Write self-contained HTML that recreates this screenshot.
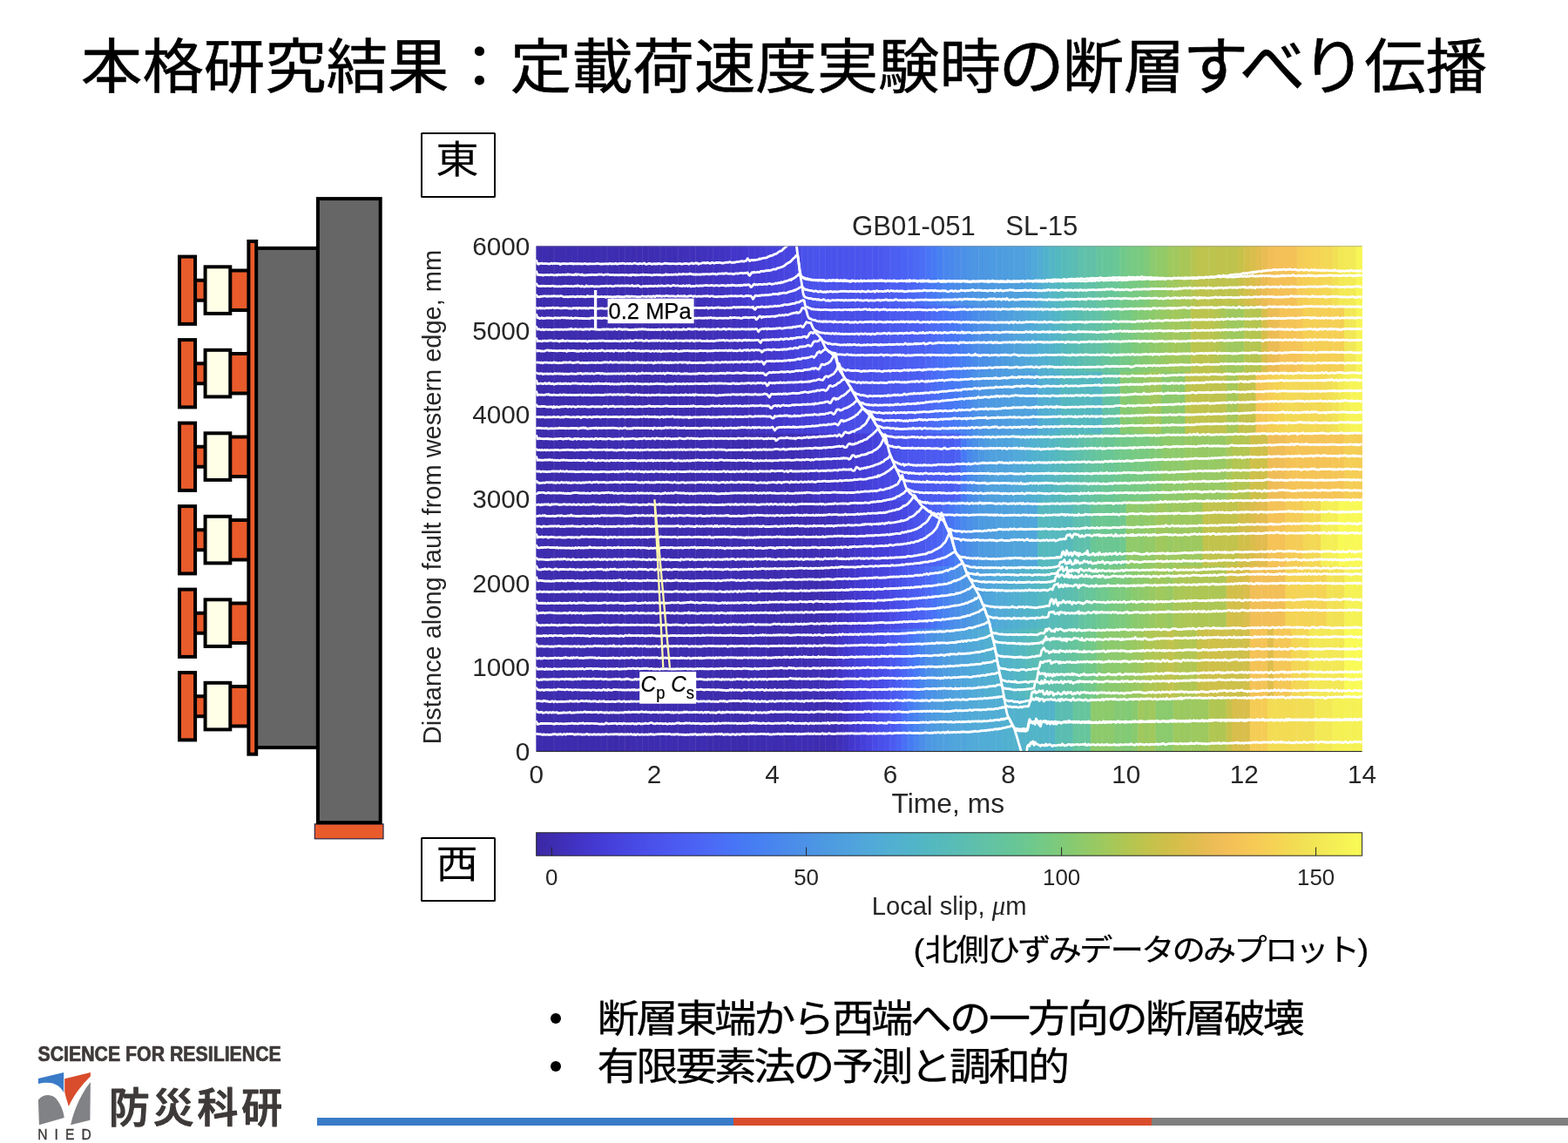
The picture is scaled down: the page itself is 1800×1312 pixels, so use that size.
<!DOCTYPE html>
<html lang="ja">
<head>
<meta charset="utf-8">
<title>本格研究結果：定載荷速度実験時の断層すべり伝播</title>
<style>
html,body{margin:0;padding:0;background:#fff;}
body{width:1800px;height:1312px;position:relative;overflow:hidden;font-family:"Liberation Sans","Noto Sans CJK JP",sans-serif;color:#000;}
.abs{position:absolute;white-space:nowrap;}
#title{left:0;top:24.4px;width:1800px;text-align:center;font-size:67.7px;line-height:104px;letter-spacing:0;transform:scaleX(1.04);transform-origin:899.5px 50%;-webkit-text-stroke:0.55px #000;}
.dirbox{border:2px solid #000;border-radius:1.5px;box-sizing:border-box;width:86px;height:75px;font-size:48px;line-height:66px;text-align:center;background:#fff;}
#east{left:483px;top:152px;}
#west{left:483px;top:961px;height:74px;line-height:65px;}
#title .k{font-size:73px;letter-spacing:-5.3px;margin-left:-2.6px;margin-right:2.7px;position:relative;top:1px;}
#caption{-webkit-text-stroke:0.25px #000;left:1048.5px;top:1063px;font-size:38.5px;line-height:56px;letter-spacing:-3.05px;transform:scaleY(0.93);transform-origin:0 50%;}
#bullets{left:620px;top:1141px;font-size:45px;line-height:55px;}
#bullets .bl{-webkit-text-stroke:0.3px #000;padding-left:65.5px;font-size:48px;letter-spacing:-3.05px;height:55px;transform:translateY(1.5px) scaleY(0.935);transform-origin:0 50%;}
#bullets .b{position:absolute;left:11.5px;width:12.5px;height:12.5px;border-radius:50%;background:#000;}
#bar{left:364px;top:1283px;height:9px;width:1436px;}
#bar i{position:absolute;top:0;height:100%;display:block;}
#logo{left:0;top:1190px;width:340px;height:122px;color:#3c3c3c;}
svg{position:absolute;left:0;top:0;overflow:visible;}
svg text{font-family:"Liberation Sans","Noto Sans CJK JP",sans-serif;}
.tr path{fill:none;stroke:#fff;stroke-width:2.8px;stroke-linejoin:round;stroke-linecap:round;vector-effect:non-scaling-stroke;}
</style>
</head>
<body>
<div id="title" class="abs">本格研究結果：定載荷速度実験時<span class="k">の</span>断層<span class="k">すべり</span>伝播</div>
<div id="east" class="abs dirbox"><span style="display:inline-block;transform:translate(-1.1px,-2.9px) scale(1.037,0.923)">東</span></div>
<div id="west" class="abs dirbox"><span style="display:inline-block;transform:translate(-1.3px,-2.8px) scale(1.007,0.94)">西</span></div>
<svg width="1800" height="1312" viewBox="0 0 1800 1312" style="pointer-events:none"><rect x="224.00" y="321.70" width="12.00" height="23.00" fill="#e95b2b"/><path d="M224.00 321.70H236.00M224.00 344.70H236.00" stroke="#000" stroke-width="4" fill="none"/><rect x="264.00" y="310.60" width="21.50" height="45.40" fill="#e95b2b"/><path d="M264.00 310.60H285.50M264.00 356.00H285.50" stroke="#000" stroke-width="4" fill="none"/><rect x="206.00" y="294.60" width="18.10" height="77.30" fill="#e95b2b" stroke="#000" stroke-width="4"/><rect x="235.60" y="306.30" width="28.70" height="53.60" fill="#ffffe8" stroke="#000" stroke-width="4"/><rect x="224.00" y="417.20" width="12.00" height="23.00" fill="#e95b2b"/><path d="M224.00 417.20H236.00M224.00 440.20H236.00" stroke="#000" stroke-width="4" fill="none"/><rect x="264.00" y="406.10" width="21.50" height="45.40" fill="#e95b2b"/><path d="M264.00 406.10H285.50M264.00 451.50H285.50" stroke="#000" stroke-width="4" fill="none"/><rect x="206.00" y="390.10" width="18.10" height="77.30" fill="#e95b2b" stroke="#000" stroke-width="4"/><rect x="235.60" y="401.80" width="28.70" height="53.60" fill="#ffffe8" stroke="#000" stroke-width="4"/><rect x="224.00" y="512.70" width="12.00" height="23.00" fill="#e95b2b"/><path d="M224.00 512.70H236.00M224.00 535.70H236.00" stroke="#000" stroke-width="4" fill="none"/><rect x="264.00" y="501.60" width="21.50" height="45.40" fill="#e95b2b"/><path d="M264.00 501.60H285.50M264.00 547.00H285.50" stroke="#000" stroke-width="4" fill="none"/><rect x="206.00" y="485.60" width="18.10" height="77.30" fill="#e95b2b" stroke="#000" stroke-width="4"/><rect x="235.60" y="497.30" width="28.70" height="53.60" fill="#ffffe8" stroke="#000" stroke-width="4"/><rect x="224.00" y="608.20" width="12.00" height="23.00" fill="#e95b2b"/><path d="M224.00 608.20H236.00M224.00 631.20H236.00" stroke="#000" stroke-width="4" fill="none"/><rect x="264.00" y="597.10" width="21.50" height="45.40" fill="#e95b2b"/><path d="M264.00 597.10H285.50M264.00 642.50H285.50" stroke="#000" stroke-width="4" fill="none"/><rect x="206.00" y="581.10" width="18.10" height="77.30" fill="#e95b2b" stroke="#000" stroke-width="4"/><rect x="235.60" y="592.80" width="28.70" height="53.60" fill="#ffffe8" stroke="#000" stroke-width="4"/><rect x="224.00" y="703.70" width="12.00" height="23.00" fill="#e95b2b"/><path d="M224.00 703.70H236.00M224.00 726.70H236.00" stroke="#000" stroke-width="4" fill="none"/><rect x="264.00" y="692.60" width="21.50" height="45.40" fill="#e95b2b"/><path d="M264.00 692.60H285.50M264.00 738.00H285.50" stroke="#000" stroke-width="4" fill="none"/><rect x="206.00" y="676.60" width="18.10" height="77.30" fill="#e95b2b" stroke="#000" stroke-width="4"/><rect x="235.60" y="688.30" width="28.70" height="53.60" fill="#ffffe8" stroke="#000" stroke-width="4"/><rect x="224.00" y="799.20" width="12.00" height="23.00" fill="#e95b2b"/><path d="M224.00 799.20H236.00M224.00 822.20H236.00" stroke="#000" stroke-width="4" fill="none"/><rect x="264.00" y="788.10" width="21.50" height="45.40" fill="#e95b2b"/><path d="M264.00 788.10H285.50M264.00 833.50H285.50" stroke="#000" stroke-width="4" fill="none"/><rect x="206.00" y="772.10" width="18.10" height="77.30" fill="#e95b2b" stroke="#000" stroke-width="4"/><rect x="235.60" y="783.80" width="28.70" height="53.60" fill="#ffffe8" stroke="#000" stroke-width="4"/><rect x="293.20" y="284.90" width="71.70" height="573.20" fill="#666666" stroke="#000" stroke-width="4"/><rect x="285.40" y="277.00" width="8.80" height="588.70" fill="#e95b2b" stroke="#000" stroke-width="4"/><rect x="361.30" y="945.90" width="78.70" height="16.90" fill="#e95b2b" stroke="#2b2340" stroke-width="1.2"/><rect x="364.90" y="228.10" width="71.80" height="716.10" fill="#666666" stroke="#000" stroke-width="4"/></svg>
<svg width="1800" height="1312" viewBox="0 0 1800 1312"><defs><linearGradient id="hb0" gradientUnits="userSpaceOnUse" x1="615.7" y1="0" x2="1563.6" y2="0"><stop offset="0" stop-color="#3d2bae"/><stop offset="0.02128" stop-color="#3d2baf"/><stop offset="0.04255" stop-color="#3d2caf"/><stop offset="0.06383" stop-color="#3d2cb0"/><stop offset="0.08511" stop-color="#3d2cb0"/><stop offset="0.1064" stop-color="#3e2db2"/><stop offset="0.1277" stop-color="#3e2eb4"/><stop offset="0.1489" stop-color="#3e2eb6"/><stop offset="0.1702" stop-color="#3f2fb8"/><stop offset="0.1915" stop-color="#3f30ba"/><stop offset="0.2128" stop-color="#4132c1"/><stop offset="0.234" stop-color="#4236c9"/><stop offset="0.2553" stop-color="#4339d0"/><stop offset="0.2766" stop-color="#453dd7"/><stop offset="0.2979" stop-color="#4643de"/><stop offset="0.3191" stop-color="#484be6"/><stop offset="0.3404" stop-color="#4a53ec"/><stop offset="0.3617" stop-color="#4a54ed"/><stop offset="0.383" stop-color="#4a55ed"/><stop offset="0.4043" stop-color="#4a56ee"/><stop offset="0.4255" stop-color="#4b5bf1"/><stop offset="0.4468" stop-color="#4b63f4"/><stop offset="0.4681" stop-color="#496ff6"/><stop offset="0.4894" stop-color="#4780f2"/><stop offset="0.5106" stop-color="#4a8dea"/><stop offset="0.5319" stop-color="#4c95e4"/><stop offset="0.5532" stop-color="#4d9be0"/><stop offset="0.5745" stop-color="#4e9edf"/><stop offset="0.5957" stop-color="#50a5db"/><stop offset="0.617" stop-color="#52b2cd"/><stop offset="0.6383" stop-color="#56babc"/><stop offset="0.6596" stop-color="#5dbfaf"/><stop offset="0.6809" stop-color="#62c2a3"/><stop offset="0.7021" stop-color="#6ac794"/><stop offset="0.7234" stop-color="#7aca7e"/><stop offset="0.7447" stop-color="#89ca6f"/><stop offset="0.766" stop-color="#9dc95f"/><stop offset="0.7872" stop-color="#a7c758"/><stop offset="0.8085" stop-color="#bec34d"/><stop offset="0.8298" stop-color="#bec34d"/><stop offset="0.8511" stop-color="#c3c24b"/><stop offset="0.8723" stop-color="#debd4c"/><stop offset="0.8936" stop-color="#f4c057"/><stop offset="0.9149" stop-color="#f4c157"/><stop offset="0.9362" stop-color="#f5d054"/><stop offset="0.9574" stop-color="#f4d854"/><stop offset="0.9787" stop-color="#f3e955"/><stop offset="1" stop-color="#f7f556"/></linearGradient><linearGradient id="hb1" gradientUnits="userSpaceOnUse" x1="615.7" y1="0" x2="1563.6" y2="0"><stop offset="0" stop-color="#3d2bae"/><stop offset="0.02128" stop-color="#3d2bae"/><stop offset="0.04255" stop-color="#3d2baf"/><stop offset="0.06383" stop-color="#3d2caf"/><stop offset="0.08511" stop-color="#3d2caf"/><stop offset="0.1064" stop-color="#3d2caf"/><stop offset="0.1277" stop-color="#3d2cb0"/><stop offset="0.1489" stop-color="#3d2cb0"/><stop offset="0.1702" stop-color="#3d2cb0"/><stop offset="0.1915" stop-color="#3e2db4"/><stop offset="0.2128" stop-color="#3f2fb8"/><stop offset="0.234" stop-color="#4031bc"/><stop offset="0.2553" stop-color="#4032c1"/><stop offset="0.2766" stop-color="#4236ca"/><stop offset="0.2979" stop-color="#443ad3"/><stop offset="0.3191" stop-color="#4642dd"/><stop offset="0.3404" stop-color="#4849e5"/><stop offset="0.3617" stop-color="#494ce7"/><stop offset="0.383" stop-color="#494fe9"/><stop offset="0.4043" stop-color="#4a52eb"/><stop offset="0.4255" stop-color="#4a57ee"/><stop offset="0.4468" stop-color="#4b5cf1"/><stop offset="0.4681" stop-color="#4b60f3"/><stop offset="0.4894" stop-color="#4a6ff6"/><stop offset="0.5106" stop-color="#4778f4"/><stop offset="0.5319" stop-color="#4a8beb"/><stop offset="0.5532" stop-color="#4c96e3"/><stop offset="0.5745" stop-color="#4e9fde"/><stop offset="0.5957" stop-color="#50a8d9"/><stop offset="0.617" stop-color="#51b1ce"/><stop offset="0.6383" stop-color="#54b8c0"/><stop offset="0.6596" stop-color="#5bbeb1"/><stop offset="0.6809" stop-color="#63c3a2"/><stop offset="0.7021" stop-color="#6cc890"/><stop offset="0.7234" stop-color="#7bca7d"/><stop offset="0.7447" stop-color="#8aca6e"/><stop offset="0.766" stop-color="#99c962"/><stop offset="0.7872" stop-color="#9ac961"/><stop offset="0.8085" stop-color="#bbc44e"/><stop offset="0.8298" stop-color="#abc755"/><stop offset="0.8511" stop-color="#9dc95f"/><stop offset="0.8723" stop-color="#b4c551"/><stop offset="0.8936" stop-color="#ebbc54"/><stop offset="0.9149" stop-color="#f5c356"/><stop offset="0.9362" stop-color="#f5d054"/><stop offset="0.9574" stop-color="#f5d054"/><stop offset="0.9787" stop-color="#f2e354"/><stop offset="1" stop-color="#f7f556"/></linearGradient><linearGradient id="hb2" gradientUnits="userSpaceOnUse" x1="615.7" y1="0" x2="1563.6" y2="0"><stop offset="0" stop-color="#3d2bae"/><stop offset="0.02128" stop-color="#3d2bae"/><stop offset="0.04255" stop-color="#3d2baf"/><stop offset="0.06383" stop-color="#3d2caf"/><stop offset="0.08511" stop-color="#3d2caf"/><stop offset="0.1064" stop-color="#3d2caf"/><stop offset="0.1277" stop-color="#3d2cb0"/><stop offset="0.1489" stop-color="#3d2cb0"/><stop offset="0.1702" stop-color="#3d2cb0"/><stop offset="0.1915" stop-color="#3d2cb0"/><stop offset="0.2128" stop-color="#3e2db3"/><stop offset="0.234" stop-color="#3e2fb7"/><stop offset="0.2553" stop-color="#3f30ba"/><stop offset="0.2766" stop-color="#4133c4"/><stop offset="0.2979" stop-color="#4337cd"/><stop offset="0.3191" stop-color="#443cd5"/><stop offset="0.3404" stop-color="#4641dc"/><stop offset="0.3617" stop-color="#4746e2"/><stop offset="0.383" stop-color="#484ce6"/><stop offset="0.4043" stop-color="#4951ea"/><stop offset="0.4255" stop-color="#4a56ee"/><stop offset="0.4468" stop-color="#4b59f0"/><stop offset="0.4681" stop-color="#4b60f3"/><stop offset="0.4894" stop-color="#4872f6"/><stop offset="0.5106" stop-color="#467cf3"/><stop offset="0.5319" stop-color="#4b90e7"/><stop offset="0.5532" stop-color="#4d99e1"/><stop offset="0.5745" stop-color="#4e9edf"/><stop offset="0.5957" stop-color="#4fa1de"/><stop offset="0.617" stop-color="#51afd1"/><stop offset="0.6383" stop-color="#54b8c0"/><stop offset="0.6596" stop-color="#55b9be"/><stop offset="0.6809" stop-color="#53b6c5"/><stop offset="0.7021" stop-color="#64c3a0"/><stop offset="0.7234" stop-color="#86ca72"/><stop offset="0.7447" stop-color="#93ca67"/><stop offset="0.766" stop-color="#8dca6b"/><stop offset="0.7872" stop-color="#8dca6b"/><stop offset="0.8085" stop-color="#c1c34c"/><stop offset="0.8298" stop-color="#c1c34c"/><stop offset="0.8511" stop-color="#c1c34c"/><stop offset="0.8723" stop-color="#f0bd57"/><stop offset="0.8936" stop-color="#f5d054"/><stop offset="0.9149" stop-color="#f4d854"/><stop offset="0.9362" stop-color="#f3d854"/><stop offset="0.9574" stop-color="#f3db54"/><stop offset="0.9787" stop-color="#f4ed55"/><stop offset="1" stop-color="#f7f556"/></linearGradient><linearGradient id="hb3" gradientUnits="userSpaceOnUse" x1="615.7" y1="0" x2="1563.6" y2="0"><stop offset="0" stop-color="#3d2bae"/><stop offset="0.02128" stop-color="#3d2bae"/><stop offset="0.04255" stop-color="#3d2baf"/><stop offset="0.06383" stop-color="#3d2baf"/><stop offset="0.08511" stop-color="#3d2caf"/><stop offset="0.1064" stop-color="#3d2caf"/><stop offset="0.1277" stop-color="#3d2caf"/><stop offset="0.1489" stop-color="#3d2caf"/><stop offset="0.1702" stop-color="#3d2cb0"/><stop offset="0.1915" stop-color="#3d2cb0"/><stop offset="0.2128" stop-color="#3d2cb0"/><stop offset="0.234" stop-color="#3d2cb0"/><stop offset="0.2553" stop-color="#3d2cb0"/><stop offset="0.2766" stop-color="#3d2db1"/><stop offset="0.2979" stop-color="#3e2db3"/><stop offset="0.3191" stop-color="#3e2eb6"/><stop offset="0.3404" stop-color="#4032c0"/><stop offset="0.3617" stop-color="#4235c8"/><stop offset="0.383" stop-color="#4339cf"/><stop offset="0.4043" stop-color="#453fda"/><stop offset="0.4255" stop-color="#4849e4"/><stop offset="0.4468" stop-color="#4a54ed"/><stop offset="0.4681" stop-color="#4b58ef"/><stop offset="0.4894" stop-color="#4b5bf1"/><stop offset="0.5106" stop-color="#4b63f4"/><stop offset="0.5319" stop-color="#4b8fe8"/><stop offset="0.5532" stop-color="#4fa0de"/><stop offset="0.5745" stop-color="#50a5db"/><stop offset="0.5957" stop-color="#51aed3"/><stop offset="0.617" stop-color="#52b5c7"/><stop offset="0.6383" stop-color="#57bbb9"/><stop offset="0.6596" stop-color="#5fc0aa"/><stop offset="0.6809" stop-color="#66c59c"/><stop offset="0.7021" stop-color="#6ec88e"/><stop offset="0.7234" stop-color="#7aca7f"/><stop offset="0.7447" stop-color="#86ca72"/><stop offset="0.766" stop-color="#93ca67"/><stop offset="0.7872" stop-color="#97c964"/><stop offset="0.8085" stop-color="#97c964"/><stop offset="0.8298" stop-color="#97c964"/><stop offset="0.8511" stop-color="#b1c652"/><stop offset="0.8723" stop-color="#d0bf4a"/><stop offset="0.8936" stop-color="#efbd57"/><stop offset="0.9149" stop-color="#f5c356"/><stop offset="0.9362" stop-color="#f5c456"/><stop offset="0.9574" stop-color="#f5c456"/><stop offset="0.9787" stop-color="#f5cd55"/><stop offset="1" stop-color="#f5ce54"/></linearGradient><linearGradient id="hb4" gradientUnits="userSpaceOnUse" x1="615.7" y1="0" x2="1563.6" y2="0"><stop offset="0" stop-color="#3d2bae"/><stop offset="0.02128" stop-color="#3d2bae"/><stop offset="0.04255" stop-color="#3d2baf"/><stop offset="0.06383" stop-color="#3d2baf"/><stop offset="0.08511" stop-color="#3d2caf"/><stop offset="0.1064" stop-color="#3d2caf"/><stop offset="0.1277" stop-color="#3d2caf"/><stop offset="0.1489" stop-color="#3d2caf"/><stop offset="0.1702" stop-color="#3d2caf"/><stop offset="0.1915" stop-color="#3d2cb0"/><stop offset="0.2128" stop-color="#3d2cb0"/><stop offset="0.234" stop-color="#3d2cb0"/><stop offset="0.2553" stop-color="#3d2cb0"/><stop offset="0.2766" stop-color="#3d2cb0"/><stop offset="0.2979" stop-color="#3d2cb0"/><stop offset="0.3191" stop-color="#3d2cb0"/><stop offset="0.3404" stop-color="#3e2db4"/><stop offset="0.3617" stop-color="#3f30ba"/><stop offset="0.383" stop-color="#4134c5"/><stop offset="0.4043" stop-color="#4339d0"/><stop offset="0.4255" stop-color="#453fda"/><stop offset="0.4468" stop-color="#484ae5"/><stop offset="0.4681" stop-color="#4b57ef"/><stop offset="0.4894" stop-color="#4b66f4"/><stop offset="0.5106" stop-color="#477ff2"/><stop offset="0.5319" stop-color="#4c95e4"/><stop offset="0.5532" stop-color="#4e9fdf"/><stop offset="0.5745" stop-color="#4fa3dd"/><stop offset="0.5957" stop-color="#4fa4dc"/><stop offset="0.617" stop-color="#54b8bf"/><stop offset="0.6383" stop-color="#55b9be"/><stop offset="0.6596" stop-color="#5fc0ab"/><stop offset="0.6809" stop-color="#6ac793"/><stop offset="0.7021" stop-color="#6bc792"/><stop offset="0.7234" stop-color="#8bca6d"/><stop offset="0.7447" stop-color="#8dca6b"/><stop offset="0.766" stop-color="#9fc95e"/><stop offset="0.7872" stop-color="#a1c85c"/><stop offset="0.8085" stop-color="#b6c550"/><stop offset="0.8298" stop-color="#c1c34c"/><stop offset="0.8511" stop-color="#d3bf4a"/><stop offset="0.8723" stop-color="#e3bc4f"/><stop offset="0.8936" stop-color="#f5c356"/><stop offset="0.9149" stop-color="#f5cc55"/><stop offset="0.9362" stop-color="#f4d754"/><stop offset="0.9574" stop-color="#f5f055"/><stop offset="0.9787" stop-color="#f9f956"/><stop offset="1" stop-color="#f9f956"/></linearGradient><linearGradient id="hb5" gradientUnits="userSpaceOnUse" x1="615.7" y1="0" x2="1563.6" y2="0"><stop offset="0" stop-color="#3d2bae"/><stop offset="0.02128" stop-color="#3d2bae"/><stop offset="0.04255" stop-color="#3d2baf"/><stop offset="0.06383" stop-color="#3d2baf"/><stop offset="0.08511" stop-color="#3d2caf"/><stop offset="0.1064" stop-color="#3d2caf"/><stop offset="0.1277" stop-color="#3d2caf"/><stop offset="0.1489" stop-color="#3d2caf"/><stop offset="0.1702" stop-color="#3d2caf"/><stop offset="0.1915" stop-color="#3d2cb0"/><stop offset="0.2128" stop-color="#3d2cb0"/><stop offset="0.234" stop-color="#3d2cb0"/><stop offset="0.2553" stop-color="#3d2cb0"/><stop offset="0.2766" stop-color="#3d2cb0"/><stop offset="0.2979" stop-color="#3d2cb0"/><stop offset="0.3191" stop-color="#3d2cb0"/><stop offset="0.3404" stop-color="#3d2cb0"/><stop offset="0.3617" stop-color="#4031bd"/><stop offset="0.383" stop-color="#4236ca"/><stop offset="0.4043" stop-color="#453ed8"/><stop offset="0.4255" stop-color="#4746e2"/><stop offset="0.4468" stop-color="#4a54ed"/><stop offset="0.4681" stop-color="#4b62f3"/><stop offset="0.4894" stop-color="#467cf3"/><stop offset="0.5106" stop-color="#4b90e7"/><stop offset="0.5319" stop-color="#4e9edf"/><stop offset="0.5532" stop-color="#50a6db"/><stop offset="0.5745" stop-color="#51add4"/><stop offset="0.5957" stop-color="#52b3cb"/><stop offset="0.617" stop-color="#54b8c0"/><stop offset="0.6383" stop-color="#5abdb3"/><stop offset="0.6596" stop-color="#62c2a5"/><stop offset="0.6809" stop-color="#6ac794"/><stop offset="0.7021" stop-color="#77ca82"/><stop offset="0.7234" stop-color="#86ca71"/><stop offset="0.7447" stop-color="#94ca66"/><stop offset="0.766" stop-color="#a0c85d"/><stop offset="0.7872" stop-color="#aec654"/><stop offset="0.8085" stop-color="#aec654"/><stop offset="0.8298" stop-color="#aec654"/><stop offset="0.8511" stop-color="#d3bf4a"/><stop offset="0.8723" stop-color="#f2bf57"/><stop offset="0.8936" stop-color="#f2bf57"/><stop offset="0.9149" stop-color="#f5d354"/><stop offset="0.9362" stop-color="#f5d354"/><stop offset="0.9574" stop-color="#f2e154"/><stop offset="0.9787" stop-color="#f3e955"/><stop offset="1" stop-color="#f5f255"/></linearGradient><linearGradient id="hb6" gradientUnits="userSpaceOnUse" x1="615.7" y1="0" x2="1563.6" y2="0"><stop offset="0" stop-color="#3d2bae"/><stop offset="0.02128" stop-color="#3d2bae"/><stop offset="0.04255" stop-color="#3d2baf"/><stop offset="0.06383" stop-color="#3d2baf"/><stop offset="0.08511" stop-color="#3d2caf"/><stop offset="0.1064" stop-color="#3d2caf"/><stop offset="0.1277" stop-color="#3d2caf"/><stop offset="0.1489" stop-color="#3d2caf"/><stop offset="0.1702" stop-color="#3d2caf"/><stop offset="0.1915" stop-color="#3d2cb0"/><stop offset="0.2128" stop-color="#3d2cb0"/><stop offset="0.234" stop-color="#3d2cb0"/><stop offset="0.2553" stop-color="#3d2cb0"/><stop offset="0.2766" stop-color="#3d2cb0"/><stop offset="0.2979" stop-color="#3d2cb0"/><stop offset="0.3191" stop-color="#3e2db3"/><stop offset="0.3404" stop-color="#3e2eb5"/><stop offset="0.3617" stop-color="#4032bf"/><stop offset="0.383" stop-color="#453cd6"/><stop offset="0.4043" stop-color="#4747e3"/><stop offset="0.4255" stop-color="#4a52ec"/><stop offset="0.4468" stop-color="#4b68f5"/><stop offset="0.4681" stop-color="#4885ef"/><stop offset="0.4894" stop-color="#4d98e2"/><stop offset="0.5106" stop-color="#4fa3dd"/><stop offset="0.5319" stop-color="#51aad8"/><stop offset="0.5532" stop-color="#51afd1"/><stop offset="0.5745" stop-color="#52b4c9"/><stop offset="0.5957" stop-color="#55b9bd"/><stop offset="0.617" stop-color="#5cbeb1"/><stop offset="0.6383" stop-color="#63c3a3"/><stop offset="0.6596" stop-color="#6ac793"/><stop offset="0.6809" stop-color="#7aca7f"/><stop offset="0.7021" stop-color="#8aca6e"/><stop offset="0.7234" stop-color="#9ac961"/><stop offset="0.7447" stop-color="#a4c85a"/><stop offset="0.766" stop-color="#adc654"/><stop offset="0.7872" stop-color="#b1c652"/><stop offset="0.8085" stop-color="#cdc04a"/><stop offset="0.8298" stop-color="#cdc04a"/><stop offset="0.8511" stop-color="#cdc04a"/><stop offset="0.8723" stop-color="#f5c356"/><stop offset="0.8936" stop-color="#f5c456"/><stop offset="0.9149" stop-color="#f4d754"/><stop offset="0.9362" stop-color="#f4d854"/><stop offset="0.9574" stop-color="#f3e855"/><stop offset="0.9787" stop-color="#f5f155"/><stop offset="1" stop-color="#f9fb56"/></linearGradient><linearGradient id="hb7" gradientUnits="userSpaceOnUse" x1="615.7" y1="0" x2="1563.6" y2="0"><stop offset="0" stop-color="#3d2bae"/><stop offset="0.02128" stop-color="#3d2bae"/><stop offset="0.04255" stop-color="#3d2baf"/><stop offset="0.06383" stop-color="#3d2baf"/><stop offset="0.08511" stop-color="#3d2caf"/><stop offset="0.1064" stop-color="#3d2caf"/><stop offset="0.1277" stop-color="#3d2caf"/><stop offset="0.1489" stop-color="#3d2caf"/><stop offset="0.1702" stop-color="#3d2caf"/><stop offset="0.1915" stop-color="#3d2cb0"/><stop offset="0.2128" stop-color="#3d2cb0"/><stop offset="0.234" stop-color="#3d2cb0"/><stop offset="0.2553" stop-color="#3d2cb0"/><stop offset="0.2766" stop-color="#3d2cb0"/><stop offset="0.2979" stop-color="#3d2cb0"/><stop offset="0.3191" stop-color="#3d2cb0"/><stop offset="0.3404" stop-color="#3d2cb0"/><stop offset="0.3617" stop-color="#3d2cb0"/><stop offset="0.383" stop-color="#4337cd"/><stop offset="0.4043" stop-color="#4745e0"/><stop offset="0.4255" stop-color="#4a54ec"/><stop offset="0.4468" stop-color="#4971f6"/><stop offset="0.4681" stop-color="#4b8fe8"/><stop offset="0.4894" stop-color="#4e9ddf"/><stop offset="0.5106" stop-color="#50a4dc"/><stop offset="0.5319" stop-color="#51aad8"/><stop offset="0.5532" stop-color="#51aed3"/><stop offset="0.5745" stop-color="#51b1ce"/><stop offset="0.5957" stop-color="#52b4c9"/><stop offset="0.617" stop-color="#52b5c7"/><stop offset="0.6383" stop-color="#5cbeb0"/><stop offset="0.6596" stop-color="#66c59c"/><stop offset="0.6809" stop-color="#8aca6e"/><stop offset="0.7021" stop-color="#8aca6e"/><stop offset="0.7234" stop-color="#8aca6e"/><stop offset="0.7447" stop-color="#a1c85c"/><stop offset="0.766" stop-color="#8dca6b"/><stop offset="0.7872" stop-color="#9dc95f"/><stop offset="0.8085" stop-color="#9dc95f"/><stop offset="0.8298" stop-color="#b1c652"/><stop offset="0.8511" stop-color="#d8be4b"/><stop offset="0.8723" stop-color="#f5cc55"/><stop offset="0.8936" stop-color="#f2dd54"/><stop offset="0.9149" stop-color="#f2dd54"/><stop offset="0.9362" stop-color="#f2dd54"/><stop offset="0.9574" stop-color="#f3e855"/><stop offset="0.9787" stop-color="#f5f255"/><stop offset="1" stop-color="#f5f255"/></linearGradient><linearGradient id="cbar" gradientUnits="userSpaceOnUse" x1="615.7" y1="0" x2="1563.6" y2="0"><stop offset="0" stop-color="#3a27a2"/><stop offset="0.01587" stop-color="#3d2bad"/><stop offset="0.03175" stop-color="#3f2fb8"/><stop offset="0.04762" stop-color="#4133c3"/><stop offset="0.06349" stop-color="#4337cd"/><stop offset="0.07937" stop-color="#443cd6"/><stop offset="0.09524" stop-color="#4641dd"/><stop offset="0.1111" stop-color="#4747e2"/><stop offset="0.127" stop-color="#494ce7"/><stop offset="0.1429" stop-color="#4a52eb"/><stop offset="0.1587" stop-color="#4b57ef"/><stop offset="0.1746" stop-color="#4b5df2"/><stop offset="0.1905" stop-color="#4b62f4"/><stop offset="0.2063" stop-color="#4b68f5"/><stop offset="0.2222" stop-color="#4a6ef6"/><stop offset="0.2381" stop-color="#4874f6"/><stop offset="0.254" stop-color="#467af4"/><stop offset="0.2698" stop-color="#4780f2"/><stop offset="0.2857" stop-color="#4885ef"/><stop offset="0.3016" stop-color="#4a8aeb"/><stop offset="0.3175" stop-color="#4b8fe8"/><stop offset="0.3333" stop-color="#4c94e5"/><stop offset="0.3492" stop-color="#4d99e1"/><stop offset="0.3651" stop-color="#4e9edf"/><stop offset="0.381" stop-color="#4fa2dd"/><stop offset="0.3968" stop-color="#50a7da"/><stop offset="0.4127" stop-color="#51abd7"/><stop offset="0.4286" stop-color="#51afd2"/><stop offset="0.4444" stop-color="#52b2cd"/><stop offset="0.4603" stop-color="#52b5c7"/><stop offset="0.4762" stop-color="#54b8c1"/><stop offset="0.4921" stop-color="#56babb"/><stop offset="0.5079" stop-color="#59bcb5"/><stop offset="0.5238" stop-color="#5dbfaf"/><stop offset="0.5397" stop-color="#60c1a8"/><stop offset="0.5556" stop-color="#63c3a2"/><stop offset="0.5714" stop-color="#66c59a"/><stop offset="0.5873" stop-color="#6ac793"/><stop offset="0.6032" stop-color="#70c98a"/><stop offset="0.619" stop-color="#77ca82"/><stop offset="0.6349" stop-color="#7fca79"/><stop offset="0.6508" stop-color="#88ca70"/><stop offset="0.6667" stop-color="#92ca68"/><stop offset="0.6825" stop-color="#9cc960"/><stop offset="0.6984" stop-color="#a6c858"/><stop offset="0.7143" stop-color="#b1c652"/><stop offset="0.7302" stop-color="#bbc44e"/><stop offset="0.746" stop-color="#c5c24b"/><stop offset="0.7619" stop-color="#cec049"/><stop offset="0.7778" stop-color="#d7be4a"/><stop offset="0.7937" stop-color="#dfbd4d"/><stop offset="0.8095" stop-color="#e7bc52"/><stop offset="0.8254" stop-color="#efbd57"/><stop offset="0.8413" stop-color="#f4c057"/><stop offset="0.8571" stop-color="#f5c656"/><stop offset="0.873" stop-color="#f6cb55"/><stop offset="0.8889" stop-color="#f5d154"/><stop offset="0.9048" stop-color="#f4d754"/><stop offset="0.9206" stop-color="#f2dd54"/><stop offset="0.9365" stop-color="#f2e354"/><stop offset="0.9524" stop-color="#f3e955"/><stop offset="0.9683" stop-color="#f4ef55"/><stop offset="0.9841" stop-color="#f7f556"/><stop offset="1" stop-color="#f9fb56"/></linearGradient><clipPath id="plotclip"><rect x="615.3" y="282.5" width="948.3" height="580"/></clipPath></defs><rect x="615.7" y="282.5" width="947.9" height="68.9" fill="url(#hb0)"/><rect x="615.7" y="351" width="947.9" height="76.4" fill="url(#hb1)"/><rect x="615.7" y="427" width="947.9" height="71.4" fill="url(#hb2)"/><rect x="615.7" y="498" width="947.9" height="77.4" fill="url(#hb3)"/><rect x="615.7" y="575" width="947.9" height="75.4" fill="url(#hb4)"/><rect x="615.7" y="650" width="947.9" height="72.4" fill="url(#hb5)"/><rect x="615.7" y="722" width="947.9" height="80.4" fill="url(#hb6)"/><rect x="615.7" y="802" width="947.9" height="60.5" fill="url(#hb7)"/><g stroke-width="68.75"><path d="M615.5 316.9H622.7" stroke="#3d2bae"/><path d="M622.3 316.9H629.4" stroke="#3d2cb0"/><path d="M629.0 316.9H636.2" stroke="#3d2bae"/><path d="M635.8 316.9H643.0" stroke="#3d2cb0"/><path d="M642.6 316.9H656.5" stroke="#3d2caf"/><path d="M656.1 316.9H663.3" stroke="#3d2db2"/><path d="M662.9 316.9H670.1" stroke="#3d2cb1"/><path d="M669.7 316.9H676.8" stroke="#3d2cb0"/><path d="M676.4 316.9H683.6" stroke="#3d2cb1"/><path d="M683.2 316.9H690.4" stroke="#3e2db2"/><path d="M690.0 316.9H697.1" stroke="#3d2db1"/><path d="M696.7 316.9H703.9" stroke="#3d2db2"/><path d="M703.5 316.9H717.5" stroke="#3d2cb1"/><path d="M717.1 316.9H724.2" stroke="#3d2db1"/><path d="M723.8 316.9H744.5" stroke="#3d2cb1"/><path d="M744.1 316.9H751.3" stroke="#3e2db2"/><path d="M750.9 316.9H758.1" stroke="#3e2eb4"/><path d="M757.7 316.9H764.9" stroke="#3e2eb5"/><path d="M764.5 316.9H778.4" stroke="#3e2eb6"/><path d="M778.0 316.9H785.2" stroke="#3f2fb7"/><path d="M784.8 316.9H791.9" stroke="#3f2fb9"/><path d="M791.5 316.9H798.7" stroke="#3f30bb"/><path d="M798.3 316.9H805.5" stroke="#3f30ba"/><path d="M805.1 316.9H812.3" stroke="#4031bd"/><path d="M811.9 316.9H819.0" stroke="#4031be"/><path d="M818.6 316.9H825.8" stroke="#4032c1"/><path d="M825.4 316.9H832.6" stroke="#4133c2"/><path d="M832.2 316.9H839.3" stroke="#4134c4"/><path d="M838.9 316.9H852.9" stroke="#4236ca"/><path d="M852.5 316.9H859.6" stroke="#4338cf"/><path d="M859.2 316.9H866.4" stroke="#443ad2"/><path d="M866.0 316.9H873.2" stroke="#443bd4"/><path d="M872.8 316.9H880.0" stroke="#453dd7"/><path d="M879.6 316.9H886.7" stroke="#453fda"/><path d="M886.3 316.9H893.5" stroke="#4641dd"/><path d="M893.1 316.9H900.3" stroke="#4643de"/><path d="M899.9 316.9H907.0" stroke="#4744df"/><path d="M906.6 316.9H913.8" stroke="#4745e1"/><path d="M913.4 316.9H920.6" stroke="#4849e4"/><path d="M920.2 316.9H927.4" stroke="#4951ea"/><path d="M927.0 316.9H934.1" stroke="#4a52eb"/><path d="M933.7 316.9H940.9" stroke="#4a53ec"/><path d="M940.5 316.9H961.2" stroke="#4a52ec"/><path d="M960.8 316.9H968.0" stroke="#4a52eb"/><path d="M967.6 316.9H974.7" stroke="#4a54ed"/><path d="M974.3 316.9H981.5" stroke="#4a53ec"/><path d="M981.1 316.9H995.1" stroke="#4a54ed"/><path d="M994.7 316.9H1001.8" stroke="#4a56ee"/><path d="M1001.4 316.9H1008.6" stroke="#4a55ed"/><path d="M1008.2 316.9H1015.4" stroke="#4b58ef"/><path d="M1015.0 316.9H1022.1" stroke="#4b5bf0"/><path d="M1021.7 316.9H1028.9" stroke="#4b5ef2"/><path d="M1028.5 316.9H1035.7" stroke="#4b60f3"/><path d="M1035.3 316.9H1042.5" stroke="#4b63f4"/><path d="M1042.1 316.9H1049.2" stroke="#4b65f4"/><path d="M1048.8 316.9H1056.0" stroke="#4b69f5"/><path d="M1055.6 316.9H1062.8" stroke="#4a6ff6"/><path d="M1062.4 316.9H1069.5" stroke="#4875f5"/><path d="M1069.1 316.9H1076.3" stroke="#4679f4"/><path d="M1075.9 316.9H1083.1" stroke="#4781f1"/><path d="M1082.7 316.9H1089.9" stroke="#4987ee"/><path d="M1089.5 316.9H1096.6" stroke="#4a8aec"/><path d="M1096.2 316.9H1103.4" stroke="#4b8de9"/><path d="M1103.0 316.9H1110.2" stroke="#4b90e7"/><path d="M1109.8 316.9H1116.9" stroke="#4c94e5"/><path d="M1116.5 316.9H1123.7" stroke="#4c96e3"/><path d="M1123.3 316.9H1130.5" stroke="#4c97e2"/><path d="M1130.1 316.9H1137.2" stroke="#4d99e1"/><path d="M1136.8 316.9H1144.0" stroke="#4d9be1"/><path d="M1143.6 316.9H1150.8" stroke="#4e9ce0"/><path d="M1150.4 316.9H1157.6" stroke="#4e9de0"/><path d="M1157.2 316.9H1164.3" stroke="#4e9fde"/><path d="M1163.9 316.9H1177.9" stroke="#4fa0de"/><path d="M1177.5 316.9H1184.6" stroke="#4fa4dc"/><path d="M1184.2 316.9H1191.4" stroke="#50a8d9"/><path d="M1191.0 316.9H1198.2" stroke="#51add3"/><path d="M1197.8 316.9H1205.0" stroke="#52b2cd"/><path d="M1204.6 316.9H1211.7" stroke="#53b6c6"/><path d="M1211.3 316.9H1218.5" stroke="#54b8c0"/><path d="M1218.1 316.9H1225.3" stroke="#57bbba"/><path d="M1224.9 316.9H1232.0" stroke="#59bcb6"/><path d="M1231.6 316.9H1238.8" stroke="#5bbdb2"/><path d="M1238.4 316.9H1245.6" stroke="#5fc0ab"/><path d="M1245.2 316.9H1252.3" stroke="#61c1a8"/><path d="M1251.9 316.9H1259.1" stroke="#61c1a7"/><path d="M1258.7 316.9H1265.9" stroke="#65c49e"/><path d="M1265.5 316.9H1272.7" stroke="#67c59a"/><path d="M1272.3 316.9H1279.4" stroke="#67c699"/><path d="M1279.0 316.9H1286.2" stroke="#69c795"/><path d="M1285.8 316.9H1293.0" stroke="#70c98b"/><path d="M1292.6 316.9H1299.7" stroke="#74c985"/><path d="M1299.3 316.9H1306.5" stroke="#77ca82"/><path d="M1306.1 316.9H1313.3" stroke="#79ca7f"/><path d="M1312.9 316.9H1320.1" stroke="#7fca79"/><path d="M1319.7 316.9H1326.8" stroke="#8bca6e"/><path d="M1326.4 316.9H1333.6" stroke="#90ca69"/><path d="M1333.2 316.9H1340.4" stroke="#92ca68"/><path d="M1340.0 316.9H1347.1" stroke="#9dc95f"/><path d="M1346.7 316.9H1353.9" stroke="#a1c85c"/><path d="M1353.5 316.9H1360.7" stroke="#a8c757"/><path d="M1360.3 316.9H1367.4" stroke="#a9c757"/><path d="M1367.0 316.9H1374.2" stroke="#b5c550"/><path d="M1373.8 316.9H1387.8" stroke="#bec34d"/><path d="M1387.4 316.9H1394.5" stroke="#bdc44d"/><path d="M1394.1 316.9H1401.3" stroke="#bec34d"/><path d="M1400.9 316.9H1408.1" stroke="#bfc34c"/><path d="M1407.7 316.9H1421.6" stroke="#bec34d"/><path d="M1421.2 316.9H1428.4" stroke="#c7c14a"/><path d="M1428.0 316.9H1435.2" stroke="#d2bf4a"/><path d="M1434.8 316.9H1441.9" stroke="#d9be4b"/><path d="M1441.5 316.9H1448.7" stroke="#e1bc4e"/><path d="M1448.3 316.9H1455.5" stroke="#eabc53"/><path d="M1455.1 316.9H1462.2" stroke="#f1be57"/><path d="M1461.8 316.9H1469.0" stroke="#f4c057"/><path d="M1468.6 316.9H1489.3" stroke="#f4c157"/><path d="M1488.9 316.9H1496.1" stroke="#f5cc55"/><path d="M1495.7 316.9H1502.9" stroke="#f5cf54"/><path d="M1502.5 316.9H1509.6" stroke="#f5d254"/><path d="M1509.2 316.9H1516.4" stroke="#f5d354"/><path d="M1516.0 316.9H1523.2" stroke="#f4d754"/><path d="M1522.8 316.9H1529.9" stroke="#f4d854"/><path d="M1529.5 316.9H1536.7" stroke="#f2e054"/><path d="M1536.3 316.9H1543.5" stroke="#f3e855"/><path d="M1543.1 316.9H1550.3" stroke="#f3ea55"/><path d="M1549.9 316.9H1557.0" stroke="#f3eb55"/><path d="M1556.6 316.9H1563.8" stroke="#f7f656"/></g><g stroke-width="76.50"><path d="M615.5 389.0H629.4" stroke="#3d2bae"/><path d="M629.0 389.0H643.0" stroke="#3c2bac"/><path d="M642.6 389.0H649.8" stroke="#3d2bad"/><path d="M649.4 389.0H656.5" stroke="#3d2baf"/><path d="M656.1 389.0H663.3" stroke="#3d2caf"/><path d="M662.9 389.0H670.1" stroke="#3d2bae"/><path d="M669.7 389.0H676.8" stroke="#3d2caf"/><path d="M676.4 389.0H690.4" stroke="#3d2cb0"/><path d="M690.0 389.0H697.1" stroke="#3d2caf"/><path d="M696.7 389.0H703.9" stroke="#3d2baf"/><path d="M703.5 389.0H717.5" stroke="#3d2cb0"/><path d="M717.1 389.0H724.2" stroke="#3d2caf"/><path d="M723.8 389.0H731.0" stroke="#3d2cb0"/><path d="M730.6 389.0H737.8" stroke="#3d2caf"/><path d="M737.4 389.0H744.5" stroke="#3d2baf"/><path d="M744.1 389.0H751.3" stroke="#3d2cb1"/><path d="M750.9 389.0H758.1" stroke="#3d2db1"/><path d="M757.7 389.0H771.6" stroke="#3d2cb0"/><path d="M771.2 389.0H778.4" stroke="#3d2cb1"/><path d="M778.0 389.0H785.2" stroke="#3d2cb0"/><path d="M784.8 389.0H791.9" stroke="#3d2db2"/><path d="M791.5 389.0H798.7" stroke="#3e2eb4"/><path d="M798.3 389.0H805.5" stroke="#3e2db3"/><path d="M805.1 389.0H812.3" stroke="#3e2eb6"/><path d="M811.9 389.0H819.0" stroke="#3f2fb8"/><path d="M818.6 389.0H832.6" stroke="#3f30ba"/><path d="M832.2 389.0H839.3" stroke="#3f30bc"/><path d="M838.9 389.0H846.1" stroke="#4031bc"/><path d="M845.7 389.0H852.9" stroke="#4032bf"/><path d="M852.5 389.0H859.6" stroke="#4032c1"/><path d="M859.2 389.0H866.4" stroke="#4133c3"/><path d="M866.0 389.0H873.2" stroke="#4134c5"/><path d="M872.8 389.0H880.0" stroke="#4235c8"/><path d="M879.6 389.0H886.7" stroke="#4337cd"/><path d="M886.3 389.0H893.5" stroke="#4338cf"/><path d="M893.1 389.0H900.3" stroke="#443ad2"/><path d="M899.9 389.0H907.0" stroke="#443cd6"/><path d="M906.6 389.0H913.8" stroke="#453fd9"/><path d="M913.4 389.0H920.6" stroke="#4643de"/><path d="M920.2 389.0H927.4" stroke="#4745e0"/><path d="M927.0 389.0H934.1" stroke="#4848e4"/><path d="M933.7 389.0H947.7" stroke="#4849e4"/><path d="M947.3 389.0H954.4" stroke="#484be6"/><path d="M954.0 389.0H961.2" stroke="#494de7"/><path d="M960.8 389.0H968.0" stroke="#494de8"/><path d="M967.6 389.0H981.5" stroke="#494ee8"/><path d="M981.1 389.0H995.1" stroke="#494fe9"/><path d="M994.7 389.0H1001.8" stroke="#4951ea"/><path d="M1001.4 389.0H1008.6" stroke="#4a52ec"/><path d="M1008.2 389.0H1015.4" stroke="#4a54ed"/><path d="M1015.0 389.0H1022.1" stroke="#4a57ee"/><path d="M1021.7 389.0H1028.9" stroke="#4b58ef"/><path d="M1028.5 389.0H1035.7" stroke="#4b5bf0"/><path d="M1035.3 389.0H1042.5" stroke="#4b5cf1"/><path d="M1042.1 389.0H1049.2" stroke="#4b5df2"/><path d="M1048.8 389.0H1062.8" stroke="#4b60f3"/><path d="M1062.4 389.0H1069.5" stroke="#4b66f4"/><path d="M1069.1 389.0H1076.3" stroke="#4b6af5"/><path d="M1075.9 389.0H1083.1" stroke="#496ff6"/><path d="M1082.7 389.0H1089.9" stroke="#4872f6"/><path d="M1089.5 389.0H1096.6" stroke="#4776f5"/><path d="M1096.2 389.0H1103.4" stroke="#4779f4"/><path d="M1103.0 389.0H1110.2" stroke="#4780f2"/><path d="M1109.8 389.0H1116.9" stroke="#4886ee"/><path d="M1116.5 389.0H1123.7" stroke="#4a8cea"/><path d="M1123.3 389.0H1130.5" stroke="#4b8fe8"/><path d="M1130.1 389.0H1137.2" stroke="#4b92e6"/><path d="M1136.8 389.0H1144.0" stroke="#4c96e3"/><path d="M1143.6 389.0H1150.8" stroke="#4d99e1"/><path d="M1150.4 389.0H1157.6" stroke="#4e9ce0"/><path d="M1157.2 389.0H1164.3" stroke="#4e9fde"/><path d="M1163.9 389.0H1171.1" stroke="#4fa3dc"/><path d="M1170.7 389.0H1177.9" stroke="#50a5dc"/><path d="M1177.5 389.0H1184.6" stroke="#50a8d9"/><path d="M1184.2 389.0H1191.4" stroke="#51abd6"/><path d="M1191.0 389.0H1198.2" stroke="#51afd2"/><path d="M1197.8 389.0H1205.0" stroke="#51b0cf"/><path d="M1204.6 389.0H1211.7" stroke="#52b3ca"/><path d="M1211.3 389.0H1218.5" stroke="#53b6c4"/><path d="M1218.1 389.0H1225.3" stroke="#55b9bd"/><path d="M1224.9 389.0H1232.0" stroke="#58bcb7"/><path d="M1231.6 389.0H1238.8" stroke="#59bdb5"/><path d="M1238.4 389.0H1245.6" stroke="#5cbeb0"/><path d="M1245.2 389.0H1252.3" stroke="#5fc0ab"/><path d="M1251.9 389.0H1259.1" stroke="#60c1a9"/><path d="M1258.7 389.0H1265.9" stroke="#62c2a5"/><path d="M1265.5 389.0H1272.7" stroke="#66c59c"/><path d="M1272.3 389.0H1279.4" stroke="#69c695"/><path d="M1279.0 389.0H1286.2" stroke="#6cc890"/><path d="M1285.8 389.0H1293.0" stroke="#74c986"/><path d="M1292.6 389.0H1299.7" stroke="#76c984"/><path d="M1299.3 389.0H1306.5" stroke="#7dca7b"/><path d="M1306.1 389.0H1313.3" stroke="#82ca76"/><path d="M1312.9 389.0H1320.1" stroke="#86ca72"/><path d="M1319.7 389.0H1326.8" stroke="#8dca6c"/><path d="M1326.4 389.0H1333.6" stroke="#92ca68"/><path d="M1333.2 389.0H1340.4" stroke="#98c963"/><path d="M1340.0 389.0H1347.1" stroke="#9dc95f"/><path d="M1346.7 389.0H1353.9" stroke="#a3c85a"/><path d="M1353.5 389.0H1360.7" stroke="#9ec95e"/><path d="M1360.3 389.0H1367.4" stroke="#9cc960"/><path d="M1367.0 389.0H1374.2" stroke="#bcc44e"/><path d="M1373.8 389.0H1381.0" stroke="#bac44e"/><path d="M1380.6 389.0H1387.8" stroke="#bcc44e"/><path d="M1387.4 389.0H1394.5" stroke="#bac44e"/><path d="M1394.1 389.0H1401.3" stroke="#b3c551"/><path d="M1400.9 389.0H1408.1" stroke="#a8c757"/><path d="M1407.7 389.0H1414.8" stroke="#a0c85d"/><path d="M1414.4 389.0H1428.4" stroke="#9ec95e"/><path d="M1428.0 389.0H1441.9" stroke="#b5c550"/><path d="M1441.5 389.0H1448.7" stroke="#b4c551"/><path d="M1448.3 389.0H1455.5" stroke="#d8be4a"/><path d="M1455.1 389.0H1462.2" stroke="#ebbc54"/><path d="M1461.8 389.0H1469.0" stroke="#ecbc55"/><path d="M1468.6 389.0H1475.8" stroke="#f5c357"/><path d="M1475.4 389.0H1482.6" stroke="#f5c456"/><path d="M1482.2 389.0H1489.3" stroke="#f5c356"/><path d="M1488.9 389.0H1496.1" stroke="#f5c656"/><path d="M1495.7 389.0H1502.9" stroke="#f5d054"/><path d="M1502.5 389.0H1516.4" stroke="#f5cf54"/><path d="M1516.0 389.0H1523.2" stroke="#f5d054"/><path d="M1522.8 389.0H1529.9" stroke="#f5cf54"/><path d="M1529.5 389.0H1536.7" stroke="#f5d054"/><path d="M1536.3 389.0H1543.5" stroke="#f5cf54"/><path d="M1543.1 389.0H1550.3" stroke="#f2e755"/><path d="M1549.9 389.0H1557.0" stroke="#f2e855"/><path d="M1556.6 389.0H1563.8" stroke="#f7f556"/></g><g stroke-width="71.50"><path d="M615.5 462.5H622.7" stroke="#3c2bac"/><path d="M622.3 462.5H629.4" stroke="#3c2bad"/><path d="M629.0 462.5H636.2" stroke="#3d2baf"/><path d="M635.8 462.5H643.0" stroke="#3d2caf"/><path d="M642.6 462.5H649.8" stroke="#3c2bad"/><path d="M649.4 462.5H656.5" stroke="#3d2baf"/><path d="M656.1 462.5H663.3" stroke="#3d2cb0"/><path d="M662.9 462.5H670.1" stroke="#3d2caf"/><path d="M669.7 462.5H676.8" stroke="#3d2cb1"/><path d="M676.4 462.5H683.6" stroke="#3d2baf"/><path d="M683.2 462.5H690.4" stroke="#3d2caf"/><path d="M690.0 462.5H697.1" stroke="#3d2cb0"/><path d="M696.7 462.5H703.9" stroke="#3d2db1"/><path d="M703.5 462.5H710.7" stroke="#3e2db2"/><path d="M710.3 462.5H717.5" stroke="#3d2cb0"/><path d="M717.1 462.5H724.2" stroke="#3d2bae"/><path d="M723.8 462.5H731.0" stroke="#3d2caf"/><path d="M730.6 462.5H737.8" stroke="#3d2bad"/><path d="M737.4 462.5H744.5" stroke="#3d2bae"/><path d="M744.1 462.5H751.3" stroke="#3d2bad"/><path d="M750.9 462.5H758.1" stroke="#3d2cb0"/><path d="M757.7 462.5H785.2" stroke="#3d2cb1"/><path d="M784.8 462.5H791.9" stroke="#3d2cb0"/><path d="M791.5 462.5H805.5" stroke="#3d2cb1"/><path d="M805.1 462.5H819.0" stroke="#3e2db3"/><path d="M818.6 462.5H825.8" stroke="#3e2eb6"/><path d="M825.4 462.5H832.6" stroke="#3f2fb7"/><path d="M832.2 462.5H839.3" stroke="#3f2fb9"/><path d="M838.9 462.5H846.1" stroke="#3f30bb"/><path d="M845.7 462.5H852.9" stroke="#3f30b9"/><path d="M852.5 462.5H859.6" stroke="#3f2fb8"/><path d="M859.2 462.5H866.4" stroke="#4031bc"/><path d="M866.0 462.5H873.2" stroke="#4032bf"/><path d="M872.8 462.5H880.0" stroke="#4133c3"/><path d="M879.6 462.5H886.7" stroke="#4134c6"/><path d="M886.3 462.5H893.5" stroke="#4236c9"/><path d="M893.1 462.5H900.3" stroke="#4236cb"/><path d="M899.9 462.5H907.0" stroke="#4338cf"/><path d="M906.6 462.5H913.8" stroke="#443ad1"/><path d="M913.4 462.5H920.6" stroke="#443bd4"/><path d="M920.2 462.5H927.4" stroke="#443cd5"/><path d="M927.0 462.5H934.1" stroke="#453fd9"/><path d="M933.7 462.5H947.7" stroke="#4641dc"/><path d="M947.3 462.5H954.4" stroke="#4643de"/><path d="M954.0 462.5H961.2" stroke="#4745e1"/><path d="M960.8 462.5H968.0" stroke="#4848e3"/><path d="M967.6 462.5H974.7" stroke="#484ae5"/><path d="M974.3 462.5H981.5" stroke="#494ce7"/><path d="M981.1 462.5H988.3" stroke="#494ee8"/><path d="M987.9 462.5H995.1" stroke="#494fe9"/><path d="M994.7 462.5H1001.8" stroke="#4950ea"/><path d="M1001.4 462.5H1008.6" stroke="#4a52ec"/><path d="M1008.2 462.5H1015.4" stroke="#4a54ec"/><path d="M1015.0 462.5H1022.1" stroke="#4a56ee"/><path d="M1021.7 462.5H1028.9" stroke="#4b58ef"/><path d="M1028.5 462.5H1035.7" stroke="#4b59f0"/><path d="M1035.3 462.5H1042.5" stroke="#4b5af0"/><path d="M1042.1 462.5H1049.2" stroke="#4b5cf1"/><path d="M1048.8 462.5H1056.0" stroke="#4b5ef2"/><path d="M1055.6 462.5H1062.8" stroke="#4b60f3"/><path d="M1062.4 462.5H1069.5" stroke="#4b65f4"/><path d="M1069.1 462.5H1076.3" stroke="#4a6bf5"/><path d="M1075.9 462.5H1083.1" stroke="#4971f6"/><path d="M1082.7 462.5H1089.9" stroke="#4874f6"/><path d="M1089.5 462.5H1096.6" stroke="#4777f5"/><path d="M1096.2 462.5H1103.4" stroke="#467bf3"/><path d="M1103.0 462.5H1110.2" stroke="#4783f0"/><path d="M1109.8 462.5H1116.9" stroke="#4a89ec"/><path d="M1116.5 462.5H1123.7" stroke="#4b91e7"/><path d="M1123.3 462.5H1130.5" stroke="#4c94e5"/><path d="M1130.1 462.5H1137.2" stroke="#4c98e2"/><path d="M1136.8 462.5H1150.8" stroke="#4d9ae1"/><path d="M1150.4 462.5H1157.6" stroke="#4e9de0"/><path d="M1157.2 462.5H1164.3" stroke="#4e9fdf"/><path d="M1163.9 462.5H1171.1" stroke="#4fa0de"/><path d="M1170.7 462.5H1177.9" stroke="#4fa1de"/><path d="M1177.5 462.5H1191.4" stroke="#4fa2dd"/><path d="M1191.0 462.5H1198.2" stroke="#51aed3"/><path d="M1197.8 462.5H1205.0" stroke="#51afd1"/><path d="M1204.6 462.5H1211.7" stroke="#51afd2"/><path d="M1211.3 462.5H1218.5" stroke="#52b2cc"/><path d="M1218.1 462.5H1225.3" stroke="#55b9bf"/><path d="M1224.9 462.5H1232.0" stroke="#54b8c1"/><path d="M1231.6 462.5H1238.8" stroke="#55b9bf"/><path d="M1238.4 462.5H1245.6" stroke="#54b8bf"/><path d="M1245.2 462.5H1252.3" stroke="#54b9bf"/><path d="M1251.9 462.5H1259.1" stroke="#53b7c3"/><path d="M1258.7 462.5H1265.9" stroke="#53b6c5"/><path d="M1265.5 462.5H1272.7" stroke="#62c2a3"/><path d="M1272.3 462.5H1279.4" stroke="#63c3a2"/><path d="M1279.0 462.5H1286.2" stroke="#64c4a0"/><path d="M1285.8 462.5H1293.0" stroke="#88ca70"/><path d="M1292.6 462.5H1299.7" stroke="#84ca73"/><path d="M1299.3 462.5H1306.5" stroke="#8bca6d"/><path d="M1306.1 462.5H1313.3" stroke="#91ca69"/><path d="M1312.9 462.5H1320.1" stroke="#96c964"/><path d="M1319.7 462.5H1326.8" stroke="#a2c85c"/><path d="M1326.4 462.5H1333.6" stroke="#a1c85c"/><path d="M1333.2 462.5H1340.4" stroke="#88ca6f"/><path d="M1340.0 462.5H1347.1" stroke="#8cca6d"/><path d="M1346.7 462.5H1353.9" stroke="#8fca6a"/><path d="M1353.5 462.5H1360.7" stroke="#8aca6e"/><path d="M1360.3 462.5H1367.4" stroke="#bbc44e"/><path d="M1367.0 462.5H1374.2" stroke="#c1c34c"/><path d="M1373.8 462.5H1381.0" stroke="#c2c34c"/><path d="M1380.6 462.5H1394.5" stroke="#c0c34c"/><path d="M1394.1 462.5H1401.3" stroke="#bec34d"/><path d="M1400.9 462.5H1408.1" stroke="#c0c34c"/><path d="M1407.7 462.5H1421.6" stroke="#a7c758"/><path d="M1421.2 462.5H1428.4" stroke="#c3c24b"/><path d="M1428.0 462.5H1435.2" stroke="#c2c34c"/><path d="M1434.8 462.5H1441.9" stroke="#c1c34c"/><path d="M1441.5 462.5H1448.7" stroke="#f5c556"/><path d="M1448.3 462.5H1455.5" stroke="#f5c955"/><path d="M1455.1 462.5H1462.2" stroke="#f5ce55"/><path d="M1461.8 462.5H1469.0" stroke="#f5d254"/><path d="M1468.6 462.5H1475.8" stroke="#f4d654"/><path d="M1475.4 462.5H1489.3" stroke="#f3d954"/><path d="M1488.9 462.5H1496.1" stroke="#f4d754"/><path d="M1495.7 462.5H1502.9" stroke="#f3d854"/><path d="M1502.5 462.5H1509.6" stroke="#f3da54"/><path d="M1509.2 462.5H1516.4" stroke="#f3d954"/><path d="M1516.0 462.5H1523.2" stroke="#f3da54"/><path d="M1522.8 462.5H1529.9" stroke="#f2de54"/><path d="M1529.5 462.5H1536.7" stroke="#f2e354"/><path d="M1536.3 462.5H1543.5" stroke="#f3eb55"/><path d="M1543.1 462.5H1550.3" stroke="#f5f155"/><path d="M1549.9 462.5H1557.0" stroke="#f7f556"/><path d="M1556.6 462.5H1563.8" stroke="#f7f656"/></g><g stroke-width="77.50"><path d="M615.5 536.5H622.7" stroke="#3c2bad"/><path d="M622.3 536.5H629.4" stroke="#3c2bac"/><path d="M629.0 536.5H643.0" stroke="#3d2bae"/><path d="M642.6 536.5H649.8" stroke="#3d2bad"/><path d="M649.4 536.5H656.5" stroke="#3d2bae"/><path d="M656.1 536.5H663.3" stroke="#3d2caf"/><path d="M662.9 536.5H670.1" stroke="#3d2cb0"/><path d="M669.7 536.5H676.8" stroke="#3d2cb1"/><path d="M676.4 536.5H683.6" stroke="#3d2cb0"/><path d="M683.2 536.5H690.4" stroke="#3d2caf"/><path d="M690.0 536.5H703.9" stroke="#3d2baf"/><path d="M703.5 536.5H710.7" stroke="#3d2cb1"/><path d="M710.3 536.5H724.2" stroke="#3e2db2"/><path d="M723.8 536.5H731.0" stroke="#3d2db2"/><path d="M730.6 536.5H737.8" stroke="#3d2cb0"/><path d="M737.4 536.5H744.5" stroke="#3d2cb1"/><path d="M744.1 536.5H758.1" stroke="#3d2cb0"/><path d="M757.7 536.5H771.6" stroke="#3d2bae"/><path d="M771.2 536.5H778.4" stroke="#3d2cb0"/><path d="M778.0 536.5H785.2" stroke="#3d2caf"/><path d="M784.8 536.5H791.9" stroke="#3d2bad"/><path d="M791.5 536.5H798.7" stroke="#3d2bae"/><path d="M798.3 536.5H805.5" stroke="#3d2cb1"/><path d="M805.1 536.5H812.3" stroke="#3e2db2"/><path d="M811.9 536.5H819.0" stroke="#3d2cb1"/><path d="M818.6 536.5H832.6" stroke="#3d2cb0"/><path d="M832.2 536.5H852.9" stroke="#3d2caf"/><path d="M852.5 536.5H866.4" stroke="#3d2bae"/><path d="M866.0 536.5H886.7" stroke="#3d2caf"/><path d="M886.3 536.5H893.5" stroke="#3d2db2"/><path d="M893.1 536.5H900.3" stroke="#3e2eb5"/><path d="M899.9 536.5H907.0" stroke="#3e2db4"/><path d="M906.6 536.5H913.8" stroke="#3e2db3"/><path d="M913.4 536.5H920.6" stroke="#3e2eb6"/><path d="M920.2 536.5H927.4" stroke="#3f2fb9"/><path d="M927.0 536.5H934.1" stroke="#3f30bc"/><path d="M933.7 536.5H940.9" stroke="#4032c1"/><path d="M940.5 536.5H947.7" stroke="#4133c2"/><path d="M947.3 536.5H954.4" stroke="#4134c4"/><path d="M954.0 536.5H961.2" stroke="#4134c6"/><path d="M960.8 536.5H968.0" stroke="#4235c8"/><path d="M967.6 536.5H974.7" stroke="#4237cb"/><path d="M974.3 536.5H981.5" stroke="#4338cf"/><path d="M981.1 536.5H988.3" stroke="#443ad3"/><path d="M987.9 536.5H995.1" stroke="#443cd6"/><path d="M994.7 536.5H1001.8" stroke="#453fda"/><path d="M1001.4 536.5H1008.6" stroke="#4642dd"/><path d="M1008.2 536.5H1015.4" stroke="#4745e1"/><path d="M1015.0 536.5H1022.1" stroke="#4848e4"/><path d="M1021.7 536.5H1028.9" stroke="#494ce7"/><path d="M1028.5 536.5H1035.7" stroke="#4951ea"/><path d="M1035.3 536.5H1042.5" stroke="#4a54ed"/><path d="M1042.1 536.5H1049.2" stroke="#4a55ee"/><path d="M1048.8 536.5H1056.0" stroke="#4a56ee"/><path d="M1055.6 536.5H1062.8" stroke="#4b57ef"/><path d="M1062.4 536.5H1069.5" stroke="#4b59ef"/><path d="M1069.1 536.5H1076.3" stroke="#4b59f0"/><path d="M1075.9 536.5H1083.1" stroke="#4b5af0"/><path d="M1082.7 536.5H1089.9" stroke="#4b5cf1"/><path d="M1089.5 536.5H1096.6" stroke="#4b5bf1"/><path d="M1096.2 536.5H1103.4" stroke="#4b62f3"/><path d="M1103.0 536.5H1110.2" stroke="#4778f5"/><path d="M1109.8 536.5H1116.9" stroke="#4988ed"/><path d="M1116.5 536.5H1123.7" stroke="#4b90e7"/><path d="M1123.3 536.5H1130.5" stroke="#4c97e2"/><path d="M1130.1 536.5H1137.2" stroke="#4e9edf"/><path d="M1136.8 536.5H1144.0" stroke="#4fa1de"/><path d="M1143.6 536.5H1150.8" stroke="#4fa2dd"/><path d="M1150.4 536.5H1157.6" stroke="#4fa3dd"/><path d="M1157.2 536.5H1164.3" stroke="#50a5dc"/><path d="M1163.9 536.5H1171.1" stroke="#50a9d9"/><path d="M1170.7 536.5H1177.9" stroke="#51aad7"/><path d="M1177.5 536.5H1184.6" stroke="#51aed3"/><path d="M1184.2 536.5H1191.4" stroke="#51b1ce"/><path d="M1191.0 536.5H1198.2" stroke="#52b2cc"/><path d="M1197.8 536.5H1205.0" stroke="#52b5c8"/><path d="M1204.6 536.5H1211.7" stroke="#53b7c3"/><path d="M1211.3 536.5H1218.5" stroke="#55b9be"/><path d="M1218.1 536.5H1225.3" stroke="#57bbb8"/><path d="M1224.9 536.5H1232.0" stroke="#59bcb5"/><path d="M1231.6 536.5H1238.8" stroke="#5cbeb0"/><path d="M1238.4 536.5H1245.6" stroke="#5fc0aa"/><path d="M1245.2 536.5H1252.3" stroke="#62c2a4"/><path d="M1251.9 536.5H1259.1" stroke="#64c4a0"/><path d="M1258.7 536.5H1265.9" stroke="#66c59b"/><path d="M1265.5 536.5H1272.7" stroke="#69c794"/><path d="M1272.3 536.5H1279.4" stroke="#69c696"/><path d="M1279.0 536.5H1286.2" stroke="#6ec88d"/><path d="M1285.8 536.5H1293.0" stroke="#71c989"/><path d="M1292.6 536.5H1299.7" stroke="#73c987"/><path d="M1299.3 536.5H1313.3" stroke="#77ca82"/><path d="M1312.9 536.5H1320.1" stroke="#78ca81"/><path d="M1319.7 536.5H1326.8" stroke="#7fca79"/><path d="M1326.4 536.5H1333.6" stroke="#83ca75"/><path d="M1333.2 536.5H1340.4" stroke="#8dca6b"/><path d="M1340.0 536.5H1347.1" stroke="#8fca6a"/><path d="M1346.7 536.5H1353.9" stroke="#8dca6b"/><path d="M1353.5 536.5H1360.7" stroke="#8eca6b"/><path d="M1360.3 536.5H1374.2" stroke="#97c963"/><path d="M1373.8 536.5H1381.0" stroke="#96c964"/><path d="M1380.6 536.5H1387.8" stroke="#96c965"/><path d="M1387.4 536.5H1394.5" stroke="#96ca65"/><path d="M1394.1 536.5H1401.3" stroke="#97c964"/><path d="M1400.9 536.5H1408.1" stroke="#97c963"/><path d="M1407.7 536.5H1414.8" stroke="#a7c858"/><path d="M1414.4 536.5H1421.6" stroke="#b3c651"/><path d="M1421.2 536.5H1428.4" stroke="#b2c652"/><path d="M1428.0 536.5H1435.2" stroke="#b4c551"/><path d="M1434.8 536.5H1441.9" stroke="#cfc049"/><path d="M1441.5 536.5H1448.7" stroke="#cdc049"/><path d="M1448.3 536.5H1455.5" stroke="#cec049"/><path d="M1455.1 536.5H1469.0" stroke="#efbd57"/><path d="M1468.6 536.5H1475.8" stroke="#f0be57"/><path d="M1475.4 536.5H1482.6" stroke="#f4c257"/><path d="M1482.2 536.5H1509.6" stroke="#f5c456"/><path d="M1509.2 536.5H1516.4" stroke="#f5c357"/><path d="M1516.0 536.5H1529.9" stroke="#f5c456"/><path d="M1529.5 536.5H1536.7" stroke="#f5c656"/><path d="M1536.3 536.5H1543.5" stroke="#f5c556"/><path d="M1543.1 536.5H1550.3" stroke="#f5ce55"/><path d="M1549.9 536.5H1557.0" stroke="#f5ce54"/><path d="M1556.6 536.5H1563.8" stroke="#f5cd55"/></g><g stroke-width="75.50"><path d="M615.5 612.5H622.7" stroke="#3d2cb0"/><path d="M622.3 612.5H629.4" stroke="#3d2baf"/><path d="M629.0 612.5H636.2" stroke="#3d2bae"/><path d="M635.8 612.5H643.0" stroke="#3d2bad"/><path d="M642.6 612.5H649.8" stroke="#3d2caf"/><path d="M649.4 612.5H656.5" stroke="#3c2bac"/><path d="M656.1 612.5H663.3" stroke="#3d2bae"/><path d="M662.9 612.5H670.1" stroke="#3d2bad"/><path d="M669.7 612.5H676.8" stroke="#3d2bae"/><path d="M676.4 612.5H683.6" stroke="#3c2bad"/><path d="M683.2 612.5H690.4" stroke="#3d2bae"/><path d="M690.0 612.5H697.1" stroke="#3d2baf"/><path d="M696.7 612.5H703.9" stroke="#3d2caf"/><path d="M703.5 612.5H717.5" stroke="#3d2cb0"/><path d="M717.1 612.5H724.2" stroke="#3d2cb1"/><path d="M723.8 612.5H731.0" stroke="#3d2cb0"/><path d="M730.6 612.5H737.8" stroke="#3d2bae"/><path d="M737.4 612.5H744.5" stroke="#3d2bad"/><path d="M744.1 612.5H751.3" stroke="#3d2baf"/><path d="M750.9 612.5H758.1" stroke="#3d2bae"/><path d="M757.7 612.5H771.6" stroke="#3d2cb0"/><path d="M771.2 612.5H778.4" stroke="#3d2bae"/><path d="M778.0 612.5H785.2" stroke="#3d2cb0"/><path d="M784.8 612.5H791.9" stroke="#3e2db2"/><path d="M791.5 612.5H798.7" stroke="#3d2cb1"/><path d="M798.3 612.5H805.5" stroke="#3d2caf"/><path d="M805.1 612.5H812.3" stroke="#3d2bae"/><path d="M811.9 612.5H819.0" stroke="#3d2cb0"/><path d="M818.6 612.5H832.6" stroke="#3d2caf"/><path d="M832.2 612.5H852.9" stroke="#3d2cb0"/><path d="M852.5 612.5H866.4" stroke="#3d2caf"/><path d="M866.0 612.5H880.0" stroke="#3d2cb0"/><path d="M879.6 612.5H886.7" stroke="#3d2cb1"/><path d="M886.3 612.5H893.5" stroke="#3d2cb0"/><path d="M893.1 612.5H920.6" stroke="#3d2cb1"/><path d="M920.2 612.5H927.4" stroke="#3e2db2"/><path d="M927.0 612.5H934.1" stroke="#3e2db3"/><path d="M933.7 612.5H940.9" stroke="#3e2eb4"/><path d="M940.5 612.5H947.7" stroke="#3e2eb5"/><path d="M947.3 612.5H954.4" stroke="#3f2fb8"/><path d="M954.0 612.5H961.2" stroke="#3f30ba"/><path d="M960.8 612.5H968.0" stroke="#4031bc"/><path d="M967.6 612.5H974.7" stroke="#4032bf"/><path d="M974.3 612.5H981.5" stroke="#4134c4"/><path d="M981.1 612.5H988.3" stroke="#4236cb"/><path d="M987.9 612.5H995.1" stroke="#4338ce"/><path d="M994.7 612.5H1001.8" stroke="#4339d1"/><path d="M1001.4 612.5H1008.6" stroke="#443bd5"/><path d="M1008.2 612.5H1015.4" stroke="#453dd7"/><path d="M1015.0 612.5H1022.1" stroke="#453fda"/><path d="M1021.7 612.5H1028.9" stroke="#4642dd"/><path d="M1028.5 612.5H1035.7" stroke="#4745e1"/><path d="M1035.3 612.5H1042.5" stroke="#4849e4"/><path d="M1042.1 612.5H1049.2" stroke="#494ee8"/><path d="M1048.8 612.5H1056.0" stroke="#4a53ec"/><path d="M1055.6 612.5H1062.8" stroke="#4a57ee"/><path d="M1062.4 612.5H1069.5" stroke="#4b5cf1"/><path d="M1069.1 612.5H1076.3" stroke="#4b60f3"/><path d="M1075.9 612.5H1083.1" stroke="#4b65f4"/><path d="M1082.7 612.5H1089.9" stroke="#4a6df6"/><path d="M1089.5 612.5H1096.6" stroke="#4776f5"/><path d="M1096.2 612.5H1103.4" stroke="#4780f2"/><path d="M1103.0 612.5H1110.2" stroke="#4989ec"/><path d="M1109.8 612.5H1116.9" stroke="#4b8fe8"/><path d="M1116.5 612.5H1123.7" stroke="#4c95e4"/><path d="M1123.3 612.5H1130.5" stroke="#4d9ae1"/><path d="M1130.1 612.5H1137.2" stroke="#4e9ce0"/><path d="M1136.8 612.5H1144.0" stroke="#4e9ddf"/><path d="M1143.6 612.5H1150.8" stroke="#4ea0de"/><path d="M1150.4 612.5H1157.6" stroke="#4fa1de"/><path d="M1157.2 612.5H1164.3" stroke="#4fa3dd"/><path d="M1163.9 612.5H1177.9" stroke="#4fa4dc"/><path d="M1177.5 612.5H1184.6" stroke="#50a5dc"/><path d="M1184.2 612.5H1191.4" stroke="#50a6db"/><path d="M1191.0 612.5H1205.0" stroke="#55b9be"/><path d="M1204.6 612.5H1211.7" stroke="#55b9bf"/><path d="M1211.3 612.5H1225.3" stroke="#55b9bd"/><path d="M1224.9 612.5H1232.0" stroke="#56babc"/><path d="M1231.6 612.5H1238.8" stroke="#5dbfaf"/><path d="M1238.4 612.5H1245.6" stroke="#5ebfac"/><path d="M1245.2 612.5H1252.3" stroke="#5fc0ab"/><path d="M1251.9 612.5H1259.1" stroke="#69c695"/><path d="M1258.7 612.5H1265.9" stroke="#6cc791"/><path d="M1265.5 612.5H1272.7" stroke="#6cc890"/><path d="M1272.3 612.5H1279.4" stroke="#6bc791"/><path d="M1279.0 612.5H1286.2" stroke="#6bc792"/><path d="M1285.8 612.5H1293.0" stroke="#6fc88d"/><path d="M1292.6 612.5H1299.7" stroke="#91ca69"/><path d="M1299.3 612.5H1306.5" stroke="#91ca68"/><path d="M1306.1 612.5H1313.3" stroke="#8dca6c"/><path d="M1312.9 612.5H1320.1" stroke="#92ca67"/><path d="M1319.7 612.5H1326.8" stroke="#93ca67"/><path d="M1326.4 612.5H1333.6" stroke="#a0c85d"/><path d="M1333.2 612.5H1340.4" stroke="#9fc85d"/><path d="M1340.0 612.5H1347.1" stroke="#99c962"/><path d="M1346.7 612.5H1353.9" stroke="#9fc95e"/><path d="M1353.5 612.5H1360.7" stroke="#9bc960"/><path d="M1360.3 612.5H1367.4" stroke="#9ec95e"/><path d="M1367.0 612.5H1381.0" stroke="#9dc95f"/><path d="M1380.6 612.5H1394.5" stroke="#c1c34c"/><path d="M1394.1 612.5H1401.3" stroke="#c0c34c"/><path d="M1400.9 612.5H1408.1" stroke="#c1c34c"/><path d="M1407.7 612.5H1414.8" stroke="#c2c34c"/><path d="M1414.4 612.5H1421.6" stroke="#c1c34c"/><path d="M1421.2 612.5H1428.4" stroke="#d1bf4a"/><path d="M1428.0 612.5H1435.2" stroke="#d2bf4a"/><path d="M1434.8 612.5H1441.9" stroke="#dbbd4b"/><path d="M1441.5 612.5H1448.7" stroke="#e2bc4e"/><path d="M1448.3 612.5H1455.5" stroke="#e2bc4f"/><path d="M1455.1 612.5H1469.0" stroke="#f5c356"/><path d="M1468.6 612.5H1475.8" stroke="#f4c257"/><path d="M1475.4 612.5H1496.1" stroke="#f5cc55"/><path d="M1495.7 612.5H1502.9" stroke="#f4d754"/><path d="M1502.5 612.5H1509.6" stroke="#f3d954"/><path d="M1509.2 612.5H1516.4" stroke="#f4d754"/><path d="M1516.0 612.5H1523.2" stroke="#f4ef55"/><path d="M1522.8 612.5H1529.9" stroke="#f5f055"/><path d="M1529.5 612.5H1536.7" stroke="#f4ef55"/><path d="M1536.3 612.5H1543.5" stroke="#f9fa56"/><path d="M1543.1 612.5H1557.0" stroke="#f8f956"/><path d="M1556.6 612.5H1563.8" stroke="#f9f956"/></g><g stroke-width="72.50"><path d="M615.5 686.0H622.7" stroke="#3d2caf"/><path d="M622.3 686.0H636.2" stroke="#3d2cb0"/><path d="M635.8 686.0H643.0" stroke="#3d2caf"/><path d="M642.6 686.0H656.5" stroke="#3d2bae"/><path d="M656.1 686.0H690.4" stroke="#3d2cb0"/><path d="M690.0 686.0H697.1" stroke="#3d2cb1"/><path d="M696.7 686.0H717.5" stroke="#3d2cb0"/><path d="M717.1 686.0H724.2" stroke="#3e2db3"/><path d="M723.8 686.0H731.0" stroke="#3d2db2"/><path d="M730.6 686.0H737.8" stroke="#3e2db2"/><path d="M737.4 686.0H744.5" stroke="#3d2caf"/><path d="M744.1 686.0H751.3" stroke="#3d2cb0"/><path d="M750.9 686.0H758.1" stroke="#3d2bae"/><path d="M757.7 686.0H771.6" stroke="#3d2bad"/><path d="M771.2 686.0H778.4" stroke="#3d2bae"/><path d="M778.0 686.0H785.2" stroke="#3d2caf"/><path d="M784.8 686.0H798.7" stroke="#3d2cb0"/><path d="M798.3 686.0H805.5" stroke="#3d2caf"/><path d="M805.1 686.0H812.3" stroke="#3e2db3"/><path d="M811.9 686.0H825.8" stroke="#3e2db2"/><path d="M825.4 686.0H846.1" stroke="#3e2db3"/><path d="M845.7 686.0H852.9" stroke="#3e2db2"/><path d="M852.5 686.0H859.6" stroke="#3e2db3"/><path d="M859.2 686.0H866.4" stroke="#3d2cb1"/><path d="M866.0 686.0H873.2" stroke="#3d2caf"/><path d="M872.8 686.0H880.0" stroke="#3d2cb0"/><path d="M879.6 686.0H893.5" stroke="#3d2bae"/><path d="M893.1 686.0H913.8" stroke="#3d2cb0"/><path d="M913.4 686.0H920.6" stroke="#3d2cb1"/><path d="M920.2 686.0H927.4" stroke="#3d2caf"/><path d="M927.0 686.0H934.1" stroke="#3d2cb0"/><path d="M933.7 686.0H940.9" stroke="#3d2caf"/><path d="M940.5 686.0H947.7" stroke="#3d2cb1"/><path d="M947.3 686.0H954.4" stroke="#3e2eb6"/><path d="M954.0 686.0H961.2" stroke="#3f30bb"/><path d="M960.8 686.0H968.0" stroke="#4032c0"/><path d="M967.6 686.0H974.7" stroke="#4133c4"/><path d="M974.3 686.0H981.5" stroke="#4236ca"/><path d="M981.1 686.0H988.3" stroke="#4339d0"/><path d="M987.9 686.0H995.1" stroke="#443bd4"/><path d="M994.7 686.0H1001.8" stroke="#453ed8"/><path d="M1001.4 686.0H1008.6" stroke="#4540da"/><path d="M1008.2 686.0H1015.4" stroke="#4642dd"/><path d="M1015.0 686.0H1022.1" stroke="#4745e0"/><path d="M1021.7 686.0H1028.9" stroke="#484ae5"/><path d="M1028.5 686.0H1035.7" stroke="#494fe9"/><path d="M1035.3 686.0H1042.5" stroke="#4a54ed"/><path d="M1042.1 686.0H1049.2" stroke="#4b59ef"/><path d="M1048.8 686.0H1056.0" stroke="#4b5df2"/><path d="M1055.6 686.0H1062.8" stroke="#4b62f3"/><path d="M1062.4 686.0H1069.5" stroke="#4b6af5"/><path d="M1069.1 686.0H1076.3" stroke="#4873f6"/><path d="M1075.9 686.0H1083.1" stroke="#467df3"/><path d="M1082.7 686.0H1089.9" stroke="#4883f0"/><path d="M1089.5 686.0H1096.6" stroke="#4a8beb"/><path d="M1096.2 686.0H1103.4" stroke="#4b90e8"/><path d="M1103.0 686.0H1110.2" stroke="#4b94e5"/><path d="M1109.8 686.0H1116.9" stroke="#4d98e2"/><path d="M1116.5 686.0H1123.7" stroke="#4e9ddf"/><path d="M1123.3 686.0H1130.5" stroke="#4fa0de"/><path d="M1130.1 686.0H1137.2" stroke="#50a5dc"/><path d="M1136.8 686.0H1144.0" stroke="#50a7db"/><path d="M1143.6 686.0H1150.8" stroke="#51aad8"/><path d="M1150.4 686.0H1157.6" stroke="#51abd6"/><path d="M1157.2 686.0H1164.3" stroke="#51aed3"/><path d="M1163.9 686.0H1171.1" stroke="#51afd1"/><path d="M1170.7 686.0H1177.9" stroke="#52b2cc"/><path d="M1177.5 686.0H1184.6" stroke="#52b4c9"/><path d="M1184.2 686.0H1191.4" stroke="#52b5c7"/><path d="M1191.0 686.0H1198.2" stroke="#54b8c1"/><path d="M1197.8 686.0H1205.0" stroke="#55b9be"/><path d="M1204.6 686.0H1211.7" stroke="#57bbba"/><path d="M1211.3 686.0H1218.5" stroke="#58bcb6"/><path d="M1218.1 686.0H1225.3" stroke="#5abdb4"/><path d="M1224.9 686.0H1232.0" stroke="#5bbeb1"/><path d="M1231.6 686.0H1238.8" stroke="#5ec0ac"/><path d="M1238.4 686.0H1245.6" stroke="#63c3a3"/><path d="M1245.2 686.0H1252.3" stroke="#65c59d"/><path d="M1251.9 686.0H1259.1" stroke="#68c698"/><path d="M1258.7 686.0H1265.9" stroke="#6dc88f"/><path d="M1265.5 686.0H1272.7" stroke="#6fc88c"/><path d="M1272.3 686.0H1279.4" stroke="#76ca83"/><path d="M1279.0 686.0H1286.2" stroke="#7aca7f"/><path d="M1285.8 686.0H1293.0" stroke="#7cca7d"/><path d="M1292.6 686.0H1299.7" stroke="#83ca74"/><path d="M1299.3 686.0H1306.5" stroke="#8aca6e"/><path d="M1306.1 686.0H1313.3" stroke="#8dca6c"/><path d="M1312.9 686.0H1320.1" stroke="#92ca68"/><path d="M1319.7 686.0H1326.8" stroke="#99c962"/><path d="M1326.4 686.0H1333.6" stroke="#a1c85c"/><path d="M1333.2 686.0H1340.4" stroke="#9ec95e"/><path d="M1340.0 686.0H1347.1" stroke="#98c963"/><path d="M1346.7 686.0H1353.9" stroke="#a8c757"/><path d="M1353.5 686.0H1360.7" stroke="#abc756"/><path d="M1360.3 686.0H1367.4" stroke="#adc654"/><path d="M1367.0 686.0H1374.2" stroke="#aec654"/><path d="M1373.8 686.0H1381.0" stroke="#adc654"/><path d="M1380.6 686.0H1387.8" stroke="#afc653"/><path d="M1387.4 686.0H1394.5" stroke="#adc755"/><path d="M1394.1 686.0H1401.3" stroke="#adc654"/><path d="M1400.9 686.0H1408.1" stroke="#acc755"/><path d="M1407.7 686.0H1414.8" stroke="#d4bf4a"/><path d="M1414.4 686.0H1421.6" stroke="#d3bf4a"/><path d="M1421.2 686.0H1428.4" stroke="#d4bf4a"/><path d="M1428.0 686.0H1435.2" stroke="#dbbd4b"/><path d="M1434.8 686.0H1441.9" stroke="#f1be57"/><path d="M1441.5 686.0H1475.8" stroke="#f2bf57"/><path d="M1475.4 686.0H1482.6" stroke="#f4d454"/><path d="M1482.2 686.0H1496.1" stroke="#f5d354"/><path d="M1495.7 686.0H1509.6" stroke="#f4d454"/><path d="M1509.2 686.0H1516.4" stroke="#f5d454"/><path d="M1516.0 686.0H1523.2" stroke="#f5d354"/><path d="M1522.8 686.0H1529.9" stroke="#f2e254"/><path d="M1529.5 686.0H1543.5" stroke="#f2e154"/><path d="M1543.1 686.0H1563.8" stroke="#f5f255"/></g><g stroke-width="80.50"><path d="M615.5 762.0H622.7" stroke="#3d2bad"/><path d="M622.3 762.0H629.4" stroke="#3d2bae"/><path d="M629.0 762.0H663.3" stroke="#3d2cb0"/><path d="M662.9 762.0H670.1" stroke="#3d2db1"/><path d="M669.7 762.0H676.8" stroke="#3d2caf"/><path d="M676.4 762.0H683.6" stroke="#3d2cb0"/><path d="M683.2 762.0H690.4" stroke="#3d2cb1"/><path d="M690.0 762.0H697.1" stroke="#3d2cb0"/><path d="M696.7 762.0H703.9" stroke="#3d2bae"/><path d="M703.5 762.0H710.7" stroke="#3d2bad"/><path d="M710.3 762.0H717.5" stroke="#3d2cb0"/><path d="M717.1 762.0H724.2" stroke="#3d2bae"/><path d="M723.8 762.0H731.0" stroke="#3d2baf"/><path d="M730.6 762.0H744.5" stroke="#3d2cb0"/><path d="M744.1 762.0H751.3" stroke="#3d2bad"/><path d="M750.9 762.0H758.1" stroke="#3c2aac"/><path d="M757.7 762.0H771.6" stroke="#3d2bad"/><path d="M771.2 762.0H778.4" stroke="#3d2bae"/><path d="M778.0 762.0H785.2" stroke="#3d2baf"/><path d="M784.8 762.0H791.9" stroke="#3d2caf"/><path d="M791.5 762.0H798.7" stroke="#3d2bae"/><path d="M798.3 762.0H805.5" stroke="#3c2bac"/><path d="M805.1 762.0H812.3" stroke="#3d2caf"/><path d="M811.9 762.0H825.8" stroke="#3d2bae"/><path d="M825.4 762.0H832.6" stroke="#3c2bac"/><path d="M832.2 762.0H839.3" stroke="#3d2bae"/><path d="M838.9 762.0H852.9" stroke="#3d2bad"/><path d="M852.5 762.0H859.6" stroke="#3d2caf"/><path d="M859.2 762.0H866.4" stroke="#3d2cb0"/><path d="M866.0 762.0H873.2" stroke="#3d2cb1"/><path d="M872.8 762.0H880.0" stroke="#3d2caf"/><path d="M879.6 762.0H886.7" stroke="#3c2aac"/><path d="M886.3 762.0H893.5" stroke="#3c2bac"/><path d="M893.1 762.0H907.0" stroke="#3d2bae"/><path d="M906.6 762.0H913.8" stroke="#3d2cb1"/><path d="M913.4 762.0H920.6" stroke="#3e2db3"/><path d="M920.2 762.0H927.4" stroke="#3e2db2"/><path d="M927.0 762.0H934.1" stroke="#3e2eb4"/><path d="M933.7 762.0H947.7" stroke="#3e2eb5"/><path d="M947.3 762.0H954.4" stroke="#3f2fb8"/><path d="M954.0 762.0H961.2" stroke="#4031bc"/><path d="M960.8 762.0H968.0" stroke="#4235c7"/><path d="M967.6 762.0H974.7" stroke="#4339d0"/><path d="M974.3 762.0H981.5" stroke="#443bd4"/><path d="M981.1 762.0H988.3" stroke="#453fda"/><path d="M987.9 762.0H995.1" stroke="#4643df"/><path d="M994.7 762.0H1001.8" stroke="#4746e1"/><path d="M1001.4 762.0H1008.6" stroke="#4849e4"/><path d="M1008.2 762.0H1015.4" stroke="#484ce7"/><path d="M1015.0 762.0H1022.1" stroke="#4a51eb"/><path d="M1021.7 762.0H1028.9" stroke="#4a57ee"/><path d="M1028.5 762.0H1035.7" stroke="#4b5ef2"/><path d="M1035.3 762.0H1042.5" stroke="#4b68f5"/><path d="M1042.1 762.0H1049.2" stroke="#4971f6"/><path d="M1048.8 762.0H1056.0" stroke="#467bf4"/><path d="M1055.6 762.0H1062.8" stroke="#4885ef"/><path d="M1062.4 762.0H1069.5" stroke="#4b8fe8"/><path d="M1069.1 762.0H1076.3" stroke="#4b93e5"/><path d="M1075.9 762.0H1083.1" stroke="#4c98e2"/><path d="M1082.7 762.0H1089.9" stroke="#4e9ce0"/><path d="M1089.5 762.0H1096.6" stroke="#4fa0de"/><path d="M1096.2 762.0H1103.4" stroke="#4fa3dd"/><path d="M1103.0 762.0H1110.2" stroke="#4fa4dc"/><path d="M1109.8 762.0H1116.9" stroke="#50a8d9"/><path d="M1116.5 762.0H1123.7" stroke="#51aad8"/><path d="M1123.3 762.0H1130.5" stroke="#51acd5"/><path d="M1130.1 762.0H1137.2" stroke="#51afd1"/><path d="M1136.8 762.0H1144.0" stroke="#51b0d0"/><path d="M1143.6 762.0H1150.8" stroke="#51b1cf"/><path d="M1150.4 762.0H1157.6" stroke="#52b3cb"/><path d="M1157.2 762.0H1164.3" stroke="#52b4c9"/><path d="M1163.9 762.0H1171.1" stroke="#53b6c4"/><path d="M1170.7 762.0H1177.9" stroke="#54b8c1"/><path d="M1177.5 762.0H1184.6" stroke="#57bbb9"/><path d="M1184.2 762.0H1191.4" stroke="#59bcb5"/><path d="M1191.0 762.0H1198.2" stroke="#5bbeb2"/><path d="M1197.8 762.0H1205.0" stroke="#5dbfae"/><path d="M1204.6 762.0H1211.7" stroke="#60c0aa"/><path d="M1211.3 762.0H1218.5" stroke="#60c1a9"/><path d="M1218.1 762.0H1225.3" stroke="#62c2a4"/><path d="M1224.9 762.0H1232.0" stroke="#65c49d"/><path d="M1231.6 762.0H1238.8" stroke="#66c59b"/><path d="M1238.4 762.0H1245.6" stroke="#6ac793"/><path d="M1245.2 762.0H1252.3" stroke="#6fc88c"/><path d="M1251.9 762.0H1259.1" stroke="#73c987"/><path d="M1258.7 762.0H1265.9" stroke="#81ca77"/><path d="M1265.5 762.0H1272.7" stroke="#88ca70"/><path d="M1272.3 762.0H1286.2" stroke="#8cca6d"/><path d="M1285.8 762.0H1293.0" stroke="#91ca68"/><path d="M1292.6 762.0H1299.7" stroke="#95ca65"/><path d="M1299.3 762.0H1306.5" stroke="#9ac961"/><path d="M1306.1 762.0H1313.3" stroke="#9fc85d"/><path d="M1312.9 762.0H1320.1" stroke="#acc755"/><path d="M1319.7 762.0H1326.8" stroke="#b0c653"/><path d="M1326.4 762.0H1333.6" stroke="#b5c550"/><path d="M1333.2 762.0H1340.4" stroke="#b8c44f"/><path d="M1340.0 762.0H1347.1" stroke="#c1c34c"/><path d="M1346.7 762.0H1353.9" stroke="#b8c44f"/><path d="M1353.5 762.0H1374.2" stroke="#b1c652"/><path d="M1373.8 762.0H1381.0" stroke="#c8c14a"/><path d="M1380.6 762.0H1387.8" stroke="#ccc04a"/><path d="M1387.4 762.0H1394.5" stroke="#cec049"/><path d="M1394.1 762.0H1401.3" stroke="#cfc049"/><path d="M1400.9 762.0H1408.1" stroke="#cec049"/><path d="M1407.7 762.0H1414.8" stroke="#cdc04a"/><path d="M1414.4 762.0H1421.6" stroke="#cec049"/><path d="M1421.2 762.0H1428.4" stroke="#cdc04a"/><path d="M1428.0 762.0H1435.2" stroke="#d2bf4a"/><path d="M1434.8 762.0H1441.9" stroke="#f5c356"/><path d="M1441.5 762.0H1448.7" stroke="#f4c257"/><path d="M1448.3 762.0H1455.5" stroke="#f5c456"/><path d="M1455.1 762.0H1462.2" stroke="#debd4c"/><path d="M1461.8 762.0H1482.6" stroke="#f5c756"/><path d="M1482.2 762.0H1489.3" stroke="#f4d654"/><path d="M1488.9 762.0H1496.1" stroke="#f3d854"/><path d="M1495.7 762.0H1502.9" stroke="#f4d854"/><path d="M1502.5 762.0H1509.6" stroke="#f3e955"/><path d="M1509.2 762.0H1516.4" stroke="#f3eb55"/><path d="M1516.0 762.0H1523.2" stroke="#f3e855"/><path d="M1522.8 762.0H1529.9" stroke="#f3e955"/><path d="M1529.5 762.0H1536.7" stroke="#f3e855"/><path d="M1536.3 762.0H1543.5" stroke="#f2e755"/><path d="M1543.1 762.0H1550.3" stroke="#f9fb56"/><path d="M1549.9 762.0H1557.0" stroke="#f9fa56"/><path d="M1556.6 762.0H1563.8" stroke="#f9fb56"/></g><g stroke-width="60.75"><path d="M615.5 832.1H629.4" stroke="#3d2bae"/><path d="M629.0 832.1H636.2" stroke="#3d2bad"/><path d="M635.8 832.1H649.8" stroke="#3d2caf"/><path d="M649.4 832.1H656.5" stroke="#3d2bae"/><path d="M656.1 832.1H663.3" stroke="#3c2bac"/><path d="M662.9 832.1H670.1" stroke="#3d2bae"/><path d="M669.7 832.1H676.8" stroke="#3c2bad"/><path d="M676.4 832.1H683.6" stroke="#3d2bae"/><path d="M683.2 832.1H690.4" stroke="#3d2baf"/><path d="M690.0 832.1H697.1" stroke="#3d2bae"/><path d="M696.7 832.1H703.9" stroke="#3c2bac"/><path d="M703.5 832.1H710.7" stroke="#3c2aac"/><path d="M710.3 832.1H724.2" stroke="#3d2bad"/><path d="M723.8 832.1H731.0" stroke="#3d2cb0"/><path d="M730.6 832.1H737.8" stroke="#3d2caf"/><path d="M737.4 832.1H764.9" stroke="#3d2cb0"/><path d="M764.5 832.1H771.6" stroke="#3d2cb1"/><path d="M771.2 832.1H791.9" stroke="#3d2cb0"/><path d="M791.5 832.1H798.7" stroke="#3e2db2"/><path d="M798.3 832.1H805.5" stroke="#3d2cb1"/><path d="M805.1 832.1H812.3" stroke="#3d2db2"/><path d="M811.9 832.1H819.0" stroke="#3d2bad"/><path d="M818.6 832.1H825.8" stroke="#3d2bae"/><path d="M825.4 832.1H832.6" stroke="#3d2bad"/><path d="M832.2 832.1H859.6" stroke="#3d2bae"/><path d="M859.2 832.1H866.4" stroke="#3d2cb0"/><path d="M866.0 832.1H873.2" stroke="#3d2db1"/><path d="M872.8 832.1H880.0" stroke="#3d2cb0"/><path d="M879.6 832.1H886.7" stroke="#3d2db2"/><path d="M886.3 832.1H893.5" stroke="#3d2cb0"/><path d="M893.1 832.1H900.3" stroke="#3d2cb1"/><path d="M899.9 832.1H907.0" stroke="#3d2cb0"/><path d="M906.6 832.1H913.8" stroke="#3d2cb1"/><path d="M913.4 832.1H920.6" stroke="#3e2db4"/><path d="M920.2 832.1H927.4" stroke="#3e2db2"/><path d="M927.0 832.1H934.1" stroke="#3e2db3"/><path d="M933.7 832.1H940.9" stroke="#3d2cb0"/><path d="M940.5 832.1H947.7" stroke="#3d2caf"/><path d="M947.3 832.1H954.4" stroke="#3e2db3"/><path d="M954.0 832.1H961.2" stroke="#3d2db2"/><path d="M960.8 832.1H968.0" stroke="#3f2fb9"/><path d="M967.6 832.1H974.7" stroke="#4032c1"/><path d="M974.3 832.1H981.5" stroke="#4237cc"/><path d="M981.1 832.1H988.3" stroke="#443ad3"/><path d="M987.9 832.1H995.1" stroke="#4540da"/><path d="M994.7 832.1H1001.8" stroke="#4744df"/><path d="M1001.4 832.1H1008.6" stroke="#484be6"/><path d="M1008.2 832.1H1015.4" stroke="#494fe9"/><path d="M1015.0 832.1H1022.1" stroke="#4a54ec"/><path d="M1021.7 832.1H1028.9" stroke="#4b5af0"/><path d="M1028.5 832.1H1035.7" stroke="#4b64f4"/><path d="M1035.3 832.1H1042.5" stroke="#4971f6"/><path d="M1042.1 832.1H1049.2" stroke="#467cf3"/><path d="M1048.8 832.1H1056.0" stroke="#4885ef"/><path d="M1055.6 832.1H1062.8" stroke="#4b8ee8"/><path d="M1062.4 832.1H1069.5" stroke="#4c96e4"/><path d="M1069.1 832.1H1076.3" stroke="#4d9ae1"/><path d="M1075.9 832.1H1083.1" stroke="#4e9edf"/><path d="M1082.7 832.1H1089.9" stroke="#4fa0de"/><path d="M1089.5 832.1H1096.6" stroke="#4fa4dc"/><path d="M1096.2 832.1H1110.2" stroke="#50a6db"/><path d="M1109.8 832.1H1116.9" stroke="#50a9d8"/><path d="M1116.5 832.1H1123.7" stroke="#51aad7"/><path d="M1123.3 832.1H1137.2" stroke="#51acd6"/><path d="M1136.8 832.1H1150.8" stroke="#51add4"/><path d="M1150.4 832.1H1157.6" stroke="#51b0d0"/><path d="M1157.2 832.1H1164.3" stroke="#51b1ce"/><path d="M1163.9 832.1H1171.1" stroke="#52b2cd"/><path d="M1170.7 832.1H1177.9" stroke="#52b3cb"/><path d="M1177.5 832.1H1184.6" stroke="#52b4c8"/><path d="M1184.2 832.1H1191.4" stroke="#52b5c8"/><path d="M1191.0 832.1H1198.2" stroke="#52b5c7"/><path d="M1197.8 832.1H1205.0" stroke="#52b4c8"/><path d="M1204.6 832.1H1211.7" stroke="#52b3ca"/><path d="M1211.3 832.1H1218.5" stroke="#5abdb3"/><path d="M1218.1 832.1H1225.3" stroke="#5bbdb2"/><path d="M1224.9 832.1H1232.0" stroke="#5bbeb1"/><path d="M1231.6 832.1H1252.3" stroke="#66c59c"/><path d="M1251.9 832.1H1259.1" stroke="#8dca6c"/><path d="M1258.7 832.1H1265.9" stroke="#8dca6b"/><path d="M1265.5 832.1H1279.4" stroke="#8cca6c"/><path d="M1279.0 832.1H1286.2" stroke="#84ca74"/><path d="M1285.8 832.1H1293.0" stroke="#84ca73"/><path d="M1292.6 832.1H1299.7" stroke="#81ca76"/><path d="M1299.3 832.1H1306.5" stroke="#8aca6e"/><path d="M1306.1 832.1H1313.3" stroke="#a0c85d"/><path d="M1312.9 832.1H1320.1" stroke="#9ac962"/><path d="M1319.7 832.1H1326.8" stroke="#a0c85d"/><path d="M1326.4 832.1H1340.4" stroke="#8bca6d"/><path d="M1340.0 832.1H1347.1" stroke="#8aca6e"/><path d="M1346.7 832.1H1353.9" stroke="#9ec95e"/><path d="M1353.5 832.1H1360.7" stroke="#9bc960"/><path d="M1360.3 832.1H1367.4" stroke="#9bc961"/><path d="M1367.0 832.1H1381.0" stroke="#9dc95f"/><path d="M1380.6 832.1H1387.8" stroke="#9ec95e"/><path d="M1387.4 832.1H1394.5" stroke="#b2c652"/><path d="M1394.1 832.1H1401.3" stroke="#b0c653"/><path d="M1400.9 832.1H1408.1" stroke="#b1c652"/><path d="M1407.7 832.1H1414.8" stroke="#c7c14a"/><path d="M1414.4 832.1H1428.4" stroke="#d8be4b"/><path d="M1428.0 832.1H1435.2" stroke="#d9be4b"/><path d="M1434.8 832.1H1448.7" stroke="#f5cc55"/><path d="M1448.3 832.1H1455.5" stroke="#f5cd55"/><path d="M1455.1 832.1H1462.2" stroke="#f3dc54"/><path d="M1461.8 832.1H1469.0" stroke="#f2dd54"/><path d="M1468.6 832.1H1482.6" stroke="#f3dc54"/><path d="M1482.2 832.1H1496.1" stroke="#f2dd54"/><path d="M1495.7 832.1H1502.9" stroke="#f2de54"/><path d="M1502.5 832.1H1509.6" stroke="#f2dd54"/><path d="M1509.2 832.1H1529.9" stroke="#f3e955"/><path d="M1529.5 832.1H1536.7" stroke="#f5f055"/><path d="M1536.3 832.1H1543.5" stroke="#f5f155"/><path d="M1543.1 832.1H1550.3" stroke="#f5f255"/><path d="M1549.9 832.1H1557.0" stroke="#f5f155"/><path d="M1556.6 832.1H1563.8" stroke="#f5f255"/></g><path d="M622.5 282.5V862.5M629.2 282.5V862.5M642.8 282.5V862.5M649.6 282.5V862.5M656.3 282.5V862.5M669.9 282.5V862.5M676.6 282.5V862.5M683.4 282.5V862.5M690.2 282.5V862.5M703.7 282.5V862.5M724.0 282.5V862.5M751.1 282.5V862.5M771.4 282.5V862.5M785.0 282.5V862.5M805.3 282.5V862.5M825.6 282.5V862.5M832.4 282.5V862.5M845.9 282.5V862.5M852.7 282.5V862.5M873.0 282.5V862.5M886.5 282.5V862.5M893.3 282.5V862.5M906.8 282.5V862.5M954.2 282.5V862.5M974.5 282.5V862.5M994.9 282.5V862.5M1015.2 282.5V862.5M1028.7 282.5V862.5M1035.5 282.5V862.5M1049.0 282.5V862.5M1055.8 282.5V862.5M1089.7 282.5V862.5M1110.0 282.5V862.5M1116.7 282.5V862.5M1130.3 282.5V862.5M1137.0 282.5V862.5M1157.4 282.5V862.5M1170.9 282.5V862.5M1184.4 282.5V862.5M1211.5 282.5V862.5M1225.1 282.5V862.5M1231.8 282.5V862.5M1272.5 282.5V862.5M1279.2 282.5V862.5M1299.5 282.5V862.5M1313.1 282.5V862.5M1333.4 282.5V862.5M1340.2 282.5V862.5M1360.5 282.5V862.5M1374.0 282.5V862.5M1380.8 282.5V862.5M1394.3 282.5V862.5M1401.1 282.5V862.5M1414.6 282.5V862.5M1441.7 282.5V862.5M1455.3 282.5V862.5M1462.0 282.5V862.5M1468.8 282.5V862.5M1475.6 282.5V862.5M1482.4 282.5V862.5M1495.9 282.5V862.5M1502.7 282.5V862.5M1516.2 282.5V862.5M1536.5 282.5V862.5M1543.3 282.5V862.5M1556.8 282.5V862.5" stroke="#fff" stroke-opacity="0.035" stroke-width="0.9" fill="none"/><path d="M663.1 282.5V862.5M710.5 282.5V862.5M730.8 282.5V862.5M744.3 282.5V862.5M764.7 282.5V862.5M791.7 282.5V862.5M812.1 282.5V862.5M866.2 282.5V862.5M913.6 282.5V862.5M927.2 282.5V862.5M933.9 282.5V862.5M947.5 282.5V862.5M967.8 282.5V862.5M988.1 282.5V862.5M1008.4 282.5V862.5M1069.3 282.5V862.5M1076.1 282.5V862.5M1096.4 282.5V862.5M1150.6 282.5V862.5M1177.7 282.5V862.5M1191.2 282.5V862.5M1198.0 282.5V862.5M1218.3 282.5V862.5M1238.6 282.5V862.5M1252.1 282.5V862.5M1258.9 282.5V862.5M1292.8 282.5V862.5M1319.9 282.5V862.5M1353.7 282.5V862.5M1421.4 282.5V862.5M1435.0 282.5V862.5M1523.0 282.5V862.5" stroke="#fff" stroke-opacity="0.065" stroke-width="0.9" fill="none"/><path d="M636.0 282.5V862.5M696.9 282.5V862.5M717.3 282.5V862.5M737.6 282.5V862.5M757.9 282.5V862.5M778.2 282.5V862.5M798.5 282.5V862.5M818.8 282.5V862.5M839.1 282.5V862.5M859.4 282.5V862.5M879.8 282.5V862.5M900.1 282.5V862.5M920.4 282.5V862.5M940.7 282.5V862.5M961.0 282.5V862.5M981.3 282.5V862.5M1001.6 282.5V862.5M1021.9 282.5V862.5M1042.3 282.5V862.5M1062.6 282.5V862.5M1082.9 282.5V862.5M1103.2 282.5V862.5M1123.5 282.5V862.5M1143.8 282.5V862.5M1164.1 282.5V862.5M1204.8 282.5V862.5M1245.4 282.5V862.5M1265.7 282.5V862.5M1286.0 282.5V862.5M1306.3 282.5V862.5M1326.6 282.5V862.5M1346.9 282.5V862.5M1367.2 282.5V862.5M1387.6 282.5V862.5M1407.9 282.5V862.5M1428.2 282.5V862.5M1448.5 282.5V862.5M1489.1 282.5V862.5M1509.4 282.5V862.5M1529.7 282.5V862.5M1550.1 282.5V862.5" stroke="#fff" stroke-opacity="0.1" stroke-width="0.9" fill="none"/><g clip-path="url(#plotclip)"><g class="tr" transform="translate(615.7,0) scale(1.25,0.1)"><path d="M0 2992l1 33 1 8 1-8 1-2 1-1 1 4 1 0 1-1 1 1 1 1 1 1 1 2 1-3 1-6 1 8 1-7 1 4 1-4 1 5 1-2 1 2 1 10 1-10 1 2 1-6 1 3 1 3 1-3 1 2 1-1 1-4 1 5 1-4 1 8 1-7 1 3 1-2 1 3 1-4 1 5 1-4 1 5 1-2 1-2 1-2 1 5 1-1 1 3 1-6 1 3 1 0 1 0 1-1 1 0 1-2 1-1 1 2 1 2 1 3 1-2 1 0 1-1 1 0 1-2 1 2 1 3 1-7 1-1 1 7 1-5 1 2 1 0 1-7 1 11 1-2 1-5 1 2 1-2 1-3 1 2 1 2 1 2 1-1 1-2 1 4 1-6 1 5 1 1 1-4 1-5 1 3 1 4 1 1 1 3 1-8 1 3 1 2 1-2 1-7 1 10 1 5 1-4 1-6 1 1 1 2 1 7 1-6 1-1 1 4 1-5 1 6 1-8 1 1 1 4 1 2 1-3 1-1 1-6 1 3 1 1 1 0 1 4 1-3 1 3 1-2 1-1 1 2 1 1 1 1 1-4 1 1 1-4 1 9 1 0 1-5 1-1 1-3 1 4 1 0 1 6 1-6 1-4 1-5 1 11 1-4 1-6 1 5 1-5 1 14 1-7 1-2 1-3 1-6 1 6 1-5 1 6 1-8 1 3 1 6 1 1 1-9 1-1 1 7 1-1 1-5 1 0 1 0 1-2 1 1 1 6 1-2 1 3 1-7 1 0 1-3 1 2 1-4 1-2 1 6 1 2 1-3 1 1 1-4 1-4 1 1 1-2 1-3 1-3 1-1 1 4 1-1 1-3 1-7 1-22 1 13 1 15 1-8 1-5 1 6 1-6 1 4 1-5 1 0 1-3 1-11 1 6 1-7 1-3 1-2 1 0 1-3 1-3 1-12 1-1 1-10 1 2 1-3 1-10 1-3 1-6 1-4 1-13 1-7 1-8 1-1 1-11 1-14 1-9 1-11 1-11 1-14 1-14 1-16 1-13 1-10 1-20 1-19 1-21 1 128 1 103 1 92 1 95 1 58 1 5 1 6 1 5 1 4 1 11 1-8 1 10 1 1 1 2 1 4 1 5 1-3 1 0 1 0 1 2 1 4 1-4 1-2 1 0 1 1 1-1 1 9 1-3 1-2 1 6 1-7 1 5 1 0 1-8 1 0 1 3 1 6 1 2 1-9 1 8 1-5 1 0 1 0 1 1 1-5 1 3 1 0 1 6 1 5 1 3 1-10 1-5 1 5 1-2 1 10 1-5 1-4 1 6 1-2 1-7 1 4 1 1 1 1 1 0 1-2 1 2 1-3 1-1 1 8 1-4 1 0 1-7 1 5 1 3 1-7 1 8 1-5 1 2 1-1 1 1 1 3 1-5 1 7 1-8 1 0 1 5 1-5 1 2 1 5 1 1 1-10 1 8 1 5 1-2 1-5 1-1 1 1 1-3 1 3 1 1 1 0 1 5 1-5 1-4 1 8 1-7 1 2 1 1 1 0 1-2 1 2 1 9 1-10 1 2 1 4 1-1 1 0 1 1 1-10 1 4 1 4 1 1 1 3 1-3 1-2 1 1 1 0 1 1 1 2 1-3 1-2 1 0 1 7 1 1 1-1 1-1 1 0 1-2 1 2 1-6 1 3 1-2 1 5 1-5 1 1 1 2 1 3 1-7 1-1 1 6 1-7 1 5 1-4 1 2 1-6 1 8 1-4 1-1 1 10 1-5 1 9 1-10 1-3 1 2 1 5 1-5 1 1 1 1 1-5 1 4 1-2 1-3 1 7 1 0 1-2 1-3 1-4 1 8 1-2 1-5 1 6 1-5 1 5 1 0 1 1 1-1 1 0 1-4 1 2 1 0 1 1 1 1 1 2 1 3 1-14 1 10 1-2 1 8 1-4 1-9 1 7 1-3 1 6 1-7 1 3 1-1 1 0 1-1 1-5 1 8 1 2 1-4 1-4 1 4 1 1 1-3 1 0 1 5 1-9 1 1 1-5 1 4 1-1 1-1 1 0 1 8 1-8 1 0 1 7 1-8 1-7 1 7 1-5 1 8 1-11 1 2 1-4 1 5 1-5 1 3 1-1 1-2 1 5 1-1 1-3 1-4 1-1 1 4 1 7 1-10 1-2 1 0 1-2 1 0 1 2 1 5 1-5 1-2 1-5 1 6 1-1 1-5 1 0 1 3 1 3 1-2 1-2 1-3 1 2 1-2 1 7 1-12 1 3 1 5 1-6 1 5 1-5 1 0 1-2 1-4 1 1 1 11 1-6 1 0 1 1 1-2 1 1 1-4 1 0 1 3 1-4 1-4 1 4 1-2 1 4 1-5 1-1 1 2 1 6 1-6 1 0 1 0 1 0 1 2 1 1 1-10 1 9 1-4 1-2 1 9 1-9 1 7 1-3 1-7 1 6 1 0 1-2 1-8 1 7 1 1 1-2 1 10 1-7 1 0 1 1 1-1 1 1 1 3 1 2 1-2 1 2 1-4 1 7 1-3 1 4 1-4 1 2 1 3 1-4 1 13 1-9 1 1 1-3 1 8 1 0 1-4 1-6 1 3 1 3 1-4 1-3 1 0 1 1 1 2 1-3 1 2 1 9 1-4 1-10 1 4 1-1 1-2 1 4 1-5 1-1 1 0 1 0 1 5 1-3 1-7 1 3 1-2 1 5 1-2 1 2 1-4 1-6 1 7 1-1 1 0 1-7 1 4 1-4 1 0 1 2 1-1 1-5 1-4 1-4 1 5 1 5 1-6 1-8 1 3 1 3 1 3 1-3 1-4 1-2 1-6 1 1 1-1 1-3 1 1 1-3 1 1 1 2 1-4 1-2 1-4 1-6 1 3 1 1 1-7 1 6 1-8 1 1 1-4 1-5 1 10 1-13 1 5 1-7 1 2 1-6 1 0 1 3 1 2 1-12 1 2 1 2 1-7 1 3 1-6 1 3 1-2 1 2 1-4 1-6 1 5 1-6 1 5 1 2 1-3 1-4 1 5 1-3 1-5 1 3 1 6 1-6 1 2 1-2 1-4 1 5 1 3 1 0 1-1 1-7 1 12 1-1 1 1 1 1 1-6 1 0 1 4 1 4 1-11 1 5 1-1 1 5 1 3 1-6 1-3 1 5 1-1 1-4 1 9 1-5 1 5 1-7 1 9 1-8 1 9 1-10 1 11 1-5 1-4 1 5 1 2 1-4 1 2 1 3 1-1 1-10 1 9 1 3 1 0 1 2 1-5 1 11 1-6 1-2 1 3 1-1 1-2 1-3 1 6 1-2 1-8 1 3 1 5 1-1 1 0 1 2 1-2 1 5 1-7 1 1 1 2 1 2"/><path d="M0 3117l1 36 1 0 1 5 1-5 1 3 1 5 1-5 1 1 1 0 1-3 1 3 1 1 1-6 1 3 1 0 1 3 1 0 1-3 1 6 1-10 1 3 1 2 1-2 1-2 1 1 1 0 1-1 1 3 1-8 1 6 1-2 1 1 1 5 1-2 1 0 1-9 1 9 1-7 1 3 1 1 1 7 1-10 1 9 1 2 1-2 1-2 1 3 1-6 1 2 1 1 1-4 1 2 1 1 1-2 1 4 1-4 1-3 1 2 1-1 1-1 1 5 1 3 1-7 1 1 1 0 1-3 1 7 1-3 1 4 1-4 1 1 1 6 1-5 1 1 1 4 1-5 1 4 1-5 1 2 1-1 1 5 1-4 1-1 1 4 1 3 1-8 1 9 1-11 1 3 1-2 1 8 1-4 1-1 1 3 1-2 1-3 1-1 1-3 1 8 1-5 1 1 1 1 1 1 1 1 1 0 1 4 1-3 1-6 1 5 1-4 1-1 1 5 1-3 1 1 1 4 1 0 1-3 1-3 1-6 1 9 1-5 1 3 1 0 1-2 1 3 1-3 1-1 1-2 1 5 1-2 1-7 1 4 1 0 1 1 1-7 1 3 1 2 1-1 1 2 1-2 1-7 1 4 1 5 1 1 1-2 1 5 1-5 1 2 1 1 1-2 1 4 1-5 1-2 1 5 1-4 1-1 1 1 1 1 1-2 1 3 1-6 1-2 1 2 1 0 1 7 1-2 1-6 1-1 1 0 1 1 1-3 1 4 1-4 1-3 1 2 1 4 1 2 1-3 1 0 1 3 1 4 1-4 1-6 1 0 1 5 1-5 1-3 1-2 1 1 1 4 1-3 1-2 1 1 1-5 1 25 1 9 1-20 1-16 1 3 1-7 1 5 1-1 1-5 1 3 1 0 1-11 1 0 1-3 1 4 1-6 1-4 1 3 1-6 1 7 1-8 1 0 1-7 1-4 1 2 1-2 1-9 1-5 1-2 1-2 1-9 1 0 1-9 1-4 1-14 1-9 1-7 1-8 1-4 1-13 1-12 1-16 1-8 1-16 1-14 1-2 1 93 1 96 1 59 1 3 1 10 1 11 1 1 1 6 1-3 1 7 1-3 1 6 1-2 1 4 1-3 1 7 1-2 1 2 1-1 1-7 1 7 1 4 1-2 1-1 1 4 1 4 1-4 1-2 1-4 1 0 1 6 1-3 1 0 1 2 1-4 1-6 1 8 1 4 1-4 1 2 1 2 1 4 1-9 1 6 1 4 1-8 1 6 1 0 1 4 1-4 1-2 1-2 1 0 1 2 1-1 1 5 1-1 1-7 1 9 1-3 1-8 1 7 1 1 1-1 1-5 1 3 1-1 1-3 1 7 1-5 1 2 1-2 1 5 1-4 1-4 1 0 1-2 1 4 1 1 1-1 1 10 1-8 1-1 1 2 1 0 1 4 1-4 1-4 1 4 1 5 1-4 1-2 1 3 1-2 1-2 1-1 1 7 1-6 1 3 1-5 1 1 1 8 1-14 1 10 1-3 1 0 1-4 1 8 1-5 1 4 1 2 1-6 1 0 1 0 1-1 1 1 1 4 1 4 1-7 1-4 1 7 1 4 1 3 1-3 1 2 1-4 1 3 1-3 1-7 1 7 1-3 1-1 1 3 1-4 1 2 1 6 1-3 1-2 1-3 1 6 1-3 1 2 1 1 1-4 1 4 1-2 1 4 1 0 1-1 1 5 1-6 1-3 1 5 1 2 1 2 1-2 1 1 1-3 1 6 1-7 1 2 1-1 1 1 1 1 1-3 1 2 1 1 1-4 1-4 1 6 1-1 1-2 1 4 1 0 1 7 1-4 1-3 1 0 1-11 1 13 1 1 1-3 1-1 1 2 1 7 1-5 1 1 1-4 1 5 1-3 1 0 1 5 1-6 1 0 1-3 1 2 1 5 1-5 1 3 1-1 1-4 1-4 1 12 1-9 1 0 1-4 1 7 1 0 1-2 1-3 1-4 1 0 1 3 1 0 1 5 1 1 1-4 1 3 1-2 1 1 1 3 1-3 1 1 1 1 1 2 1-5 1 3 1-11 1 14 1-7 1-3 1 6 1 2 1 1 1-2 1-5 1 4 1-1 1-2 1-1 1 4 1 1 1-8 1 2 1 4 1 1 1 2 1-10 1 8 1-5 1-6 1 10 1-3 1-1 1 2 1 2 1-5 1 3 1-5 1 7 1-2 1-1 1 0 1 2 1 0 1-1 1-3 1-5 1 5 1 1 1 0 1-5 1 5 1-7 1-1 1 2 1 2 1-4 1-3 1-2 1 9 1-4 1 2 1-4 1 3 1-1 1-1 1-3 1 0 1 6 1-12 1 7 1 6 1-3 1-3 1-1 1-3 1 10 1-8 1 1 1 4 1-2 1-2 1-3 1 1 1-4 1 4 1-6 1 3 1 1 1 0 1-5 1 2 1-2 1-1 1 5 1-1 1-4 1 3 1-6 1 2 1-2 1 3 1 5 1-3 1-1 1 2 1-2 1 1 1-5 1 4 1-3 1 3 1-1 1 0 1-5 1 9 1-8 1 0 1 0 1-2 1-3 1 5 1 2 1-5 1-7 1 3 1 4 1-5 1 2 1 0 1-1 1 4 1 2 1-10 1 1 1 10 1-3 1-1 1-4 1 3 1-6 1 13 1-6 1 0 1-2 1 4 1-5 1-1 1-4 1 2 1 0 1 3 1-7 1-2 1 0 1-1 1 7 1-13 1 6 1 3 1-1 1-4 1 0 1-4 1 1 1-5 1 9 1-3 1-1 1 0 1-1 1 2 1 0 1 6 1-8 1 2 1 0 1 3 1-2 1 2 1-3 1-1 1 0 1-1 1-2 1-1 1-5 1 7 1-5 1 2 1 4 1-10 1 7 1-2 1-8 1 6 1-5 1 8 1-4 1 6 1-7 1 4 1-3 1-6 1 8 1-6 1 0 1 7 1-7 1 0 1 5 1-2 1-2 1 7 1-3 1 2 1 2 1-5 1 8 1-12 1 7 1 0 1-9 1 6 1-9 1 11 1-4 1-2 1 0 1-2 1 5 1-3 1-2 1-9 1 13 1 0 1 2 1-3 1-4 1 4 1-3 1 8 1-4 1-3 1-1 1 6 1-1 1-11 1 6 1 7 1-9 1 4 1 2 1 0 1 5 1-2 1-5 1 3 1-2 1 0 1 2 1-4 1 2 1 0 1-4 1 3 1-6 1 4 1-1 1 1 1 6 1-4 1-3 1 2 1 1 1 2 1-1 1-2 1 3 1-5 1-3 1 9 1-4 1 2 1-6 1 3 1 0 1 0 1 8 1-9 1 6 1-5 1 3 1-8 1 5 1 0 1 0 1 1"/><path d="M0 3257l1 21 1 6 1-1 1 3 1-4 1 1 1-1 1 3 1-1 1-1 1 1 1-1 1 4 1-5 1-1 1 2 1 6 1-4 1 3 1 0 1-3 1 3 1 0 1-2 1-2 1 2 1-4 1 3 1-2 1 3 1 0 1-3 1 4 1 1 1-4 1-2 1 3 1-8 1 5 1 4 1 4 1-8 1 7 1 2 1-1 1-12 1 10 1-2 1 2 1-3 1-1 1 1 1 6 1-2 1-3 1 2 1 1 1-1 1-2 1-2 1 0 1 1 1-1 1-3 1 0 1 7 1-7 1 0 1 3 1 4 1-1 1-5 1-2 1 1 1-1 1 1 1 2 1-4 1 1 1 1 1 1 1-2 1 0 1-1 1 1 1 4 1-2 1-8 1 11 1-1 1-3 1 3 1-8 1 4 1 8 1 4 1 0 1-9 1 2 1 3 1-6 1 8 1-7 1 3 1-5 1 4 1-1 1 3 1-7 1 3 1 5 1-10 1 5 1-1 1-3 1 1 1 4 1-1 1-2 1-1 1-4 1 4 1 5 1-2 1-7 1-3 1 5 1 3 1-2 1 0 1 3 1 2 1-2 1 3 1-8 1 6 1 0 1-6 1 9 1-9 1 0 1 13 1-5 1-2 1 2 1-1 1-7 1 5 1 2 1-5 1 1 1-2 1 3 1-4 1 0 1-3 1 1 1 3 1 1 1-3 1-2 1 4 1 0 1 3 1-6 1 1 1 3 1 3 1-5 1 0 1-3 1 2 1 4 1 0 1 1 1-9 1 8 1-6 1 5 1-10 1 7 1-3 1 7 1-4 1 3 1-6 1 7 1-8 1 7 1-8 1-2 1 5 1-5 1 1 1-4 1 9 1 21 1-6 1-18 1-12 1 10 1-5 1 5 1-5 1-2 1 0 1 2 1 1 1-4 1-1 1 3 1 0 1-8 1 1 1 0 1 7 1-3 1-3 1-2 1-7 1 6 1-7 1-3 1 6 1-13 1 6 1-7 1-7 1 0 1-7 1-1 1-7 1-7 1 7 1-15 1-2 1-10 1-5 1-14 1-7 1-17 1 3 1 53 1 80 1 25 1 6 1 14 1-4 1 7 1 3 1 3 1 0 1 1 1 6 1 4 1-7 1 1 1 5 1 7 1-6 1-5 1 9 1 0 1 4 1-6 1 7 1-10 1 6 1-3 1-5 1 3 1 5 1-1 1-5 1 5 1-1 1-1 1-2 1 0 1-4 1 2 1 1 1-3 1 1 1 2 1 0 1 3 1-7 1 2 1 3 1-3 1 3 1-3 1 6 1-4 1-4 1 7 1 3 1-12 1 6 1 1 1 3 1 1 1-6 1-5 1 8 1 1 1-2 1-2 1-3 1 11 1-13 1-2 1 9 1-3 1 1 1-1 1 4 1-1 1-7 1 6 1-8 1-2 1 10 1-5 1-6 1 7 1-2 1 4 1-1 1-3 1 1 1 5 1-6 1 4 1-4 1 5 1 5 1-4 1 1 1-2 1-5 1 2 1 1 1 1 1-4 1 4 1-5 1 2 1 0 1-5 1 7 1-3 1 0 1-1 1-8 1 3 1 1 1 6 1-5 1 4 1-6 1 1 1 1 1 6 1-10 1 6 1 2 1-1 1 0 1 3 1-1 1-5 1 6 1-4 1 1 1 7 1 3 1-3 1-4 1-4 1 0 1 8 1-4 1-6 1 10 1-4 1 2 1-3 1-10 1 5 1 2 1-1 1 5 1-7 1 1 1 0 1 0 1-4 1-1 1-5 1 10 1-2 1 2 1-5 1 4 1-3 1 0 1 5 1 1 1 0 1-2 1-1 1 6 1 0 1-6 1-2 1 5 1 0 1-4 1 11 1-15 1 4 1 4 1 2 1-10 1 5 1 6 1 0 1-6 1 1 1-4 1 4 1-5 1-3 1 1 1 5 1-5 1 9 1 0 1-1 1-1 1 1 1-3 1 2 1-1 1 1 1-6 1 2 1-1 1 6 1-1 1-4 1-1 1 2 1 5 1-3 1-1 1-1 1 2 1 6 1-8 1 1 1 7 1-4 1-7 1 8 1-9 1 6 1-11 1 5 1 7 1-6 1-1 1 3 1-1 1-2 1 0 1 8 1-1 1-4 1-6 1 3 1 0 1 3 1 4 1-7 1 2 1-1 1 2 1-3 1 4 1 3 1-5 1 0 1 2 1-5 1 11 1-11 1 3 1-2 1 8 1-7 1 0 1 8 1-8 1-2 1 2 1 0 1-3 1 1 1-1 1 3 1 0 1 0 1-4 1 3 1-4 1 4 1-3 1-3 1 6 1-10 1 2 1 0 1 3 1-4 1 0 1-2 1 7 1-3 1 10 1-5 1-6 1 9 1-4 1 3 1-7 1 7 1 0 1-5 1-2 1 2 1 2 1 7 1-2 1-2 1-6 1-1 1 2 1-2 1-1 1 0 1 3 1-3 1 0 1-2 1 0 1-1 1 5 1-4 1 4 1-6 1 4 1-8 1 3 1 1 1-2 1 2 1-3 1 3 1-2 1 2 1-1 1-2 1 2 1 1 1-4 1 4 1 4 1-5 1 2 1 0 1-5 1 7 1 4 1-12 1 10 1-10 1 7 1-12 1 10 1-4 1-5 1 1 1-1 1 0 1 4 1-2 1-9 1 8 1 2 1-1 1 5 1-12 1 7 1-1 1 2 1-7 1 0 1 4 1 1 1-6 1 7 1-1 1 2 1-11 1 10 1-5 1 2 1 4 1 3 1-6 1-1 1 4 1-8 1 2 1-1 1-3 1 4 1 6 1-7 1 0 1-2 1 3 1-3 1-4 1 3 1 4 1-6 1 4 1-4 1 7 1-6 1 1 1-4 1 4 1-3 1-5 1 7 1-5 1 9 1-2 1-3 1 3 1-12 1 15 1-8 1 5 1 6 1-14 1 4 1 2 1 0 1-7 1 2 1 8 1-7 1 3 1-7 1 1 1-3 1 6 1 3 1-4 1-2 1 1 1 1 1-3 1 2 1 5 1 1 1-10 1-3 1 11 1-3 1 1 1-2 1-3 1 4 1 1 1 0 1-8 1 8 1-5 1 0 1 3 1-2 1 9 1-6 1-1 1-1 1 1 1-1 1 2 1 1 1 0 1-7 1 3 1 1 1-5 1 5 1-2 1 1 1 1 1-4 1 7 1-2 1-5 1 3 1 1 1-5 1 1 1 4 1-11 1 4 1 6 1 1 1-5 1 6 1 5 1-6 1-1 1 1 1-4 1 6 1-1 1 2 1 2 1-4 1 0 1 1 1 5 1-11 1 4 1-2 1 3 1 2 1-3 1 2 1-2 1-3 1 0 1-3 1 5 1-2 1 4 1 0 1-6"/><path d="M0 3388l1 19 1 0 1 2 1-7 1 1 1-2 1-2 1-1 1 2 1 4 1-5 1 2 1 0 1-3 1 3 1-4 1 2 1 1 1 2 1-4 1 4 1-5 1 0 1 5 1 5 1 1 1-1 1-2 1 5 1-4 1-3 1 5 1-5 1-1 1 5 1 1 1-4 1-2 1 3 1 1 1-5 1 2 1 2 1 0 1 4 1-3 1-11 1 12 1-6 1 4 1-6 1 7 1-7 1 8 1 3 1-6 1 4 1-2 1 0 1-2 1 3 1 1 1-5 1 10 1-9 1 3 1 0 1 0 1-1 1 7 1-7 1 0 1 2 1-4 1-3 1 8 1-5 1 4 1-1 1 2 1-3 1-2 1-6 1 8 1-6 1 7 1-5 1-1 1 3 1-1 1 1 1 3 1 2 1-4 1 4 1-4 1-5 1 2 1 2 1 0 1 2 1-5 1-1 1 6 1-4 1 7 1-10 1 1 1 9 1-13 1 0 1 5 1-4 1 2 1 4 1-4 1 0 1 3 1-6 1-2 1 6 1 0 1 2 1-4 1 1 1 1 1 2 1 2 1-2 1-8 1 7 1-1 1 0 1 0 1 3 1-8 1 8 1 1 1 0 1-5 1-2 1 0 1 2 1 7 1-8 1 2 1 4 1-1 1-3 1 2 1 2 1-3 1-1 1-2 1 1 1 1 1-4 1 3 1 7 1-7 1-1 1 1 1 4 1 3 1-1 1 4 1-7 1 2 1 0 1-1 1 5 1-7 1 2 1-4 1 5 1-3 1-3 1 0 1-2 1 3 1 0 1 0 1-2 1 4 1-2 1 0 1-1 1-3 1 4 1 4 1-1 1-3 1-5 1 1 1 1 1 2 1-1 1 13 1 23 1-18 1-22 1-1 1 4 1 0 1-4 1 2 1-7 1 1 1 2 1-5 1 4 1-4 1 4 1-7 1 2 1-2 1-5 1-4 1 5 1-5 1 2 1 5 1-13 1 4 1-5 1-2 1-3 1 1 1 3 1-3 1-8 1-3 1-4 1-2 1-5 1-2 1-8 1 1 1-9 1-6 1-7 1-11 1-1 1-12 1 81 1 36 1 10 1 5 1 3 1 5 1 2 1-2 1 4 1 7 1-2 1 0 1 3 1 4 1-5 1 5 1 2 1 0 1-2 1-5 1 8 1 7 1 1 1-7 1 8 1-2 1-3 1-3 1 2 1-1 1 2 1-5 1 0 1 3 1-1 1 3 1-5 1 6 1 1 1-8 1 5 1 3 1-5 1 4 1-4 1 1 1-2 1 0 1 7 1-7 1-4 1 5 1 4 1-4 1 6 1 0 1-3 1-1 1-1 1-1 1 9 1-4 1-3 1 1 1 1 1 3 1-2 1-4 1-2 1-3 1 5 1 5 1-5 1 0 1-3 1 0 1-4 1 1 1 10 1-5 1 3 1-5 1 5 1-2 1-5 1-4 1 2 1 7 1 2 1-4 1 1 1 4 1-3 1-3 1 5 1 2 1-11 1 6 1-1 1-2 1 7 1-3 1 5 1-5 1-4 1-1 1 4 1-3 1-1 1 0 1 0 1 3 1-6 1 2 1 1 1 3 1-2 1 4 1-5 1 2 1-2 1 2 1 0 1-1 1-1 1 1 1 6 1-7 1-1 1-1 1 4 1-4 1 1 1-1 1 4 1-4 1 3 1 0 1-3 1-3 1 0 1 6 1-1 1-8 1 4 1-4 1 10 1-7 1-5 1 2 1-2 1 1 1 4 1-3 1 6 1-7 1 5 1-6 1 5 1 3 1-3 1 4 1-3 1 6 1-5 1-3 1 0 1 4 1 3 1-4 1-7 1 2 1-4 1 2 1 4 1-8 1 4 1 10 1-8 1 1 1-2 1 2 1 9 1-13 1 3 1-1 1 9 1-16 1 9 1 11 1-4 1-2 1-2 1-3 1 7 1 0 1 0 1 1 1-5 1 2 1-5 1 2 1 1 1-6 1 8 1-2 1-2 1-2 1 5 1-3 1 6 1-5 1 0 1 2 1 4 1-5 1 1 1-1 1-3 1 8 1-5 1 5 1-1 1-3 1 7 1-7 1-4 1 6 1 0 1 0 1-2 1 2 1 0 1 1 1 1 1 0 1-5 1 1 1 6 1-5 1 2 1-11 1 0 1 9 1-3 1-6 1 8 1-4 1 5 1-4 1 2 1-1 1-3 1-1 1 9 1-8 1-1 1 2 1 2 1-4 1 8 1-10 1-6 1 7 1-2 1 0 1 7 1-5 1 1 1-4 1 3 1-1 1 0 1 9 1-8 1-4 1 3 1 1 1 0 1-2 1-3 1-4 1 4 1 1 1-5 1 4 1 2 1-2 1-1 1 2 1-1 1 2 1 2 1 0 1-7 1 4 1-5 1 5 1-1 1 2 1-2 1 2 1 0 1 6 1-6 1-3 1 2 1 5 1-5 1-8 1 1 1 6 1-2 1-1 1 2 1 0 1-1 1-3 1 0 1 4 1 2 1-5 1 3 1-5 1 2 1-1 1 5 1 3 1-4 1 0 1 2 1 5 1-7 1-3 1 1 1-7 1 6 1 4 1 0 1-4 1-3 1 1 1-6 1 10 1-3 1-2 1 6 1-4 1-7 1 7 1-3 1-5 1 10 1-4 1-2 1 7 1-6 1 3 1-5 1-4 1 2 1 9 1-7 1 13 1-18 1 11 1-7 1 6 1-3 1-3 1 6 1 1 1 0 1 0 1-4 1-2 1 3 1-5 1-1 1-5 1 8 1 0 1-3 1-4 1 8 1-2 1 4 1-5 1 2 1-4 1 1 1 0 1 0 1-2 1 4 1 3 1-5 1 5 1-3 1-1 1 3 1-5 1-6 1 10 1-5 1 0 1 4 1-6 1 7 1-10 1 5 1 2 1 1 1-3 1-3 1-1 1-1 1 5 1-3 1 1 1 3 1-10 1 3 1 3 1-1 1 1 1 0 1-7 1 8 1-3 1-2 1 6 1-5 1 7 1-1 1-1 1-2 1 2 1-2 1 3 1-3 1 2 1-1 1-2 1-4 1 6 1-1 1-5 1-6 1 2 1 3 1 4 1-7 1 7 1-4 1 2 1-6 1 5 1 0 1-2 1 3 1-3 1 1 1 1 1 2 1 3 1 1 1-8 1-5 1 11 1-4 1-1 1 5 1 0 1-4 1 6 1-5 1-2 1 6 1-11 1 18 1-7 1-2 1 3 1-2 1-2 1 1 1-6 1 7 1-2 1-4 1 3 1 5 1-1 1-3 1 9 1-6 1-2 1 2 1 5 1 1 1-5 1-1 1 0 1-1 1-2 1 6 1 6 1-6 1-3 1 2 1-1 1-3 1 7 1-4"/><path d="M0 3532l1 9 1 0 1-8 1 7 1-3 1 1 1 1 1 2 1-7 1 1 1 4 1-5 1 3 1-2 1-5 1 4 1 4 1-4 1-3 1 4 1 2 1 1 1 0 1 1 1-5 1 2 1-1 1 2 1 2 1 3 1-4 1 3 1 1 1-7 1 1 1 3 1-5 1 10 1-11 1 1 1 6 1-4 1 4 1-5 1 6 1-5 1 4 1 1 1-8 1 2 1-2 1 2 1 6 1-3 1 3 1 2 1-1 1-1 1-3 1 0 1 2 1 2 1 1 1-2 1-2 1 1 1 5 1-4 1 5 1-9 1 5 1-2 1 1 1-4 1 3 1-2 1 0 1-3 1-1 1 3 1 2 1-1 1 0 1 0 1-5 1 7 1-3 1-3 1 1 1 4 1-2 1-5 1 11 1-11 1 10 1-3 1-5 1 7 1 0 1-1 1-1 1-1 1 0 1-2 1 2 1 3 1-4 1 6 1-11 1 5 1-5 1-1 1 6 1-2 1-1 1-1 1 2 1-4 1 4 1-1 1-3 1 5 1-7 1 7 1 0 1 1 1-2 1 3 1-3 1-3 1 5 1-4 1 2 1 1 1-3 1 6 1-7 1 8 1-4 1 6 1-2 1-2 1-1 1 0 1-5 1 2 1-1 1 0 1 2 1-2 1 2 1-1 1-1 1 2 1 0 1-6 1 3 1 10 1-9 1 1 1-4 1 5 1 2 1-3 1-2 1 0 1-5 1 7 1-3 1 2 1 0 1 0 1 5 1-3 1-5 1 4 1-1 1-2 1 4 1-5 1-5 1 2 1 4 1-4 1 3 1-6 1 6 1-3 1-2 1 1 1 0 1 3 1-2 1-2 1 1 1 2 1-2 1 4 1-8 1 25 1 7 1-23 1-6 1 0 1 1 1-2 1-5 1 3 1 1 1 3 1-5 1 0 1 3 1-5 1-2 1 2 1 0 1-2 1-7 1 3 1 3 1-6 1 3 1-3 1-5 1 4 1-11 1-2 1 0 1 4 1-4 1 0 1-4 1-2 1-5 1-2 1 1 1-5 1-9 1 1 1 0 1-8 1-10 1-1 1-7 1 5 1 65 1 9 1 1 1 8 1 3 1 5 1 9 1-4 1 5 1 1 1 1 1-3 1 7 1-5 1 6 1-2 1 1 1-2 1-1 1 0 1 3 1 0 1 1 1-2 1 4 1-2 1-1 1-1 1 1 1 2 1-4 1-2 1 5 1 1 1-2 1 1 1-5 1 1 1 3 1 0 1-4 1 6 1-8 1 10 1-8 1 2 1-2 1-1 1 3 1-6 1 5 1 2 1-2 1 0 1-5 1-1 1 1 1 8 1-2 1-7 1 11 1-3 1 1 1 0 1 1 1-10 1 6 1-3 1 10 1-4 1-3 1 0 1-6 1 7 1-3 1 8 1-2 1-3 1-1 1 6 1-6 1 6 1-3 1-2 1 2 1 5 1-12 1 8 1 0 1-3 1 5 1-2 1-1 1-5 1 5 1-6 1 6 1 5 1-10 1 8 1-8 1 4 1 2 1-7 1 6 1-4 1 1 1 5 1-3 1 2 1-1 1 1 1 4 1-5 1-1 1 1 1 2 1-1 1-8 1 6 1 2 1 7 1-11 1 1 1-3 1 3 1-6 1 3 1 2 1-5 1 4 1-2 1 7 1 1 1 1 1-7 1 2 1 6 1-10 1 7 1-8 1 6 1-8 1 4 1 0 1 0 1-6 1 7 1-1 1 6 1-3 1-9 1 7 1 3 1-4 1-2 1-2 1 3 1-2 1 2 1-1 1 6 1-8 1 4 1-5 1 4 1 3 1-6 1-2 1 4 1 0 1-2 1 3 1-1 1 2 1-7 1 7 1 2 1-7 1 10 1-6 1-5 1 1 1 1 1 1 1 1 1 2 1-1 1-1 1-2 1-3 1 4 1-2 1 7 1-11 1 12 1-14 1 9 1 1 1-4 1 0 1 6 1-7 1 4 1 0 1 2 1-7 1 9 1-5 1 4 1-8 1 8 1-4 1 3 1-5 1 6 1-3 1-6 1 14 1-10 1 4 1-2 1-1 1 0 1 5 1 0 1 0 1-9 1 8 1-8 1 13 1-7 1 3 1-4 1 0 1-3 1 9 1-8 1 4 1-6 1 2 1-1 1 1 1-2 1 4 1 0 1-8 1 4 1-3 1 8 1-7 1 5 1 0 1-1 1-6 1 12 1-6 1 3 1 1 1-7 1 1 1 9 1 1 1-10 1 3 1 3 1-4 1 5 1-2 1-3 1 3 1-4 1 5 1-6 1 6 1 4 1-15 1 12 1-11 1 5 1 6 1-2 1-2 1-1 1-1 1 1 1-2 1 0 1-3 1 10 1-6 1 7 1-4 1-1 1-5 1 3 1 1 1-1 1-1 1-7 1 7 1 0 1-1 1 0 1-4 1 2 1 8 1-9 1 1 1-1 1 2 1-2 1 8 1-11 1 8 1-6 1 2 1 7 1-9 1 0 1-10 1 8 1 1 1 1 1 0 1-5 1 0 1 6 1-4 1 1 1 2 1-2 1 0 1-4 1 3 1-6 1 12 1-9 1 8 1-8 1 1 1 5 1-4 1-1 1-2 1 0 1-2 1-1 1-4 1 6 1-3 1 7 1 2 1-1 1-11 1 3 1 1 1-5 1 10 1-3 1-1 1 5 1-5 1-2 1 2 1-3 1 3 1-6 1 7 1-3 1 0 1 0 1 1 1-6 1 8 1-3 1 7 1-6 1 3 1-4 1 0 1-4 1 2 1-1 1-6 1 7 1-2 1 4 1 2 1-5 1 5 1 0 1-1 1-4 1 1 1 6 1-1 1-1 1-10 1-1 1 13 1-3 1 2 1-2 1-3 1 2 1-1 1 5 1-2 1-7 1 1 1 6 1-1 1-2 1 0 1-6 1 1 1 5 1-9 1 8 1 0 1 0 1 0 1 4 1-6 1-4 1-4 1-2 1 8 1 2 1-9 1 7 1-4 1 2 1 1 1 0 1-5 1 7 1-3 1-6 1 9 1 3 1-7 1 7 1-11 1 4 1 5 1 0 1-3 1 2 1-5 1 4 1 0 1 0 1-2 1 1 1-2 1 1 1-8 1 7 1-5 1 1 1 2 1 0 1-5 1 2 1 3 1-2 1 1 1 1 1 0 1-3 1 3 1 2 1-7 1 8 1-6 1 5 1 1 1 0 1-6 1 1 1-1 1 6 1-1 1-7 1 9 1 1 1-5 1 1 1 1 1-4 1 2 1 3 1-3 1 1 1 0 1 5 1-5 1 0 1-2 1 5 1-4 1 0 1 5 1 0 1-8 1 2 1 6 1-6 1 7 1-5 1 7"/><path d="M0 3613l1 36 1-2 1 10 1-3 1-7 1 9 1-5 1 4 1-5 1-1 1 1 1-2 1 5 1-3 1 5 1-2 1-7 1 4 1 1 1-3 1 4 1 0 1-5 1-1 1 4 1-3 1 3 1-2 1 2 1 2 1 2 1-7 1 8 1 0 1-3 1-2 1 2 1 0 1 3 1-1 1-1 1 2 1 2 1-2 1 1 1 1 1-1 1 0 1 2 1-8 1 1 1-2 1 5 1-2 1 4 1-4 1-1 1 2 1-4 1 8 1-5 1-4 1 3 1 1 1 4 1-7 1 6 1-2 1-2 1 10 1-10 1-8 1 10 1-2 1 0 1 2 1 0 1-5 1 1 1-1 1 0 1-1 1 6 1-6 1 1 1-2 1 3 1 0 1 0 1-1 1-2 1-3 1 10 1-5 1 2 1-3 1 3 1 3 1 3 1-3 1 2 1-2 1 2 1-2 1-1 1 0 1 0 1 7 1-7 1-3 1 5 1-3 1 2 1-2 1 4 1-1 1-3 1-2 1 2 1-4 1 3 1 0 1 0 1 5 1-5 1 1 1 4 1-4 1-1 1-1 1-1 1 2 1 2 1-1 1 3 1-7 1 6 1-2 1 5 1-10 1 7 1-1 1-2 1 6 1-5 1 0 1 3 1-3 1-2 1 2 1-1 1 3 1-3 1 4 1-5 1-1 1 6 1-7 1 4 1-7 1 4 1 3 1-2 1 2 1 0 1 5 1-4 1-1 1 1 1 0 1 2 1-3 1 0 1 0 1 1 1 2 1-2 1-9 1 8 1-4 1-1 1-1 1 2 1 2 1-1 1-1 1 4 1 3 1-2 1-7 1 2 1-6 1 5 1-2 1 4 1-2 1-2 1 0 1 1 1-4 1 5 1 21 1-8 1-17 1-13 1 4 1 14 1-13 1 4 1-1 1 0 1-3 1 0 1 1 1-1 1-3 1 0 1 0 1 4 1-8 1 1 1-5 1-6 1 5 1-2 1-4 1 2 1 2 1-10 1 3 1 3 1-7 1-3 1-6 1-1 1-5 1-2 1 0 1-8 1 9 1-4 1-6 1-16 1-28 1-5 1 6 1 2 1 25 1 50 1 28 1 13 1 1 1 11 1 2 1 3 1 0 1 7 1 5 1 3 1-3 1 5 1-3 1 6 1-9 1 7 1-7 1 9 1-4 1 1 1-2 1 3 1-2 1 10 1-13 1 7 1 2 1 1 1-1 1 0 1-1 1 0 1 7 1-11 1 4 1 1 1 0 1-4 1 10 1-3 1 0 1-1 1 1 1-7 1 6 1 4 1-3 1-6 1 2 1 2 1 2 1-1 1-6 1 4 1-4 1 5 1-6 1 3 1-4 1 9 1-11 1 6 1 7 1-6 1 1 1-6 1 3 1 1 1 5 1-1 1-3 1 5 1-9 1 3 1-1 1 3 1-2 1 6 1-3 1-4 1 1 1 4 1-8 1 7 1-2 1-6 1 7 1-7 1 9 1-5 1-4 1 6 1-4 1 8 1-9 1 6 1-6 1 3 1 4 1-3 1-8 1 10 1 3 1 1 1 1 1-7 1 1 1 1 1 1 1-2 1-1 1 10 1-10 1-3 1 7 1-3 1 0 1 2 1-3 1 5 1-1 1-4 1 1 1 0 1 1 1 1 1-5 1 1 1 2 1-3 1 8 1-7 1-4 1 3 1 4 1 2 1-7 1 3 1 7 1-7 1 10 1-5 1-5 1 3 1 0 1-4 1 7 1-6 1 4 1 4 1-7 1 4 1-2 1 1 1 1 1 2 1 2 1-3 1-1 1-3 1 7 1-7 1 1 1 0 1 4 1-4 1 3 1-3 1 7 1-7 1 4 1 3 1-3 1 1 1-5 1 5 1-4 1 3 1-2 1 2 1 0 1-4 1 2 1-2 1 10 1-8 1-1 1-4 1 12 1-10 1-1 1 6 1 1 1-2 1-4 1 6 1 1 1-5 1 2 1-2 1-8 1 7 1-2 1 0 1 0 1-1 1-1 1 1 1 6 1-5 1 1 1 3 1 1 1-4 1 1 1 4 1-8 1-3 1 10 1-1 1-2 1-3 1 2 1-2 1 5 1 0 1 1 1 1 1-2 1 2 1-3 1 0 1-6 1 4 1 2 1 0 1-1 1-2 1 4 1 0 1-5 1 8 1-10 1 4 1-1 1 1 1 1 1-4 1 3 1-2 1-2 1 5 1-1 1 1 1 6 1-11 1 8 1-4 1-1 1-4 1 2 1 2 1-2 1-1 1 2 1-1 1 0 1 2 1-1 1-5 1 3 1 6 1-8 1 2 1 0 1 0 1 1 1-1 1 6 1-8 1-6 1 5 1-2 1 3 1 5 1-1 1-5 1 1 1 0 1-1 1 2 1-1 1-2 1 4 1-2 1 1 1 0 1 5 1-4 1 1 1 1 1-5 1-1 1-6 1 9 1-5 1-4 1 8 1-1 1-3 1-2 1 4 1-5 1-7 1 1 1 5 1 4 1-2 1 1 1-6 1-2 1 4 1-3 1 3 1 1 1 3 1-7 1 1 1-5 1 0 1 3 1-1 1 4 1-3 1-4 1 4 1 1 1 0 1-2 1 1 1 2 1-3 1-3 1-2 1 6 1-5 1-7 1 9 1-4 1-2 1 3 1-6 1 5 1 2 1-2 1-5 1 4 1 0 1 1 1-2 1 3 1-6 1 4 1-1 1-3 1 8 1-4 1 0 1-7 1 9 1-5 1-1 1 7 1-3 1 0 1-8 1 5 1 4 1-4 1-3 1-4 1 11 1-6 1-2 1-1 1-6 1 6 1 1 1 4 1-13 1 11 1-6 1 7 1-2 1-6 1-2 1 6 1-5 1 8 1-4 1-4 1 6 1 0 1-6 1 7 1-4 1 7 1-10 1 3 1 1 1-4 1 0 1 7 1-6 1 0 1-5 1 8 1 2 1-7 1 2 1-1 1 3 1-4 1-4 1 4 1 1 1 0 1-7 1 9 1-9 1 8 1-2 1-4 1 4 1 0 1-3 1 5 1-3 1 0 1-1 1-4 1 1 1 1 1 0 1-3 1 2 1 0 1 3 1-1 1 1 1-7 1 6 1-5 1-1 1 0 1 0 1 2 1-3 1-2 1 1 1 5 1-5 1 12 1-13 1 6 1-4 1 3 1 5 1-3 1 0 1 3 1-1 1-9 1 11 1-3 1-5 1 2 1 4 1-1 1-1 1 2 1-5 1 12 1-9 1-5 1 8 1-13 1 11 1 1 1-2 1-3 1 0 1 3 1-4 1 1 1-1 1 3 1-1 1 1 1-9 1 11 1-5 1 7 1-2 1-9 1 6 1-2 1-1 1 5 1 1"/><path d="M0 3752l1 28 1-2 1 1 1 7 1-2 1-5 1 10 1-7 1 0 1 1 1 1 1-2 1 1 1 3 1 0 1-5 1 2 1-2 1 1 1 1 1-1 1 2 1-4 1 3 1 1 1-3 1 0 1 2 1-3 1 0 1 1 1-8 1 9 1-1 1 1 1-6 1 3 1 2 1 0 1-3 1 0 1 6 1-3 1 2 1-7 1 5 1-3 1 1 1 5 1-7 1 0 1 1 1 1 1 1 1 1 1 3 1-3 1 4 1-2 1-2 1-2 1 5 1-5 1 3 1-3 1-1 1 3 1 0 1-1 1 3 1-3 1-3 1 3 1 5 1-8 1-2 1 5 1-2 1 7 1-3 1-3 1 2 1-2 1 4 1 2 1 1 1 0 1-3 1 3 1-2 1-5 1 8 1-7 1 1 1-3 1 3 1-4 1 2 1 1 1-1 1 3 1 3 1-3 1 2 1 2 1-5 1 6 1-4 1 0 1 1 1 3 1-8 1 7 1-4 1 1 1-3 1-4 1 11 1-1 1-6 1 1 1-1 1 3 1 6 1-6 1-5 1 7 1-5 1-2 1 6 1-2 1 1 1 1 1 1 1-10 1 7 1 2 1 0 1-7 1-2 1 2 1 4 1-2 1 3 1-3 1-3 1 0 1 3 1 3 1 2 1-7 1 4 1-1 1-4 1 0 1 9 1-6 1 1 1 1 1 0 1 1 1-4 1 1 1 2 1 0 1-4 1-3 1 8 1 0 1 0 1-4 1-5 1 4 1 7 1-5 1 0 1-6 1 3 1 5 1-2 1-1 1 4 1-2 1 0 1-2 1 1 1 2 1-2 1-4 1 3 1 0 1 2 1 2 1-4 1-1 1 4 1-1 1-4 1 3 1-1 1 0 1-5 1 13 1 21 1-19 1-9 1-1 1-7 1 8 1-8 1 0 1 9 1-11 1 6 1 0 1 0 1-2 1-1 1 3 1-5 1 0 1 0 1-3 1 0 1 4 1 0 1-3 1-3 1-2 1-1 1-1 1-1 1 0 1-2 1 2 1-9 1 1 1 2 1-6 1-2 1 1 1-5 1-2 1 12 1 4 1-21 1-16 1-23 1 7 1 1 1 3 1-3 1 30 1 28 1 20 1 7 1 9 1 4 1 9 1 2 1 6 1 1 1 1 1 1 1 4 1 2 1-6 1 7 1-2 1 3 1 2 1-9 1 7 1 4 1-9 1 7 1-1 1-2 1 5 1 0 1-3 1 5 1 0 1-4 1 2 1 0 1 3 1-3 1 0 1-2 1 2 1 3 1-5 1 0 1-3 1 12 1-10 1 0 1-1 1 6 1-2 1-8 1 7 1 5 1-6 1 0 1 9 1-10 1 0 1 2 1 6 1-7 1-7 1 4 1 0 1 3 1-4 1 1 1-5 1 0 1 4 1 5 1-9 1-2 1 9 1-3 1 1 1-3 1 1 1-1 1 0 1 6 1-8 1 0 1 1 1 0 1 6 1-7 1 2 1-6 1 6 1 0 1 0 1-8 1 3 1-7 1 14 1-6 1 5 1 1 1-3 1-6 1 1 1 3 1-10 1 11 1 1 1-3 1-4 1 2 1-6 1 2 1 2 1-1 1 8 1-4 1-10 1 12 1-2 1-2 1-2 1 9 1-6 1 0 1-6 1 4 1 5 1-3 1-2 1 0 1-4 1-3 1 10 1-7 1-1 1 7 1 1 1-4 1 5 1-4 1-11 1 16 1-9 1 9 1-6 1 0 1-1 1-2 1 6 1 3 1-1 1-6 1 4 1 2 1-2 1-6 1 11 1-9 1-1 1 4 1 0 1-3 1-3 1 0 1 4 1-6 1 10 1-2 1-2 1 0 1-4 1 1 1 4 1-5 1 7 1-2 1-1 1-4 1-2 1 2 1-3 1 2 1 0 1-1 1 6 1-7 1 1 1 6 1-3 1 1 1-4 1 3 1 4 1-5 1 1 1 3 1-2 1 2 1-8 1-2 1 2 1 5 1-4 1-5 1 13 1-2 1-6 1-1 1 0 1 5 1-1 1-2 1 4 1-7 1-1 1 4 1-1 1 1 1 1 1-6 1 10 1-11 1 7 1 0 1 2 1-2 1-3 1 2 1-4 1 4 1 0 1-5 1 14 1-10 1 4 1 2 1-4 1-2 1-2 1 1 1 0 1 2 1 3 1-2 1 4 1-4 1-1 1-11 1 10 1 1 1-6 1 5 1-3 1 2 1 1 1-1 1 0 1 2 1 0 1-4 1 6 1-3 1 1 1 4 1 0 1 2 1-8 1 2 1 0 1-2 1-1 1 3 1 1 1 3 1-9 1 3 1-5 1 2 1-8 1 15 1-13 1 6 1-7 1 4 1-2 1-4 1 3 1 3 1 0 1-6 1 8 1-3 1-3 1 9 1-8 1 3 1 5 1-5 1-1 1 4 1-5 1 1 1-1 1 0 1 3 1-2 1 4 1-3 1-7 1 6 1-2 1-1 1 4 1-2 1-7 1 12 1-7 1-6 1 4 1 3 1-6 1 1 1-3 1 7 1-3 1 7 1-4 1-1 1-2 1 5 1-8 1 6 1 0 1-4 1-1 1 8 1 2 1-5 1 5 1-5 1-2 1-1 1-3 1 7 1-5 1-1 1 4 1 0 1-5 1 3 1-1 1 0 1-1 1-1 1-7 1 6 1 5 1-5 1 1 1 2 1-6 1 3 1-1 1 2 1 1 1-2 1-1 1 3 1-3 1-5 1 9 1-3 1-4 1 2 1-3 1 3 1-6 1 9 1-3 1-5 1 5 1-7 1 3 1-2 1 5 1 0 1-8 1 5 1 1 1-3 1 9 1-14 1 9 1 1 1-7 1-3 1 8 1-13 1 8 1-5 1 5 1-2 1-2 1 6 1 2 1-9 1 7 1-2 1-2 1 0 1 4 1 2 1-5 1-8 1 11 1-1 1-8 1 5 1 1 1-1 1 2 1-4 1 5 1-12 1 11 1-4 1 2 1 2 1 3 1-8 1 3 1-3 1 3 1-2 1-2 1 8 1-2 1-1 1 4 1-10 1 8 1 4 1-7 1-1 1 0 1 7 1 0 1-3 1 2 1-5 1 1 1 4 1-6 1 3 1 0 1-3 1 3 1-5 1 2 1-5 1 2 1 2 1 4 1-2 1-4 1 3 1 9 1-8 1 1 1-8 1 5 1 6 1-9 1 2 1 0 1 3 1 2 1-8 1 8 1-11 1 6 1 4 1-5 1 1 1 1 1 7 1-9 1 7 1 3 1-8 1-2 1 3 1-4 1 2 1-3 1-1 1-1 1 8 1-5 1-2 1 7 1-4 1-1 1-1 1 3 1-2 1 0 1 1 1 3"/><path d="M0 3885l1 32 1-4 1 0 1 4 1 2 1-8 1 3 1-4 1 4 1 1 1-6 1 3 1-4 1 1 1 4 1 1 1-1 1-5 1 6 1-1 1 7 1-8 1 4 1-11 1 9 1 0 1 1 1-3 1 0 1 1 1 2 1 2 1-4 1 0 1 1 1 2 1-1 1 0 1-1 1-1 1 2 1 4 1-5 1 2 1-1 1 1 1 8 1-10 1 1 1 0 1 2 1-5 1 2 1-1 1 4 1-5 1 2 1-4 1 4 1-4 1 2 1 0 1 3 1 1 1-2 1-1 1 5 1-5 1 3 1 0 1-3 1-2 1 3 1 3 1 0 1 0 1 1 1-4 1-5 1 7 1-3 1-4 1 6 1-7 1 10 1-12 1 6 1 3 1-2 1-4 1-3 1-1 1 6 1-1 1-3 1 2 1-3 1 8 1 0 1-1 1-9 1 6 1 5 1-2 1-2 1-2 1 4 1-6 1 6 1-7 1 7 1-4 1 0 1 3 1 1 1-3 1 4 1-8 1 5 1 3 1-3 1-1 1 5 1 0 1-4 1 4 1-3 1-4 1 1 1 4 1-2 1 1 1-1 1 0 1 5 1-5 1-3 1 4 1-2 1 2 1 4 1-9 1 4 1-1 1 9 1-9 1 0 1 1 1 1 1-5 1 4 1 5 1-2 1-1 1 3 1-2 1-5 1 8 1 0 1-3 1-2 1 5 1-4 1 2 1-6 1-1 1 3 1-6 1 3 1-2 1 1 1-4 1 8 1-2 1-4 1 3 1 3 1 1 1-5 1 4 1-2 1-5 1 5 1-3 1 8 1-12 1 6 1-1 1 6 1-9 1 2 1-6 1 10 1-7 1 2 1-1 1 4 1-3 1 3 1-3 1 1 1-2 1 0 1 0 1 19 1 11 1-24 1-9 1 4 1-6 1 6 1-7 1 8 1-6 1-1 1 3 1-7 1 2 1 5 1-7 1 5 1-4 1 4 1-8 1-2 1 4 1 4 1-10 1 2 1-4 1 6 1 1 1-6 1-6 1 10 1-9 1-1 1 1 1-7 1-2 1 1 1-2 1 1 1-1 1-8 1-1 1-2 1 16 1-11 1-18 1-23 1-10 1 1 1 9 1-14 1 3 1 13 1 11 1 11 1 16 1 12 1 19 1 24 1 0 1 7 1 5 1 5 1 10 1-7 1 7 1 2 1 4 1-2 1-1 1 0 1 3 1 2 1 1 1 6 1-3 1 0 1 1 1-5 1 5 1 1 1-8 1 9 1-9 1 8 1-3 1-3 1-2 1 3 1 6 1 0 1-8 1 7 1 4 1-5 1 3 1-6 1 4 1 1 1-8 1 5 1 0 1 1 1 1 1-6 1 3 1-5 1 2 1 6 1-4 1 6 1-11 1 8 1-4 1 4 1-3 1 0 1-1 1 0 1-4 1 4 1-1 1-2 1 2 1-2 1 1 1-4 1 2 1 4 1-5 1 1 1 2 1 0 1-6 1-8 1 10 1 6 1-9 1 6 1-5 1 4 1-1 1-4 1-6 1 10 1-10 1 8 1-6 1 2 1-1 1-4 1-4 1 16 1-3 1-3 1-5 1-5 1-1 1 6 1 4 1-4 1 0 1-5 1 2 1-6 1-1 1 6 1-2 1 2 1-6 1 4 1 3 1 1 1-3 1-1 1 3 1-5 1-1 1 7 1-6 1 1 1 3 1 1 1 6 1-16 1 6 1-4 1 2 1-4 1 7 1 1 1-2 1-1 1-3 1 3 1 4 1-7 1 3 1 0 1-5 1 4 1-5 1 5 1 2 1-2 1 0 1-4 1 3 1 2 1 4 1-9 1 0 1 4 1-6 1 10 1 2 1-12 1 8 1-7 1 10 1-1 1-2 1 2 1-6 1 1 1-2 1-1 1 4 1-3 1-1 1-2 1 6 1-2 1-3 1 7 1-5 1-9 1 9 1 0 1-4 1 4 1-1 1 4 1-1 1-4 1 2 1 0 1-3 1 4 1 2 1-7 1-7 1 14 1-5 1 3 1-6 1-1 1 4 1-3 1 4 1-3 1 9 1-7 1 3 1-5 1 7 1-5 1 5 1-5 1 4 1-4 1-3 1 4 1-6 1 4 1 3 1-3 1 0 1-3 1 3 1 2 1 7 1-14 1 5 1-4 1 7 1-1 1-2 1 2 1-4 1 5 1-3 1 2 1 5 1 0 1-8 1 1 1-2 1 4 1-3 1 2 1 0 1-8 1 2 1-1 1 8 1-6 1-2 1 4 1 0 1 1 1-7 1 7 1-2 1-1 1 1 1-2 1-2 1 2 1-1 1 3 1-7 1 0 1 7 1-6 1 3 1-1 1 1 1 0 1 0 1 1 1 2 1 1 1-8 1 6 1-3 1-2 1 1 1 1 1-8 1 8 1-3 1 1 1-1 1-1 1-2 1 5 1-2 1-5 1 15 1-10 1 3 1-7 1 5 1-3 1 4 1 4 1-7 1 1 1 0 1-2 1 1 1 8 1-5 1 4 1-7 1 7 1-9 1 6 1-5 1-2 1 6 1 4 1-4 1 1 1-1 1-2 1 0 1 2 1-2 1 0 1-5 1 14 1-12 1 5 1 1 1-2 1 3 1-1 1-2 1 0 1 1 1 1 1-6 1-1 1 0 1 4 1-7 1 2 1 3 1-1 1-3 1 0 1 0 1-1 1 3 1 0 1 2 1-6 1 6 1-3 1-2 1 0 1 2 1-1 1-4 1 3 1 5 1 5 1-11 1 1 1 0 1-1 1-2 1-3 1 5 1-1 1 6 1-3 1-2 1-4 1 8 1-9 1 8 1-1 1-2 1-3 1 0 1 2 1-4 1 1 1 3 1-3 1-1 1-1 1 6 1-6 1-3 1 6 1-3 1 2 1 4 1 3 1-8 1 0 1 6 1-4 1 1 1-2 1-1 1 6 1-4 1 12 1-7 1-5 1-1 1-2 1 3 1-8 1 3 1 5 1-3 1-1 1 4 1-2 1-5 1 3 1 3 1-4 1 3 1 2 1-2 1 1 1-8 1 6 1 1 1 0 1-5 1 4 1 2 1 2 1-12 1 4 1 8 1-6 1 5 1-1 1-3 1 3 1 2 1-2 1-4 1-1 1 3 1 9 1-16 1 3 1 2 1 8 1-9 1-4 1 7 1-1 1 0 1-2 1 0 1-2 1 3 1 2 1-1 1-2 1-3 1 6 1 2 1-3 1 2 1-1 1-6 1 16 1-13 1 4 1-2 1 4 1-1 1 1 1-3 1-2 1 3 1 1 1 0 1-3 1 2 1 7 1-2 1-5 1 6 1-3 1-3 1 0 1-1 1 7 1-8 1 2 1 2 1-2"/><path d="M0 4021l1 10 1-8 1 3 1 5 1-2 1 2 1 1 1-4 1-6 1-1 1-1 1 8 1-6 1 3 1 1 1 0 1-1 1 4 1-3 1 2 1-3 1 0 1 1 1 1 1 1 1-4 1 4 1 7 1-16 1 10 1-2 1 0 1-1 1-2 1 5 1-3 1 7 1-4 1 5 1-5 1-5 1 6 1-1 1 2 1-10 1 7 1 4 1-5 1-6 1 7 1 0 1 3 1-3 1-5 1 7 1-2 1 1 1-4 1 4 1-9 1 2 1 6 1 3 1-3 1-1 1 0 1-1 1 5 1-9 1 7 1 4 1-10 1-1 1 4 1 3 1 1 1-3 1 4 1-4 1-3 1 8 1-4 1-2 1-3 1-3 1 4 1 6 1-6 1-1 1 2 1 4 1-1 1 2 1-6 1 7 1 0 1-3 1 2 1 2 1-4 1-3 1 4 1 0 1 1 1 6 1-7 1-1 1 5 1-3 1-4 1 5 1 2 1-8 1 10 1 1 1-9 1 4 1 0 1 1 1-2 1 2 1-5 1 1 1 1 1 1 1 4 1-3 1-6 1 4 1 4 1 1 1-1 1-5 1 2 1-2 1-4 1 4 1-1 1-3 1 4 1-1 1 1 1 3 1-5 1 3 1 1 1 0 1 0 1 0 1-5 1-2 1 4 1 1 1-2 1 0 1 1 1 6 1-6 1 3 1-1 1-2 1 2 1-5 1 1 1-3 1 3 1 2 1-5 1 2 1-1 1 1 1-1 1 2 1-5 1 4 1 5 1-9 1 6 1-4 1 0 1 7 1-3 1 0 1 3 1-3 1-2 1-7 1 9 1 3 1-7 1-3 1-1 1 6 1-9 1 8 1 1 1-4 1-3 1 2 1 5 1-8 1 0 1 4 1-4 1 6 1 1 1 19 1-7 1-17 1 2 1-4 1-2 1-3 1 5 1-3 1 9 1-11 1 0 1 0 1 4 1 1 1-2 1 2 1-2 1-4 1 6 1-8 1 2 1-2 1 3 1-5 1 0 1-8 1 4 1-1 1 2 1-11 1 0 1 4 1 2 1-9 1-9 1-1 1 2 1-5 1 2 1-2 1-4 1-9 1-1 1 10 1 3 1-12 1-28 1-14 1-5 1 2 1 0 1-4 1-12 1-12 1 8 1 30 1 27 1 27 1 24 1 11 1 11 1 14 1-4 1 11 1 1 1 2 1 15 1-9 1 10 1 1 1 0 1 0 1 0 1 3 1 0 1 2 1 0 1-7 1 2 1 4 1 1 1-4 1 8 1-1 1-1 1 3 1-1 1-2 1-2 1 6 1-5 1-1 1-1 1 6 1-1 1-2 1 4 1-6 1 5 1-5 1 1 1 0 1 1 1 4 1-7 1 5 1 1 1-5 1-2 1-2 1 4 1 10 1-10 1 1 1-4 1 5 1 0 1 2 1 4 1-3 1-6 1 3 1-4 1 3 1-3 1 9 1-11 1 10 1-2 1-5 1 8 1 1 1 2 1-7 1 3 1-2 1 5 1-6 1 4 1-7 1 1 1-2 1 3 1-4 1 5 1-3 1-3 1 6 1 3 1-2 1-1 1-2 1 0 1-4 1 12 1-12 1 3 1-1 1 1 1 4 1-3 1 1 1 3 1-5 1 1 1 5 1-3 1-5 1 9 1-8 1 5 1 0 1 1 1 0 1-3 1 1 1-6 1 7 1-8 1 9 1-6 1 6 1-4 1 2 1-4 1 1 1 3 1 0 1-3 1-8 1 9 1 3 1 2 1-5 1 4 1-16 1 12 1-1 1 9 1-7 1 10 1-9 1-2 1 0 1-1 1 3 1 0 1-4 1 10 1-3 1-5 1 3 1-3 1-1 1-1 1 0 1 8 1 0 1-7 1-1 1 5 1-7 1 6 1-8 1 6 1 2 1 0 1 3 1-1 1-6 1-3 1-3 1 5 1 3 1-1 1 12 1-8 1 0 1-1 1-1 1 2 1 3 1-4 1 3 1 2 1-4 1 1 1-1 1 2 1-1 1-2 1 3 1 0 1-4 1-5 1 10 1-5 1 1 1-2 1-2 1-3 1 4 1 0 1 2 1-3 1 1 1 3 1-2 1-2 1 4 1-2 1-3 1 0 1 1 1 1 1-5 1 3 1 3 1 0 1 1 1 3 1-6 1 9 1-4 1-10 1 8 1-4 1 5 1 4 1-11 1 5 1-4 1-2 1 7 1 1 1-6 1 1 1-3 1 2 1 1 1 1 1 3 1-2 1-1 1 1 1 2 1 0 1-7 1 4 1 3 1-4 1-3 1 2 1-1 1 4 1 0 1 3 1-9 1 8 1 1 1 6 1-10 1 3 1-9 1 10 1 1 1-5 1-3 1 7 1-9 1 9 1-10 1 5 1-1 1 0 1-3 1-2 1 8 1-3 1-5 1-1 1 7 1 2 1-5 1-1 1 3 1 0 1 3 1-5 1-2 1 2 1-4 1 0 1 2 1 1 1 1 1-6 1 4 1 8 1-14 1 5 1-1 1 3 1-5 1 10 1-10 1 2 1-1 1 4 1-4 1-6 1 5 1-3 1 6 1-3 1 0 1-2 1-2 1 6 1-1 1 5 1-9 1 5 1-7 1 5 1-2 1-3 1 1 1 3 1-2 1 0 1 0 1 1 1-2 1-4 1 6 1 5 1-7 1 1 1-4 1 0 1-1 1-2 1 4 1-3 1 4 1-1 1-6 1 13 1-10 1 2 1-2 1-3 1 4 1 2 1-9 1 8 1 0 1 6 1-13 1 5 1 6 1-6 1 5 1-6 1 0 1 6 1-4 1-2 1 4 1 3 1-4 1 8 1-13 1 10 1-5 1 2 1-1 1-4 1 0 1-4 1 2 1-1 1 6 1-6 1 3 1-2 1 8 1-11 1 0 1 5 1-8 1 6 1-4 1 1 1 2 1 8 1-4 1 0 1-1 1 0 1-4 1 3 1-1 1 2 1 1 1-7 1-1 1 9 1-9 1 8 1 5 1-6 1-3 1-2 1 1 1 2 1 7 1-8 1-4 1 6 1-6 1 4 1-4 1 0 1 1 1-3 1-2 1 2 1 1 1-2 1 4 1-1 1 0 1-2 1 2 1 2 1-4 1 1 1 2 1 0 1-3 1 5 1-2 1 5 1-10 1-1 1 6 1 5 1-3 1-4 1-3 1 4 1-3 1-2 1 3 1-2 1 1 1-2 1 2 1 2 1-1 1 0 1-4 1-1 1 4 1 1 1 2 1-6 1 8 1-3 1-4 1 2 1 1 1 7 1-6 1 3 1-4 1-2 1 3 1-3 1 4 1 1 1 6 1-7 1 5 1-2 1 1 1-2 1-2 1 2 1 3"/><path d="M0 4160l1 1 1 1 1-1 1 6 1-6 1 8 1-8 1 0 1 1 1-1 1 2 1 1 1-2 1 4 1-3 1-4 1 5 1-3 1 5 1 2 1-4 1 3 1-1 1-1 1-7 1 4 1-2 1 1 1 0 1 0 1-5 1 6 1 3 1 0 1-1 1-3 1-1 1-3 1 1 1 7 1 3 1-6 1 1 1 4 1-2 1-1 1 4 1-7 1 2 1 1 1-4 1 3 1 0 1-1 1 4 1-7 1 4 1 0 1 0 1 2 1-5 1 1 1-5 1 2 1 1 1 3 1 1 1-11 1 8 1 3 1-3 1-1 1-1 1 1 1 3 1 1 1-3 1-1 1 1 1 1 1-2 1 2 1-2 1 2 1 1 1-5 1 10 1-7 1 4 1-2 1-2 1 3 1-8 1 8 1-1 1 2 1-6 1 7 1-5 1 7 1 0 1-6 1 1 1 2 1-2 1-1 1 5 1 5 1-13 1 7 1-4 1-2 1 5 1-3 1 1 1-5 1 10 1-10 1 9 1-2 1-5 1 9 1-11 1 8 1-4 1 2 1-3 1 0 1 2 1 2 1-6 1 0 1 1 1 5 1-5 1 0 1 2 1-3 1 11 1-9 1 0 1 6 1-1 1 1 1-2 1-1 1 3 1-3 1 2 1-4 1 2 1-1 1 5 1 0 1-2 1-5 1 2 1 0 1-4 1 3 1 0 1 2 1 3 1-9 1 3 1-2 1 0 1 4 1 2 1-7 1 0 1 3 1-4 1-3 1 7 1-1 1-3 1 4 1-3 1 0 1 4 1-7 1 2 1-4 1 6 1-1 1 3 1-7 1-3 1 6 1 2 1-5 1 2 1-7 1 6 1 1 1 4 1-3 1-5 1 1 1 2 1-7 1 3 1 0 1 3 1-1 1-3 1 12 1 22 1-20 1-14 1-3 1 1 1-2 1-2 1 6 1-7 1 6 1 0 1-5 1-2 1 6 1-5 1 2 1-1 1 2 1-3 1-2 1 0 1-1 1-2 1-4 1 7 1-7 1-2 1 4 1-6 1 1 1-6 1-3 1-4 1 8 1-4 1-10 1 0 1 0 1-2 1 1 1-3 1-4 1-3 1-4 1-6 1 5 1 10 1-16 1-13 1-27 1-5 1-11 1 17 1-10 1-11 1-11 1-5 1-10 1 13 1 11 1 10 1 10 1 11 1 12 1 12 1 11 1 19 1 45 1 45 1 13 1 14 1 1 1 0 1 11 1 4 1 10 1-4 1-8 1 9 1 0 1 3 1 0 1 2 1-4 1-2 1 4 1 2 1-2 1 7 1-1 1 5 1-8 1-3 1 8 1-6 1 5 1-3 1-5 1 3 1 0 1 0 1 1 1-7 1 10 1-2 1 0 1-3 1 6 1 1 1 5 1-11 1 1 1 1 1 0 1-2 1-5 1 12 1-8 1-3 1-2 1 6 1-3 1 0 1 0 1 1 1 6 1-7 1 1 1-5 1-4 1 5 1 0 1-5 1 10 1-12 1 3 1 5 1-2 1-4 1 4 1-4 1-1 1-1 1-3 1 7 1-1 1 6 1-13 1 6 1-2 1-4 1 1 1-4 1 5 1-3 1 0 1 6 1-8 1 4 1-7 1 3 1 3 1 0 1 0 1 0 1-1 1 5 1-7 1 2 1-4 1-4 1 5 1-2 1-2 1-3 1 5 1-3 1-1 1 4 1-5 1 3 1 1 1-1 1-3 1-4 1 8 1-6 1-2 1 5 1-3 1 1 1-6 1 4 1 0 1-2 1 8 1-6 1-6 1 8 1-3 1-4 1 4 1 2 1-7 1 5 1 0 1-5 1-3 1 3 1 1 1 5 1-6 1-4 1 0 1 4 1-5 1 4 1-2 1-1 1-3 1 6 1-5 1 0 1 1 1-3 1 8 1 2 1-5 1 4 1-3 1-3 1 1 1-6 1 1 1 11 1-4 1 0 1 1 1-4 1 2 1-5 1 0 1-1 1 2 1-4 1 4 1-5 1 7 1 3 1-3 1-8 1 7 1 2 1 5 1-8 1-3 1 0 1-1 1 1 1-4 1 4 1 8 1-14 1 6 1-2 1 2 1 2 1 7 1-5 1 5 1-7 1 3 1 3 1-4 1 2 1 0 1-10 1 14 1-5 1-2 1-4 1 7 1 1 1-3 1-2 1 4 1 2 1-3 1 1 1-1 1 0 1 1 1-1 1-3 1 2 1-1 1 2 1-1 1-2 1 4 1-4 1 1 1-1 1 1 1 0 1 1 1-6 1 2 1-1 1 2 1 3 1-1 1-3 1-2 1-7 1 3 1 5 1-5 1 7 1-9 1 5 1-6 1 8 1-5 1 1 1-1 1 4 1-1 1-2 1-2 1 5 1-4 1 0 1 0 1-1 1 1 1 3 1 8 1-6 1 1 1-5 1-6 1-4 1 3 1 1 1-2 1 5 1-3 1 2 1-7 1 2 1 10 1-9 1-1 1 0 1 0 1 0 1 5 1-9 1 2 1 4 1 1 1-6 1 7 1-2 1-5 1 3 1 0 1-4 1 3 1 3 1-5 1 3 1-11 1 10 1-6 1 1 1 5 1-11 1 7 1-1 1 2 1-8 1 4 1-4 1 4 1-1 1 7 1-8 1 2 1 4 1-4 1 1 1-3 1-1 1 6 1-4 1-6 1 0 1 8 1-3 1 5 1 0 1-5 1-2 1-4 1 6 1-4 1 0 1 0 1 2 1 2 1-1 1-3 1 1 1 2 1-4 1 6 1-5 1-3 1-3 1-2 1 9 1-6 1-4 1 7 1-4 1 1 1 2 1-3 1-1 1-1 1 4 1 1 1 2 1-5 1-2 1 6 1 0 1-7 1 1 1 6 1-11 1 8 1-5 1 9 1-6 1-1 1 3 1-2 1 5 1-3 1 3 1-3 1 1 1-5 1 2 1 3 1-7 1 12 1-10 1 6 1-1 1-2 1-2 1 1 1 0 1 2 1 4 1-7 1-3 1 3 1-2 1 2 1-5 1-1 1 1 1-3 1 7 1-2 1-2 1-4 1 7 1-1 1-6 1 4 1 1 1 0 1 4 1-1 1-6 1 0 1 1 1 2 1-9 1 4 1 6 1-3 1 2 1 2 1-2 1-6 1 10 1-6 1 1 1 2 1 3 1-4 1-5 1-1 1 0 1 4 1 3 1-7 1 0 1 3 1-5 1 7 1-1 1-2 1 0 1-1 1-3 1 6 1-3 1 1 1 3 1 1 1-8 1 1 1 3 1 1 1-4 1 8 1 4 1-7 1-5 1 2 1 1 1 2 1 1 1-5 1-2 1 5 1 3 1-5 1 4 1-1 1-3 1 2 1 4"/><path d="M0 4280l1 5 1 3 1 2 1-4 1 2 1 8 1-5 1 0 1 1 1-3 1 4 1-2 1-2 1 3 1 2 1-3 1-4 1 4 1-3 1 0 1 2 1 0 1 1 1-3 1 8 1-5 1 0 1 3 1-2 1 1 1-1 1-5 1 4 1 1 1-1 1 2 1-2 1-5 1 2 1-3 1-1 1 10 1-4 1 1 1-7 1 6 1-4 1 3 1 0 1 2 1-6 1 6 1 0 1-2 1-4 1 0 1-1 1 0 1 8 1-7 1 2 1 4 1-3 1 3 1 2 1-5 1 3 1 1 1-3 1 3 1-3 1 0 1 2 1-3 1 0 1 2 1 1 1-6 1 7 1-3 1 0 1 4 1-7 1 0 1-1 1 4 1 1 1-6 1 6 1-6 1 4 1 6 1-4 1-3 1 2 1-1 1-9 1 4 1 5 1-1 1-5 1 5 1 0 1-2 1 1 1 6 1-4 1 1 1-8 1 4 1 4 1-2 1-1 1-2 1 4 1-2 1-4 1 12 1-8 1-5 1 1 1 2 1 1 1-1 1 2 1 5 1-7 1 6 1 0 1-6 1 0 1 6 1 1 1 0 1 0 1-4 1 4 1-5 1 5 1 1 1-1 1 2 1-3 1 1 1-2 1 4 1-5 1 4 1-7 1-1 1 4 1-1 1-1 1-1 1 5 1-1 1 1 1-4 1 2 1-4 1 1 1 4 1 0 1-2 1 3 1-6 1 6 1-5 1-1 1-2 1 6 1-7 1 7 1 0 1-10 1 5 1-3 1 2 1 1 1 0 1 3 1-1 1-6 1 1 1 0 1 0 1 6 1-3 1 1 1-7 1 5 1-6 1 7 1-2 1 3 1 0 1 0 1-3 1 2 1-5 1 10 1-6 1-4 1 3 1 4 1-6 1 6 1-5 1 7 1 16 1 4 1-17 1-6 1-10 1 2 1 3 1-5 1-2 1 4 1-2 1 0 1-1 1 1 1-4 1-3 1 3 1 0 1-1 1 1 1-3 1-4 1 6 1 2 1-4 1-2 1 1 1-4 1-5 1-2 1 4 1-5 1-1 1 3 1 0 1-1 1-11 1 3 1-4 1 1 1-3 1 0 1-5 1-5 1-5 1 9 1-10 1 2 1 7 1 6 1-13 1-20 1-25 1 0 1 6 1-3 1-7 1-7 1-1 1-14 1-6 1-21 1-21 1-24 1-31 1 12 1 57 1 61 1 57 1 21 1 17 1 20 1 21 1 16 1 17 1 9 1 3 1 7 1 7 1 0 1 3 1 4 1-3 1 6 1 5 1 1 1-10 1 7 1 7 1-9 1 0 1 5 1-4 1 0 1 1 1 3 1 0 1 1 1-7 1 0 1 8 1-3 1 0 1 1 1 3 1-1 1-6 1 4 1-2 1 3 1-2 1 4 1-1 1-7 1-4 1 5 1-5 1 2 1 4 1-6 1-5 1 5 1-2 1-2 1 8 1-1 1-1 1 3 1-5 1 7 1-6 1 2 1-7 1 4 1-3 1-4 1 4 1-4 1 6 1-10 1-1 1 10 1-2 1-4 1-6 1 4 1 3 1 5 1-9 1 8 1-13 1 11 1-4 1-5 1 6 1-5 1-4 1 1 1 3 1-5 1-2 1 1 1-1 1-4 1 8 1 1 1-7 1 1 1-3 1-3 1 4 1-5 1-2 1 3 1 3 1-4 1 4 1-1 1 1 1 1 1-8 1 4 1-1 1-2 1-4 1 4 1-2 1 1 1-4 1-1 1-4 1 4 1 6 1-5 1-1 1-3 1 4 1-1 1 0 1-2 1-3 1 0 1 1 1-2 1-1 1 4 1-1 1-3 1 1 1 4 1-9 1 6 1-10 1 12 1-5 1 6 1-2 1-6 1 1 1-1 1-8 1 9 1 0 1-1 1-2 1-5 1 1 1-11 1 13 1-4 1 0 1 5 1-4 1-10 1 12 1-9 1 1 1 0 1 7 1-9 1 5 1 1 1-10 1 13 1-8 1 8 1-7 1 7 1 2 1-15 1 4 1 2 1 5 1 3 1-6 1 1 1 1 1-6 1 1 1 3 1 4 1-7 1 4 1-5 1-1 1 4 1 1 1 0 1-3 1 1 1 5 1-8 1 3 1-2 1 5 1 4 1-6 1-1 1 1 1 1 1-2 1-2 1 4 1 4 1-5 1-3 1 6 1-4 1 1 1-3 1 2 1-6 1 4 1 0 1-1 1 2 1 8 1-13 1 3 1-4 1 5 1-3 1 5 1-4 1 0 1 0 1 6 1-3 1-3 1 2 1-5 1-5 1 0 1 6 1-1 1-3 1-2 1 7 1-5 1-2 1 6 1-2 1-4 1 9 1-7 1 0 1-1 1 2 1 6 1-7 1 4 1-5 1 6 1 0 1-2 1 3 1-6 1-7 1 2 1 2 1 5 1-3 1 1 1 0 1-2 1 1 1-2 1 2 1 2 1 4 1-1 1-6 1-1 1 0 1-6 1 10 1-1 1-2 1-2 1 2 1 0 1 1 1-10 1 13 1-11 1 7 1-9 1 8 1 4 1-5 1-4 1 5 1-6 1 1 1-3 1 1 1 1 1-3 1 6 1-3 1-6 1 1 1 2 1-1 1 6 1-9 1 3 1-1 1-1 1 3 1 0 1-4 1 0 1 3 1-2 1-1 1-4 1 7 1-3 1 4 1-4 1 2 1-1 1-6 1 6 1 1 1-2 1 1 1 4 1-12 1 3 1 1 1-1 1 1 1-3 1 3 1 3 1-4 1 4 1 1 1 0 1-2 1-8 1 6 1-8 1 3 1 7 1-12 1 12 1-5 1 4 1 2 1-6 1-3 1 5 1-7 1 4 1-1 1 3 1-10 1 7 1 5 1-7 1 7 1-4 1-9 1 8 1-1 1-4 1 2 1-6 1 12 1-4 1-4 1 4 1 2 1-6 1 0 1 2 1-3 1 6 1-3 1-3 1-2 1-6 1 3 1 12 1-8 1 4 1-10 1 2 1 8 1 1 1-9 1 0 1 1 1 4 1-8 1 14 1-10 1 5 1 1 1-3 1 0 1-2 1 8 1-3 1-5 1-1 1 1 1-7 1 5 1 0 1 7 1-3 1-5 1-2 1 7 1 0 1 1 1-3 1 1 1-1 1 6 1-7 1-4 1 7 1-1 1-4 1 5 1-3 1-5 1-1 1 9 1-3 1-7 1 0 1 11 1 2 1-5 1-4 1-1 1 4 1 3 1-4 1-2 1-4 1 0 1 1 1-3 1 8 1-3 1 8 1-3 1-4 1 7 1-4 1-4 1 1 1-2 1 1 1 1 1-1 1 1 1 1 1 1 1 5 1-5 1-1 1 4"/><path d="M0 4369l1 37 1-2 1-1 1-3 1 3 1 2 1-2 1-7 1 10 1-4 1 2 1-9 1 11 1 0 1-4 1 9 1-3 1-4 1 1 1-5 1 6 1-6 1 7 1 0 1-6 1 5 1-6 1 6 1-1 1-3 1 6 1-3 1-5 1 2 1 0 1-3 1 2 1 3 1-1 1 2 1 3 1-7 1 1 1 3 1-1 1 1 1-2 1 1 1 4 1 1 1-4 1-3 1 7 1-7 1 1 1 3 1-8 1 7 1-2 1 1 1 2 1-3 1 4 1-7 1 6 1 1 1-5 1 9 1-2 1-5 1 7 1-3 1 0 1 2 1-4 1 6 1-3 1-9 1 6 1 2 1-4 1 4 1-8 1 4 1 2 1-3 1-2 1 4 1-3 1 7 1 1 1-8 1 2 1 2 1 1 1 0 1 4 1-3 1 1 1-4 1 3 1-2 1 4 1 1 1-7 1 5 1-1 1-2 1 0 1-1 1-4 1 5 1 0 1-1 1 3 1-2 1-1 1 4 1 2 1 0 1-3 1-2 1 4 1-4 1 4 1 0 1-8 1 2 1 2 1 3 1-2 1 0 1 1 1 0 1-7 1 8 1 0 1-6 1 0 1 5 1-2 1-3 1 5 1-2 1-2 1-3 1 3 1-1 1 3 1-3 1 2 1-2 1-1 1 4 1-3 1 2 1 1 1-3 1-5 1 8 1-6 1 1 1-1 1 1 1 1 1 2 1-5 1 1 1 2 1-2 1 1 1 2 1-1 1-1 1 2 1 0 1 3 1 0 1-1 1-6 1 1 1 1 1 6 1-6 1 6 1-2 1-2 1-3 1-2 1 4 1 1 1-5 1 3 1-4 1 0 1 0 1 7 1-5 1-2 1 2 1 3 1 0 1-8 1 1 1 3 1-5 1 5 1 5 1-5 1-4 1 12 1 21 1-9 1-27 1 5 1 0 1 4 1-6 1 6 1-7 1-1 1 3 1 0 1-8 1 7 1 1 1-5 1 4 1-1 1-1 1-2 1-2 1 3 1-2 1-1 1 3 1-1 1-4 1 2 1 1 1-3 1-3 1-3 1 8 1-4 1-1 1 1 1-4 1 4 1-7 1 7 1-9 1 0 1-6 1-2 1 1 1-2 1-7 1-4 1 0 1 4 1 2 1 3 1-15 1-21 1-10 1 0 1 13 1-13 1-5 1-8 1-7 1-5 1-19 1-14 1-24 1-32 1-32 1 38 1 37 1 35 1 32 1 23 1 19 1 18 1 22 1 20 1 16 1 23 1 24 1 21 1 8 1 2 1 14 1 0 1 3 1 4 1 7 1-2 1-2 1 8 1-2 1 6 1 6 1-2 1-9 1 4 1 2 1 1 1-4 1 3 1-4 1 4 1-4 1 0 1 7 1-7 1 4 1-4 1-1 1-1 1 7 1-13 1 8 1-3 1 1 1-4 1-1 1-6 1 9 1-5 1-4 1 8 1-2 1-3 1 1 1-5 1-9 1 8 1 4 1-8 1-1 1-3 1 0 1 0 1 1 1-10 1 8 1-1 1-3 1 1 1 3 1-5 1-3 1 7 1-8 1 0 1-1 1 0 1 3 1-2 1-9 1 3 1-2 1 3 1 4 1-10 1 2 1 4 1-8 1 0 1-1 1-6 1 6 1-6 1 4 1-3 1-3 1-3 1 0 1-1 1 0 1-1 1-2 1-2 1-6 1 11 1-6 1-1 1 4 1-9 1-4 1 1 1-4 1 5 1-2 1-3 1-2 1 5 1-3 1-1 1-8 1-2 1 8 1-4 1-3 1 13 1-8 1-6 1 5 1-2 1-1 1-4 1 1 1-1 1-1 1-3 1 4 1-1 1-2 1 2 1-12 1 5 1 2 1 1 1-5 1 1 1 4 1-5 1-5 1 7 1-5 1 1 1-2 1 2 1 5 1-4 1 4 1-12 1 3 1-4 1 0 1 3 1-3 1 8 1-14 1 9 1-4 1 3 1-6 1-1 1 2 1 2 1 4 1-2 1 2 1 1 1-10 1 7 1-2 1 8 1-6 1 10 1-5 1-3 1-4 1 10 1-12 1 1 1-2 1 4 1 1 1 3 1-4 1 0 1 0 1 3 1-2 1 1 1 2 1-4 1-6 1 8 1 2 1-6 1-3 1-2 1 9 1-4 1 3 1-5 1 0 1 3 1-1 1-3 1 1 1 4 1 3 1-6 1 0 1-2 1 4 1-8 1 5 1-3 1-1 1 0 1 0 1 2 1-2 1-1 1-1 1-2 1 2 1 0 1 0 1-8 1 16 1-5 1-1 1-5 1 2 1 1 1 0 1 0 1-3 1 4 1-2 1-1 1 0 1 0 1 3 1 0 1-6 1 1 1 0 1-3 1 1 1 1 1 0 1-5 1-1 1 2 1 6 1-11 1 7 1-5 1 3 1-2 1 5 1-7 1 6 1-3 1 2 1-4 1 7 1-1 1-11 1 5 1-4 1 3 1-6 1 10 1-13 1 5 1-3 1 0 1 8 1-11 1 5 1 0 1-2 1-2 1 5 1-6 1 0 1 3 1-3 1 2 1 5 1-4 1 3 1-8 1-3 1 8 1 0 1-2 1-1 1 0 1 5 1-3 1-8 1 5 1 2 1 4 1-5 1-4 1 2 1 2 1-4 1 4 1-6 1-3 1 9 1-7 1 4 1-6 1 6 1-2 1-1 1 1 1-2 1 4 1-5 1-4 1-2 1 3 1-1 1-2 1 0 1 5 1-5 1 0 1-3 1 4 1-1 1-3 1 8 1-7 1-1 1 0 1 4 1 1 1-4 1 5 1-3 1-1 1 0 1 0 1-2 1 4 1 0 1-4 1-1 1 5 1-9 1-1 1 4 1-1 1 7 1-11 1 9 1-1 1 2 1-9 1 5 1-4 1-2 1-1 1 7 1-7 1 8 1-8 1-3 1 12 1-8 1 2 1 2 1-5 1 3 1-9 1 7 1-7 1 3 1 5 1-9 1 8 1-6 1 5 1-4 1-2 1 2 1-5 1 2 1-3 1 5 1 7 1-10 1 1 1 4 1-1 1 2 1-3 1 0 1 0 1 1 1-1 1 0 1 0 1-2 1 2 1 1 1 1 1-8 1 7 1-3 1 4 1-5 1 4 1-4 1 2 1 1 1-3 1 5 1-5 1 2 1-1 1 0 1 2 1-4 1 4 1-5 1 8 1-11 1 10 1-7 1-5 1 3 1 4 1-12 1 4 1 10 1-2 1-1 1-6 1 13 1-1 1-12 1 10 1-8 1 2 1-3 1 2 1-1 1 9 1-3 1-6 1 0 1-1 1-1 1 7 1-10 1 2 1 9 1-9 1 10 1-2 1 0 1 1"/><path d="M0 4497l1 40 1-6 1 1 1 1 1-3 1 3 1 1 1-1 1-6 1 3 1-5 1 8 1-1 1 3 1 0 1-5 1 3 1 1 1 2 1 1 1-4 1-4 1 7 1-3 1-5 1 6 1-3 1 3 1 3 1-3 1-2 1 3 1-2 1 1 1 3 1-3 1 1 1-1 1 0 1-3 1 0 1 6 1 1 1-8 1 6 1 0 1-5 1 5 1-1 1 2 1 2 1-5 1 1 1-4 1 3 1-1 1-1 1 1 1 2 1 0 1 0 1 2 1-9 1 3 1 0 1-1 1 0 1-3 1 3 1 4 1-5 1 1 1 1 1-1 1-3 1 2 1 5 1-6 1-1 1 9 1-5 1-3 1-2 1 3 1-1 1 4 1 3 1 0 1-3 1 3 1-3 1-6 1 10 1-4 1-1 1 6 1-2 1 2 1 0 1 0 1-3 1 7 1-9 1 5 1 3 1-6 1-2 1 5 1 0 1-1 1-4 1 2 1-5 1 8 1 0 1-4 1 2 1-2 1 1 1 0 1-1 1 9 1-9 1 4 1-6 1 3 1-1 1-2 1 5 1 0 1 1 1-2 1-5 1 6 1-2 1 5 1-13 1 7 1 0 1 3 1-6 1 7 1-3 1-7 1 13 1-13 1 4 1 0 1 4 1-2 1 1 1-2 1 4 1 1 1 3 1-9 1 2 1 1 1 0 1 1 1 3 1-4 1 0 1 6 1 0 1 1 1 1 1-9 1 6 1-2 1-2 1 1 1-4 1-1 1 2 1-4 1 3 1 1 1-4 1 0 1-4 1 3 1 2 1-2 1 2 1-2 1 0 1-3 1 9 1-6 1 3 1-5 1-1 1 4 1-2 1 1 1 2 1 0 1 0 1-2 1-6 1 7 1 3 1-4 1 2 1-2 1 0 1 0 1-6 1-2 1 6 1 1 1 16 1 17 1-22 1-17 1 4 1 0 1 0 1-2 1 3 1-6 1 5 1-6 1 7 1-2 1-6 1 4 1-5 1 8 1-3 1-4 1 1 1-2 1-2 1-3 1 2 1 3 1-3 1 1 1-1 1-3 1-5 1-2 1 1 1-7 1 1 1 3 1 2 1 2 1-8 1 1 1-4 1-5 1 3 1-4 1 0 1-10 1 3 1 2 1-6 1-2 1 0 1-1 1 8 1 1 1-10 1-18 1-25 1-6 1 7 1 5 1-8 1-6 1-2 1-14 1-8 1-5 1-8 1-13 1-13 1-1 1-22 1 22 1 15 1 23 1 16 1 24 1 18 1 23 1 22 1 26 1 23 1 21 1 23 1 13 1 12 1 3 1 8 1-4 1 12 1 5 1 0 1 7 1-7 1 9 1-3 1 1 1 2 1 3 1-10 1 6 1 0 1 3 1-3 1-2 1 3 1 1 1-5 1 2 1-1 1-2 1 2 1 6 1-9 1 3 1 0 1 2 1-6 1-4 1 7 1-10 1 7 1 2 1-2 1-2 1-2 1-1 1 4 1-9 1 0 1 2 1 0 1 2 1-4 1 0 1-3 1 5 1-3 1-9 1 8 1-4 1-2 1 1 1-2 1-2 1-1 1-9 1 6 1-2 1-5 1 0 1 2 1-4 1-3 1 1 1-2 1 1 1 2 1 2 1-8 1 0 1-6 1 4 1-2 1-4 1 3 1-6 1 2 1-1 1-2 1 0 1-1 1-5 1 2 1 0 1 0 1-7 1 0 1-1 1-4 1 5 1 3 1-9 1 0 1-1 1 0 1-4 1 9 1-11 1 5 1 0 1-4 1 4 1-12 1-5 1 12 1-2 1-3 1 1 1-4 1-2 1 0 1 2 1 1 1 3 1-8 1-6 1 8 1-5 1-3 1 5 1-10 1 1 1 10 1-9 1 3 1 2 1-9 1 4 1 2 1-1 1 1 1 4 1-3 1-4 1-5 1 5 1-5 1-4 1 1 1 5 1 0 1-1 1 5 1-4 1-1 1 2 1 0 1 3 1-2 1 3 1-4 1 1 1 2 1-4 1 3 1 0 1 3 1-12 1 13 1-6 1 2 1 4 1-3 1-6 1 3 1 4 1-4 1 3 1 1 1 4 1-9 1-3 1 3 1 0 1 5 1-2 1 3 1-4 1-5 1 6 1-4 1 3 1-7 1 8 1-6 1 2 1 4 1-4 1-3 1 8 1-7 1 4 1-3 1-7 1 6 1 1 1-2 1 6 1-11 1 3 1 4 1 2 1-2 1-6 1 5 1 0 1 4 1 2 1-6 1 1 1 0 1-3 1 2 1 0 1-1 1 2 1-2 1-2 1 5 1 0 1-6 1 4 1-5 1 4 1-4 1 0 1 3 1-5 1 5 1 3 1-7 1-2 1 3 1-2 1-5 1 12 1-10 1 8 1-4 1-1 1-2 1-2 1 2 1-4 1 3 1-5 1 3 1-10 1 7 1 3 1-1 1 0 1 0 1 4 1-8 1-11 1 14 1-2 1-1 1 2 1 3 1-5 1-4 1 5 1-5 1-4 1 2 1 3 1-5 1 3 1 3 1-10 1 12 1 2 1-7 1 0 1-1 1-9 1 10 1-6 1 5 1-4 1 1 1 0 1-1 1-4 1 11 1-8 1 7 1-1 1-4 1 1 1-1 1 2 1-1 1-3 1 0 1 3 1-6 1-4 1-2 1 5 1 4 1 4 1-10 1 2 1-4 1 3 1-2 1 4 1-1 1-2 1-1 1 2 1-4 1 5 1 1 1-3 1 3 1-8 1 4 1-1 1-3 1 3 1-2 1 2 1-1 1 2 1-4 1 1 1 3 1 1 1-4 1-6 1 9 1-2 1-5 1-4 1 2 1-1 1 11 1-7 1 1 1 3 1 2 1-5 1-1 1 4 1 1 1-4 1-3 1-1 1 6 1-6 1 1 1-6 1 3 1 6 1-4 1 4 1-3 1-2 1 5 1-3 1-2 1 6 1-9 1-1 1 4 1-1 1-6 1 5 1 0 1-3 1 3 1-8 1 9 1 1 1 4 1-12 1 8 1-6 1-3 1 5 1-3 1 1 1-1 1 5 1-2 1 2 1 0 1 0 1-1 1-4 1 6 1-3 1 2 1 0 1 0 1-3 1 1 1-2 1 2 1 4 1-6 1 4 1 5 1-11 1 5 1 1 1-2 1-2 1 4 1-3 1 1 1-4 1 7 1 2 1-7 1 2 1-3 1 6 1-3 1-1 1-1 1-3 1 4 1 0 1-7 1 6 1-7 1 12 1-5 1 1 1-5 1 9 1-5 1-1 1-1 1-3 1 2 1 0 1-3 1 7 1-9 1 7 1 3 1-4 1 1 1-3 1-2 1 9 1-10 1 6 1-5 1 6 1 0"/><path d="M0 4648l1 19 1-1 1 1 1 2 1-5 1 1 1-1 1 3 1 3 1 2 1-1 1-1 1-1 1-1 1 12 1-14 1 11 1-7 1-1 1 2 1 5 1-6 1-2 1-2 1 4 1-3 1-2 1-1 1 9 1-7 1 0 1 6 1-5 1 0 1 1 1 6 1-4 1-5 1 2 1 2 1 0 1-4 1 5 1-3 1 0 1 2 1 2 1 1 1-2 1 2 1-9 1 4 1 0 1 5 1-6 1 3 1-3 1 3 1-1 1 3 1-3 1-7 1 5 1-2 1 0 1 9 1-6 1-2 1 1 1-5 1 1 1 8 1-2 1-2 1 0 1 0 1 2 1-5 1 5 1-2 1 6 1-4 1-1 1-1 1 3 1-4 1 2 1 0 1-3 1 6 1 1 1-5 1 3 1-2 1-4 1 5 1 0 1 0 1-1 1-1 1-2 1 2 1-6 1-2 1 8 1-1 1 0 1-2 1 6 1-6 1 1 1-1 1 2 1 1 1 0 1 0 1-3 1-2 1 1 1-3 1 5 1 1 1 1 1-2 1 3 1-4 1 3 1-1 1 2 1-7 1 6 1-2 1 1 1-1 1 4 1-6 1 3 1 0 1 0 1-3 1 5 1-8 1 6 1-9 1 6 1 1 1 6 1-4 1 2 1-3 1-1 1 0 1 4 1 0 1 1 1-2 1 0 1-1 1 3 1-6 1-4 1 1 1 3 1 3 1-5 1 4 1-3 1-5 1 8 1 0 1-1 1-3 1-3 1 7 1-3 1 1 1-4 1 2 1 3 1-2 1-1 1 1 1-2 1-3 1 6 1 1 1-7 1 6 1 1 1 1 1-6 1 2 1 3 1-7 1 8 1-4 1-4 1 3 1-5 1 4 1 2 1-3 1 1 1 0 1-3 1-3 1 9 1-3 1 1 1-1 1 0 1 3 1-5 1 9 1 18 1 3 1-17 1-10 1-2 1-3 1 9 1-10 1 4 1 8 1-7 1-7 1-1 1 6 1-1 1-2 1 5 1 1 1-5 1-1 1-5 1-2 1 5 1-4 1 0 1-1 1 1 1 1 1-3 1 2 1-6 1 0 1 2 1 1 1-5 1 3 1 0 1-1 1-2 1-3 1 7 1-14 1 5 1 0 1-4 1-1 1-7 1 5 1-6 1 0 1-5 1-5 1 0 1-3 1 17 1 2 1-20 1-20 1-16 1-3 1 19 1-12 1 6 1-11 1-8 1-12 1-7 1-2 1-11 1-8 1-12 1-14 1-10 1-11 1-17 1 24 1 23 1 22 1 19 1 28 1 18 1 21 1 17 1 20 1 18 1 20 1 9 1 2 1 14 1 1 1 7 1-2 1 10 1-1 1 3 1-3 1 9 1 0 1 3 1-1 1-7 1 7 1 2 1 0 1 5 1-6 1-1 1 0 1 4 1-6 1 3 1 3 1-3 1-8 1 4 1 8 1-6 1-3 1 3 1-2 1-1 1 1 1 3 1-7 1 8 1-2 1-4 1 0 1 0 1-1 1 1 1 1 1 0 1 7 1-10 1-1 1 3 1-5 1 3 1-2 1-4 1 0 1 0 1 2 1 1 1-1 1 1 1-5 1 1 1-3 1 2 1-5 1-5 1 6 1 1 1-6 1 2 1-3 1 6 1-2 1-4 1-2 1 7 1 0 1-3 1-1 1 1 1-1 1-8 1 0 1 7 1-1 1 1 1-12 1 4 1 5 1-7 1 3 1 1 1-1 1-3 1-1 1 4 1 3 1-6 1-6 1-4 1 1 1 5 1 4 1-6 1 1 1-6 1 2 1-1 1 0 1 4 1-3 1-9 1 11 1 4 1-9 1-1 1 2 1-4 1 6 1-3 1 5 1-2 1-4 1 1 1 0 1-2 1-5 1 2 1-3 1-6 1 8 1 1 1-2 1 1 1-6 1 3 1-9 1 4 1 1 1 0 1-3 1 3 1-2 1 2 1-3 1 4 1-11 1 4 1 2 1 4 1 0 1-1 1-1 1 4 1-7 1-1 1 7 1-14 1 5 1 9 1-8 1 2 1 2 1 0 1-5 1-1 1-1 1-2 1 8 1-2 1-5 1-1 1 8 1 0 1-7 1 11 1-16 1 7 1 4 1-5 1 3 1 4 1-3 1 2 1 5 1-7 1 0 1-1 1 6 1-6 1 0 1 0 1 2 1-2 1-2 1 4 1 2 1-6 1-2 1 2 1 0 1 0 1 5 1-11 1 2 1 4 1-5 1 3 1 3 1-8 1 4 1 3 1 0 1-3 1 1 1-4 1 3 1 3 1 0 1 0 1-5 1 1 1-2 1 1 1 7 1-9 1 2 1 4 1-7 1 2 1-8 1 0 1 3 1-6 1 3 1 0 1 4 1 0 1 2 1 1 1-3 1-3 1-6 1 9 1-4 1-2 1 9 1-8 1 6 1-3 1-6 1 4 1-6 1 3 1 3 1-3 1 5 1-6 1 2 1-3 1-1 1 5 1 5 1-9 1-1 1-3 1 0 1 3 1-1 1-6 1 4 1-4 1 6 1-3 1-2 1 4 1-5 1 4 1-3 1-1 1-2 1 5 1-5 1 6 1-5 1-4 1 2 1-2 1-4 1 8 1 0 1-1 1-9 1 5 1 0 1 4 1-12 1 4 1 6 1-10 1 1 1 2 1 2 1-6 1 2 1 4 1-2 1-3 1 4 1-7 1 4 1-6 1 6 1-2 1-5 1 5 1-2 1 9 1-4 1-1 1 0 1 1 1-4 1-2 1 4 1-6 1 5 1-6 1 2 1-3 1-1 1 5 1-1 1-4 1 1 1-6 1 11 1-9 1 2 1 0 1 6 1-8 1 0 1-2 1 7 1-4 1 1 1-3 1 3 1 0 1 2 1-9 1 9 1-7 1-2 1 1 1-2 1 3 1 1 1-3 1 3 1-6 1 5 1-9 1 7 1 0 1-1 1-1 1-2 1 1 1-4 1 7 1 0 1-8 1-1 1 9 1-8 1-1 1 5 1 0 1 3 1-6 1-2 1 4 1 5 1-5 1-3 1 4 1-1 1 2 1 0 1-3 1 2 1 0 1-1 1-4 1 2 1-3 1 1 1-3 1 8 1-3 1-1 1 4 1 3 1-4 1-5 1 6 1 0 1-2 1-3 1 0 1 4 1-1 1-2 1-2 1 2 1 0 1-8 1 7 1 4 1 1 1-5 1 2 1 3 1-1 1-6 1 6 1-4 1 3 1 0 1 2 1 1 1-10 1 3 1 2 1 7 1-11 1-3 1 8 1-8 1-2 1 6 1 0 1 1 1 1 1 2 1-7 1 8 1-1 1-1 1-4 1 3 1 0 1 0 1 1 1 6 1-9"/><path d="M0 4785l1 1 1 2 1-4 1 6 1-4 1 1 1 0 1 5 1-2 1-3 1 3 1-4 1 3 1-1 1 0 1-5 1 5 1 0 1-1 1-3 1 5 1 2 1-2 1-3 1 5 1-7 1-3 1 3 1 1 1 1 1 2 1 1 1-1 1-3 1 3 1 2 1-5 1-1 1 3 1-1 1 11 1-10 1-2 1 0 1-1 1 4 1 4 1-5 1-3 1 2 1 8 1-10 1 1 1 0 1 1 1-5 1 4 1 2 1 4 1-6 1 0 1 2 1-3 1-2 1 5 1 1 1-3 1 2 1 0 1 0 1-3 1 2 1-3 1 2 1 2 1 3 1-4 1-2 1 0 1-2 1 6 1 2 1-6 1 1 1 1 1-4 1 1 1 5 1-4 1 4 1-1 1 2 1-6 1 6 1-6 1 1 1 3 1-5 1-2 1 5 1-2 1-4 1 9 1-6 1 5 1-2 1-2 1 3 1-4 1 8 1-6 1 3 1 7 1-8 1 1 1-5 1 9 1-4 1-1 1-5 1 3 1 1 1-1 1-1 1-4 1 3 1 10 1-5 1 2 1-6 1 8 1-4 1 1 1 2 1-1 1 3 1-5 1 3 1-4 1 11 1-12 1 8 1 0 1-5 1 0 1-1 1 2 1 0 1 0 1 0 1-1 1-3 1 4 1-3 1-1 1 5 1-2 1-7 1 11 1-2 1 1 1-5 1 3 1-1 1 1 1 3 1-6 1 1 1-1 1 2 1-7 1 7 1-5 1 6 1-1 1-5 1-1 1 1 1-1 1 5 1 3 1-9 1 1 1 3 1 1 1 0 1-5 1 6 1-3 1 2 1-3 1-4 1 7 1-4 1-2 1-3 1 2 1 5 1-1 1-2 1-4 1 2 1 0 1-2 1 1 1 2 1-4 1 3 1-3 1 2 1 0 1 3 1 1 1-4 1 2 1 13 1 9 1-3 1-25 1 7 1-3 1-1 1-1 1-6 1 8 1-5 1 0 1-4 1 5 1-5 1 0 1 12 1-8 1 8 1-3 1 0 1-10 1 11 1-5 1-3 1 8 1-5 1 0 1-7 1 1 1 2 1-3 1-7 1 6 1-2 1-2 1 1 1-3 1 5 1-10 1 2 1 3 1 1 1 1 1-2 1-8 1 5 1-5 1 4 1-3 1-7 1 0 1-1 1-7 1-3 1 1 1 10 1 9 1-9 1-22 1-22 1-1 1-1 1 11 1-3 1-3 1-11 1-6 1-3 1-3 1-7 1-8 1-4 1-11 1-9 1-4 1-17 1-9 1-15 1-4 1 17 1 20 1 17 1 19 1 22 1 10 1 13 1 10 1 13 1 14 1 13 1 12 1 14 1-3 1 14 1 9 1 3 1 6 1-4 1 8 1-3 1-1 1 13 1-2 1 3 1-7 1 2 1-1 1 6 1-6 1 0 1 0 1 0 1-1 1 9 1-10 1 1 1-1 1 8 1-6 1 5 1 3 1-4 1 5 1-8 1 10 1-6 1-8 1 7 1-4 1 5 1-10 1 7 1-9 1 6 1-8 1-4 1 9 1-6 1 8 1-4 1-3 1 5 1 3 1-8 1-1 1 3 1-5 1 3 1-3 1 9 1-10 1 8 1-1 1-6 1 0 1-4 1 8 1-8 1 2 1-3 1 0 1 2 1-1 1 1 1-4 1 2 1-8 1 4 1-5 1 9 1-3 1-4 1 2 1 3 1 4 1-7 1 3 1-6 1 12 1-13 1 6 1-4 1-3 1 6 1 2 1-4 1-3 1 2 1-6 1 1 1-3 1 2 1 1 1 1 1-3 1 1 1-7 1 15 1-3 1-1 1-1 1-5 1 0 1 2 1-1 1 3 1-4 1-7 1 10 1-5 1 3 1-2 1 2 1-1 1-4 1 2 1 0 1-1 1-4 1 2 1 3 1-1 1-6 1 10 1-3 1-1 1-2 1 0 1 3 1 4 1-1 1-4 1-1 1 0 1 2 1 0 1-1 1-4 1 3 1-10 1 3 1 5 1 1 1-5 1 6 1-4 1 1 1 0 1-1 1 6 1-5 1-1 1 5 1-7 1 4 1-3 1 2 1-5 1 3 1-4 1 6 1-1 1-5 1-1 1 1 1 0 1 8 1-3 1-5 1 5 1-1 1-5 1-1 1 3 1-1 1 2 1 1 1 3 1-8 1 13 1-8 1-3 1 1 1-1 1 6 1-7 1-6 1 5 1 4 1-6 1 3 1 5 1-2 1-7 1 7 1-3 1-1 1 8 1-9 1 5 1-3 1-1 1-3 1 7 1-1 1 4 1-9 1 7 1-7 1-3 1 5 1 1 1-4 1 4 1 1 1-1 1-5 1-4 1 9 1-5 1-3 1-2 1 5 1 5 1-4 1-5 1 4 1-2 1 2 1 5 1-12 1 6 1-3 1 2 1-3 1-3 1 8 1-7 1-1 1 5 1-2 1 0 1-6 1 1 1 4 1-5 1-1 1 0 1 1 1-2 1 3 1 0 1 5 1-7 1 3 1-1 1-1 1-2 1 4 1 2 1-3 1-5 1 7 1-4 1-1 1-5 1 3 1 8 1-6 1-1 1 7 1-3 1-5 1-2 1 0 1 3 1-1 1 4 1-5 1 7 1-8 1-1 1 9 1-8 1 4 1 1 1-3 1 3 1-2 1-3 1-1 1 4 1-5 1 3 1-1 1-5 1 4 1 8 1-13 1 6 1-10 1 7 1-1 1 3 1-1 1-5 1 0 1 3 1-2 1 1 1 0 1-1 1 4 1-4 1-1 1-5 1 7 1-2 1-3 1-2 1 2 1 2 1-1 1-6 1 5 1-3 1-2 1 1 1 4 1 4 1-8 1-1 1 2 1-2 1-4 1 8 1-8 1 2 1 0 1-1 1 2 1-7 1-1 1 5 1-2 1-4 1 6 1-1 1-7 1 7 1 1 1 1 1-5 1 2 1 0 1 3 1-5 1 3 1-1 1 0 1-2 1 3 1 2 1 1 1-6 1 1 1-1 1 0 1-5 1-2 1 10 1 4 1-11 1 5 1-2 1 4 1-7 1 4 1 7 1 1 1-11 1 4 1-1 1 8 1-4 1-6 1 4 1-2 1-5 1 3 1 4 1-11 1 12 1-3 1 0 1-9 1 8 1-5 1-2 1 3 1 4 1-1 1 9 1-4 1 1 1-2 1-1 1 0 1 8 1-10 1-3 1 6 1-2 1 0 1-5 1 1 1 2 1-1 1 2 1 3 1-4 1 1 1-3 1-4 1 6 1 0 1-2 1 0 1 5 1 0 1-2 1 4 1-8 1 5 1 5 1-6 1 2 1-2 1 2 1-5 1-1 1 7 1-1"/><path d="M0 4917l1-3 1-3 1 6 1-5 1 6 1-1 1-1 1 2 1-4 1 5 1 2 1-2 1-1 1-2 1 3 1-1 1 1 1-4 1 3 1-2 1-5 1 6 1-2 1 0 1 1 1-2 1 5 1-2 1-1 1 2 1-3 1 0 1 0 1 0 1 2 1-2 1-2 1 7 1 0 1-4 1-4 1 1 1-4 1 5 1-4 1 8 1 2 1 1 1-6 1 4 1-6 1 0 1-1 1 4 1-6 1 10 1-8 1 1 1 1 1 2 1-5 1 3 1-2 1 3 1-2 1-1 1 1 1-2 1 3 1-2 1-1 1 3 1-1 1 3 1 1 1 5 1-9 1 5 1 0 1-3 1-3 1-2 1 10 1 0 1-3 1 5 1-6 1 4 1-8 1 0 1 3 1-4 1 3 1-2 1 4 1-1 1-3 1 2 1 3 1-5 1 4 1-3 1 0 1 6 1-5 1 1 1 10 1-15 1 2 1 3 1 3 1-7 1 6 1-5 1 9 1-6 1 2 1-6 1-5 1 7 1-4 1 3 1-5 1 4 1 0 1 2 1-4 1-1 1 2 1 7 1-7 1 4 1 0 1 0 1 0 1-7 1 9 1-1 1-2 1 2 1 1 1-2 1 1 1-2 1 3 1-5 1 4 1-2 1 4 1 1 1-3 1 0 1 1 1-6 1 4 1-4 1 4 1-2 1 0 1 4 1 2 1-7 1 1 1 2 1-1 1 1 1 1 1-3 1 6 1-8 1 5 1 4 1-3 1-4 1 2 1 0 1-1 1-3 1 1 1 4 1-1 1-2 1 4 1-1 1-6 1 3 1-4 1 0 1-6 1 7 1-2 1 0 1 3 1 1 1-7 1 6 1 1 1-3 1-5 1 9 1-8 1 7 1-5 1 1 1-2 1 5 1 1 1-1 1-4 1 2 1 3 1-1 1-4 1 6 1-3 1-4 1-3 1 20 1 18 1-17 1-15 1 3 1-6 1-2 1 1 1 1 1-5 1 5 1-1 1 0 1-6 1 6 1-2 1 3 1 0 1-8 1 9 1-5 1 5 1-2 1-1 1-5 1 4 1-4 1 5 1-4 1 0 1-6 1 5 1-5 1 1 1 2 1-6 1-2 1 3 1 0 1-5 1 4 1-4 1-4 1-2 1 1 1-3 1-3 1 4 1 0 1 0 1-9 1 1 1 3 1-4 1-2 1-3 1-4 1 5 1 7 1 7 1-17 1-21 1-18 1 1 1 14 1-10 1 3 1-8 1-6 1-2 1-9 1-3 1-9 1-6 1-5 1-13 1-10 1-4 1-21 1-7 1-17 1-17 1-5 1 12 1 11 1 13 1 10 1 16 1 10 1 16 1 15 1 20 1 20 1 20 1 22 1 9 1 8 1-1 1 7 1 3 1 9 1 4 1-2 1 0 1-2 1 2 1-1 1 5 1 3 1-4 1 2 1 2 1 7 1-10 1 7 1-1 1 3 1-1 1 1 1 0 1-4 1 2 1 1 1-2 1-2 1 0 1-2 1 5 1-12 1 8 1 4 1-7 1 4 1-2 1-4 1 0 1 12 1-7 1-4 1-4 1 8 1 2 1-3 1 0 1-1 1 1 1 3 1 1 1 0 1-3 1 4 1-1 1-1 1 3 1-5 1-7 1 6 1-2 1 2 1 4 1-6 1 5 1-11 1 8 1-2 1-6 1 11 1-9 1 0 1 8 1-3 1-8 1 4 1-2 1 5 1-6 1 4 1 3 1-2 1-7 1 8 1-7 1-4 1 2 1 9 1-8 1-4 1 3 1 1 1 2 1 0 1-1 1-2 1-6 1 5 1-4 1-1 1 9 1-1 1-1 1-4 1-4 1 6 1-11 1 3 1 2 1 9 1 1 1-2 1-3 1-1 1-5 1 6 1 4 1-3 1 2 1-3 1-6 1 7 1 5 1-10 1 2 1-2 1 6 1-5 1 0 1 7 1-10 1 0 1-1 1 6 1-7 1 2 1-2 1 8 1 2 1-2 1-7 1 2 1-1 1 2 1-7 1 5 1 5 1 1 1-3 1 5 1-9 1-5 1 8 1-2 1 0 1-4 1 8 1-6 1 0 1 2 1 4 1-8 1 1 1 1 1 1 1 2 1-9 1 6 1-7 1 6 1 0 1-2 1-3 1 7 1-8 1 2 1 6 1-1 1-1 1-2 1 0 1-1 1 5 1-2 1 3 1-2 1-7 1 1 1 7 1 2 1-7 1 6 1-5 1-1 1 6 1-5 1 1 1 3 1-1 1-2 1 3 1-6 1 5 1-8 1 10 1-4 1-1 1 1 1-1 1-3 1 0 1 4 1-3 1-4 1 11 1-9 1 3 1-8 1 3 1 5 1-5 1 7 1-13 1 5 1 4 1 0 1-6 1 4 1-2 1-2 1-2 1 0 1 1 1-5 1 7 1 1 1-2 1-1 1 3 1-4 1 0 1-3 1 5 1 3 1-4 1 5 1-10 1 8 1-6 1 5 1 0 1-1 1-1 1-6 1 7 1-4 1-4 1 6 1 0 1 2 1-3 1-3 1 7 1-6 1-3 1 2 1 4 1 1 1-10 1 5 1-5 1 5 1-1 1 1 1 0 1 3 1-3 1-2 1 7 1-6 1-2 1 3 1-1 1-7 1 5 1 4 1-1 1-5 1 5 1 0 1-5 1-5 1 1 1 2 1 0 1-5 1 4 1-4 1 3 1-5 1 3 1-2 1-2 1 5 1-2 1 4 1-4 1-3 1 4 1-6 1 3 1-2 1 5 1-1 1 0 1 0 1 1 1-8 1 4 1-3 1 1 1-4 1 11 1-8 1-3 1 7 1 0 1-3 1-2 1 1 1-3 1 8 1-5 1-2 1 3 1 2 1-3 1 8 1-2 1-2 1-3 1 2 1 2 1-3 1 3 1-6 1-1 1 0 1 1 1 0 1-3 1 2 1 4 1-9 1 4 1 3 1-4 1-3 1 1 1 1 1-7 1 3 1 2 1 2 1 0 1-3 1 7 1-14 1 10 1-1 1-6 1 8 1-1 1-12 1 19 1-13 1-1 1 3 1 1 1 2 1 0 1-2 1-1 1 2 1-5 1-1 1-6 1 8 1-3 1 2 1 4 1-4 1 2 1 1 1 0 1-5 1 8 1-1 1 2 1-5 1 1 1-3 1 2 1 2 1 4 1-4 1 3 1-1 1-7 1 8 1-4 1-1 1 6 1-3 1 3 1-5 1 2 1-4 1 3 1 3 1-4 1 4 1-4 1-6 1 0 1 3 1-1 1 1 1 3 1-3 1-3 1-1 1 8 1-3 1-3 1 5 1 0 1-3 1 4 1-2 1 1 1-4 1 2 1-7 1 6"/><path d="M0 5003l1 35 1-2 1-6 1 7 1 0 1 0 1 3 1-4 1-1 1 4 1-5 1 6 1-2 1 1 1 2 1-1 1-2 1-2 1 6 1-6 1 0 1-1 1-1 1 6 1 0 1-1 1-7 1 7 1-7 1 0 1 10 1-4 1 6 1-1 1-10 1 0 1 10 1-8 1 2 1 3 1 1 1-1 1-6 1 4 1 0 1 4 1-6 1 5 1 0 1-4 1-1 1 5 1 2 1-9 1-2 1 6 1 2 1-3 1-3 1 2 1 5 1-5 1 6 1-2 1-1 1-6 1 0 1 6 1 1 1 1 1 2 1-5 1 0 1 1 1 3 1-6 1 5 1-1 1-13 1 11 1 4 1-5 1 3 1-3 1 1 1-2 1 1 1-5 1 1 1 1 1 6 1 0 1-2 1 1 1-5 1 1 1 3 1-5 1-2 1-1 1 10 1-5 1 0 1 1 1 3 1-8 1 1 1 1 1 8 1-11 1 0 1 4 1-1 1 5 1-3 1 0 1 5 1-10 1 1 1 8 1-8 1 3 1 1 1 7 1-5 1 0 1 2 1-6 1 6 1-2 1-9 1 4 1 0 1 5 1-1 1 3 1-2 1-7 1-1 1 3 1 3 1-6 1 2 1 5 1-4 1 4 1 0 1-5 1 7 1 1 1-3 1 1 1 0 1 0 1-6 1 5 1-3 1 1 1-3 1 3 1-3 1 8 1-7 1-1 1 5 1 1 1-5 1 3 1-2 1-1 1 2 1 1 1-1 1-1 1-1 1 5 1 1 1-7 1 3 1 3 1-4 1 1 1 5 1-4 1-5 1 2 1-1 1 2 1 1 1 0 1-2 1-4 1 2 1 4 1-2 1 0 1-1 1 6 1-6 1 2 1-2 1 3 1-5 1 5 1 0 1-2 1 0 1 2 1 6 1-3 1-4 1 5 1-9 1 4 1 3 1-4 1 2 1 1 1-1 1 24 1-6 1-14 1-7 1-3 1-1 1 2 1 0 1 0 1 0 1-10 1 8 1 3 1-1 1 1 1 1 1 3 1-7 1 12 1-10 1-2 1-4 1 3 1 3 1 1 1-4 1-5 1 4 1-6 1-2 1 9 1-8 1 6 1-8 1 3 1-5 1 5 1 1 1-5 1-2 1-3 1-2 1 8 1-6 1-2 1 4 1-4 1 1 1-5 1 4 1-8 1 4 1-1 1 0 1-6 1 1 1 10 1-10 1-11 1 8 1 16 1-9 1-18 1-19 1-7 1 8 1 2 1 2 1-1 1-11 1-4 1-4 1 3 1-15 1-3 1-9 1-2 1-6 1-7 1-15 1-10 1-4 1-15 1-13 1-27 1-18 1-34 1-21 1 3 1 32 1 31 1 33 1 22 1 19 1 22 1 24 1 24 1 7 1 15 1 9 1 3 1-2 1 8 1 2 1 4 1 1 1-2 1 5 1 3 1 3 1 2 1-3 1 1 1-3 1 2 1 0 1-4 1 8 1-7 1 9 1-1 1-5 1 1 1-1 1 0 1-7 1 6 1-4 1 7 1-3 1-3 1 6 1 2 1-4 1-5 1 8 1 2 1-3 1 6 1-10 1-1 1 5 1-5 1 4 1-1 1 3 1-1 1-2 1-3 1 0 1 5 1-2 1-1 1 0 1-2 1 5 1-5 1 5 1 2 1-4 1-1 1 2 1-5 1-1 1 9 1-3 1-1 1 4 1-3 1-6 1 5 1-2 1 5 1-6 1 2 1 3 1-6 1 2 1 4 1-3 1 0 1-2 1-4 1 4 1 4 1-9 1 4 1 3 1-1 1-1 1 2 1 3 1-7 1 0 1 5 1-6 1 1 1 10 1-4 1-8 1 4 1 3 1 1 1-2 1-6 1 1 1 5 1-3 1-3 1 4 1-1 1-4 1 1 1 3 1 2 1-2 1-3 1-5 1 5 1-2 1 4 1-3 1 6 1-6 1 6 1 4 1-5 1-3 1 4 1 6 1-8 1-3 1 9 1-5 1-5 1 3 1 6 1-9 1 2 1 7 1-6 1-3 1 4 1 4 1-10 1 10 1-3 1 1 1 0 1-2 1-6 1 6 1 3 1 5 1-9 1-2 1 7 1-8 1 3 1-1 1 0 1 0 1 1 1-5 1 2 1 4 1-2 1-4 1 1 1 4 1-1 1-10 1 11 1 0 1-5 1 3 1 0 1 6 1-9 1-9 1 11 1-1 1-9 1 8 1 3 1-2 1-1 1-2 1 1 1 3 1 1 1-4 1-3 1 2 1-4 1 3 1 4 1-5 1 4 1-10 1 14 1-7 1-4 1 2 1-3 1 4 1-3 1 7 1-2 1-1 1-3 1-1 1 0 1 7 1-9 1 5 1-2 1 1 1 2 1 1 1-1 1-2 1-4 1-1 1 1 1 3 1 1 1-2 1 2 1-3 1-4 1 0 1 7 1-3 1-1 1-2 1 3 1-1 1-3 1 2 1-2 1 0 1 2 1-4 1 6 1-4 1 4 1-7 1 0 1 9 1-1 1-5 1 4 1-4 1-1 1 0 1 3 1-2 1-8 1 4 1-6 1 4 1 0 1 3 1 1 1-5 1 2 1 4 1-4 1-2 1 1 1 6 1-5 1 0 1-1 1 2 1-2 1 4 1 0 1-4 1-6 1 9 1-4 1-1 1-7 1 9 1-1 1-12 1 12 1 7 1-4 1-4 1-2 1-2 1 8 1-3 1-4 1-3 1 7 1-3 1 8 1-4 1-2 1 1 1-1 1-4 1 4 1 2 1-6 1 1 1 2 1-2 1 4 1-1 1 0 1-3 1-2 1 5 1-3 1 0 1 2 1-7 1-3 1 4 1 2 1 3 1-5 1 0 1-1 1 2 1-1 1 5 1 5 1-10 1 1 1-2 1 2 1-4 1 2 1-2 1 1 1-2 1 5 1-7 1 8 1-5 1-4 1-1 1 2 1-3 1 5 1 7 1-8 1 3 1-2 1-1 1 7 1-4 1-6 1 4 1-4 1 4 1 1 1 4 1-4 1-3 1 3 1 0 1-4 1 2 1 4 1 5 1-8 1-4 1 5 1-5 1 0 1 1 1-5 1 18 1-11 1-1 1 2 1-6 1-5 1 11 1 1 1-3 1-2 1 4 1-3 1 6 1-5 1 3 1-8 1 3 1 0 1 3 1-4 1 0 1-2 1 3 1-5 1 1 1 6 1 0 1 3 1-1 1 0 1-3 1-4 1-1 1 6 1 1 1-7 1 7 1-3 1 1 1-4 1-4 1 2 1 4 1 3 1-3 1 5 1-9 1 10 1-5 1-3 1 0 1 5 1-7 1-1 1 4 1 2 1-3 1 0 1 4 1-3 1 0"/><path d="M0 5156l1 11 1 0 1-2 1 3 1-4 1 4 1-1 1-3 1 6 1-7 1 3 1 2 1-2 1 1 1-1 1 2 1-4 1 3 1-2 1 0 1 3 1 0 1-1 1-1 1-1 1 2 1-4 1 1 1-3 1 2 1 4 1-2 1-1 1 3 1 3 1-2 1-3 1 2 1 1 1-6 1 1 1 1 1 2 1-1 1 1 1 1 1 0 1-5 1-2 1 2 1-3 1 8 1-3 1-3 1 6 1-4 1 1 1-1 1 0 1 1 1-1 1-1 1 0 1 7 1-9 1 8 1-5 1 4 1-6 1 2 1 6 1-2 1 3 1 1 1-5 1-2 1 2 1 0 1 0 1-9 1 8 1 1 1 5 1-9 1 4 1-1 1 0 1 3 1-3 1 3 1-9 1 10 1-4 1-1 1 7 1-9 1 6 1-1 1 0 1-3 1 0 1-4 1 2 1 6 1-4 1-1 1-2 1 3 1 3 1-2 1-2 1 0 1-1 1 0 1-1 1 6 1-7 1 3 1 3 1-2 1-3 1 1 1 4 1-6 1 3 1-3 1 1 1 3 1-5 1 1 1 4 1-1 1-5 1 7 1-4 1-2 1 6 1-2 1-2 1 1 1-1 1-1 1 1 1 3 1-2 1-4 1 3 1-4 1 1 1 7 1-4 1 3 1-1 1-3 1 3 1 3 1-5 1-2 1 4 1-3 1 2 1-3 1 0 1 3 1 1 1-2 1-3 1 4 1-1 1-2 1 4 1-2 1 0 1 7 1 2 1-3 1-4 1 1 1 3 1-4 1 4 1-5 1 4 1-1 1-1 1-1 1 1 1 2 1-7 1 4 1 6 1-3 1 1 1-2 1-2 1 3 1 2 1-9 1 1 1 4 1-7 1 4 1 6 1-6 1 2 1-4 1 6 1-5 1-3 1 7 1-5 1 5 1-2 1-3 1 4 1-2 1 0 1-2 1-3 1-2 1 0 1 2 1 3 1 3 1-4 1-2 1-5 1 10 1-1 1 0 1-1 1-7 1 4 1-7 1 7 1-5 1 6 1-7 1 2 1 5 1-7 1 1 1-2 1 2 1-1 1-1 1-2 1 0 1 0 1 0 1-2 1 0 1 5 1-5 1-1 1-4 1 0 1 6 1-5 1 6 1-5 1 4 1-6 1-3 1 1 1 4 1-6 1 0 1-3 1 1 1 3 1-3 1-2 1-2 1-3 1 0 1-4 1-3 1 7 1-3 1-3 1 1 1 13 1 2 1-5 1-25 1-11 1-5 1 9 1-1 1 1 1-2 1-8 1 0 1-4 1-11 1-1 1-9 1 1 1-8 1-9 1-3 1-2 1-10 1-14 1-7 1-11 1-10 1-8 1-15 1-12 1-13 1-12 1-16 1 22 1 25 1 20 1 25 1 21 1 26 1 32 1 12 1 11 1 5 1 6 1 2 1-3 1 12 1-1 1 4 1 0 1-5 1 1 1 5 1 8 1 0 1 1 1-1 1 1 1-1 1-2 1 2 1 1 1 3 1-9 1 5 1 2 1-1 1 5 1-7 1-1 1 5 1 0 1-2 1 0 1-1 1 7 1-5 1-1 1 0 1-1 1 4 1 1 1-1 1 0 1-2 1 2 1-3 1 3 1 4 1 0 1 4 1-4 1-6 1-6 1 9 1 4 1 0 1-1 1-3 1-2 1-2 1-1 1 1 1 2 1 4 1-7 1-3 1 8 1 3 1-5 1-3 1-1 1 9 1-8 1 0 1 2 1-1 1 0 1 0 1 4 1 0 1-5 1 0 1 3 1 2 1-6 1 7 1-9 1 10 1-2 1 0 1-1 1-2 1 0 1 4 1-9 1 4 1 4 1-5 1 4 1-1 1-3 1 2 1-2 1 0 1 2 1 5 1-5 1-3 1 4 1 8 1-6 1-7 1 5 1 1 1-3 1 4 1-8 1 8 1-9 1 9 1 0 1 1 1-10 1 13 1-11 1 8 1-1 1 3 1-5 1 4 1-2 1-1 1 6 1-4 1 5 1 2 1-8 1 5 1-2 1-4 1 14 1-2 1-8 1 2 1 2 1-1 1-3 1-4 1 8 1-2 1-3 1 0 1 2 1-3 1-3 1-1 1 4 1-7 1 11 1-2 1 0 1 0 1 2 1-3 1 2 1 2 1 2 1-4 1-4 1 5 1-5 1 1 1 5 1-4 1-3 1 3 1-2 1-1 1 3 1 1 1-5 1-4 1 5 1 2 1-2 1-5 1 5 1-9 1 9 1-2 1-3 1 7 1-1 1-1 1-1 1-8 1 10 1 5 1-10 1 8 1-4 1-1 1-3 1-4 1 5 1-2 1 2 1 1 1 2 1-12 1 7 1 4 1-6 1-2 1 2 1 2 1-1 1 3 1-3 1 1 1-1 1 0 1-6 1 7 1-5 1 12 1-16 1 5 1 0 1 3 1-4 1-3 1 1 1 2 1-6 1 6 1 0 1-3 1-3 1 4 1-2 1 3 1-4 1-3 1 6 1-5 1 9 1-2 1-10 1 7 1 2 1-2 1-2 1-3 1-3 1 0 1 2 1 0 1 0 1 6 1-6 1-3 1 2 1-4 1 5 1-5 1-3 1 10 1-4 1-4 1 5 1 1 1-7 1 3 1-4 1 3 1-2 1 1 1 1 1 1 1-1 1-1 1 4 1 2 1-3 1-6 1 1 1 1 1-3 1-2 1-1 1 7 1-7 1-3 1 3 1 5 1 0 1-2 1 4 1-7 1 3 1 3 1-2 1-6 1 8 1-3 1 2 1-2 1 2 1 2 1-3 1 2 1 0 1 0 1-7 1-6 1 0 1 5 1 1 1 2 1-4 1 4 1 3 1-6 1 2 1 1 1-4 1 3 1-1 1-2 1 4 1 0 1 2 1-6 1 0 1 6 1-7 1 3 1 1 1-2 1-4 1 4 1-4 1 4 1-1 1-7 1 0 1 6 1 0 1-4 1-1 1-2 1 9 1-5 1-1 1 2 1-4 1-3 1 0 1 4 1-7 1 5 1-5 1 4 1-1 1 6 1-7 1 3 1 0 1 4 1-14 1 8 1-6 1 12 1-12 1 0 1 0 1 1 1 3 1 5 1-9 1 8 1-4 1 4 1-11 1 9 1-3 1 4 1 5 1-8 1 2 1 1 1-2 1 4 1-2 1-4 1 9 1-9 1 6 1-3 1-1 1 3 1 2 1-2 1-5 1 7 1-7 1 1 1 0 1 2 1-3 1 4 1 1 1-1 1 4 1-2 1 0 1 0 1-7 1 8 1-6 1 2 1 0 1 3 1-8 1 3 1 1 1 3 1-1 1-5 1 11 1-11 1 11 1-4 1-4 1-5 1 8"/><path d="M0 5245l1 38 1-1 1-3 1 4 1-2 1 3 1-2 1-2 1-1 1 1 1 2 1-8 1 6 1 2 1-3 1 6 1-3 1 3 1-1 1-2 1 5 1-1 1-6 1 3 1-4 1 3 1 1 1-1 1 1 1 2 1 2 1-2 1 2 1-5 1 1 1 4 1-5 1 3 1-1 1 2 1 2 1-3 1-2 1 0 1 8 1-3 1-6 1-1 1-2 1 7 1-1 1-6 1 9 1-1 1 6 1-5 1-5 1 5 1 0 1-4 1 0 1 2 1 2 1 3 1-6 1 3 1 4 1-8 1 0 1 1 1 3 1-5 1 6 1-5 1 0 1 3 1 1 1-4 1 1 1 3 1 3 1-7 1 4 1 1 1-1 1-1 1 0 1-4 1 3 1-2 1 1 1 2 1 6 1-5 1-2 1 5 1-7 1 6 1-5 1 3 1 5 1-6 1-2 1 1 1 3 1-9 1 13 1-10 1 5 1 0 1-4 1 1 1 5 1-5 1 3 1-2 1 0 1 1 1 1 1-2 1 4 1-3 1 0 1-7 1 2 1 8 1 0 1-1 1 2 1-9 1 5 1 3 1 0 1 1 1-1 1-3 1 5 1-7 1 1 1 6 1-6 1 5 1-7 1 2 1 2 1-8 1 5 1-7 1 4 1 2 1 0 1 3 1-6 1 8 1-7 1-2 1 4 1 1 1 1 1-1 1-4 1-3 1 11 1-5 1 1 1 2 1 0 1-7 1-1 1-1 1 1 1 7 1-2 1 0 1-3 1 3 1-1 1 1 1 1 1-1 1 1 1-2 1 5 1 1 1-6 1 1 1-1 1-1 1 5 1-3 1-8 1 12 1-2 1-6 1 5 1-1 1 1 1 0 1 8 1-4 1 3 1-3 1-4 1 5 1 1 1-6 1 3 1 1 1-1 1 1 1-8 1 8 1 0 1-4 1 6 1-5 1 6 1-6 1 0 1 1 1-1 1 2 1-6 1-1 1 0 1 4 1-4 1 2 1-2 1-2 1 1 1 1 1-2 1 6 1-2 1 0 1-2 1-1 1-5 1 5 1-3 1 5 1-3 1 1 1-6 1 7 1-2 1-8 1 5 1-1 1 3 1 6 1-10 1 6 1-2 1-5 1-3 1 1 1 3 1-2 1 2 1-2 1-1 1-1 1 1 1-4 1 2 1-3 1 3 1 0 1 1 1-4 1-3 1 1 1 3 1-5 1 2 1 0 1 1 1-7 1 7 1-10 1 7 1-4 1 2 1 1 1 12 1-5 1-16 1-24 1-2 1 5 1 14 1 0 1-11 1 5 1-6 1-8 1-5 1 2 1-5 1 1 1-9 1 2 1-14 1 0 1-5 1-2 1-8 1-11 1-4 1-9 1-9 1-12 1-10 1-16 1-24 1-25 1-33 1-42 1 34 1 53 1 58 1 53 1 34 1 29 1 31 1 13 1 9 1 6 1 2 1 11 1-1 1 9 1 5 1-2 1-4 1 17 1-12 1 3 1-4 1-4 1 7 1 3 1-1 1 6 1-2 1 0 1 5 1-8 1 4 1 1 1-4 1 3 1 3 1-10 1 6 1 0 1 2 1-2 1 0 1 1 1 3 1-6 1 1 1-3 1 4 1-6 1-3 1 0 1 2 1-2 1 1 1 1 1 0 1-3 1 6 1-2 1-2 1 2 1-4 1 0 1 3 1-2 1-2 1-6 1 4 1-2 1 4 1-2 1 0 1-7 1 7 1 0 1 3 1-2 1-11 1 12 1 1 1-4 1-3 1-3 1-3 1 3 1 4 1-3 1-2 1 0 1-5 1-4 1 8 1-6 1 4 1 3 1-6 1-2 1 3 1-2 1 1 1 2 1-2 1 3 1 3 1-11 1-4 1 7 1-4 1 2 1 8 1-5 1 1 1-1 1 4 1 2 1-11 1 9 1-4 1-5 1 1 1 4 1 1 1-5 1 7 1-5 1 3 1-6 1 3 1 7 1-12 1 6 1-1 1 3 1-1 1 1 1-2 1-7 1 10 1 3 1-10 1 1 1 3 1-6 1 5 1 1 1-1 1-1 1 4 1-4 1 5 1-6 1-1 1 5 1 0 1-8 1 1 1 3 1 3 1-4 1-1 1 1 1 4 1-11 1 5 1-2 1 4 1 4 1-1 1-4 1-2 1 5 1-5 1-2 1 5 1 0 1 1 1-9 1 4 1 0 1 2 1 0 1-4 1-1 1 1 1-2 1 12 1-6 1-7 1 3 1 4 1 2 1 2 1-3 1-6 1 5 1-6 1 4 1-2 1 5 1-7 1 6 1-2 1-8 1-1 1 5 1 1 1-7 1 6 1-9 1 11 1-8 1 4 1-4 1 4 1 0 1-9 1 7 1-1 1-4 1 5 1-1 1 1 1-10 1 7 1-3 1 1 1 6 1-5 1 2 1-7 1 0 1-2 1 1 1 0 1 4 1-7 1 6 1-7 1 8 1-9 1-1 1 2 1-1 1-3 1 5 1-1 1 1 1-9 1 8 1-11 1 8 1-3 1-2 1 4 1-5 1 1 1-1 1 6 1 0 1-4 1 1 1-3 1 6 1-2 1-5 1-2 1 8 1-9 1 6 1 1 1-9 1 6 1 0 1 1 1 1 1-8 1 4 1-1 1 3 1-4 1 0 1-6 1 5 1-2 1 1 1-6 1 1 1 3 1-3 1 5 1-1 1-4 1 6 1-4 1 0 1-1 1 5 1-9 1 6 1-2 1-5 1 4 1-3 1-2 1 1 1 1 1-3 1-2 1 3 1-1 1-3 1-1 1-1 1 1 1 5 1-2 1-5 1 2 1-1 1 2 1 0 1-8 1 1 1 5 1-2 1 4 1-6 1-4 1 16 1-4 1-7 1 6 1-6 1-2 1 6 1-10 1 3 1-1 1 10 1-10 1 5 1-1 1 1 1 0 1 2 1-3 1-3 1 2 1 0 1 0 1 3 1-6 1-1 1-7 1 10 1-3 1 3 1-7 1 3 1-2 1-1 1-2 1 4 1-2 1 5 1-2 1 1 1-4 1 3 1-3 1-4 1 2 1 2 1 2 1-6 1 10 1-7 1-2 1 3 1-3 1 2 1-7 1 8 1-2 1 7 1-9 1 2 1 3 1-8 1 5 1-2 1-4 1-1 1 11 1-8 1 2 1-1 1-8 1 6 1-1 1 6 1-1 1-8 1 5 1-8 1 9 1-2 1 5 1 0 1-7 1 6 1-2 1 0 1 0 1 0 1 5 1-5 1 10 1-16 1 5 1 1 1-1 1-6 1 3 1 5 1-3 1 11 1-9 1 2 1-5 1 0 1 9 1-9 1 4 1 2 1-2 1 4 1 1 1-5 1 4"/><path d="M0 5407l1 6 1-3 1-2 1 10 1-5 1-3 1 5 1-3 1 4 1 1 1-5 1 3 1-2 1-3 1 0 1-2 1 3 1-1 1 1 1-2 1 6 1-10 1 6 1 1 1-2 1 4 1-3 1-5 1 8 1 0 1-3 1 3 1-2 1 3 1-4 1 8 1-2 1 0 1-3 1 2 1-2 1-3 1 2 1-2 1 5 1 2 1-6 1 5 1-4 1 2 1-3 1 8 1-3 1 1 1-3 1 3 1-1 1 1 1-5 1 4 1-4 1 1 1 0 1 4 1 0 1-2 1 4 1-3 1 0 1-5 1 1 1 5 1-2 1-4 1 8 1-6 1-3 1 3 1-1 1-3 1 5 1-5 1-1 1-2 1 7 1 0 1-2 1-2 1 4 1 4 1-10 1 3 1 2 1-3 1 2 1 5 1-4 1 2 1 7 1-10 1 0 1 7 1-4 1 1 1-2 1-5 1 8 1 2 1-9 1 2 1 0 1 2 1 2 1-4 1 2 1-4 1 8 1-1 1-10 1 11 1-5 1 8 1-11 1 6 1 1 1-5 1 7 1-6 1-3 1 3 1 1 1-1 1 3 1 1 1 0 1-4 1 4 1-3 1-3 1 3 1-6 1 3 1 4 1-5 1 4 1 3 1-5 1 3 1-4 1 6 1-7 1 2 1 3 1-3 1 4 1-4 1-4 1 8 1 0 1-2 1-3 1 3 1 0 1-2 1 4 1-1 1 2 1-5 1 1 1 2 1-3 1-3 1 0 1 10 1-7 1-2 1 6 1 1 1 0 1-3 1-4 1 8 1-3 1-5 1 3 1 0 1 1 1-7 1 9 1-5 1 3 1-6 1-2 1 7 1 0 1-3 1 6 1-4 1 1 1-4 1 4 1-4 1 7 1 0 1-11 1 3 1 3 1-3 1 3 1 1 1-2 1-2 1 2 1 1 1 2 1-12 1 6 1 0 1 3 1-2 1-1 1-1 1 0 1-1 1-1 1 0 1 7 1 2 1-3 1-5 1 13 1-9 1-2 1-6 1 9 1 2 1-2 1 0 1 1 1-2 1 3 1-3 1-1 1 1 1-4 1 7 1-6 1 0 1 3 1 2 1-8 1 1 1 1 1 1 1-1 1-1 1-4 1 1 1 7 1 0 1-4 1 0 1-2 1 4 1-4 1 5 1-9 1 4 1-3 1 5 1-3 1 1 1-4 1-3 1 3 1 1 1 1 1-8 1 0 1 1 1-2 1-4 1 4 1-1 1 2 1 0 1-4 1 2 1-6 1 16 1 3 1-1 1-20 1-21 1 6 1 8 1 13 1-7 1-5 1 2 1-6 1-3 1 4 1-12 1 2 1-3 1-6 1-2 1-2 1-7 1-4 1-8 1 1 1-6 1-6 1-2 1-13 1-1 1-8 1-18 1-4 1-9 1-6 1-17 1-14 1 25 1 29 1 29 1 30 1 26 1 25 1-1 1 13 1 3 1 5 1 5 1 3 1 6 1-5 1 2 1 3 1 9 1-10 1 4 1 5 1-4 1 2 1 4 1 0 1 0 1 0 1 5 1-8 1 5 1 3 1-8 1-1 1-2 1 5 1 4 1-1 1-3 1 1 1 1 1 5 1-5 1-3 1 2 1 1 1-7 1 10 1-2 1-1 1-1 1 1 1 6 1 1 1-5 1-1 1-3 1 1 1 7 1-4 1-1 1 2 1-4 1 4 1-5 1 1 1 9 1-4 1-5 1-1 1 1 1 1 1-2 1-3 1 5 1-4 1-1 1 3 1 2 1 0 1 0 1-3 1 2 1-3 1-2 1 6 1-2 1-1 1 0 1 3 1 0 1-8 1 11 1-1 1-4 1 2 1 1 1 0 1 0 1-3 1 10 1-8 1-4 1 6 1-7 1 7 1 1 1 0 1-4 1 3 1-4 1-3 1 3 1-1 1 5 1 1 1-1 1 1 1-1 1 3 1-2 1-6 1 5 1 2 1 1 1-1 1-10 1 3 1 1 1-2 1 2 1 2 1 4 1-5 1-3 1 6 1-4 1 2 1-2 1 2 1-5 1 1 1 6 1-5 1-2 1 5 1-9 1 8 1-1 1-2 1-1 1 6 1-8 1 12 1-12 1 9 1-5 1-1 1 3 1 2 1-5 1-2 1 3 1 4 1-2 1 1 1-1 1-2 1-2 1 5 1 2 1-1 1-3 1-3 1 7 1-3 1 1 1-2 1 1 1 0 1 5 1-11 1 6 1 1 1 0 1 2 1 3 1-10 1 4 1-4 1 2 1-3 1 7 1-3 1-10 1 14 1-9 1 5 1-4 1 3 1-11 1 12 1 3 1-9 1 4 1 1 1-4 1 2 1 0 1 5 1-11 1 3 1 2 1 1 1-3 1-3 1-4 1 7 1-3 1-2 1 0 1-1 1 7 1-3 1-2 1 2 1 0 1 1 1-2 1 8 1-7 1 3 1-1 1 2 1-11 1 2 1 7 1-9 1 6 1-2 1 1 1-1 1-1 1-6 1 7 1 0 1-4 1-3 1 10 1-8 1 4 1-5 1 2 1 1 1-5 1 2 1 5 1 2 1-1 1-2 1-2 1 0 1 5 1-7 1-3 1 3 1 1 1-4 1 1 1 0 1-2 1 1 1 0 1-2 1 1 1-1 1-2 1-3 1 3 1-5 1 1 1 4 1 1 1-7 1 0 1 2 1-4 1 2 1 6 1-2 1-8 1 3 1 5 1-6 1-1 1 7 1-6 1 1 1 5 1-5 1 4 1-5 1-4 1 13 1-10 1-3 1-1 1 5 1-9 1 2 1 4 1 2 1-4 1 4 1-12 1 8 1 1 1 1 1-2 1-3 1 3 1 1 1 0 1 5 1-6 1-2 1 1 1 1 1 3 1-5 1 2 1 3 1-4 1-5 1 1 1-1 1 1 1 2 1 3 1-2 1-1 1-3 1-7 1 13 1 2 1-10 1 2 1-2 1 1 1 2 1-5 1 8 1-12 1 3 1-6 1 11 1-5 1 2 1-6 1 4 1 0 1 3 1 1 1-8 1 3 1 2 1 1 1 3 1-6 1 1 1 0 1 1 1-4 1 1 1 3 1-4 1 2 1 0 1 9 1-3 1-2 1-3 1-1 1-3 1 11 1-5 1-4 1 3 1-8 1 4 1-6 1 9 1 1 1 3 1-2 1 3 1-5 1-3 1 1 1-2 1 3 1-1 1 0 1 0 1-3 1 2 1 4 1 1 1-5 1 8 1-6 1 3 1 1 1-9 1 4 1 4 1-2 1 4 1-7 1 1 1-5 1 4 1-4 1 5 1 4 1-4 1-3 1 1 1 4 1-4 1 4 1 0 1 4 1-3 1 1 1-2"/><path d="M0 5522l1 17 1-1 1 10 1-5 1 1 1-3 1 1 1 1 1-7 1 1 1 1 1-1 1 3 1-6 1 6 1 0 1-1 1 6 1-9 1 2 1 5 1-2 1-7 1 4 1 2 1-2 1 0 1-2 1 7 1-4 1 5 1 1 1-7 1 3 1-2 1-1 1 4 1 1 1-5 1 2 1 5 1-6 1 1 1-1 1 1 1-5 1 3 1-1 1-5 1 7 1 2 1-4 1-2 1 2 1-5 1 0 1 9 1-4 1-1 1 1 1-1 1-1 1 2 1 4 1-2 1-1 1 0 1-4 1 4 1-1 1-1 1-3 1-2 1 7 1-5 1 3 1 6 1-6 1-4 1 1 1 3 1 0 1-7 1 6 1-1 1-1 1 4 1-2 1-2 1 2 1-5 1 3 1 6 1 0 1 2 1-1 1-6 1 8 1-2 1-6 1-1 1 6 1-7 1 9 1-2 1-2 1 5 1-5 1 3 1-8 1 4 1-3 1 1 1 3 1 2 1-6 1 2 1 3 1-4 1-3 1 6 1 0 1 2 1 0 1 2 1-2 1-7 1 7 1 2 1-1 1 3 1-3 1-1 1-3 1 0 1 6 1 2 1-4 1-1 1 0 1 0 1 0 1-2 1 2 1 0 1 5 1-5 1-2 1-1 1-2 1 3 1-3 1 6 1-7 1 5 1 3 1-8 1-1 1 8 1-4 1 7 1-6 1-3 1 7 1-6 1 5 1 1 1 2 1-4 1-2 1-3 1 1 1 5 1 2 1-8 1 4 1 0 1-2 1-5 1 3 1 5 1 0 1-1 1 1 1-6 1-2 1 2 1 8 1-9 1 4 1-2 1 5 1-6 1 3 1-3 1 6 1-1 1-1 1 0 1 1 1-1 1 9 1-3 1-1 1-2 1-4 1 6 1-1 1-1 1 0 1 3 1 3 1-10 1 4 1-2 1-1 1 0 1-2 1 4 1 0 1 4 1-12 1 5 1-1 1 10 1-9 1-1 1-2 1-1 1-1 1 1 1 6 1 3 1-13 1 7 1-1 1 3 1-7 1 2 1 4 1 2 1-5 1-5 1 5 1 3 1-5 1-1 1 3 1-2 1-5 1 7 1-2 1-5 1 6 1-1 1 5 1-4 1-5 1-3 1 3 1 0 1 0 1-4 1-2 1 0 1 4 1 2 1-3 1 3 1-2 1-3 1 2 1-3 1-1 1 1 1 1 1 1 1-3 1-7 1 7 1 0 1-3 1 0 1-4 1-2 1 6 1-3 1 0 1-4 1 4 1-4 1-6 1 2 1 0 1 0 1-4 1-1 1-2 1 2 1 2 1-2 1 1 1-2 1-6 1-4 1-1 1-3 1-2 1-3 1-1 1-7 1-2 1 5 1-20 1 11 1-12 1-4 1-7 1-6 1-4 1-11 1-8 1-7 1-10 1-9 1-9 1-12 1-13 1-18 1 30 1 28 1 24 1 28 1 27 1 20 1 6 1 5 1 7 1-1 1 9 1 0 1 1 1 0 1 3 1 6 1-6 1 6 1-1 1 3 1-3 1 5 1-4 1 4 1 2 1-7 1 6 1-1 1 3 1-14 1 12 1-4 1 5 1-3 1 1 1-2 1 3 1 7 1-10 1 3 1 2 1 5 1-7 1 3 1-5 1 6 1-3 1-4 1 6 1 2 1-5 1 1 1 2 1-1 1 3 1-5 1 6 1-5 1 10 1-11 1 7 1-6 1 3 1-1 1 0 1-2 1 4 1 3 1-7 1-1 1 11 1-9 1 1 1 5 1 0 1 5 1-5 1 6 1-3 1-1 1-5 1 7 1-8 1 10 1 4 1-5 1 2 1-3 1-4 1 4 1-6 1 8 1-6 1 2 1-2 1 9 1-6 1 1 1-3 1 2 1-2 1-1 1 1 1 6 1-5 1 1 1 7 1-5 1 2 1-3 1 3 1 1 1-4 1 6 1 0 1-12 1 15 1-4 1 2 1 3 1-5 1-2 1 3 1-7 1-3 1 5 1 2 1-5 1 6 1-8 1 3 1 8 1-8 1 4 1-7 1 2 1 6 1-10 1 5 1-4 1 6 1-5 1 3 1 1 1-2 1 4 1 3 1-3 1-2 1 9 1-1 1-6 1 2 1-2 1 1 1 0 1 0 1-6 1 1 1 6 1-3 1 3 1-6 1 8 1-3 1-3 1 2 1 2 1-3 1 1 1 4 1-3 1 1 1-4 1 4 1-1 1 2 1 8 1-8 1-2 1-1 1 7 1-9 1 3 1 5 1-8 1 2 1 2 1 4 1 0 1-2 1-4 1 7 1-2 1 2 1-3 1-5 1 3 1-5 1 9 1-8 1-6 1 4 1 3 1-2 1 3 1-5 1 1 1 3 1-3 1 1 1-4 1 4 1 4 1-4 1 8 1-13 1 0 1 4 1-6 1 3 1 3 1-4 1 2 1-4 1 6 1-2 1-7 1 8 1-5 1 3 1-9 1 1 1 8 1-1 1-1 1-6 1 3 1 6 1-8 1 2 1-3 1 0 1 3 1-6 1 7 1 0 1-4 1 0 1-5 1 7 1 1 1-3 1-2 1 1 1 0 1 11 1-9 1-6 1 8 1-5 1-5 1 13 1-12 1 2 1 2 1 3 1-6 1 6 1-8 1 0 1-1 1 0 1 1 1 6 1-7 1 3 1-1 1-1 1-1 1 3 1-2 1-7 1 5 1-5 1 11 1-5 1 0 1 5 1-8 1 1 1-1 1 5 1-2 1-1 1 2 1 3 1-10 1 4 1-4 1 2 1 1 1-6 1-3 1 10 1-6 1 4 1-6 1 6 1-4 1 4 1-6 1-2 1 0 1 3 1 2 1-5 1 5 1 0 1-6 1 3 1 1 1 2 1-1 1-3 1 0 1 3 1 1 1-4 1 4 1-3 1-4 1 5 1-3 1 1 1 1 1-1 1-1 1 3 1-6 1-4 1-1 1-4 1 2 1 4 1 0 1 1 1 5 1-2 1 3 1-4 1-3 1 5 1 1 1-7 1 4 1 2 1-3 1 8 1-5 1 2 1-4 1 0 1-6 1 5 1 3 1-4 1 1 1-6 1 4 1 2 1 0 1-2 1 1 1 3 1 0 1 0 1 1 1-7 1 6 1-1 1-1 1 1 1 2 1-5 1 10 1-7 1 5 1-7 1 3 1-1 1-4 1 9 1-9 1 8 1-3 1 2 1-5 1 3 1 1 1-4 1 3 1 0 1-4 1 3 1 1 1-3 1-5 1 3 1-1 1 3 1-5 1 7 1-7 1 5 1-5 1 4 1 2 1-3 1 8 1-8 1-4 1 6 1 4 1-7 1 3 1 1 1 1 1-2 1 3"/><path d="M0 5668l1-3 1-11 1 1 1 0 1-1 1 0 1 1 1 6 1 0 1-2 1-6 1 6 1 1 1 2 1-4 1-2 1 3 1 3 1-2 1 1 1-4 1 2 1 1 1 1 1-2 1 6 1-3 1 5 1-7 1 5 1 1 1-5 1 0 1-4 1-1 1-2 1 2 1 1 1 3 1-1 1 2 1-1 1 0 1-1 1 3 1 2 1-6 1 5 1 1 1 0 1-8 1 0 1 5 1-3 1-1 1 3 1-1 1 6 1-7 1 0 1-3 1 6 1-4 1-3 1 3 1-5 1 1 1 6 1-2 1-3 1 9 1-1 1-4 1 3 1 6 1-6 1 0 1-2 1 0 1 3 1 1 1 0 1-2 1 0 1 4 1-2 1 1 1-3 1 1 1 0 1 1 1 0 1-9 1 11 1-5 1 0 1 0 1 1 1 1 1 1 1-2 1-1 1 5 1-4 1-1 1 2 1 1 1-1 1 7 1-5 1 3 1-5 1 3 1 4 1 0 1-8 1 6 1-10 1 3 1 5 1-6 1 4 1-1 1-4 1 3 1 2 1-7 1-4 1 4 1 2 1 1 1 1 1-1 1 3 1-3 1 1 1 7 1-4 1-3 1 4 1 6 1-10 1 7 1 3 1-7 1 3 1-3 1 1 1-4 1 3 1-4 1 2 1 5 1-5 1 0 1 2 1 0 1-3 1 5 1-6 1 3 1 4 1-4 1 2 1 4 1-2 1 6 1-6 1 2 1-4 1 3 1-2 1 3 1-9 1 8 1-4 1 2 1-5 1 4 1-5 1 3 1-4 1 0 1 2 1-2 1 1 1 0 1 3 1-2 1 0 1-2 1-3 1 8 1-3 1 1 1-1 1-4 1 4 1 1 1-1 1-5 1 4 1 0 1 7 1-8 1 0 1 6 1-5 1-4 1 6 1 2 1-6 1 4 1-5 1 1 1 4 1 0 1-1 1-2 1 6 1-1 1 1 1 0 1-2 1 0 1 0 1-1 1 2 1 5 1-12 1 2 1 5 1 1 1 0 1 3 1-3 1 0 1-5 1-1 1 6 1-8 1 6 1-5 1 3 1-2 1-3 1 5 1-8 1 2 1 0 1 0 1 2 1 2 1 0 1 4 1-3 1-1 1 4 1-2 1 2 1-7 1-1 1-4 1 8 1-4 1 0 1 1 1 2 1-2 1 1 1-3 1-2 1-2 1 3 1-2 1 3 1 1 1-3 1 6 1-6 1 6 1-3 1 0 1-1 1 6 1-6 1 1 1 2 1-2 1 1 1 0 1-2 1-1 1-1 1-6 1 7 1-4 1-1 1-4 1 0 1-1 1-3 1 3 1 0 1 0 1-1 1-5 1 1 1 2 1-2 1-5 1 7 1-5 1-4 1-4 1-9 1 5 1 2 1-2 1-5 1-9 1 2 1-5 1-1 1-5 1-10 1 2 1-11 1-5 1-8 1-4 1-9 1-25 1-20 1-27 1-30 1 43 1 43 1 44 1 27 1 7 1 0 1 13 1 0 1 9 1-1 1 12 1-4 1 2 1 1 1 0 1 7 1-2 1-1 1 6 1 1 1-2 1-2 1-1 1 6 1-5 1 1 1 1 1 0 1 5 1-7 1 4 1 1 1-8 1 6 1-5 1 10 1-6 1 2 1-1 1 4 1 2 1-3 1-3 1 3 1 2 1-5 1 2 1-6 1 3 1 8 1-5 1 0 1-4 1 2 1 0 1-3 1 2 1 3 1 1 1-7 1 4 1 2 1-4 1 5 1 4 1-1 1-5 1-1 1 8 1-3 1-2 1-4 1 4 1 6 1 2 1-8 1 5 1-6 1 0 1 2 1 1 1-8 1 4 1 5 1-4 1 3 1-3 1 0 1 2 1 4 1-2 1 7 1-10 1 6 1-5 1 4 1 0 1 3 1-2 1-6 1 3 1 9 1-10 1 3 1-1 1-4 1 6 1-2 1 2 1-10 1 8 1 6 1-2 1-9 1-1 1 2 1-2 1 1 1 4 1 1 1-4 1 5 1-3 1-1 1-3 1 1 1 1 1 1 1 3 1 1 1-3 1 7 1-7 1 3 1 2 1-3 1-2 1-1 1-2 1 6 1-2 1 2 1-4 1 0 1-1 1 2 1 0 1 2 1-1 1 6 1 0 1-5 1 1 1 3 1-3 1 1 1-5 1 3 1-2 1 1 1-2 1 8 1 3 1-17 1 8 1 5 1-10 1 4 1 0 1 1 1-11 1 15 1-4 1-3 1 4 1-2 1-6 1 3 1 1 1 1 1-5 1 4 1 1 1-2 1 2 1 0 1-1 1 5 1-4 1 1 1-5 1 2 1 0 1-3 1-3 1 3 1 7 1-8 1 3 1-3 1 1 1 1 1 0 1-3 1 0 1 2 1-5 1 11 1-9 1 3 1 2 1-5 1 6 1 3 1-8 1-2 1 0 1 9 1-1 1-7 1 5 1 0 1-4 1 3 1-3 1 3 1-1 1-7 1 5 1-3 1 7 1-5 1-2 1 0 1 1 1 2 1 2 1-7 1 6 1-10 1 7 1 3 1-5 1 5 1-2 1 0 1-1 1 0 1-8 1 2 1 8 1-7 1 1 1 0 1-7 1 7 1-5 1 8 1-5 1-7 1 7 1-2 1-9 1 9 1 2 1-5 1 3 1 2 1-8 1 0 1 7 1-6 1 9 1-5 1 11 1-6 1-5 1 1 1-2 1 6 1-7 1 1 1-4 1 0 1 12 1-8 1 4 1-11 1 1 1 2 1 2 1-3 1 3 1 6 1-7 1 1 1 4 1-3 1 1 1-5 1 4 1 2 1 0 1-6 1 8 1-1 1 0 1-4 1-5 1 0 1 3 1-2 1 2 1 0 1-8 1 5 1-8 1 4 1-1 1 6 1 0 1-4 1-2 1-3 1 3 1 8 1-5 1-2 1 2 1 9 1-3 1-9 1-5 1 14 1-9 1 5 1-1 1 2 1-9 1 3 1-3 1 8 1-4 1 2 1-4 1-5 1 3 1-4 1 0 1-2 1 7 1 1 1-4 1 3 1 3 1 0 1-1 1 8 1-6 1 2 1-1 1 2 1-8 1 0 1 6 1-9 1 7 1-1 1-1 1-3 1-1 1 5 1 1 1-3 1 2 1-3 1 2 1-4 1-4 1 6 1 2 1-1 1 1 1 4 1-12 1 3 1 1 1 5 1-7 1 7 1-2 1 3 1-1 1-1 1-6 1 1 1 2 1-4 1 7 1-11 1 6 1-1 1 4 1 5 1-7 1 4 1-5 1 2 1-4 1 7 1 0 1 2 1 0 1 0 1-6 1 0 1 7 1-5 1 1 1 3 1-2 1 1 1 5"/><path d="M0 5796l1-3 1-3 1 4 1 5 1-10 1 6 1-6 1 3 1-5 1 6 1-7 1 10 1 3 1-12 1 4 1-3 1 0 1-1 1 2 1-1 1 9 1-6 1 2 1-1 1-5 1 2 1 1 1 6 1-6 1 1 1-3 1 5 1 1 1-6 1 2 1 3 1 3 1-7 1 0 1 4 1 2 1-1 1-5 1 1 1 4 1 1 1-5 1 5 1-5 1 1 1-1 1-3 1 0 1 5 1-1 1 0 1 1 1 3 1 2 1-7 1 1 1 3 1-6 1 5 1 5 1-5 1 0 1-4 1 6 1 1 1-6 1 5 1-5 1-2 1 9 1-3 1-5 1-2 1 3 1-3 1 3 1 1 1-2 1 8 1-7 1 3 1 3 1-3 1-3 1 4 1-4 1-1 1 5 1 0 1 6 1-6 1 1 1-5 1 4 1-1 1 2 1 0 1-8 1 0 1 5 1-3 1 5 1-1 1-3 1 0 1 3 1-1 1-7 1 12 1-6 1-1 1-2 1 4 1 0 1 3 1-4 1 2 1 0 1 0 1 1 1 1 1 2 1 2 1-3 1-9 1 7 1 2 1 1 1-7 1 1 1-1 1 4 1 4 1-4 1 0 1 2 1-5 1 2 1-2 1 1 1 4 1-3 1 1 1-2 1 0 1 1 1 1 1-5 1 6 1-5 1 8 1-3 1 3 1-10 1 5 1-1 1 5 1 0 1-2 1 2 1 0 1-1 1-3 1 2 1 0 1-6 1 9 1-5 1-1 1 0 1-3 1-1 1 7 1-6 1 3 1 0 1 1 1-8 1 9 1-2 1 1 1-4 1 0 1 2 1-5 1 7 1 0 1-2 1-5 1 6 1-2 1 1 1-1 1 2 1-3 1 0 1 3 1 5 1-6 1 5 1-6 1 0 1-2 1 1 1 2 1-3 1-3 1 4 1 5 1-9 1-1 1 8 1-1 1-7 1 0 1 8 1-1 1 0 1-4 1 4 1-1 1-8 1 9 1 4 1-5 1 0 1-4 1 9 1-2 1-8 1 5 1-1 1 5 1-1 1-6 1 2 1-2 1 0 1-6 1 5 1 1 1-2 1-2 1 3 1 1 1-2 1 2 1 0 1-2 1 0 1 4 1 0 1-3 1 2 1-3 1-3 1 9 1-8 1 5 1 4 1-4 1 0 1-2 1-2 1 1 1 1 1-4 1 4 1-9 1 3 1 4 1-1 1-1 1-1 1-3 1 3 1-3 1 4 1-4 1 3 1 6 1-8 1 1 1-7 1 3 1-2 1-2 1 2 1-2 1 7 1-7 1 4 1-3 1 2 1-1 1-1 1-6 1 5 1-1 1 3 1-1 1-8 1-3 1 2 1-5 1 2 1 0 1-7 1 5 1-6 1 4 1-4 1-2 1-8 1 4 1-5 1-4 1-2 1-1 1-4 1-1 1-2 1-9 1 3 1-11 1-10 1-4 1 0 1-12 1-8 1-8 1-5 1-11 1-17 1-9 1 3 1 12 1 16 1 10 1 13 1 9 1 14 1 17 1 11 1 8 1 7 1 2 1 10 1 4 1 1 1 6 1-7 1 13 1-11 1 5 1 9 1 0 1-3 1 6 1-5 1-2 1 5 1-6 1 5 1-3 1-1 1 5 1 0 1 0 1 0 1-3 1 0 1-1 1-7 1 10 1 3 1-3 1-1 1 0 1 0 1 3 1-3 1-4 1 7 1-4 1-2 1 0 1 4 1 1 1 1 1-8 1 11 1 0 1-7 1-6 1 9 1-1 1-1 1-1 1 3 1 0 1-12 1 4 1 9 1-7 1 9 1-9 1 4 1-2 1 1 1-4 1 2 1 2 1 0 1 1 1 3 1 4 1-3 1-2 1-1 1 0 1 7 1-6 1-4 1 3 1-1 1 4 1 3 1-2 1-3 1-1 1 4 1-6 1 2 1 7 1-6 1 0 1 1 1-5 1 1 1 9 1-11 1 9 1-1 1 0 1-7 1 5 1 0 1 2 1-3 1 8 1-7 1-2 1 8 1-2 1 0 1 0 1-2 1 7 1-3 1-7 1 4 1 0 1-1 1-2 1 5 1-4 1-4 1 4 1-1 1 0 1 2 1-4 1-2 1 7 1 3 1-7 1 1 1-1 1 2 1 2 1-7 1 4 1-2 1 3 1 0 1-6 1 3 1 0 1-2 1 2 1 2 1 3 1-7 1 2 1-2 1-5 1 1 1 0 1 3 1 2 1 0 1 3 1-2 1-1 1-6 1 9 1 1 1 0 1-1 1-6 1 0 1 4 1 1 1-2 1-2 1 3 1-6 1 4 1-4 1 3 1-1 1 0 1 1 1 10 1-9 1-4 1 0 1 6 1-4 1 2 1-1 1 2 1-8 1-1 1 0 1 4 1-1 1-3 1-1 1 3 1 1 1 3 1-4 1 0 1 2 1-4 1 4 1-5 1 3 1 1 1 3 1-5 1-2 1 4 1-4 1 2 1 2 1-5 1-2 1 1 1 5 1-4 1 1 1-3 1-2 1 5 1-15 1 10 1 4 1-9 1 5 1-11 1 14 1-4 1-4 1 6 1-6 1 1 1-1 1 3 1-4 1 6 1-3 1 0 1-7 1 6 1 3 1-5 1 0 1 1 1 1 1 3 1-7 1-1 1 1 1-7 1 7 1-4 1-7 1 6 1 5 1-6 1 6 1-7 1 6 1 3 1-5 1 1 1 0 1-10 1 12 1-8 1 3 1 6 1-5 1-3 1 1 1 6 1-2 1-8 1 6 1 3 1-3 1-4 1 2 1-2 1 2 1 1 1 4 1-6 1 0 1-5 1 5 1 6 1-10 1 2 1-4 1 1 1 4 1-1 1-4 1 6 1-2 1 3 1-3 1-1 1 1 1-1 1 2 1 1 1-2 1 4 1-12 1 4 1 3 1 2 1 3 1-7 1-6 1 8 1 5 1-8 1 4 1-1 1-7 1 11 1-11 1 4 1-3 1 0 1 3 1-2 1 0 1-1 1 0 1-1 1 1 1-4 1 7 1-2 1 1 1 6 1-11 1 4 1-2 1 1 1-6 1 12 1-5 1-2 1 4 1-4 1 3 1 3 1-12 1 4 1-2 1 4 1 0 1 1 1 2 1-6 1 0 1 6 1 0 1-7 1 4 1-4 1 5 1 0 1 2 1-4 1 0 1-5 1 14 1-3 1-8 1 2 1 0 1-3 1 6 1 0 1-6 1 10 1-2 1-5 1 1 1-4 1 1 1 5 1-4 1-2 1 7 1-6 1 1 1 5 1-6 1 4 1-2 1 0 1 3 1 7 1-11 1-5 1 13 1-6 1-7 1 7 1-1 1 2 1 3 1-12 1 10"/><path d="M0 5923l1 3 1-4 1-5 1 6 1-3 1-4 1 5 1-6 1 11 1-2 1-1 1 2 1 0 1-2 1-1 1 4 1-2 1 3 1-9 1 0 1 1 1 4 1-7 1 4 1 3 1 0 1 0 1-2 1-3 1 2 1 3 1-12 1 12 1-1 1-1 1 4 1 0 1-2 1 2 1-1 1 3 1-6 1 0 1 0 1 1 1 2 1-1 1 1 1-1 1 1 1-1 1-4 1 11 1-11 1 7 1-6 1 2 1 4 1-7 1-3 1 1 1 4 1-5 1 5 1-3 1 1 1-1 1 4 1-4 1 3 1-2 1-2 1 3 1-3 1 2 1 0 1-3 1 5 1-2 1 3 1 2 1 2 1-4 1 3 1-4 1 1 1 2 1-6 1 2 1-3 1 0 1-3 1 10 1-8 1 3 1 1 1-5 1-1 1 4 1 3 1-2 1-2 1 1 1 3 1-4 1-3 1 8 1-3 1-2 1 6 1-2 1-2 1 0 1-2 1 5 1 2 1-3 1 1 1-1 1-4 1-1 1 1 1 1 1 9 1-14 1 6 1 4 1-4 1 0 1 4 1-9 1 2 1 0 1 3 1 1 1 1 1-3 1-3 1-1 1 5 1-2 1 4 1 1 1-1 1 0 1-2 1 4 1 0 1-4 1-1 1-3 1 8 1 2 1 0 1 1 1-4 1-3 1 2 1 4 1-6 1 0 1 0 1 1 1-6 1 7 1 0 1 1 1-1 1-3 1 2 1 1 1 0 1-3 1-1 1 2 1-5 1 9 1-1 1 5 1-5 1 3 1-4 1 5 1-2 1 0 1-5 1 4 1 0 1 4 1-7 1 4 1-4 1 1 1-2 1-2 1-1 1 0 1 2 1 4 1-10 1 7 1-4 1-4 1 3 1 3 1-3 1 0 1 3 1 0 1 1 1 2 1-5 1 7 1-5 1 0 1 1 1 1 1-2 1 6 1-7 1-2 1 2 1 2 1 4 1-8 1 1 1 5 1-1 1-2 1 0 1-2 1 3 1-1 1-5 1 0 1 3 1-2 1 6 1-9 1 0 1 9 1-4 1 0 1 2 1 1 1-8 1 8 1-10 1 6 1-1 1 3 1-3 1 3 1-6 1 7 1 2 1-9 1 7 1-7 1 5 1-2 1-1 1 5 1-8 1 5 1-2 1-4 1 1 1-5 1 3 1 3 1-1 1-4 1 1 1 0 1-1 1 5 1-1 1 2 1-3 1 0 1 4 1-6 1-6 1 11 1-4 1-1 1 1 1-1 1 0 1-1 1 3 1-4 1-1 1-6 1 9 1-5 1-3 1 3 1-1 1-3 1 2 1-1 1-3 1-5 1 3 1 2 1-3 1 0 1 0 1 0 1 1 1-5 1 2 1-3 1-3 1 4 1-2 1-4 1 5 1-8 1 1 1-6 1-6 1 0 1-1 1-7 1-1 1 0 1-7 1-6 1 3 1-5 1-7 1-7 1-9 1-14 1 1 1-8 1-5 1-13 1-9 1-17 1-11 1-19 1-19 1-23 1 9 1 23 1 25 1 17 1 18 1 14 1 14 1 13 1 8 1 11 1 10 1 12 1 7 1 11 1-8 1 17 1 8 1-6 1 15 1-2 1 5 1-11 1 11 1-3 1 10 1-6 1 4 1-1 1-1 1 6 1-8 1 3 1 0 1 2 1-3 1 3 1 8 1-7 1-6 1 6 1-1 1 3 1 1 1-5 1 2 1-1 1 1 1 2 1-5 1 10 1-4 1-3 1-1 1-2 1 1 1 2 1-3 1-1 1 0 1 1 1 0 1-2 1 1 1 4 1-4 1-2 1 4 1-2 1 7 1-7 1 5 1-5 1 9 1-10 1 10 1-9 1 1 1 7 1-3 1-4 1 9 1-1 1 1 1-4 1 1 1 2 1-5 1 6 1-8 1 5 1-2 1-5 1 6 1 0 1 3 1-7 1 8 1-1 1-3 1-6 1 1 1 4 1-3 1 1 1 9 1-8 1 0 1 4 1-4 1 8 1-7 1 1 1-2 1 5 1-2 1 2 1-2 1 4 1 1 1-8 1-5 1 10 1-2 1-5 1 4 1 0 1-3 1-3 1 0 1 2 1 3 1-7 1 9 1-8 1-2 1-4 1 11 1-9 1 15 1-12 1-1 1 8 1-4 1 2 1-1 1 0 1 8 1-8 1 3 1 6 1-18 1 12 1 0 1-3 1 5 1-3 1-10 1 4 1-1 1 6 1-5 1 0 1 8 1-6 1-5 1 4 1-3 1 2 1-1 1-4 1 11 1-11 1 7 1-3 1 2 1-4 1-2 1 6 1-3 1 0 1 1 1 1 1-9 1 9 1 0 1-5 1 5 1 8 1-11 1-3 1 1 1 1 1-1 1 0 1 6 1-4 1-2 1-5 1 0 1 2 1-6 1 8 1-1 1-1 1 3 1-3 1-1 1-7 1 3 1 6 1-1 1 1 1-2 1 5 1-3 1 4 1-6 1-3 1 5 1-2 1 3 1-4 1 7 1-6 1-3 1 1 1 3 1-1 1-6 1 7 1-9 1 9 1-7 1 2 1 3 1-3 1-2 1 1 1 8 1-13 1 10 1-9 1-1 1 6 1 1 1 3 1-2 1-2 1 1 1 1 1-1 1-4 1 8 1-13 1 14 1-6 1-2 1 6 1-10 1 1 1 2 1-1 1 1 1 2 1-4 1 3 1-5 1 3 1-5 1 2 1 3 1-4 1-1 1 1 1-8 1 4 1-2 1 6 1-3 1-2 1-1 1 6 1-8 1 7 1 3 1-2 1-6 1 8 1-4 1 0 1 7 1-8 1-2 1 2 1-8 1 9 1 2 1-6 1 4 1-4 1-3 1 6 1-4 1 6 1-12 1 5 1 1 1-3 1 5 1 1 1-2 1 1 1-5 1 5 1-3 1 11 1-14 1 3 1-2 1 1 1 5 1-3 1 0 1 7 1-8 1 2 1-2 1 1 1 5 1-5 1-6 1 7 1-2 1 0 1-3 1-2 1 3 1-3 1 3 1-3 1 3 1-6 1 3 1-9 1 11 1-6 1 6 1-6 1 5 1 5 1-2 1-7 1 3 1 4 1-1 1-3 1 2 1 4 1 1 1-3 1-6 1 10 1-10 1 9 1-5 1-10 1 14 1 3 1-6 1 3 1 4 1-3 1-3 1-3 1 2 1-2 1 7 1-4 1 0 1-6 1-1 1-1 1 11 1-6 1 2 1 1 1 3 1-1 1-2 1 10 1-11 1 7 1-12 1 6 1 5 1-4 1 3 1-3 1 0 1 3 1-1 1-6 1-1 1 3 1 2 1-1 1-1 1-7 1 9 1-3 1-2 1 1"/><path d="M0 6039l1 4 1-2 1 1 1 3 1 5 1-7 1-5 1 6 1 0 1-1 1 1 1-4 1 2 1-2 1-1 1 2 1-2 1-1 1 6 1-8 1 3 1 6 1-1 1-2 1 3 1 1 1-8 1 3 1 1 1-2 1-2 1 4 1-6 1 4 1 1 1 0 1 3 1-3 1 3 1 0 1 0 1-6 1 0 1 2 1 5 1-1 1-1 1-5 1 3 1-1 1 3 1 1 1-8 1 2 1 3 1-7 1 6 1 1 1 1 1 2 1-4 1 8 1-3 1-4 1 3 1 0 1 0 1-3 1 6 1-3 1-3 1 2 1 2 1-3 1-4 1 0 1 5 1-1 1 1 1-3 1-2 1 7 1-4 1-2 1 5 1-7 1 6 1-10 1 8 1-3 1 0 1 5 1-4 1 3 1-1 1 1 1 4 1-7 1 4 1-2 1-2 1 0 1 1 1 0 1 7 1-8 1 4 1-1 1-4 1-1 1 4 1-2 1 3 1-2 1 3 1-7 1 6 1-3 1 3 1-3 1 3 1-2 1 0 1 1 1-3 1 3 1-1 1-1 1-2 1-4 1 7 1 8 1-9 1 3 1 2 1 1 1-5 1 1 1-2 1 0 1 1 1 4 1-4 1 5 1-2 1 3 1-10 1 3 1 2 1-1 1 6 1-7 1 3 1 1 1-1 1-3 1-1 1 2 1-2 1 4 1-6 1 8 1 1 1-11 1 11 1-12 1 13 1-3 1-5 1 4 1-6 1 3 1-1 1 8 1-7 1 0 1-2 1 5 1 1 1 2 1-3 1 2 1 5 1-7 1 0 1 0 1 1 1 1 1-2 1 0 1 5 1-6 1 0 1-1 1 4 1-2 1 0 1-4 1 5 1-2 1-3 1 2 1 0 1 0 1 7 1-6 1 5 1-9 1 2 1 7 1-1 1-1 1 3 1-2 1 1 1-4 1 3 1-3 1-2 1-1 1 1 1 7 1-1 1-7 1 1 1 2 1-1 1-4 1 6 1-4 1-2 1-2 1 6 1-2 1-7 1 8 1-4 1-1 1 0 1-4 1 8 1 2 1-5 1 2 1-1 1 2 1 4 1 0 1-7 1 8 1-8 1 3 1 0 1 3 1-11 1 6 1 4 1-5 1 0 1 1 1-1 1 3 1-7 1 10 1-1 1 0 1-7 1 4 1-4 1 5 1-5 1 2 1 7 1-10 1 2 1 0 1-3 1-1 1 3 1-3 1 0 1-3 1 4 1 1 1-1 1-6 1 0 1 4 1-1 1 1 1 2 1-2 1-4 1-1 1 3 1 0 1 1 1-2 1 0 1-10 1 7 1-9 1 4 1-2 1-1 1 4 1-6 1 10 1-8 1 0 1 0 1 0 1-4 1 7 1-10 1 6 1-7 1-1 1 4 1 4 1-13 1 5 1-8 1-3 1 7 1-2 1-3 1 0 1-2 1-3 1-1 1-4 1-1 1 0 1-13 1 4 1 1 1-5 1-4 1-4 1-8 1-10 1-11 1-2 1-5 1-7 1-7 1-15 1-8 1-20 1 0 1-16 1-16 1-17 1-8 1 7 1 12 1 8 1 12 1 10 1 6 1 10 1 12 1 8 1 9 1 7 1 7 1 10 1 7 1 5 1 8 1 9 1 8 1 7 1 18 1 29 1 30 1 10 1 9 1 1 1 4 1 7 1 4 1 3 1-1 1 9 1-4 1-2 1 4 1 0 1 9 1-9 1-1 1 5 1 1 1-3 1 0 1 0 1 3 1-2 1-2 1-7 1 5 1-5 1 5 1-3 1 0 1 0 1 3 1 1 1-6 1-3 1 4 1-2 1-7 1 0 1 7 1-4 1-6 1 6 1-4 1 3 1-3 1-8 1-4 1 6 1-5 1 6 1 1 1-3 1 1 1-3 1 5 1 2 1-12 1 2 1 7 1-8 1-2 1 6 1 4 1-4 1 3 1-10 1 7 1-5 1 9 1-5 1 5 1-6 1 4 1-1 1-5 1 4 1-4 1 3 1 0 1 0 1 3 1-2 1-3 1-3 1 8 1-10 1 6 1-2 1-3 1 0 1 1 1 6 1-2 1 3 1-6 1 0 1 2 1 2 1 2 1-5 1 5 1-1 1 3 1-6 1-3 1 2 1 3 1-1 1-4 1-4 1-1 1 7 1-4 1 5 1-8 1 3 1 5 1-4 1-3 1 4 1 3 1-6 1-3 1 1 1-6 1 8 1-14 1 6 1 5 1 0 1-2 1-5 1 2 1 2 1 3 1-3 1-6 1 10 1 0 1-2 1-8 1 5 1 0 1-2 1-1 1 3 1 1 1 0 1 1 1-1 1-5 1-2 1 0 1 2 1 1 1-1 1 4 1-4 1-3 1 3 1-8 1 4 1 0 1 2 1-4 1 7 1-3 1-1 1 3 1 4 1-7 1-1 1 0 1-6 1 3 1 3 1 1 1 1 1-2 1 0 1-4 1 1 1 0 1 4 1-7 1 0 1 2 1-3 1 1 1 0 1 2 1-6 1-1 1 4 1-4 1 3 1-6 1 10 1-5 1-14 1 8 1 2 1 5 1 0 1-5 1-8 1 6 1 4 1-2 1-1 1 2 1-7 1 11 1-4 1-2 1 7 1-13 1 10 1-1 1 2 1-5 1 2 1-4 1 3 1-2 1 1 1 0 1 1 1 1 1-7 1-2 1 3 1-3 1 6 1-4 1-2 1 6 1-2 1 2 1-5 1-1 1-1 1 5 1-2 1-2 1 1 1 2 1 2 1-8 1 3 1-2 1-1 1-2 1 6 1-7 1 2 1 2 1-2 1-2 1 4 1-4 1 8 1-5 1-2 1 0 1 3 1-13 1 4 1 4 1-1 1 2 1-1 1-3 1 3 1-7 1 4 1 0 1 1 1-3 1 0 1 6 1-1 1-5 1-3 1 5 1-3 1 6 1-3 1-5 1 8 1-4 1 2 1 0 1-1 1-3 1-3 1-3 1 12 1-8 1 4 1 1 1-2 1 1 1-1 1 1 1-3 1-4 1-4 1 2 1 7 1-7 1 2 1-2 1-3 1 8 1-1 1-5 1 0 1 5 1-3 1 0 1-1 1 3 1-4 1-2 1 1 1 3 1-3 1-1 1 0 1 2 1 3 1 0 1 0 1 3 1-9 1 3 1-5 1 6 1-1 1-8 1 9 1-6 1 4 1-1 1 3 1 4 1-7 1 7 1-10 1 0 1 8 1-7 1 7 1-9 1 7 1 0 1-8 1 8 1-3 1 1 1 1 1 3 1 1 1-2 1-1 1 2 1-10 1 11 1-5 1 3 1 0 1 2 1-6 1 7 1 4 1-4 1-9 1 6 1-7 1 9"/><path d="M0 6134l1 37 1-9 1 5 1-4 1-3 1 9 1-3 1-3 1-1 1 3 1 8 1-9 1 2 1-4 1 1 1 4 1 1 1 0 1 1 1-1 1-1 1-1 1 4 1 1 1-3 1 4 1-2 1-1 1-4 1 1 1 0 1 5 1-5 1 4 1-2 1-1 1 0 1 4 1-3 1 2 1-6 1-5 1 5 1 1 1-4 1 1 1 2 1-1 1 4 1-4 1-1 1 1 1-2 1 3 1 3 1-3 1 5 1-5 1 2 1-2 1 5 1 0 1-2 1-3 1 9 1-4 1 2 1-9 1 4 1 5 1-6 1-4 1 7 1 1 1 0 1-4 1 0 1 0 1 1 1 2 1-1 1 0 1-1 1 2 1-2 1-2 1 2 1-2 1 2 1 5 1-6 1 2 1 0 1-3 1 0 1 6 1-5 1 0 1 1 1-1 1-2 1 7 1-7 1 2 1-3 1 0 1 1 1-1 1-2 1 3 1-1 1 4 1 2 1-8 1 1 1 4 1-1 1-2 1 5 1-4 1 0 1 2 1 0 1 3 1-4 1 1 1-3 1 2 1 7 1 1 1-9 1 5 1-4 1 3 1-3 1 3 1-1 1-1 1 0 1-3 1 3 1 2 1 1 1-2 1-3 1 1 1 0 1 0 1-2 1 1 1 3 1-3 1 7 1-3 1-4 1 2 1 3 1-4 1-5 1 11 1 0 1-2 1 3 1-7 1-1 1 5 1-4 1 0 1 2 1-3 1 5 1-5 1-1 1 4 1 0 1-1 1 3 1-2 1 4 1-4 1-4 1 5 1-3 1 2 1 2 1 1 1-3 1 3 1 1 1 1 1 0 1 6 1-11 1 6 1-3 1 1 1 1 1-1 1 3 1-7 1 2 1 2 1-6 1 7 1-9 1 2 1 1 1 4 1-4 1-1 1 3 1-6 1 4 1-2 1-1 1 7 1-2 1-3 1 0 1-1 1-4 1 3 1 2 1-5 1 10 1-8 1 3 1 3 1-3 1 2 1 3 1-7 1 1 1 6 1-6 1 4 1-2 1 0 1-1 1-7 1 7 1 0 1-1 1 0 1-2 1-3 1 7 1-1 1 2 1-1 1-1 1-1 1 2 1-4 1 3 1 0 1-6 1 8 1-1 1-2 1 0 1 1 1-7 1 10 1-1 1-6 1 0 1-3 1 1 1-3 1 3 1 1 1-4 1-4 1 5 1-2 1-3 1 1 1 4 1-4 1-1 1 3 1 5 1-3 1-1 1-1 1 1 1 2 1 0 1-4 1 0 1 4 1-2 1 4 1-1 1-4 1-1 1-1 1 2 1-2 1 5 1-3 1-7 1 4 1-4 1 4 1-7 1 7 1-4 1 3 1-7 1-1 1 3 1 1 1-2 1 0 1-4 1 2 1-2 1 2 1-3 1-5 1 3 1 5 1-11 1 6 1-7 1 1 1-3 1-3 1-2 1 0 1 3 1 1 1-11 1-7 1 5 1-2 1-9 1 6 1-13 1 4 1-6 1 1 1-8 1-1 1-4 1-7 1-2 1-10 1-4 1-10 1-2 1-18 1-8 1-9 1-6 1-12 1-12 1-17 1-23 1-17 1-16 1-3 1 8 1 6 1 7 1 8 1 6 1 6 1 10 1 5 1 7 1 5 1 24 1 26 1 30 1 27 1 30 1 26 1 33 1 5 1 3 1 0 1 6 1 1 1-1 1 4 1 5 1 13 1-12 1-3 1 1 1 10 1-5 1 7 1-6 1 2 1 6 1-5 1 0 1-6 1 9 1-8 1-3 1 8 1-1 1 6 1-7 1-1 1 6 1-1 1-3 1 5 1-3 1-5 1 2 1 5 1-5 1 1 1 7 1-5 1 9 1-7 1-1 1-4 1 1 1-3 1 7 1 2 1-2 1 1 1-2 1 3 1-2 1-7 1 4 1-5 1-2 1 2 1 1 1 4 1-9 1 7 1-3 1-1 1 0 1 11 1-6 1-4 1-10 1 14 1 5 1 2 1-11 1 9 1-3 1 4 1-2 1-7 1 6 1 1 1 4 1-6 1 1 1-4 1 6 1-5 1-3 1 8 1-2 1-3 1 2 1 2 1-8 1 5 1 9 1-5 1-5 1-5 1-7 1 3 1 0 1-6 1 4 1-1 1-40 1-9 1 6 1-13 1 21 1 19 1-29 1-13 1 0 1 9 1-4 1 5 1 19 1 3 1-19 1 12 1 6 1-10 1-11 1 2 1 1 1-3 1 10 1 6 1-6 1-10 1-1 1 6 1-7 1-3 1 17 1-14 1 16 1-9 1-1 1 1 1 9 1-11 1 2 1-3 1 6 1-11 1 11 1 6 1 0 1-23 1 23 1-8 1 6 1-1 1-8 1 0 1 7 1 4 1-18 1 7 1 3 1 0 1 2 1-12 1 15 1-18 1 16 1-5 1 5 1-10 1 2 1-6 1 10 1-2 1-7 1 4 1 3 1-6 1-3 1 16 1-6 1-5 1 8 1-12 1 5 1-8 1 13 1-2 1 1 1-4 1-2 1 0 1 1 1-6 1 1 1 5 1-6 1 2 1 8 1-10 1 7 1 5 1-5 1-2 1-3 1 6 1 1 1 1 1-3 1 2 1 2 1-3 1-8 1 0 1 5 1-1 1 6 1-2 1-11 1 3 1-2 1-1 1-4 1 7 1 2 1-1 1-8 1 8 1 0 1-3 1 0 1 4 1-5 1-1 1-1 1-2 1 11 1-9 1-3 1-2 1 4 1 11 1-7 1 3 1-11 1 12 1-3 1 0 1-4 1 0 1-1 1 3 1-1 1 9 1-12 1 4 1-3 1-3 1 4 1-1 1 1 1-6 1 7 1-5 1 1 1-5 1 3 1-4 1 11 1-2 1-4 1-1 1 1 1 0 1-4 1 2 1 0 1 1 1 3 1-1 1-9 1 11 1-4 1 1 1 2 1-6 1 0 1-4 1 0 1 1 1 4 1-10 1 5 1 0 1 3 1 0 1-12 1 7 1-7 1 7 1 6 1-1 1 0 1-2 1-6 1 14 1-4 1 5 1-9 1 1 1 0 1 1 1 0 1 3 1-1 1 0 1-2 1 3 1-1 1-9 1 11 1-7 1 8 1-7 1 2 1-5 1 0 1 2 1-5 1 13 1-3 1-1 1-4 1-1 1-1 1-2 1 13 1-11 1 4 1 1 1-12 1 10 1 3 1 2 1 1 1-12 1 14 1-6 1-9 1 2 1 8 1-1 1-2 1 4 1-6 1 6 1-3 1-3 1 7 1-1 1-11 1 16 1-3 1-5 1-1 1-1 1 1 1 0 1 2 1 4 1-10 1 5 1 5 1 0 1-7 1 8 1-7"/><path d="M0 6263l1 23 1 2 1 0 1-3 1-1 1 3 1-5 1 2 1 1 1-3 1 0 1 1 1 3 1-2 1 1 1 1 1-1 1 5 1-9 1 11 1-4 1-2 1 5 1-3 1 1 1 2 1-2 1 2 1-1 1-1 1 1 1 5 1-7 1 5 1 1 1-10 1 7 1-1 1-7 1 5 1 3 1-4 1 4 1-2 1 0 1-2 1 2 1-1 1-12 1 9 1 2 1 2 1-6 1 3 1 4 1-4 1 2 1-2 1 2 1-4 1 5 1 0 1-1 1 3 1-7 1-1 1 6 1-5 1 5 1 3 1-6 1-2 1 6 1-3 1-7 1 9 1-2 1-1 1-2 1 6 1-5 1 6 1-6 1-2 1 3 1 3 1-4 1 1 1 2 1-5 1 1 1 8 1-6 1 1 1-2 1 7 1-6 1 1 1 2 1 0 1 2 1-1 1 7 1-2 1-7 1 5 1 0 1-2 1-1 1 4 1-7 1 6 1-2 1 1 1-6 1-1 1 1 1-2 1 1 1 5 1-5 1 5 1-6 1 0 1 1 1 7 1-4 1 1 1-1 1 0 1-2 1 2 1-4 1 8 1-1 1-7 1 3 1 0 1 0 1 2 1-3 1-2 1-2 1 5 1-8 1 4 1 10 1-9 1 4 1-3 1-2 1 3 1 1 1 2 1-8 1 7 1-4 1 0 1 4 1 0 1 1 1 0 1-1 1 2 1-2 1-5 1 7 1 1 1-6 1 5 1 2 1-4 1 10 1-4 1-7 1 4 1-1 1 0 1 2 1 4 1-7 1 2 1-1 1 2 1-4 1 3 1 3 1-7 1 5 1-8 1 3 1 3 1 0 1-1 1-3 1 0 1-1 1 3 1-1 1-4 1 12 1-3 1 1 1-3 1 2 1-3 1 3 1 5 1-2 1-6 1 1 1 2 1-5 1 0 1-3 1 2 1 5 1-5 1 11 1-5 1-8 1 5 1-4 1 1 1-2 1 4 1-6 1 1 1 5 1 3 1-5 1-4 1-1 1 3 1 4 1 0 1 0 1 5 1-7 1 2 1-1 1 1 1-1 1 3 1-3 1-4 1 4 1 2 1 0 1-2 1 1 1-2 1-2 1-5 1 8 1-6 1 1 1 5 1 3 1-4 1 3 1-8 1 3 1-1 1 2 1 2 1-6 1 4 1-1 1 3 1 5 1-8 1 0 1 6 1-10 1 3 1-2 1 2 1 1 1-8 1 14 1-10 1 0 1-3 1 4 1 2 1 3 1-12 1 9 1-9 1 3 1-6 1 4 1 4 1-4 1 2 1-5 1 2 1-1 1-1 1-1 1-5 1 7 1-4 1 3 1-5 1 3 1 0 1 7 1-5 1-1 1-4 1 1 1 1 1-3 1 0 1-2 1 1 1 4 1-2 1-7 1 6 1 1 1-10 1-2 1 2 1 4 1 0 1-6 1-4 1-1 1-2 1 4 1-2 1-4 1 3 1-4 1-4 1 0 1 1 1-7 1 1 1 0 1-9 1 0 1 2 1-5 1-6 1-7 1 4 1-7 1-4 1-10 1 2 1-7 1-8 1-6 1-6 1-14 1-7 1-9 1-10 1-7 1-10 1-16 1-13 1-16 1-20 1-33 1-32 1-41 1-55 1 26 1 38 1 39 1 34 1 31 1 29 1 30 1 29 1 28 1 46 1 40 1 41 1 42 1 17 1 20 1 3 1 7 1 7 1 1 1 5 1-4 1 2 1 8 1-1 1-2 1 7 1 0 1-3 1 7 1-5 1-3 1 10 1-11 1 5 1 2 1-3 1 7 1-4 1 4 1-3 1-2 1 2 1 4 1 0 1-1 1 4 1-5 1-2 1 8 1-5 1 3 1-7 1 3 1 2 1-4 1-1 1 4 1-7 1 2 1-2 1 0 1-3 1 8 1-10 1 7 1-4 1 0 1-5 1 4 1 3 1-7 1 8 1-6 1 7 1 0 1 4 1-2 1-6 1 6 1-4 1-4 1 9 1-4 1 1 1 1 1-5 1 6 1-1 1-6 1 1 1-1 1 4 1-5 1 11 1-5 1-3 1 2 1-2 1 2 1-7 1 4 1-1 1-2 1-2 1 2 1-9 1 10 1-11 1 8 1-6 1-53 1-13 1 40 1 5 1-55 1 22 1 32 1-22 1-8 1 37 1-19 1-25 1 5 1 26 1-19 1 35 1-34 1 15 1 3 1-1 1-9 1-8 1 11 1-39 1 53 1-6 1 1 1-1 1-17 1 5 1 18 1-9 1-9 1 15 1-30 1 20 1 8 1-7 1-4 1 14 1-20 1 10 1 4 1-15 1 1 1 13 1-8 1 2 1-8 1-6 1 23 1-5 1-6 1-9 1 12 1 5 1-5 1-6 1 0 1-1 1 1 1 3 1 0 1-5 1 9 1-10 1-6 1 9 1-4 1 7 1 0 1 2 1 5 1-1 1-2 1 2 1-4 1-5 1-7 1 17 1-3 1-4 1-4 1-3 1 6 1 1 1-2 1 2 1-4 1-4 1 9 1-8 1-3 1 5 1 3 1-3 1 9 1-16 1 13 1-5 1 2 1-3 1 0 1 1 1 0 1 1 1-4 1 1 1 0 1-4 1 2 1-1 1-7 1 5 1 1 1-3 1 6 1-2 1-5 1 4 1 5 1-13 1 1 1 5 1-6 1 2 1-1 1 1 1 0 1 0 1 4 1-4 1-4 1 7 1-5 1 2 1-3 1 1 1 5 1 2 1-9 1 0 1 6 1-8 1 1 1 7 1-3 1-1 1 4 1-10 1 14 1-9 1 3 1 1 1-1 1 2 1-5 1 11 1-14 1 1 1-5 1 4 1 0 1 4 1-3 1 2 1 0 1 2 1-7 1 2 1 3 1-4 1 2 1-3 1-2 1 2 1 3 1 0 1 2 1 0 1-5 1 0 1-2 1-3 1 6 1 0 1-1 1 3 1-6 1-5 1 10 1-2 1-9 1 8 1 3 1-1 1-3 1-5 1-2 1 2 1 1 1-1 1 1 1 6 1-1 1-6 1 4 1-1 1-7 1 9 1-6 1 3 1 3 1-6 1 3 1 2 1 5 1-2 1-2 1 1 1 1 1 5 1-4 1-2 1 4 1-2 1-4 1-1 1 6 1-8 1 0 1 5 1-4 1 3 1 0 1-2 1 6 1 0 1 3 1-12 1 8 1-5 1 0 1-1 1 2 1-2 1-1 1 3 1 4 1 0 1 6 1-7 1-1 1-7 1 14 1-5 1 4 1-6 1-6 1 11 1-1 1 1 1-2 1-10 1 2 1 1 1 7 1-9 1 6 1 11 1-11 1-2 1 3 1-6 1 3 1-3 1-1"/><path d="M0 6404l1 14 1 5 1-3 1 2 1 0 1 0 1 1 1 1 1 1 1-1 1 1 1-2 1 0 1-4 1 5 1-4 1 1 1 1 1-3 1-2 1 4 1 0 1-4 1 5 1-6 1-1 1 5 1 4 1-6 1 3 1 1 1 6 1-9 1-2 1 10 1-2 1-2 1 0 1-3 1 5 1-1 1 0 1-4 1 2 1 2 1 0 1 0 1-4 1-2 1 4 1 2 1-3 1-4 1 2 1 5 1-5 1-3 1 8 1 3 1-9 1 8 1-6 1-2 1 5 1 5 1-7 1-1 1 1 1 0 1 5 1-8 1 2 1-3 1 8 1-5 1-2 1 6 1-6 1 6 1-4 1-7 1 11 1-10 1 6 1-2 1 4 1-4 1 2 1-3 1 0 1 4 1-1 1-2 1 4 1-1 1 2 1 2 1-6 1 4 1 0 1 3 1 2 1-6 1-4 1 11 1-4 1-3 1-1 1 3 1 1 1-4 1 6 1-5 1 3 1-5 1 4 1-9 1 10 1 0 1 0 1-6 1 1 1 10 1-7 1 4 1-1 1-1 1 0 1 1 1 1 1 0 1 6 1-16 1 6 1 1 1 1 1-5 1 2 1-4 1 0 1 9 1-7 1 2 1-3 1 9 1-4 1 3 1-5 1 0 1 1 1-2 1 3 1 2 1-2 1-4 1 6 1-7 1 2 1 7 1-4 1-5 1 2 1-1 1 5 1-1 1-2 1-2 1 1 1 3 1-2 1 3 1-7 1 3 1-1 1-6 1 9 1-2 1-1 1-1 1-5 1 3 1 2 1 7 1-4 1-7 1 5 1 2 1-3 1-3 1 2 1-3 1 6 1-2 1 5 1-4 1 0 1-2 1 0 1 7 1-4 1-6 1 5 1-3 1-1 1 2 1 3 1-5 1 2 1-2 1-1 1-5 1 13 1-4 1-7 1 8 1-1 1 3 1-2 1 4 1 1 1-4 1-5 1-3 1 8 1 1 1-2 1 2 1-2 1 0 1-1 1 2 1-7 1 6 1-4 1-1 1 4 1 1 1-4 1-4 1 9 1-1 1 3 1-8 1 1 1 9 1-2 1-8 1 4 1-6 1 6 1 3 1-5 1 4 1-1 1 0 1 0 1-10 1 6 1-3 1 5 1 2 1-3 1 6 1-7 1-8 1 5 1 1 1 1 1 1 1-6 1 3 1 2 1-3 1 0 1-1 1-6 1 9 1-2 1 5 1-7 1 8 1-5 1 4 1 1 1-3 1-3 1 7 1-6 1-5 1 7 1-7 1 1 1 1 1 1 1-1 1-4 1 0 1 5 1 2 1-6 1 8 1-6 1-1 1-1 1 7 1-3 1-3 1-1 1-2 1 5 1-2 1 3 1 3 1-9 1 7 1-2 1-6 1 1 1-1 1 3 1-7 1 8 1-1 1-3 1-5 1 6 1-5 1 3 1-3 1-2 1-1 1 2 1 0 1-4 1 6 1-6 1 0 1 0 1 2 1-9 1-4 1 3 1-3 1 5 1-3 1-3 1-6 1 3 1-3 1-3 1-4 1 0 1-3 1-1 1-4 1 0 1-1 1-5 1-5 1-9 1-3 1 2 1-6 1-8 1-6 1-10 1-4 1-7 1-6 1-9 1-5 1-13 1-13 1-17 1-7 1-19 1-29 1-26 1-35 1-42 1 53 1 55 1 59 1 47 1 38 1 22 1 15 1 17 1 23 1 19 1 17 1 26 1 20 1 1 1 6 1 0 1 4 1 6 1 4 1 0 1-1 1-2 1 2 1 9 1-1 1-5 1 3 1-2 1 0 1 4 1 2 1-6 1 5 1-2 1-3 1 8 1-8 1 4 1-3 1 4 1-3 1-1 1 4 1 0 1-3 1 4 1 3 1-7 1-5 1 4 1 2 1 8 1-9 1 0 1 4 1-5 1 2 1 5 1-5 1 0 1 2 1-3 1-4 1 8 1-9 1 2 1-2 1 2 1 2 1 6 1-7 1 8 1-7 1-4 1 7 1 2 1-8 1 4 1-3 1 8 1-6 1-1 1 2 1 6 1-1 1-3 1-4 1 6 1 0 1-5 1 0 1 1 1-1 1-3 1 0 1-2 1-4 1-2 1-8 1 5 1-44 1-8 1 6 1-11 1-18 1 45 1 0 1-18 1 12 1-36 1 19 1 31 1-2 1-8 1-41 1 34 1-24 1 18 1 13 1-12 1 5 1-7 1-18 1 9 1 4 1-5 1 17 1-6 1-8 1 19 1 4 1-5 1-6 1 8 1-9 1-10 1 10 1-5 1 3 1-16 1 14 1 16 1-15 1-3 1 0 1 4 1 15 1-14 1 6 1-12 1 6 1-10 1 16 1-12 1-1 1 2 1 11 1-18 1 9 1-9 1 6 1-7 1 13 1 2 1-12 1-8 1 3 1 1 1 10 1-4 1-2 1 0 1 5 1 2 1-2 1-2 1 0 1-6 1-1 1 2 1 1 1 1 1-5 1 3 1 0 1 2 1-1 1-1 1-1 1-9 1 5 1 2 1 0 1-5 1 12 1-2 1-6 1 7 1-13 1 12 1-3 1-3 1-2 1 5 1-5 1 3 1-2 1 7 1-14 1 11 1-3 1 3 1 0 1-16 1 11 1-4 1 2 1 0 1 3 1 1 1-8 1 12 1-7 1 1 1-4 1 0 1 9 1-11 1 8 1 1 1-1 1-2 1-1 1-7 1 2 1 4 1 1 1 2 1-1 1-1 1-3 1 6 1-6 1 0 1 5 1-9 1-3 1 6 1-3 1 4 1-9 1 1 1 5 1-1 1-4 1 6 1-4 1 1 1 2 1 4 1-2 1-9 1 0 1 4 1-6 1 6 1 0 1 2 1-4 1-2 1 1 1 0 1 10 1 0 1-13 1 5 1-2 1-1 1 0 1-5 1 4 1-2 1 1 1-2 1 6 1-4 1-4 1 8 1-2 1-3 1 1 1 2 1 6 1-2 1-9 1 2 1-3 1 8 1-3 1-1 1 3 1-3 1 10 1-6 1-2 1 6 1-8 1-5 1-4 1 19 1-10 1 4 1-3 1-3 1 2 1 1 1-9 1 3 1 4 1 4 1 2 1 1 1 3 1-8 1-5 1 8 1 0 1 5 1-5 1 0 1-3 1 0 1 8 1-9 1-7 1 8 1 0 1-5 1-1 1 4 1-7 1 8 1-1 1-2 1 0 1 0 1 3 1 2 1-4 1-2 1 12 1-10 1 3 1-5 1 9 1-3 1 0 1 5 1-5 1 5 1-5 1 7 1-7 1-8 1 10 1-4 1-5 1 4 1 1 1-3 1 4 1-6 1-1 1-2 1 4 1 1 1 0 1 3 1 0"/><path d="M0 6500l1 29 1 9 1 1 1 2 1-4 1-2 1 1 1-8 1 9 1-1 1-6 1 1 1 2 1 8 1-2 1-1 1-5 1-4 1 5 1 6 1 0 1-7 1 3 1-1 1-1 1 3 1-1 1 1 1 2 1-2 1-6 1 6 1 2 1-6 1 6 1 2 1-3 1-2 1 4 1-1 1 1 1 5 1-11 1 6 1-5 1-1 1 9 1-2 1-6 1 1 1 2 1-1 1 3 1-2 1-1 1-3 1 0 1 1 1-2 1-1 1 7 1 3 1-3 1 6 1-12 1 9 1-4 1-6 1 4 1-1 1-1 1-4 1 7 1 1 1 1 1 1 1-6 1 6 1-7 1 7 1-3 1-1 1 5 1-12 1 7 1-1 1 1 1 3 1-1 1-4 1 4 1 4 1-5 1-4 1-2 1 6 1-5 1 6 1-3 1-2 1 3 1 5 1 2 1-6 1 0 1-3 1 3 1 1 1 7 1-10 1-5 1 8 1 5 1-4 1 2 1-3 1 0 1-2 1 0 1-2 1 9 1-9 1 5 1 3 1-1 1-6 1 2 1-2 1 1 1 1 1 3 1-1 1-3 1 2 1 4 1-3 1 0 1-1 1 0 1-6 1 6 1-3 1-1 1 4 1 2 1-3 1-1 1-1 1-1 1 1 1 2 1-1 1 5 1-12 1 4 1-5 1 10 1-2 1-4 1-1 1 5 1 2 1-1 1-3 1 1 1-1 1 4 1-3 1 3 1-3 1 7 1-4 1-3 1 2 1-5 1-1 1 7 1 0 1 2 1-5 1 4 1-5 1 3 1-4 1 6 1 2 1-7 1 3 1 0 1-7 1 3 1-2 1 3 1-1 1-1 1 3 1-5 1 6 1-1 1-6 1-2 1 3 1 4 1-3 1-1 1 1 1-6 1 1 1 1 1 4 1-1 1-1 1-2 1 5 1-5 1 1 1 1 1-1 1-4 1 2 1 4 1-1 1-2 1 1 1-5 1 5 1-1 1-3 1 6 1-2 1-1 1 0 1 1 1-4 1 1 1 3 1-1 1-5 1 3 1-2 1-2 1-1 1 1 1-1 1 3 1 5 1-7 1 0 1 3 1 2 1-1 1-6 1 9 1-5 1 3 1-5 1 0 1 4 1-3 1 1 1 1 1-8 1 11 1-6 1-3 1-1 1 2 1 1 1-2 1-1 1-5 1 2 1 3 1-1 1-7 1 7 1-2 1-6 1 5 1-8 1 0 1 4 1 1 1-1 1 1 1-1 1 2 1-2 1 0 1 0 1 1 1 0 1 4 1-6 1-2 1-1 1 4 1-3 1-4 1-4 1 5 1 1 1-1 1 1 1-2 1-3 1 0 1-1 1 3 1 3 1-7 1-2 1 3 1 4 1-4 1-2 1-1 1 1 1-4 1 3 1 1 1-4 1 1 1 4 1-1 1-8 1-2 1 5 1 1 1-1 1-3 1 0 1 1 1-2 1 0 1-9 1 7 1-3 1-4 1-5 1 6 1-4 1 0 1-5 1 3 1 0 1-6 1 2 1-4 1 0 1-1 1 2 1-9 1 6 1-11 1 1 1-3 1 2 1 0 1-2 1-8 1 0 1 0 1-2 1-5 1 0 1-7 1-4 1-6 1 4 1-8 1-5 1-6 1 1 1-5 1-6 1-4 1-11 1-6 1-8 1-5 1-13 1-2 1-11 1 5 1 21 1 16 1 21 1 16 1 19 1 20 1 20 1 32 1 34 1 31 1 3 1 7 1 8 1-2 1-1 1 9 1-4 1 5 1 4 1-16 1 11 1 8 1-1 1 1 1-2 1-2 1 5 1-4 1 0 1 1 1-3 1-2 1 4 1 3 1-5 1 8 1-7 1-5 1 2 1-3 1 13 1-5 1 1 1-5 1 5 1-2 1 0 1-3 1 3 1-1 1 6 1-8 1 3 1 4 1-1 1-1 1 6 1-4 1-5 1-3 1 3 1 4 1 1 1-6 1 6 1-2 1-3 1 1 1 3 1 3 1 3 1-10 1 1 1 0 1 4 1-6 1 2 1 2 1-1 1-2 1 5 1-1 1 0 1-6 1 0 1 4 1-5 1-8 1-2 1 0 1 4 1-7 1 1 1-23 1-13 1-7 1-27 1-7 1 53 1-15 1-6 1-25 1 71 1-33 1-3 1 16 1-25 1 17 1-7 1-4 1 11 1-10 1 26 1-34 1-6 1 9 1 10 1 5 1-7 1-2 1 3 1-1 1-18 1 25 1-7 1 14 1-14 1 13 1-26 1 28 1-6 1-10 1 6 1 3 1-12 1 6 1 7 1 1 1-3 1-3 1-6 1 13 1-7 1-1 1 6 1 6 1-13 1 4 1-3 1 3 1-3 1-2 1-6 1 13 1-2 1-12 1 0 1 6 1 0 1-1 1-2 1-3 1 2 1-3 1 5 1-3 1-2 1 7 1 2 1-2 1-3 1-2 1 2 1 3 1-5 1-1 1 3 1 2 1-7 1 4 1-3 1-4 1 7 1-5 1 3 1-2 1 7 1-2 1 1 1-8 1 10 1-8 1 7 1-6 1-6 1 16 1-7 1 5 1-2 1-7 1-5 1 3 1 10 1-1 1 1 1-8 1 2 1 0 1-1 1 3 1-1 1-2 1 1 1 3 1-2 1 0 1 3 1-8 1 0 1 3 1 9 1-11 1 6 1-2 1 0 1-4 1 0 1-9 1 8 1 2 1 0 1-10 1 6 1 1 1-3 1-4 1 6 1-3 1-4 1 7 1-10 1 7 1-2 1 2 1-3 1 7 1-5 1-3 1 6 1-6 1 8 1 1 1-12 1 5 1-6 1 18 1-9 1-1 1-9 1 3 1 2 1 6 1 5 1-13 1-1 1 4 1-4 1 2 1-4 1 5 1 4 1-2 1-1 1 1 1-9 1 12 1-12 1 12 1-5 1-1 1 4 1-6 1 1 1 0 1 2 1 3 1-6 1 1 1 0 1 2 1-2 1-1 1 3 1-3 1 2 1 3 1-19 1 15 1 0 1-4 1-1 1 0 1 0 1 2 1-3 1 4 1-6 1 5 1-3 1 1 1-5 1 1 1-1 1 5 1 4 1 2 1-12 1 16 1-6 1-8 1 3 1 2 1-5 1 2 1 2 1 0 1 7 1-9 1 7 1-7 1-6 1 11 1-5 1 4 1 7 1-6 1-1 1-8 1 9 1-2 1 0 1-6 1 8 1 5 1-1 1-3 1-7 1 5 1-6 1-2 1 5 1 3 1-4 1 0 1 5 1-1 1-1 1 1 1 5 1-7 1 5 1-6 1-2 1 4 1-1 1 6 1-7 1-2 1 3 1 3 1-4 1-5 1 3 1 3"/><path d="M0 6628l1 34 1 7 1-7 1 2 1 1 1 1 1 3 1 1 1 1 1-2 1 3 1-3 1 4 1-1 1-2 1-1 1 2 1-6 1 0 1 4 1-5 1 5 1-8 1 5 1 4 1-7 1 7 1-9 1 3 1 0 1 4 1-7 1 4 1-3 1 7 1 2 1-5 1-1 1 2 1 5 1-7 1 6 1-2 1 0 1-3 1 1 1-3 1 6 1-9 1 5 1-3 1 0 1 0 1-2 1 1 1 4 1-4 1 6 1-3 1-2 1 8 1-6 1-4 1 8 1-3 1-5 1 7 1-4 1 3 1 2 1-8 1 4 1 1 1-4 1 0 1-2 1-6 1 14 1-1 1-3 1 0 1-2 1-3 1 9 1 0 1-1 1-4 1 5 1-3 1-3 1 5 1-4 1 2 1 3 1-2 1 3 1-1 1-5 1 1 1 2 1 0 1-8 1 6 1 0 1-1 1 0 1 4 1-2 1-3 1 4 1 1 1-1 1 0 1-2 1 3 1 1 1-1 1 0 1 4 1-13 1 7 1-2 1 5 1 0 1-4 1 2 1-2 1-5 1 1 1 5 1-2 1 7 1-9 1 6 1 1 1-1 1-4 1 2 1-2 1 6 1-1 1 3 1-4 1 3 1-2 1 0 1-4 1 4 1-4 1 3 1-3 1 3 1-1 1-4 1 4 1-4 1 5 1-5 1 2 1 2 1 0 1 1 1 0 1-3 1 6 1-6 1-2 1 2 1 6 1-3 1-4 1-1 1-1 1 2 1-4 1 0 1 3 1-3 1-4 1 4 1-1 1 0 1 5 1 3 1-6 1 2 1 3 1 2 1-6 1-2 1 4 1 1 1-3 1-3 1-2 1 1 1 5 1 3 1-3 1-3 1 0 1 1 1 1 1-1 1 2 1-2 1-3 1 3 1 0 1 2 1-1 1 0 1 2 1 0 1-11 1 8 1-1 1-3 1 3 1 3 1-5 1 1 1 0 1 1 1 1 1-8 1 2 1-3 1-2 1 7 1-3 1 2 1-6 1 5 1-5 1 2 1 3 1-1 1 3 1-2 1-4 1 4 1-1 1-1 1 1 1-5 1 3 1 0 1 2 1-5 1 0 1 2 1 2 1-5 1 7 1-2 1 2 1-4 1 2 1 4 1-3 1-4 1 1 1-2 1 2 1 0 1-6 1 5 1-4 1 7 1-3 1 6 1-5 1 1 1-4 1-3 1-1 1 2 1-2 1 5 1-3 1 1 1-6 1 3 1 2 1 3 1-8 1 1 1 6 1-1 1-1 1-1 1-1 1 0 1 2 1-3 1-5 1 2 1 0 1-3 1 2 1-6 1 6 1 2 1-6 1 2 1-3 1 0 1 2 1-6 1 5 1-5 1-2 1 5 1 1 1-2 1 3 1-4 1-2 1 5 1-4 1 0 1-4 1 2 1-6 1 0 1 3 1-6 1 4 1-1 1-2 1 2 1 0 1-4 1 0 1-2 1 4 1-4 1-1 1 4 1-3 1-5 1 5 1-5 1 5 1-4 1-2 1-8 1 4 1-5 1 8 1-6 1-2 1 4 1-4 1-10 1 3 1-4 1-5 1 13 1-8 1-9 1 5 1-3 1 0 1-4 1-4 1 5 1-2 1-7 1-2 1 4 1-8 1-2 1-9 1-2 1-7 1 8 1-10 1-9 1-6 1 1 1-2 1-4 1-14 1-1 1-10 1-12 1-4 1-8 1-7 1 6 1 31 1 32 1 34 1 24 1 28 1 23 1 19 1-10 1 13 1 3 1-1 1-1 1 3 1 4 1 2 1 1 1 5 1-3 1-6 1 10 1-3 1 4 1-5 1-1 1 4 1-1 1-1 1 8 1-8 1 0 1 2 1 1 1 0 1 0 1 2 1-9 1 6 1 4 1-6 1-1 1 6 1 1 1-1 1-2 1 4 1-3 1-4 1 6 1 3 1-1 1-10 1 9 1-2 1 0 1 2 1-4 1 3 1-4 1 1 1-4 1 1 1 5 1 3 1-5 1 1 1-3 1 1 1 2 1-3 1-1 1 6 1-1 1-3 1 1 1 0 1-1 1 2 1-5 1-1 1 3 1-10 1 2 1-10 1 7 1-48 1-9 1-32 1 43 1-13 1-13 1-2 1 10 1 16 1-7 1-26 1 36 1-29 1 34 1-28 1 6 1 24 1-3 1-17 1 16 1 5 1-22 1 7 1-8 1-12 1 20 1 0 1 0 1-20 1 20 1 2 1-10 1 7 1 13 1-10 1-6 1-1 1 1 1 0 1 10 1-20 1 21 1-12 1-7 1 9 1 12 1 4 1-15 1 9 1 0 1-4 1-1 1-9 1-1 1 1 1 2 1 0 1 7 1-4 1-2 1 8 1-8 1 13 1-12 1-10 1 10 1 4 1-11 1 6 1-2 1 4 1 5 1-2 1-6 1 5 1-1 1-7 1 6 1-2 1 5 1-10 1 5 1 2 1 1 1 2 1-5 1-3 1 16 1-7 1-3 1-6 1 5 1 1 1-4 1 9 1 4 1-15 1-2 1 4 1 2 1 1 1-4 1-4 1 0 1-2 1 6 1 9 1-11 1 1 1 9 1-10 1 10 1-10 1 2 1-7 1 6 1-3 1 8 1-8 1 5 1-10 1 1 1 8 1 0 1-5 1-2 1-5 1 2 1 2 1-3 1 4 1 2 1-4 1 8 1-3 1-4 1 1 1 0 1-2 1-1 1 1 1 6 1-11 1 8 1 0 1-5 1-4 1 8 1 4 1-5 1-7 1 3 1-3 1-2 1-4 1 9 1 1 1 0 1-4 1 2 1-7 1 3 1-3 1 7 1-4 1 0 1 7 1-4 1 4 1-5 1-2 1 5 1-7 1 2 1 1 1-11 1 5 1 2 1 3 1-2 1 0 1-2 1-2 1 8 1-6 1 1 1-4 1 6 1-5 1 4 1-5 1 5 1 0 1 3 1-2 1-9 1 7 1 3 1-3 1 3 1-1 1-1 1 2 1-7 1 8 1-10 1-3 1 8 1 4 1-10 1 5 1-4 1 6 1-1 1 6 1-6 1 5 1-5 1-3 1 8 1-6 1 2 1 5 1-13 1 10 1 1 1-10 1 9 1 0 1-12 1 11 1 1 1-9 1-2 1 13 1-6 1-4 1 8 1-9 1 8 1 1 1-6 1-1 1 4 1 2 1-4 1-5 1-1 1 6 1-3 1 5 1 0 1-3 1 4 1 2 1-2 1-6 1 7 1-1 1-2 1-2 1 2 1-1 1 3 1 0 1-6 1 6 1-8 1 10 1-5 1 1 1 11 1-9 1 2 1-6 1 1 1-4 1 1 1 7 1-7 1 7 1-4 1 4"/><path d="M0 6790l1 7 1-2 1-7 1 5 1 1 1 1 1-5 1 3 1 0 1-2 1 3 1 4 1-5 1 0 1 1 1-4 1 5 1 2 1-5 1 1 1 2 1-1 1-2 1-2 1 0 1 3 1 0 1 0 1-4 1 0 1 5 1-2 1 0 1-3 1 3 1-5 1 8 1-9 1 6 1-3 1 8 1-7 1-1 1 0 1-1 1 8 1-8 1 4 1 0 1 2 1-2 1-3 1 4 1-1 1-1 1 3 1-3 1-3 1 3 1 1 1 0 1 0 1 2 1-2 1-4 1-2 1 9 1-2 1-3 1 0 1 8 1-1 1-4 1 2 1 1 1 3 1-2 1 0 1-2 1 2 1-5 1 4 1-3 1-2 1 3 1 1 1-3 1-4 1 2 1 2 1-1 1 2 1 1 1-6 1 3 1 4 1-9 1 5 1-3 1 6 1-2 1 0 1 2 1-5 1 2 1-3 1 4 1-4 1 5 1-1 1-2 1 4 1-3 1 3 1-3 1-2 1 6 1-5 1 1 1 2 1-2 1 3 1-2 1 3 1-1 1-2 1-3 1 0 1-5 1 8 1 1 1-1 1 0 1 3 1-4 1 1 1-3 1 6 1 6 1-8 1-1 1 2 1-1 1-2 1 1 1 3 1-2 1-1 1-3 1 3 1-7 1 8 1-4 1 5 1-9 1 8 1-7 1 2 1 3 1-3 1 4 1-5 1 5 1 0 1 2 1-1 1 0 1-5 1-2 1 7 1 1 1-1 1 4 1-8 1 1 1-1 1 6 1-5 1-1 1 2 1 3 1-8 1 0 1 5 1 6 1-15 1 6 1 5 1-4 1-2 1 2 1 1 1-4 1-4 1 5 1-2 1 1 1 0 1 3 1-2 1 0 1-6 1-3 1 14 1 1 1-6 1-3 1 3 1 0 1 0 1-2 1 1 1 0 1 1 1-4 1 7 1-2 1-3 1 1 1-1 1-2 1 1 1-5 1 3 1 0 1 4 1-7 1 3 1 0 1 0 1 6 1-10 1 7 1-7 1 3 1 0 1 2 1 2 1-4 1 5 1-3 1-3 1-3 1 6 1-1 1-4 1 7 1-7 1 4 1 2 1 0 1-5 1-2 1 3 1-3 1 3 1 1 1-2 1-2 1 1 1-2 1 1 1 1 1 1 1-3 1 1 1 2 1-3 1 0 1-3 1 1 1 1 1-5 1 6 1-1 1-3 1 5 1-3 1 3 1-7 1 1 1 3 1-1 1 2 1-8 1 8 1-6 1 1 1-8 1 8 1-1 1-3 1-1 1 4 1-5 1 5 1-2 1 2 1-3 1 0 1 3 1-3 1-4 1 5 1-2 1 5 1-5 1-1 1-2 1 3 1 5 1-9 1 4 1-3 1-2 1 4 1-1 1 0 1-2 1-8 1 4 1 2 1-3 1 3 1-6 1 4 1 0 1-4 1 3 1-3 1-1 1 5 1-8 1 2 1 2 1-4 1-2 1-1 1 4 1-5 1 1 1-2 1 6 1-10 1 6 1 0 1-6 1 1 1-4 1 4 1-6 1 1 1 5 1-7 1-7 1 5 1-2 1-5 1 7 1-7 1 0 1 4 1-6 1 2 1-4 1-2 1 0 1-1 1-8 1-1 1 2 1-2 1-1 1-2 1-5 1 2 1 0 1-5 1-10 1 3 1-4 1-13 1 0 1-12 1 7 1-5 1-11 1 1 1-7 1-8 1-5 1-8 1-8 1-8 1-14 1 0 1 21 1 24 1 22 1 23 1 24 1 21 1 25 1-3 1 0 1 10 1 2 1 4 1-1 1 8 1-9 1 3 1 7 1-2 1 2 1-4 1 0 1 0 1-5 1 10 1-4 1-2 1 12 1-9 1 0 1 7 1-7 1 1 1 2 1 0 1 6 1-5 1 5 1-5 1 0 1 4 1-3 1-2 1 0 1 1 1 2 1-5 1 4 1-2 1 5 1-6 1 1 1 3 1-7 1 3 1 5 1-10 1-6 1 13 1-4 1 3 1-5 1 7 1-2 1-5 1 2 1 3 1 3 1-9 1 5 1-7 1 3 1-2 1 10 1-7 1-6 1-7 1-3 1 13 1-37 1-22 1-1 1-6 1-5 1 40 1-3 1-26 1 20 1 7 1-29 1 4 1 19 1-16 1 10 1-3 1 1 1 5 1 1 1-10 1-9 1 0 1 14 1 23 1-33 1 11 1-7 1-8 1 4 1 3 1 8 1-2 1 7 1 1 1-8 1 2 1-5 1 14 1-5 1-14 1 11 1 1 1 4 1-7 1 4 1-4 1-2 1 4 1-2 1 5 1-18 1 9 1 5 1-1 1-1 1 3 1-2 1 2 1-5 1-8 1 16 1-8 1 1 1 1 1-5 1 6 1-4 1 11 1-10 1 6 1-4 1-4 1 2 1 4 1-10 1 12 1-6 1-4 1 3 1-2 1 2 1 4 1-9 1 9 1-14 1 6 1-4 1 4 1 2 1 0 1 0 1 4 1-5 1-6 1 5 1 8 1-9 1 2 1 0 1-2 1-1 1 1 1 0 1 3 1-2 1 0 1-9 1 3 1 2 1 4 1-4 1-2 1-1 1 1 1 5 1 4 1-7 1-5 1 4 1-5 1 3 1 3 1 3 1-3 1-5 1 6 1-1 1 5 1-9 1 0 1 0 1 9 1-10 1 7 1-10 1 4 1-1 1 3 1-4 1 2 1-6 1 2 1 10 1-8 1 5 1-7 1-3 1 0 1 4 1 5 1-6 1 7 1-5 1 3 1-5 1 4 1-7 1 2 1 3 1 1 1-6 1 6 1-3 1-6 1 7 1 3 1-10 1 1 1-3 1 6 1-10 1 4 1 6 1-10 1 3 1-2 1 2 1 1 1-2 1 7 1-1 1-7 1 3 1 8 1-2 1 1 1-10 1 3 1-5 1 13 1-10 1 2 1 1 1 2 1-2 1 0 1 3 1-1 1-1 1-2 1-1 1 3 1-5 1 5 1-2 1 4 1-5 1 0 1-5 1 0 1 4 1-1 1 4 1-6 1 4 1-1 1 8 1-10 1 3 1-6 1 8 1-3 1 0 1 4 1-10 1 5 1 1 1 2 1 6 1-12 1 7 1-1 1-1 1-2 1 0 1 1 1 1 1 2 1-2 1 5 1-10 1 4 1-6 1 7 1 1 1-10 1 6 1 9 1-3 1-7 1 2 1 2 1-1 1 1 1 1 1-1 1 5 1-11 1 10 1 1 1-5 1 4 1-5 1 3 1-5 1 7 1 1 1 2 1-5 1-5 1 1 1 1 1 2 1-3 1 2 1 2 1-7 1-2 1 6 1 6 1-12 1 9 1-5 1 6 1 3"/><path d="M0 6892l1 29 1 3 1 1 1-3 1 4 1-5 1 6 1-5 1 6 1-2 1-4 1 5 1-5 1 2 1-1 1 1 1 3 1-3 1-3 1 6 1-9 1 6 1 0 1 3 1-4 1-1 1 3 1-2 1 0 1-1 1-5 1 8 1-1 1-2 1-3 1 7 1 0 1-4 1-2 1-1 1 3 1 0 1-5 1 4 1 0 1 2 1 3 1 0 1-6 1 4 1-4 1 4 1-4 1 4 1-6 1 6 1 4 1-6 1 4 1-4 1-1 1-3 1-1 1 1 1 8 1-3 1-3 1 0 1-1 1 2 1 3 1-4 1 2 1-5 1 2 1 2 1 4 1 2 1-6 1 2 1 8 1-4 1-2 1 1 1-4 1 4 1-7 1 5 1-4 1 2 1-6 1 8 1 3 1-1 1-2 1 2 1-6 1 2 1-1 1-7 1 8 1 2 1-4 1-2 1 5 1-3 1-3 1 7 1-4 1-3 1 3 1 2 1 3 1 2 1-10 1 4 1 1 1 3 1-4 1 2 1-1 1-1 1 0 1-4 1 0 1 3 1-2 1 1 1-1 1-4 1 3 1 6 1-2 1-3 1 5 1-6 1 2 1-3 1-2 1 1 1 0 1-7 1 8 1-2 1 4 1 3 1-7 1 3 1 4 1 0 1 1 1-3 1-6 1 5 1-2 1 1 1 2 1 1 1-1 1 0 1 3 1-3 1-1 1 2 1 1 1 1 1 7 1-4 1-1 1-3 1-5 1 8 1-8 1 5 1 5 1-9 1 5 1-2 1 3 1-6 1 6 1-3 1-2 1 2 1-5 1 9 1-4 1-2 1 1 1-1 1-3 1 1 1 2 1-2 1 7 1-6 1-3 1 5 1 5 1-5 1 1 1 1 1-4 1-1 1-5 1 9 1-4 1 1 1-1 1 1 1-5 1 4 1 3 1-12 1 6 1-2 1 0 1 1 1 0 1-2 1-1 1 3 1 1 1-4 1 0 1 3 1-4 1 3 1 2 1 0 1-4 1 4 1-9 1 6 1 2 1-1 1 1 1-4 1 4 1 0 1-2 1-8 1 3 1 3 1 0 1 0 1-1 1 6 1-5 1-1 1-3 1 3 1-2 1 8 1-3 1-9 1 1 1-3 1 5 1 2 1-2 1 3 1-6 1 11 1-7 1-1 1-1 1 4 1-3 1 8 1-8 1 4 1-2 1-1 1 5 1-4 1-4 1 3 1-3 1 0 1 5 1-5 1 2 1-6 1 1 1 3 1-2 1 1 1 2 1-9 1 12 1-9 1 6 1 0 1-3 1-3 1 2 1-1 1-2 1 1 1-2 1 0 1 5 1-4 1-1 1 2 1 1 1-4 1 4 1 0 1-1 1 4 1-13 1 0 1 3 1 1 1-1 1-1 1 5 1-8 1 1 1 1 1-2 1-1 1 0 1 0 1-1 1-3 1-5 1 5 1-7 1 3 1 1 1-3 1 2 1-1 1-4 1-1 1 8 1-5 1 5 1-1 1-5 1-3 1 0 1-1 1 1 1-1 1-3 1 5 1-8 1 0 1 3 1-6 1-2 1 1 1-1 1 2 1 0 1-11 1 7 1 0 1-2 1-8 1 7 1-7 1-2 1 2 1 2 1-6 1 0 1-7 1 5 1-4 1 1 1-3 1 2 1-4 1-6 1 3 1-9 1 2 1 1 1-1 1-5 1-11 1 7 1-7 1 0 1-8 1-4 1-6 1-4 1-6 1-8 1-7 1 0 1-8 1-13 1-9 1-5 1 4 1 23 1 20 1 25 1 20 1 24 1 29 1 34 1 30 1 5 1 8 1 1 1 5 1 0 1 3 1 4 1-3 1 3 1 1 1 7 1-5 1 1 1 0 1 0 1 9 1-10 1 6 1-3 1 0 1-1 1 3 1-1 1 3 1-3 1-1 1-10 1 8 1 4 1-1 1 4 1-2 1-9 1 3 1 2 1-2 1-4 1 13 1-4 1-9 1 4 1 2 1 3 1-3 1 4 1 1 1-3 1 8 1-4 1-1 1 0 1-7 1 3 1-6 1 3 1-3 1-2 1-6 1-1 1-1 1 1 1-53 1-24 1 4 1 50 1-26 1-25 1 43 1 29 1-39 1 3 1 5 1-10 1-18 1 18 1 10 1-13 1-2 1 11 1-15 1 15 1 18 1-26 1 5 1 8 1 2 1-10 1-4 1 4 1 8 1-3 1 13 1-12 1-3 1-14 1-4 1 14 1-8 1 12 1 4 1-10 1-6 1-1 1 6 1 0 1 1 1-1 1 1 1 1 1 1 1-4 1 7 1 5 1-11 1-4 1 10 1-3 1-4 1-4 1 6 1 4 1-11 1 6 1 4 1-1 1-8 1 8 1 1 1-10 1-3 1 18 1-7 1-1 1 0 1-4 1-3 1-5 1 12 1-9 1 2 1 14 1-7 1-4 1-1 1 2 1-7 1-1 1 4 1 7 1-1 1-4 1 0 1-6 1 9 1-1 1-6 1 11 1 2 1-17 1 5 1 6 1-4 1 0 1-4 1 9 1-7 1 6 1-7 1 5 1-3 1 4 1-2 1-6 1-2 1-1 1 5 1 2 1-2 1-4 1 0 1 7 1-10 1 2 1 5 1-11 1 9 1 0 1-3 1-7 1 4 1 7 1-11 1 4 1-2 1-2 1 0 1 2 1 1 1 4 1-1 1-1 1-4 1 5 1-3 1 7 1-8 1-3 1 3 1 4 1-11 1 12 1-10 1 3 1-2 1 3 1-6 1 4 1 3 1-6 1 2 1 5 1-12 1 5 1 4 1-4 1 1 1-2 1 5 1-3 1-1 1-2 1 6 1 2 1-6 1-4 1 3 1 10 1-1 1 4 1-10 1-6 1 6 1 2 1-3 1-1 1 0 1 0 1 10 1-6 1-3 1-2 1 8 1-3 1-1 1-4 1 3 1-2 1-5 1 5 1-2 1 4 1 1 1-7 1 2 1 6 1 4 1-13 1 10 1-7 1 3 1 5 1-7 1-1 1-3 1 8 1-5 1 6 1-7 1 1 1 2 1-3 1-1 1 0 1 5 1 4 1-2 1-2 1-5 1-1 1 3 1 0 1-7 1 5 1-3 1 2 1-2 1-4 1 2 1-3 1 4 1 0 1-2 1 5 1-6 1 2 1-5 1 9 1 2 1-3 1 1 1 0 1 0 1 2 1 4 1-2 1 0 1-3 1 0 1 4 1-8 1 5 1-9 1 11 1-8 1 2 1 1 1 2 1 5 1-1 1-7 1-3 1-4 1 3 1 4 1 2 1-10 1 10 1-7 1 9 1 5 1-5 1-5 1 2 1 3 1 3 1-3 1-5 1 16 1-10"/><path d="M0 7012l1 30 1-4 1-1 1-3 1 2 1-4 1 3 1 5 1-6 1 0 1 0 1-3 1 0 1 3 1-1 1 5 1-3 1 3 1 0 1 0 1-2 1 2 1 1 1 0 1-3 1-2 1 4 1-1 1 5 1-9 1-4 1 9 1 1 1-6 1 4 1 4 1-9 1 5 1 1 1 1 1-2 1-2 1 11 1-12 1 7 1-4 1 2 1-3 1 2 1-1 1 1 1-3 1 0 1 1 1-1 1-3 1 5 1-4 1 0 1 0 1 4 1-1 1 2 1-2 1-5 1 5 1 3 1-4 1 0 1 0 1 5 1-5 1 1 1-2 1 3 1 5 1-6 1-2 1-1 1 7 1 3 1-8 1 6 1-2 1-6 1 4 1-3 1 4 1 3 1-5 1 3 1-10 1 6 1 4 1 3 1-8 1 5 1-4 1 3 1 2 1 1 1-2 1-2 1 2 1 1 1-2 1 0 1-5 1 6 1 6 1-4 1-2 1-3 1 8 1-7 1-2 1 2 1 1 1 0 1-3 1-1 1 3 1 1 1 1 1-6 1 7 1 1 1-3 1-7 1 8 1 0 1 2 1-1 1-2 1 4 1-7 1 1 1 1 1 3 1-12 1 14 1-5 1-2 1 4 1-3 1 2 1 2 1 5 1-5 1 0 1-7 1 1 1 7 1-5 1 0 1 3 1-1 1-1 1 2 1-5 1 3 1 3 1-1 1 2 1-5 1 2 1-5 1 10 1-8 1-4 1 3 1 4 1 1 1 3 1-3 1-5 1 7 1-9 1 8 1-9 1 9 1-7 1 2 1 5 1-3 1 0 1 3 1-5 1 1 1-3 1 7 1-2 1-4 1-1 1 2 1 5 1-8 1 5 1-5 1 3 1 0 1-1 1-3 1 8 1-6 1-1 1 2 1 0 1 1 1-6 1 5 1 0 1 0 1 5 1-9 1 6 1 0 1 1 1-6 1 7 1 1 1-6 1 5 1-8 1 2 1 2 1-4 1-3 1 2 1 5 1-6 1 3 1-5 1 8 1-5 1 3 1-1 1-1 1-3 1 5 1 0 1-2 1-2 1-2 1 8 1-1 1-10 1 1 1 5 1 0 1 1 1-1 1-5 1 6 1 4 1-4 1-8 1 6 1-3 1 2 1-3 1 1 1 1 1-4 1 4 1 0 1 1 1-3 1 1 1-3 1 1 1 2 1 2 1-5 1-4 1 7 1 5 1-11 1 6 1-6 1 2 1 2 1-4 1 4 1 2 1 2 1-3 1 0 1-7 1 2 1 5 1-3 1-2 1 0 1-1 1 3 1-4 1 3 1-1 1 3 1-6 1 5 1 1 1-7 1 1 1 0 1 3 1-2 1 0 1 1 1-8 1 5 1-4 1 3 1 2 1-2 1-6 1 5 1 2 1-2 1-1 1-2 1 3 1-3 1-3 1 4 1-5 1 7 1-8 1 6 1-8 1 8 1-3 1-2 1 0 1-1 1-1 1 1 1-4 1 0 1 5 1-8 1 8 1-9 1 1 1-2 1 0 1 0 1-7 1-2 1 12 1-11 1 4 1-6 1 6 1-3 1 1 1 3 1-4 1-1 1 3 1-6 1 4 1-2 1-1 1-1 1 1 1-7 1-2 1 6 1-12 1 6 1-8 1 0 1 4 1-3 1-4 1 2 1-2 1-6 1 0 1-3 1-1 1-6 1 3 1-5 1 0 1-1 1-4 1-3 1-6 1 3 1-7 1-6 1-6 1 6 1-13 1-4 1-3 1-12 1 1 1-5 1-20 1 7 1-13 1-12 1-2 1 29 1 30 1 31 1 29 1 33 1 37 1 32 1 3 1 5 1 6 1 2 1 6 1 4 1-8 1 5 1-2 1 5 1 5 1 0 1-3 1 2 1-4 1 6 1 3 1-11 1 6 1-4 1 4 1 5 1-1 1-8 1-4 1 9 1-2 1-1 1-1 1 3 1 1 1-1 1-1 1-8 1 11 1-2 1 5 1-6 1-2 1-1 1 0 1-2 1 4 1 6 1-13 1 1 1 1 1 1 1-1 1-3 1-10 1 10 1 0 1 0 1-5 1-4 1-50 1-2 1-5 1 7 1-11 1 25 1 2 1-7 1-8 1 21 1-27 1 1 1 5 1 2 1-4 1 17 1-10 1 0 1-1 1 8 1-5 1-4 1 7 1-1 1 0 1-10 1 8 1-21 1 29 1-13 1-2 1 10 1-2 1 4 1-6 1-6 1-6 1 7 1 6 1-3 1-5 1-9 1 3 1 15 1-15 1 10 1-5 1 1 1-8 1 10 1-3 1 1 1 2 1-3 1 4 1-5 1 5 1 3 1-13 1 3 1 6 1-5 1 0 1 14 1-6 1-5 1 3 1 4 1 2 1-9 1-1 1-3 1-4 1 16 1-3 1 0 1 0 1-5 1 0 1-4 1 4 1-6 1 4 1 5 1 0 1-3 1 0 1 7 1-7 1-2 1 1 1 1 1-6 1 16 1-16 1 0 1 2 1 3 1-3 1 5 1-3 1-7 1 7 1-5 1 3 1-2 1 4 1-2 1-9 1 9 1-9 1 2 1 8 1-5 1 4 1-1 1-3 1 5 1-1 1-6 1 4 1-5 1 1 1 3 1 2 1-7 1 3 1 0 1 3 1-9 1 4 1 4 1 2 1-12 1 2 1 14 1-8 1-8 1 5 1 4 1-7 1 11 1-13 1 6 1 6 1-2 1-7 1 5 1 1 1-1 1-4 1-4 1 8 1-9 1-3 1 12 1-5 1-3 1 6 1-1 1-6 1 2 1-2 1 0 1-3 1-5 1 0 1 10 1-6 1-1 1 10 1-8 1 0 1 1 1 7 1-7 1 1 1-13 1 5 1 1 1 5 1 1 1 1 1-1 1-2 1-8 1 9 1 1 1-5 1 1 1 6 1-11 1 3 1 8 1-5 1-3 1 6 1-3 1 1 1-4 1 2 1-4 1 3 1 0 1 8 1-7 1-2 1 4 1-1 1-4 1 3 1-4 1 2 1-3 1 3 1 4 1 0 1-5 1 1 1-6 1 8 1-3 1 4 1-4 1 4 1-1 1-6 1 2 1 5 1-8 1 8 1-3 1-2 1-7 1 10 1 3 1-13 1 11 1 0 1 1 1-9 1 6 1-4 1 3 1 0 1-1 1-3 1 11 1-7 1 3 1 4 1-7 1 5 1-4 1-1 1 3 1 5 1-11 1 3 1 2 1-1 1 3 1-1 1 1 1-2 1 0 1 1 1-3 1-3 1 5 1 4 1-7 1 4 1 3 1-9 1 3 1-7 1 13 1-8 1-3 1 5 1-1 1-3 1 11 1-9 1 4 1 1 1-3 1-6"/><path d="M0 7146l1 30 1-1 1 2 1 4 1-4 1-2 1 5 1-4 1-3 1 4 1-2 1 4 1-2 1-8 1 7 1-3 1 4 1-2 1 5 1 0 1-8 1 4 1 2 1-5 1 0 1-1 1 2 1-3 1 5 1-1 1 3 1 0 1-4 1 0 1 0 1-2 1 4 1-3 1 1 1-2 1 1 1 1 1-1 1 4 1 3 1-2 1-3 1 2 1-1 1-3 1 6 1-2 1-2 1 4 1-2 1 2 1 0 1-6 1 3 1-5 1-4 1 11 1-4 1 1 1-3 1 0 1 5 1 2 1-5 1 1 1-4 1 3 1-2 1 0 1-1 1 2 1 2 1-2 1 6 1-10 1 6 1-4 1 6 1-3 1-1 1 4 1-6 1 2 1-1 1 5 1-4 1 1 1-4 1 3 1 1 1 1 1 2 1-4 1-1 1 2 1-2 1 5 1-6 1 1 1 6 1-5 1 1 1 4 1-1 1 4 1-7 1-4 1 6 1 0 1-2 1 4 1-6 1 2 1-6 1 6 1-5 1 7 1-3 1 3 1-4 1 0 1 2 1-5 1 3 1 0 1 2 1 2 1-1 1 3 1 0 1 1 1-7 1-5 1 8 1 4 1-3 1-2 1 2 1-3 1 1 1 1 1-4 1 3 1-3 1 0 1 3 1 2 1 2 1-2 1-4 1 2 1-2 1-1 1 0 1 2 1 0 1-5 1-1 1 7 1 1 1-2 1 2 1 1 1-6 1 5 1-2 1-4 1-3 1 2 1 6 1 1 1-5 1-1 1 5 1-5 1-5 1 7 1-4 1 3 1 3 1-7 1 2 1 0 1 4 1 1 1-5 1 2 1 1 1-6 1 3 1-3 1 2 1 0 1-6 1 8 1 4 1-3 1 0 1-4 1 4 1 0 1 2 1-4 1 4 1-4 1 2 1-2 1 3 1 0 1 2 1-5 1-1 1-5 1-2 1 6 1 0 1-5 1 0 1 4 1 5 1-2 1-5 1 2 1 4 1-4 1 6 1-10 1 6 1 4 1-6 1 5 1-4 1-7 1 2 1 5 1-3 1 2 1-6 1 7 1 3 1-10 1 4 1 2 1-4 1 0 1-2 1-2 1 0 1 1 1 5 1-2 1 1 1-7 1 5 1 4 1-8 1 3 1-3 1 1 1 2 1-2 1-2 1 9 1-6 1 0 1 4 1-10 1 5 1 0 1-7 1 8 1 0 1-4 1 0 1 5 1-5 1 0 1 1 1-4 1 4 1 2 1 1 1-5 1 9 1-11 1 4 1 0 1-2 1 4 1 0 1-6 1 1 1 5 1-3 1 0 1 2 1-1 1 0 1-3 1-1 1 1 1 4 1-6 1 5 1-8 1 5 1-5 1 1 1 2 1-3 1-3 1 5 1-7 1 5 1 3 1 0 1-2 1 1 1-2 1 1 1-1 1 0 1 3 1-7 1-1 1 3 1-4 1 3 1-5 1 1 1 3 1-9 1 1 1 5 1-5 1 5 1-6 1 2 1-5 1 4 1-1 1 0 1 3 1-3 1 2 1-10 1 5 1-2 1 0 1 3 1-6 1 2 1-4 1 10 1-13 1 1 1 2 1 3 1-1 1-11 1 3 1-5 1 3 1 1 1 0 1 2 1-3 1-9 1 4 1 1 1-2 1-4 1-1 1 2 1-9 1 4 1-1 1-4 1-3 1 2 1 0 1-1 1-4 1 2 1-5 1-4 1-8 1 6 1-9 1 0 1-8 1 2 1-1 1-9 1-9 1 1 1-8 1-3 1-5 1-7 1-1 1-7 1-13 1-5 1-8 1-8 1 19 1 33 1 37 1 31 1 45 1 55 1 51 1 10 1 1 1 6 1-6 1 5 1 6 1 1 1 3 1-3 1 2 1 3 1 0 1-2 1 7 1-5 1 3 1-4 1 2 1 1 1 2 1-5 1 5 1-6 1 2 1 6 1-5 1-1 1 3 1-2 1-1 1 0 1 1 1 2 1 2 1-4 1-3 1 5 1-1 1 2 1 0 1 0 1 1 1-8 1-4 1-9 1 1 1-1 1 4 1-16 1-34 1 20 1-25 1-1 1 10 1 21 1-3 1-7 1 15 1-33 1 0 1 16 1-10 1-8 1 8 1 4 1 12 1 4 1-9 1 5 1-6 1-7 1 1 1 7 1-10 1 16 1-18 1 7 1 11 1-1 1-18 1 11 1 2 1 8 1-5 1-4 1 5 1-5 1-1 1-4 1 2 1-2 1 9 1-4 1 0 1 3 1 1 1 0 1-10 1 5 1 3 1 3 1-5 1-3 1 7 1-6 1-6 1 3 1 4 1-3 1 1 1 1 1 0 1 2 1-2 1-7 1 4 1 6 1-13 1 7 1-3 1-2 1 2 1-4 1 6 1 4 1 3 1-10 1 7 1-3 1-6 1 6 1-1 1 3 1-2 1 0 1-1 1 0 1 5 1 0 1-7 1-6 1 10 1-6 1 1 1 4 1-3 1-2 1 1 1-3 1 3 1 2 1 1 1-9 1 3 1 9 1 1 1-6 1-5 1 4 1 0 1 0 1 8 1-5 1 2 1-6 1-8 1 0 1 1 1-1 1 5 1 4 1-2 1 2 1 0 1 2 1-8 1 2 1-3 1 0 1 3 1-11 1 10 1-3 1 1 1-8 1 8 1 5 1-2 1-1 1-10 1 0 1 8 1-1 1 0 1-2 1-7 1-1 1 3 1 0 1 2 1 3 1-3 1-1 1-10 1 8 1 5 1-3 1-3 1 7 1-6 1 5 1 1 1-4 1-1 1-2 1 5 1-2 1-3 1 4 1-1 1-4 1-1 1-3 1 8 1 2 1-8 1 4 1-1 1 0 1 3 1 2 1 1 1-1 1 0 1-6 1 0 1 5 1-6 1-3 1 1 1 7 1-8 1 3 1 6 1-11 1 5 1 3 1-4 1-6 1 4 1 3 1-5 1 2 1 4 1 3 1 2 1-9 1-4 1 3 1 3 1 4 1-5 1-3 1-3 1 5 1 3 1-1 1-7 1 1 1 0 1 5 1-7 1 3 1-2 1 5 1 1 1-2 1 0 1-1 1 4 1-8 1 8 1-3 1-3 1 2 1 0 1 4 1 5 1-5 1 2 1 2 1 3 1-6 1-6 1-2 1-1 1 11 1-5 1 5 1 1 1-9 1 0 1-1 1-2 1 9 1-7 1 8 1-6 1 5 1-6 1 7 1 1 1 4 1-3 1 1 1-6 1 1 1 5 1-9 1 6 1-2 1 4 1-1 1 0 1-8 1 3 1 1 1 6 1-8 1 2 1 3 1-4 1-6 1 7 1-6 1 7 1-3 1 4 1 1 1-1 1 0"/><path d="M0 7300l1 0 1-1 1 2 1-2 1 3 1-4 1-5 1 10 1-8 1 5 1 1 1-7 1 2 1-1 1 7 1-6 1-3 1 1 1 3 1 1 1-3 1 1 1-3 1 7 1 3 1-4 1 0 1 0 1-2 1 0 1 0 1 0 1 3 1-2 1-8 1 8 1-1 1-2 1 1 1 1 1 3 1-5 1 1 1 2 1 0 1 3 1-4 1 4 1 5 1-5 1-2 1-1 1-4 1 7 1-3 1 1 1 1 1-1 1 4 1-2 1-3 1 1 1 1 1 3 1-2 1 0 1-2 1-3 1 4 1 2 1-6 1 4 1-1 1 3 1-1 1 4 1-9 1 3 1 1 1 5 1-7 1-6 1 4 1 2 1-9 1 5 1 5 1-6 1 3 1 1 1-2 1 4 1-6 1 0 1 7 1-4 1-3 1 2 1 3 1 3 1-5 1 2 1-2 1-1 1 5 1-9 1 6 1 2 1-2 1 4 1-3 1 4 1-2 1 1 1 0 1 1 1-8 1 2 1 2 1-1 1 1 1 3 1-6 1 1 1-2 1 1 1 2 1-3 1 6 1-4 1-1 1 2 1 0 1-2 1 3 1-3 1 3 1-2 1 0 1-2 1 6 1-5 1 5 1-4 1-3 1 2 1 0 1-2 1-2 1 7 1-1 1-2 1-7 1 8 1-3 1-1 1-1 1 0 1 1 1 1 1-2 1-1 1 6 1-4 1 1 1-1 1 3 1-1 1-5 1 7 1-3 1 0 1 4 1-2 1-2 1-1 1 4 1-7 1 3 1 4 1-1 1-3 1 3 1-1 1 1 1 1 1 1 1 3 1-5 1-1 1 2 1-2 1 1 1 4 1-7 1 2 1-2 1 4 1 2 1-1 1-6 1 1 1 1 1 0 1-1 1-2 1 3 1-8 1 8 1-3 1 0 1 3 1-3 1 3 1-2 1 2 1-2 1-3 1 6 1-6 1 5 1-6 1 6 1-8 1 5 1-2 1 3 1-1 1 1 1-5 1 1 1 6 1-2 1 4 1-5 1 3 1-6 1 5 1-5 1 0 1-1 1 3 1 0 1 1 1-1 1-4 1 7 1-2 1-4 1 2 1 3 1-5 1 6 1 1 1-2 1-5 1 6 1-1 1-4 1-4 1 7 1 3 1-1 1 5 1-12 1 2 1 3 1-3 1 2 1-4 1 4 1 2 1-2 1-2 1-3 1 4 1 2 1-10 1 2 1 8 1-13 1 3 1 5 1-3 1 2 1 0 1 2 1-8 1 8 1-6 1 7 1-6 1-1 1 4 1-4 1 9 1-11 1-2 1 8 1-2 1-1 1-2 1 3 1-2 1-3 1 2 1 1 1-1 1 4 1-1 1-6 1 6 1-7 1-1 1 5 1-4 1 0 1 1 1-2 1 7 1-5 1 3 1-9 1 9 1-4 1 1 1-2 1-2 1 6 1-5 1 3 1 0 1-1 1-1 1 0 1-6 1 5 1-2 1-1 1 0 1-1 1-6 1 1 1 1 1 0 1 1 1-6 1 7 1-7 1-3 1 4 1-4 1 3 1 1 1-6 1 2 1 6 1-9 1 1 1 2 1-4 1 0 1-1 1 0 1 1 1 1 1-2 1-4 1 6 1-6 1-4 1 9 1-5 1 2 1 1 1-4 1-6 1 1 1 2 1 2 1-4 1-2 1 4 1-11 1 1 1 0 1-3 1 0 1 1 1-5 1 0 1 1 1-4 1-3 1-4 1-3 1-8 1 0 1-2 1 6 1-6 1-6 1 0 1-8 1-4 1-2 1-4 1-3 1-8 1-1 1-4 1-6 1-6 1-11 1-3 1 6 1 61 1 57 1 55 1 39 1 1 1 13 1-5 1 10 1-1 1-1 1 5 1-1 1 1 1 0 1-1 1 5 1 4 1-5 1 3 1-1 1-2 1 6 1-6 1 7 1 1 1-1 1-5 1 11 1-10 1 8 1-3 1-1 1 6 1-5 1-1 1 8 1-6 1 0 1-6 1 8 1-7 1-2 1 5 1-5 1-3 1 4 1-12 1-2 1 14 1-37 1 5 1-44 1 36 1-5 1-2 1 13 1-23 1 12 1-16 1 14 1-6 1 4 1-6 1 11 1-14 1 19 1 7 1-19 1 17 1-20 1 30 1-27 1 6 1-5 1 12 1-5 1-5 1-15 1 7 1 1 1-1 1 6 1 9 1 5 1-23 1 25 1 2 1-2 1-15 1 0 1 3 1 7 1-10 1 14 1-15 1 4 1 14 1-14 1-5 1 9 1-6 1 6 1 0 1 1 1 2 1-10 1 1 1 1 1 5 1-2 1-14 1 8 1 3 1-1 1-5 1 9 1-7 1 4 1-5 1 12 1 2 1-17 1 15 1-6 1 1 1-2 1-4 1 1 1 2 1 1 1-8 1 3 1 1 1-18 1 14 1 10 1-4 1-5 1 10 1-9 1 10 1-14 1-1 1 3 1 11 1 0 1 3 1-4 1 3 1 0 1-8 1-3 1 5 1-9 1 0 1 9 1-8 1-1 1 2 1-1 1 0 1-2 1 5 1-2 1-2 1 5 1-2 1 4 1-8 1-1 1-6 1 7 1-7 1 8 1 0 1-2 1 4 1-3 1-4 1 0 1-3 1 11 1-3 1-5 1 1 1 2 1-7 1 6 1 0 1-9 1 4 1 10 1-13 1-1 1 9 1-3 1 7 1-15 1 12 1-8 1 3 1-5 1 5 1-1 1-2 1 0 1 0 1-2 1 3 1-9 1 10 1-1 1-2 1 7 1-4 1-2 1-1 1 8 1-8 1-4 1 1 1 4 1 2 1-3 1-8 1 14 1-1 1-6 1 5 1-7 1 8 1-1 1-5 1-3 1 2 1 3 1-2 1-2 1 2 1 0 1 6 1 0 1-9 1-8 1 14 1-8 1-1 1 8 1-7 1-1 1 0 1 4 1-3 1-2 1-1 1 9 1-9 1 1 1 2 1-2 1 4 1 0 1-7 1 16 1-12 1 0 1 3 1-1 1 5 1-3 1-6 1-1 1 3 1 3 1-4 1 7 1-2 1-2 1 1 1-8 1 6 1-3 1 4 1-4 1 6 1-4 1-2 1 9 1-15 1 9 1 0 1 3 1 1 1 0 1-3 1 0 1 4 1-4 1 0 1-4 1 7 1 0 1-1 1 1 1 3 1-6 1 0 1 6 1-13 1 10 1-2 1 5 1-9 1 7 1-3 1-10 1 9 1-7 1 6 1-3 1 3 1 1 1-5 1 4 1 3 1-3 1 0 1-1 1-2 1 0 1 3 1-9 1 6 1 6 1 1 1-2 1-5 1 6 1 7 1-11 1 4 1 1 1-2"/><path d="M0 7394l1 25 1 1 1-1 1 0 1-3 1 4 1 0 1 1 1-2 1-1 1 1 1 2 1 2 1-4 1 5 1-3 1-2 1-1 1 1 1-4 1 0 1 1 1 2 1 2 1-2 1-1 1 2 1-2 1 1 1 0 1 5 1-5 1 3 1-2 1-3 1 3 1 5 1-6 1-1 1 4 1 4 1-5 1-1 1 6 1-5 1-2 1-3 1 3 1 3 1-4 1 5 1-3 1-5 1-2 1 3 1 4 1-8 1 7 1-3 1 6 1-8 1 6 1 0 1-1 1 0 1-2 1 3 1-7 1 5 1 3 1-13 1 14 1-3 1 0 1 1 1-4 1 6 1 1 1-3 1-4 1 2 1-4 1 4 1 4 1-5 1 2 1-5 1 8 1-4 1-1 1-4 1 2 1 2 1 4 1-1 1-4 1 3 1 2 1-3 1-6 1 13 1-6 1 2 1 2 1 2 1-5 1-1 1 2 1 1 1-8 1 4 1 9 1-5 1-2 1-3 1 4 1 4 1-12 1 6 1 2 1 1 1-4 1 2 1-3 1 6 1-9 1 3 1 3 1-6 1 7 1 0 1-3 1-3 1 4 1 1 1-4 1 4 1-6 1 5 1 5 1-1 1-4 1-2 1 6 1-2 1-3 1 2 1 2 1-1 1-1 1 5 1-6 1 1 1-5 1 3 1 3 1-3 1-4 1 1 1 0 1 4 1-5 1 2 1 1 1 2 1-3 1 4 1-2 1 2 1-4 1 5 1-5 1 0 1 0 1 6 1 3 1-8 1 3 1-6 1 2 1 0 1 7 1-7 1 3 1-1 1 0 1 0 1-3 1 0 1-1 1 6 1-1 1-5 1 4 1 4 1-3 1-2 1-1 1 1 1-1 1-2 1-1 1 4 1 0 1 1 1 3 1-5 1 3 1-3 1 1 1 3 1-4 1 9 1-8 1 0 1-2 1 1 1-1 1 1 1-1 1 2 1 1 1-7 1 6 1-1 1-1 1-4 1 6 1-4 1 4 1-3 1 1 1 4 1-7 1 4 1-3 1 2 1-2 1 0 1 10 1-8 1-3 1 3 1-1 1-1 1-2 1 7 1-3 1 3 1-9 1 10 1-8 1 6 1 4 1-12 1 2 1 4 1 2 1-3 1-2 1-2 1 8 1-9 1 1 1-3 1 3 1 5 1-5 1 1 1 0 1 4 1-4 1 3 1 1 1-3 1 5 1-5 1 0 1 2 1-1 1 1 1 1 1-2 1-6 1 3 1 2 1-3 1 4 1-5 1 1 1 1 1-4 1 3 1-2 1 2 1-3 1 2 1-3 1-3 1 5 1-2 1 2 1-4 1-2 1 6 1 2 1-7 1 5 1 1 1-1 1 6 1-8 1 3 1-7 1 7 1-3 1 0 1 0 1 3 1 3 1-7 1 3 1-13 1 11 1-5 1 2 1-2 1 3 1-1 1-1 1 3 1-5 1-8 1 3 1 5 1 0 1-1 1 2 1-2 1-2 1 1 1 0 1-1 1-2 1-2 1 4 1 2 1-6 1-1 1-2 1 4 1-2 1-1 1 9 1-6 1-2 1-2 1 1 1 1 1-5 1 3 1-2 1-4 1 6 1-4 1 4 1-7 1-5 1 7 1-4 1 4 1-7 1 2 1 1 1 0 1 2 1 3 1-5 1 1 1-3 1-1 1-1 1 0 1 3 1-10 1 7 1-10 1 0 1 2 1-5 1-6 1 9 1-7 1-4 1 9 1-12 1 0 1-1 1 5 1-5 1-3 1 0 1 0 1-4 1 0 1-10 1-1 1-2 1-4 1-1 1-2 1-6 1 0 1-9 1-5 1-5 1-9 1-6 1 33 1 54 1 53 1 69 1 21 1 11 1 4 1 1 1 8 1-6 1 8 1-3 1 3 1-4 1 4 1 0 1 0 1 2 1 1 1 4 1-2 1 4 1-6 1 5 1-8 1 7 1-8 1 8 1 4 1-5 1 4 1 1 1-4 1 2 1-5 1 0 1-6 1 0 1 2 1 0 1-11 1 2 1-1 1-1 1-3 1-56 1-16 1-16 1 20 1 20 1-5 1 6 1 18 1-14 1 6 1-13 1-10 1 21 1-14 1 13 1-10 1 14 1-25 1 6 1 6 1-2 1 5 1 5 1-15 1 11 1-1 1-11 1 15 1-9 1-1 1 5 1-7 1 11 1-15 1 18 1-3 1-2 1 5 1 1 1-16 1 16 1-8 1 5 1-5 1-2 1 4 1 4 1 5 1-12 1-1 1 5 1-4 1-3 1 8 1-9 1 4 1-5 1-5 1 14 1 4 1-8 1-9 1 12 1-10 1 2 1-3 1 2 1 3 1-8 1 5 1 1 1-1 1 5 1-11 1 7 1-4 1 0 1 10 1-4 1 6 1-2 1-5 1 11 1-14 1 3 1 0 1 0 1-1 1 0 1-2 1 5 1-9 1 9 1-13 1 9 1 5 1-11 1 0 1-2 1 9 1-4 1 0 1-3 1-7 1 11 1 0 1 0 1 1 1-5 1 2 1 1 1 2 1-8 1 12 1-9 1 6 1-3 1-4 1 1 1 4 1 0 1 1 1 2 1-5 1-1 1 0 1-2 1-3 1 4 1 2 1 2 1-10 1 4 1-6 1 4 1-4 1 4 1-2 1 3 1-4 1 6 1-11 1 8 1 7 1 1 1-4 1 1 1-2 1-12 1 4 1 5 1-3 1-1 1 10 1-4 1-3 1 0 1 3 1-8 1 8 1-6 1 7 1-9 1 1 1-5 1 9 1 0 1-7 1 4 1-8 1 6 1-1 1-3 1 6 1-9 1 5 1 5 1-7 1 5 1-6 1 8 1-11 1 3 1 0 1 1 1-2 1 3 1 1 1 4 1-3 1-12 1 6 1 4 1-7 1 10 1-1 1-8 1 3 1-5 1 2 1-2 1 7 1 2 1-3 1 3 1-1 1-5 1 2 1-5 1 12 1-9 1 1 1 1 1-4 1 9 1-4 1 4 1-4 1-9 1 12 1 0 1-1 1 1 1-5 1-1 1 7 1 4 1-6 1-8 1-4 1 5 1-2 1 7 1 8 1-6 1-6 1 5 1-9 1 4 1-6 1 13 1-3 1 0 1 0 1-1 1 6 1-10 1 3 1-4 1 6 1 2 1-3 1 5 1-12 1 13 1-5 1-2 1 10 1-12 1 6 1-6 1 2 1-4 1-1 1 5 1-3 1 1 1 0 1 1 1 0 1 5 1-2 1-8 1 7 1 5 1-3 1 1 1-3 1-3 1 9 1-10 1 8 1-3 1 0 1 2 1-11 1 8 1 4 1-1 1 0 1-4 1-9 1 7 1 1 1 2 1-2"/><path d="M0 7552l1 9 1-4 1-7 1 12 1-6 1 2 1-9 1 4 1 4 1 0 1 1 1-3 1 0 1 2 1-4 1 2 1-5 1 2 1 1 1-1 1-1 1 8 1-5 1 2 1-7 1 3 1-7 1 7 1 0 1 1 1 2 1-7 1 7 1-8 1 4 1 0 1-4 1 1 1 5 1 1 1-3 1 2 1 3 1-2 1-6 1 2 1-1 1 1 1-3 1 3 1-3 1 1 1 3 1-3 1 7 1 2 1-7 1 0 1 6 1-3 1 0 1 1 1 0 1 1 1 1 1-1 1-1 1-2 1 4 1-7 1 1 1 6 1-2 1-2 1 3 1 1 1 3 1-9 1 0 1 3 1 2 1-4 1-2 1 2 1 2 1-2 1-4 1 0 1 5 1-5 1 8 1 0 1-6 1 0 1 2 1 1 1-5 1 0 1 0 1 4 1 0 1-2 1 0 1 2 1-1 1 0 1-3 1 6 1-5 1 1 1-2 1 6 1 3 1-3 1-4 1 2 1 0 1 0 1-1 1 3 1 1 1 0 1-2 1 3 1-1 1-2 1 2 1 0 1-1 1 4 1-2 1 2 1-11 1 9 1-4 1 2 1 4 1 1 1-6 1-4 1 10 1-2 1 2 1-7 1 4 1-4 1 2 1 1 1-4 1 9 1-10 1 9 1-3 1-2 1 1 1-4 1 1 1-1 1 0 1 0 1 3 1-4 1 2 1 5 1-10 1 6 1-2 1 0 1-3 1 3 1 1 1 1 1-3 1 3 1-7 1 4 1 0 1-2 1 1 1-2 1 4 1-1 1-1 1 2 1 4 1-5 1 5 1-6 1 8 1-7 1-3 1 3 1-1 1 5 1-4 1 0 1 2 1-5 1 5 1-2 1 2 1-4 1 7 1-3 1-3 1 3 1 1 1-6 1 3 1-1 1-4 1 10 1-4 1 1 1-1 1 4 1-7 1 2 1-1 1-5 1 7 1-3 1-4 1 4 1 1 1-2 1-2 1-4 1 9 1-10 1 4 1 3 1 4 1-7 1 3 1 0 1-7 1 3 1 3 1 0 1-4 1-2 1 3 1 1 1-2 1-5 1 11 1-9 1 9 1-4 1 1 1-1 1 2 1-7 1 5 1 0 1 2 1 1 1-11 1 9 1-1 1-5 1 6 1-2 1 0 1-3 1 5 1-3 1 6 1-4 1 1 1 1 1 3 1-5 1 5 1-3 1-1 1-3 1 2 1 2 1-4 1 10 1-5 1-3 1 2 1 3 1-5 1-1 1-2 1 0 1 1 1 4 1 1 1-9 1 5 1 0 1-4 1 3 1-3 1 5 1-8 1 8 1-3 1-1 1 2 1 1 1-3 1 0 1-2 1 4 1-2 1-4 1 2 1 1 1 0 1 1 1-10 1 6 1-4 1 4 1-2 1 5 1-1 1-5 1-2 1 3 1-5 1 13 1-6 1-4 1 2 1-2 1 3 1-1 1 1 1-1 1 2 1-2 1 0 1 0 1 1 1-2 1-3 1 8 1-4 1-1 1-2 1-2 1 0 1-4 1 4 1-6 1 10 1-3 1-5 1 2 1 1 1-2 1 0 1 4 1-3 1 2 1 1 1-4 1-3 1-1 1 0 1 3 1-3 1 3 1-5 1-5 1 6 1 1 1 5 1-11 1-2 1-2 1 9 1-14 1 4 1-1 1-1 1-1 1 5 1-1 1-2 1-11 1 5 1 4 1-6 1 6 1-6 1 4 1-5 1 1 1-3 1 4 1-6 1-3 1 1 1-2 1-2 1-6 1 5 1-6 1 4 1-6 1-4 1-2 1 2 1-8 1-4 1-4 1 0 1-4 1-1 1-5 1-8 1 1 1-5 1 52 1 70 1 71 1 26 1 11 1 5 1-1 1 3 1 1 1 1 1 5 1 3 1 0 1 5 1-2 1-6 1 5 1-1 1 5 1 1 1-3 1 9 1-9 1-3 1-4 1 0 1 1 1 7 1 2 1-3 1-6 1 0 1 3 1-5 1-6 1 5 1-4 1 1 1-6 1 5 1-23 1-57 1 2 1 10 1-11 1-8 1 2 1 1 1-11 1 6 1-7 1 36 1-8 1-11 1 5 1-12 1 4 1 2 1 17 1-20 1 16 1-5 1-6 1 8 1-1 1-9 1 1 1 5 1-8 1 8 1 2 1-3 1 4 1-4 1 6 1-15 1 7 1 1 1-4 1 1 1 2 1-7 1 8 1-4 1-7 1 10 1-1 1-4 1 11 1-10 1-3 1 5 1-6 1 10 1-9 1-3 1 12 1-8 1 9 1-1 1-4 1 1 1-7 1 3 1-11 1 14 1-4 1-4 1 2 1 6 1-6 1-1 1 5 1-1 1-3 1 8 1-11 1 6 1-12 1 6 1 4 1-4 1 12 1-2 1-3 1-8 1 2 1 1 1-1 1-4 1 8 1 2 1-9 1 7 1 3 1-2 1 0 1-9 1 1 1-2 1 8 1-5 1-1 1-1 1-5 1 9 1 1 1 2 1-9 1 9 1-4 1 8 1-3 1-15 1-4 1 17 1-1 1-13 1 4 1 12 1 0 1 0 1-4 1 1 1-10 1 3 1-4 1 8 1-7 1 10 1 5 1-15 1-7 1 5 1 5 1-2 1-9 1 10 1-2 1-2 1-1 1 2 1 0 1 6 1-8 1 3 1 2 1 1 1-3 1-2 1-3 1 2 1-3 1-2 1 5 1-3 1 5 1-2 1 0 1-3 1 0 1 4 1 3 1-5 1-3 1 6 1 0 1-3 1 0 1 6 1-14 1 5 1 5 1 2 1-2 1 6 1-10 1 1 1-5 1 0 1-1 1-3 1 4 1 8 1 3 1-11 1 9 1-7 1 2 1-1 1 3 1-7 1 5 1 3 1-10 1 10 1-3 1 0 1-6 1 2 1 0 1 1 1-6 1 3 1 5 1-4 1 7 1-4 1-4 1-2 1 2 1 2 1-2 1-3 1 0 1 5 1 0 1-4 1 4 1 5 1-9 1 4 1-5 1 0 1 8 1-4 1-4 1 3 1 4 1-5 1 9 1-6 1-3 1 1 1 0 1 2 1 0 1-4 1 3 1 2 1-6 1 8 1-3 1 4 1-4 1-3 1-3 1 5 1-2 1 1 1 5 1 4 1-5 1-4 1-5 1 8 1-2 1 2 1-3 1 0 1-5 1 7 1 3 1-7 1-4 1 7 1 5 1-9 1 7 1-6 1 2 1 3 1-11 1 4 1 4 1-1 1-5 1 7 1-2 1 1 1 0 1-5 1 4 1-4 1-1 1 2 1-1 1 5 1-6 1 6 1-1 1 4 1-11 1 15 1-3 1-9 1 9 1-6"/><path d="M0 7664l1 18 1 0 1-4 1 4 1-6 1 5 1 1 1 4 1-13 1 11 1-7 1 6 1-5 1 7 1-2 1-7 1 0 1 3 1 4 1-5 1 3 1-2 1-1 1-1 1-3 1 7 1-4 1 3 1-1 1-3 1 1 1 5 1-4 1 1 1-3 1 6 1-7 1 3 1 2 1-5 1 5 1-8 1 6 1 5 1-3 1-5 1-2 1 3 1-3 1 1 1 0 1 9 1-8 1 2 1 0 1-3 1 4 1-2 1 4 1 2 1-3 1-2 1 3 1 6 1-10 1 5 1-2 1-2 1 3 1-1 1 1 1-2 1 1 1-5 1 5 1 5 1-4 1 0 1-2 1 1 1-2 1 1 1 1 1-5 1-2 1 1 1 4 1-5 1-1 1 4 1 2 1-2 1-3 1 1 1 7 1-3 1-3 1 3 1-6 1 6 1-7 1 5 1 2 1 3 1-3 1-2 1 5 1-1 1 2 1-1 1-1 1 0 1 4 1-2 1-6 1 6 1-2 1 0 1-4 1 3 1 0 1 3 1-4 1 6 1-4 1 3 1-4 1 3 1-5 1 3 1 0 1 2 1-4 1 2 1 0 1-3 1 1 1 0 1 4 1-2 1-2 1 3 1-3 1 6 1-4 1-1 1 0 1-4 1 4 1-1 1-2 1 3 1-4 1 5 1-2 1 1 1 1 1 1 1-3 1 2 1-6 1 5 1 0 1 2 1-4 1 0 1 0 1 2 1-6 1 4 1 1 1-3 1-2 1-2 1 8 1-6 1 3 1 0 1-1 1-1 1 2 1 5 1-4 1 0 1-1 1 0 1 2 1 2 1-3 1-4 1 2 1-2 1 3 1-1 1 1 1 6 1-6 1 7 1-3 1-4 1-4 1 10 1-6 1 9 1-9 1-1 1 1 1 0 1-1 1-3 1 7 1-4 1 0 1 1 1 0 1-4 1 2 1-6 1 3 1-2 1 3 1-2 1 2 1-4 1-4 1 6 1 2 1 0 1 1 1 2 1-3 1-9 1 7 1-4 1 7 1-5 1 3 1 7 1-4 1-2 1 0 1-1 1 2 1-2 1 2 1-1 1 3 1-1 1-4 1 2 1 4 1 0 1-3 1-4 1-3 1 5 1-2 1 5 1-5 1 4 1 2 1-8 1 0 1 8 1-10 1 6 1-1 1 0 1-2 1 0 1 3 1 0 1 0 1-3 1 0 1 2 1 1 1-6 1 3 1 2 1 3 1 0 1-3 1-2 1 4 1-1 1 0 1-4 1 8 1-2 1-10 1 11 1-5 1-3 1 0 1 4 1 1 1-4 1 1 1-6 1 3 1 2 1-1 1-7 1 2 1 3 1 4 1-2 1 3 1-4 1 2 1 0 1 3 1-7 1 0 1 1 1-4 1 8 1-5 1 0 1 1 1 0 1 5 1-4 1 7 1-11 1 7 1 1 1-1 1-5 1 2 1-4 1 4 1 0 1 4 1-1 1-6 1 5 1-2 1-2 1 1 1 1 1-4 1-3 1 6 1 1 1-3 1-2 1-4 1 4 1-4 1-3 1 4 1 1 1-2 1-4 1 5 1 4 1-9 1 1 1-2 1 6 1-6 1 2 1 1 1 5 1-5 1 5 1-6 1 3 1-6 1 7 1-5 1-5 1 6 1 2 1-6 1-3 1 5 1-8 1 5 1 0 1 2 1-4 1-3 1-1 1 3 1-5 1 2 1-4 1 0 1-2 1 5 1-6 1 1 1 3 1-4 1-1 1-7 1 5 1-2 1-2 1 1 1-6 1 1 1 1 1 0 1-1 1-5 1-8 1-1 1 4 1-5 1-4 1 2 1-2 1-4 1 0 1-1 1-14 1 1 1-4 1-5 1 53 1 67 1 65 1 36 1 10 1 1 1 7 1 0 1 8 1 0 1-6 1 5 1 5 1-5 1 4 1 2 1-11 1 15 1-1 1 1 1 2 1-6 1 2 1-2 1-3 1 1 1-2 1 7 1 4 1-11 1-2 1-1 1 1 1-2 1 1 1-1 1-43 1-75 1 30 1 5 1-8 1 0 1 9 1-12 1 39 1-26 1-3 1 19 1-17 1 5 1 20 1-28 1 18 1-5 1-13 1 11 1-7 1 5 1-7 1 0 1 7 1 8 1-13 1-1 1 4 1-6 1 9 1 1 1-18 1 18 1-11 1 2 1 10 1-5 1 12 1 2 1-13 1 3 1-5 1-10 1 18 1-7 1 9 1-6 1 3 1-4 1-1 1-1 1-6 1 10 1 1 1 7 1-14 1-10 1 8 1 10 1-6 1 3 1 4 1-7 1 0 1-8 1-2 1 11 1-1 1 6 1-7 1 0 1 8 1-9 1-1 1-6 1-2 1 14 1 0 1 0 1-5 1-7 1 3 1 3 1 0 1 0 1-4 1 4 1-2 1-6 1 16 1-4 1-7 1 6 1-5 1 5 1 0 1-4 1-2 1 1 1 0 1 3 1-10 1 6 1-2 1 6 1-11 1 11 1-11 1-3 1 3 1 4 1 5 1-7 1-4 1 6 1 7 1-12 1-5 1 9 1-11 1 9 1-4 1-1 1 4 1 1 1-1 1 5 1-4 1-3 1 3 1 8 1-5 1-7 1 8 1-8 1 9 1-4 1 3 1-1 1-7 1 3 1-1 1 5 1-13 1 5 1 2 1-2 1 7 1-4 1-6 1-2 1 4 1-7 1 5 1 0 1 4 1-9 1 2 1 4 1-6 1 10 1 1 1-9 1-4 1 7 1-10 1 3 1 8 1-8 1 14 1-10 1 5 1-2 1-5 1-3 1 8 1-5 1 1 1-3 1-2 1 8 1 1 1-2 1 2 1-5 1 1 1 0 1-8 1 9 1 2 1-6 1 1 1 8 1-10 1 6 1-3 1 0 1 2 1 1 1-1 1-9 1 9 1 0 1 4 1-10 1 6 1-2 1 6 1-7 1-1 1 0 1 4 1 8 1-9 1-9 1 10 1 7 1-5 1-1 1-8 1 7 1 1 1-10 1 4 1-5 1-2 1 14 1-8 1 3 1 6 1-9 1 4 1 2 1-8 1-2 1 5 1-2 1 0 1-5 1 8 1 8 1-14 1-1 1 3 1-8 1 7 1 2 1-1 1 3 1-9 1 5 1-3 1 1 1 5 1-3 1 3 1 4 1 0 1-7 1-1 1 3 1 8 1-3 1 0 1-1 1-4 1 1 1 5 1-1 1-8 1 12 1-4 1 1 1-7 1 6 1-2 1-5 1-3 1 9 1-5 1 5 1 0 1-12 1 6 1 3 1-1 1 2 1 1 1-10 1 2 1 10 1-3 1-1 1-2 1 3 1-6 1-3 1 11 1-8"/><path d="M0 7793l1 4 1 10 1-2 1-6 1 5 1-5 1-2 1 1 1 2 1-2 1 3 1-3 1-1 1 3 1-6 1 4 1-2 1 3 1-2 1 2 1 3 1-6 1 1 1-4 1 3 1 4 1-9 1 6 1-3 1 5 1-8 1 11 1-6 1 6 1-6 1-1 1 3 1-4 1-5 1 10 1-3 1-6 1 2 1 2 1-4 1 3 1 3 1-5 1 6 1-4 1 1 1-4 1 0 1 6 1-3 1 2 1-1 1 0 1-2 1 0 1 7 1 0 1-5 1-1 1 6 1-1 1 2 1-2 1 0 1-1 1-1 1 1 1-5 1 5 1 1 1-6 1 4 1 5 1-3 1 0 1-2 1 2 1-8 1 1 1 5 1 2 1 4 1 1 1-2 1-1 1-7 1 8 1-4 1 1 1-4 1 7 1 1 1-4 1 6 1-6 1-1 1-1 1 0 1-4 1 5 1 0 1 2 1-1 1-1 1-1 1 5 1 0 1-3 1-2 1 3 1 1 1-6 1 5 1-2 1 4 1-8 1 4 1-3 1 0 1-2 1 1 1 4 1 5 1-2 1-2 1 1 1-1 1 2 1-4 1-2 1-3 1 4 1 0 1-1 1 1 1 2 1-3 1 2 1 1 1-7 1 9 1-5 1 4 1-2 1-3 1 2 1 1 1 4 1-2 1 5 1-3 1 3 1-8 1 6 1-1 1-3 1 2 1 3 1-8 1 1 1 3 1-3 1 6 1-1 1 4 1-10 1 6 1 2 1-5 1 3 1-1 1-2 1 6 1-3 1 5 1-11 1 7 1-2 1-4 1-3 1 7 1-4 1 0 1 3 1 3 1-2 1-2 1 0 1 2 1 6 1-4 1-6 1 2 1 3 1 0 1-9 1 7 1 4 1-6 1-2 1 2 1 5 1-8 1 8 1-7 1 3 1 7 1-7 1-2 1-1 1 4 1-4 1 5 1-8 1 5 1-5 1 9 1-6 1 1 1 0 1 0 1 1 1-4 1 3 1 0 1-2 1-2 1-7 1 3 1 4 1-3 1 2 1 4 1-5 1 8 1-7 1-1 1 5 1 0 1-1 1-3 1 3 1 1 1-4 1-1 1 5 1 5 1-8 1 3 1-2 1 1 1-3 1 4 1-7 1 4 1 0 1 3 1-3 1 1 1 3 1-1 1-3 1 7 1-2 1-3 1-1 1 1 1 4 1-6 1-1 1 2 1 0 1 3 1 1 1 1 1 2 1-8 1 3 1-4 1-1 1 3 1-1 1-1 1 1 1-1 1 3 1-5 1 4 1 2 1-1 1 1 1-7 1 0 1 3 1-1 1 4 1-2 1 1 1-3 1 9 1-6 1-3 1-3 1 4 1-5 1 6 1-1 1-2 1 2 1-4 1-3 1 2 1-6 1 4 1 2 1-1 1 3 1-7 1 7 1-1 1-2 1-2 1 4 1 1 1 0 1 4 1-3 1-3 1 2 1-5 1 6 1 3 1-6 1 3 1-5 1 4 1 1 1-5 1 7 1-7 1-1 1 5 1-3 1 2 1-4 1 3 1-8 1 3 1 8 1-7 1 6 1-4 1 3 1-7 1 3 1-3 1 3 1-2 1-1 1 3 1-2 1 3 1 2 1-4 1 1 1 8 1-10 1 6 1-2 1-10 1 4 1 3 1-5 1 0 1 4 1 2 1-3 1-3 1-2 1 4 1-1 1 0 1-5 1 3 1-4 1-2 1 3 1-3 1 1 1-2 1 1 1 3 1 2 1 0 1-3 1-5 1-3 1 0 1 0 1-4 1-1 1 5 1-9 1 0 1-3 1-1 1 3 1 0 1-13 1 5 1-3 1 0 1-8 1 0 1 3 1-4 1-4 1-7 1 2 1-6 1 42 1 67 1 60 1 12 1-1 1 7 1 0 1 1 1 0 1 4 1-1 1 7 1 2 1-2 1 4 1-2 1-3 1-1 1 7 1-8 1 5 1-3 1-2 1 1 1-3 1-3 1 2 1-3 1 2 1-5 1-3 1 1 1-65 1-23 1 4 1 15 1 0 1 16 1-34 1 29 1-1 1-40 1 29 1-5 1-3 1 22 1-13 1-20 1 27 1-11 1 0 1 4 1-8 1 5 1 7 1-9 1-11 1 22 1 5 1-24 1 6 1 3 1-7 1-4 1 17 1-14 1 11 1 14 1-12 1-2 1-2 1-11 1 14 1-19 1 9 1 2 1-6 1 11 1-7 1 2 1 0 1 3 1-7 1 2 1 12 1-8 1-6 1-3 1 6 1-2 1 9 1-3 1-3 1 3 1 0 1 2 1-8 1 0 1-4 1-2 1 7 1 5 1-7 1 6 1 0 1-9 1 8 1-6 1 9 1-3 1 1 1-5 1-8 1 13 1-7 1 0 1 2 1-8 1 12 1 1 1-5 1 3 1-1 1-9 1 2 1 6 1-2 1-2 1 4 1 6 1-9 1 0 1-2 1 2 1 6 1-7 1 2 1 2 1 6 1-3 1-14 1 8 1 3 1-5 1 0 1 0 1-1 1 6 1-4 1-3 1 0 1 3 1 0 1 1 1-6 1 15 1-14 1 2 1-2 1 6 1-2 1 2 1-11 1 11 1-5 1-3 1 1 1 3 1-4 1-4 1 6 1-6 1 7 1-6 1 5 1-8 1 2 1-2 1 1 1 3 1-4 1 7 1-13 1 17 1-13 1 4 1 0 1 5 1-9 1 7 1-4 1-3 1 7 1-7 1-2 1 9 1-2 1-4 1 5 1-6 1-4 1-1 1-3 1 10 1-5 1 1 1 6 1 0 1-2 1-3 1 0 1 2 1-7 1 0 1 6 1-8 1 9 1 0 1 1 1 1 1-5 1 3 1 1 1-3 1-1 1-3 1 5 1 4 1-6 1 0 1-7 1-2 1 10 1 4 1-9 1 5 1-1 1-5 1 3 1 3 1-7 1-1 1 5 1-4 1 5 1-6 1-2 1 7 1 0 1-1 1 6 1-7 1 0 1-3 1 0 1 6 1 1 1-10 1-3 1 11 1 1 1-5 1 7 1-10 1-4 1 11 1-4 1-2 1 9 1-6 1-4 1 1 1 3 1-3 1 3 1-7 1 7 1-1 1-1 1 5 1-1 1 2 1-11 1 8 1-9 1 6 1-2 1 4 1-2 1 3 1-8 1 0 1 9 1-8 1 3 1-1 1 2 1-1 1 3 1 1 1-7 1 6 1-5 1 5 1-3 1 1 1 12 1-9 1 0 1-2 1-5 1 0 1 0 1 10 1-8 1 6 1 2 1-15 1 11 1 1 1-6 1 12 1-3 1-4 1 8 1-4 1-1 1-9 1 8 1 0 1-4 1 1 1-2 1 7"/><path d="M0 7898l1 16 1 4 1 2 1 3 1-6 1 1 1 8 1-8 1-2 1 4 1-6 1 8 1-2 1 0 1 2 1-6 1 1 1 5 1-6 1-7 1 4 1 0 1 2 1 1 1 1 1 2 1-1 1-6 1 3 1 5 1-3 1-1 1 8 1-6 1 0 1-3 1 4 1-1 1 0 1 0 1 5 1-3 1 2 1-1 1 1 1-1 1-1 1-1 1 1 1 6 1-7 1-1 1 1 1 2 1 3 1-1 1-4 1 1 1 4 1 0 1-5 1-7 1 11 1-4 1 6 1-13 1 8 1 1 1 2 1-2 1-7 1 3 1-1 1 1 1 2 1-1 1 0 1-1 1 5 1-4 1 3 1 1 1-3 1 1 1-3 1 7 1-6 1-2 1 6 1-8 1 9 1-3 1 2 1-5 1 2 1 1 1-2 1 10 1-13 1 2 1 3 1 0 1-4 1 4 1-6 1 4 1 3 1-6 1 3 1 0 1-3 1 2 1 1 1-1 1 4 1-5 1 4 1-3 1 4 1 3 1-7 1 0 1 3 1-3 1 2 1 3 1-3 1 4 1-1 1-1 1 3 1-2 1-5 1-1 1-4 1 9 1-1 1 1 1-1 1-4 1 2 1 0 1 5 1-5 1-2 1 3 1-5 1 2 1 1 1-2 1-4 1 4 1 2 1 4 1-5 1 1 1-1 1-2 1 4 1-1 1 1 1-2 1 0 1 3 1 2 1-4 1 2 1-2 1 5 1-4 1 6 1-2 1 1 1 5 1-4 1 1 1-2 1-8 1 10 1-12 1 9 1 2 1-6 1 1 1 4 1-4 1 2 1 7 1 0 1-8 1-7 1 9 1-1 1 0 1-7 1 4 1 1 1 1 1 0 1 3 1-1 1-8 1 5 1-1 1 4 1-4 1-3 1 1 1 7 1 3 1-11 1 5 1 3 1-3 1-2 1 6 1-4 1 5 1-12 1 9 1 1 1-3 1 0 1-2 1 0 1 5 1 1 1-7 1 9 1-9 1 5 1 0 1-3 1 0 1 2 1-1 1-2 1 5 1-1 1 0 1-6 1 7 1-2 1-3 1-2 1 4 1-5 1 4 1-3 1 4 1 1 1 2 1-3 1-2 1-2 1 0 1 5 1-1 1 4 1-4 1-6 1 6 1-2 1-1 1 4 1 2 1-4 1-1 1 3 1-1 1-4 1 3 1-1 1-4 1 5 1-3 1 0 1 4 1-2 1-6 1 5 1 2 1 1 1-4 1-1 1-1 1 1 1-2 1 7 1-7 1 6 1-4 1 4 1-5 1 5 1-8 1 3 1-2 1 4 1-1 1-3 1 2 1-2 1 6 1-3 1 3 1 3 1-6 1 2 1-2 1-1 1 0 1 4 1-4 1 0 1-1 1 5 1-4 1 2 1-5 1 5 1-1 1-2 1-4 1-1 1 12 1-15 1 9 1-4 1-1 1 7 1-9 1 6 1-2 1-1 1-3 1 9 1-4 1-3 1 5 1-4 1 5 1-6 1 5 1-3 1 0 1 2 1-4 1 8 1-3 1 3 1-3 1-2 1 0 1 2 1-6 1 0 1-5 1 1 1 4 1-2 1 2 1-2 1-3 1 5 1-4 1 3 1 4 1-8 1-1 1 7 1-9 1 3 1-3 1 0 1 4 1-1 1 0 1 4 1-8 1 3 1 5 1 2 1-2 1-9 1 13 1-6 1-1 1 2 1-6 1 2 1 4 1-6 1 3 1-1 1-4 1 4 1-4 1 2 1 3 1-3 1-1 1-1 1-1 1-1 1-8 1 2 1 3 1-5 1-2 1 2 1 0 1-2 1 3 1-10 1 2 1-6 1 4 1-3 1-5 1 7 1-6 1-8 1-3 1-1 1 2 1-5 1 35 1 71 1 65 1 6 1 6 1 3 1 7 1-3 1-4 1 1 1 10 1 2 1-4 1 5 1-4 1 7 1 7 1-13 1 6 1-5 1-4 1 1 1-7 1-2 1 1 1-5 1 6 1-93 1-12 1 7 1-17 1 26 1-11 1-1 1-17 1 13 1-8 1-5 1 42 1 1 1-13 1-22 1 34 1 1 1-29 1 12 1-5 1 35 1-19 1 1 1 1 1-18 1 11 1 7 1 5 1-5 1-20 1-5 1 23 1 0 1-19 1 8 1-4 1-5 1 24 1 0 1-15 1 11 1-10 1-10 1 13 1 10 1-20 1 2 1 1 1-6 1 4 1 7 1-7 1 4 1 5 1 1 1-9 1 2 1 9 1-12 1 2 1 14 1-12 1 1 1-5 1 2 1 0 1 1 1-3 1 9 1 0 1-4 1-6 1 11 1 1 1-3 1-7 1 9 1-7 1 0 1 4 1 5 1-2 1-4 1 1 1 2 1 9 1-13 1 0 1-3 1 3 1-1 1 3 1-5 1-3 1-6 1 8 1-6 1 4 1-3 1-4 1 9 1-2 1 6 1-2 1 6 1-4 1-4 1 1 1-3 1-3 1 9 1-13 1 7 1 5 1-4 1 2 1-4 1-3 1 8 1 0 1-12 1 4 1 3 1-2 1-5 1 6 1 2 1 7 1-17 1 7 1-2 1-1 1 4 1-3 1 4 1-9 1 8 1-10 1 6 1-3 1 12 1-10 1 1 1 0 1 9 1-4 1-3 1 0 1 6 1-7 1-3 1 13 1-11 1 2 1 3 1-7 1-4 1 7 1-3 1 4 1 2 1-2 1 2 1-4 1-5 1-1 1 0 1 8 1-11 1 4 1 7 1-9 1-4 1 0 1-1 1 2 1-4 1-1 1 0 1 10 1-3 1-4 1 0 1-3 1 4 1 7 1-8 1 7 1-15 1 5 1 3 1-3 1-2 1-5 1 10 1 3 1 1 1-2 1 10 1-9 1 3 1 3 1-7 1 4 1-12 1 11 1-2 1 4 1-2 1-6 1 4 1-3 1-6 1 4 1 3 1-4 1-6 1 13 1-5 1 3 1-8 1 5 1 1 1-14 1 10 1 6 1-9 1-2 1 10 1 4 1-16 1 11 1-9 1 7 1-2 1 4 1-2 1 2 1-1 1 1 1 4 1-13 1 10 1-2 1 3 1 1 1-10 1 6 1-6 1 6 1 3 1-10 1 3 1 2 1-3 1 3 1-7 1 5 1 0 1-2 1 3 1-5 1 6 1 0 1 0 1-3 1 7 1-7 1 6 1-5 1-4 1 11 1-13 1 16 1-10 1-3 1-3 1 14 1-4 1 5 1-15 1 6 1 9 1-2 1-5 1 11 1-13 1 4 1 5 1-1 1-6 1-1 1 0 1 5 1 3 1-1 1-7 1-1 1 3 1 2 1-4 1 7 1-6 1 2 1-9"/><path d="M0 8046l1 2 1-5 1 5 1 1 1 1 1 2 1-10 1 3 1 7 1-4 1 5 1 3 1 1 1-8 1-1 1 11 1-10 1 2 1 7 1-4 1 0 1 1 1-4 1 4 1-1 1 0 1 0 1-3 1 0 1 3 1-9 1 4 1 1 1 3 1-5 1 2 1-5 1 8 1 1 1-4 1-4 1-2 1 4 1 1 1-1 1-4 1 4 1 4 1-6 1 7 1-1 1-2 1 0 1-3 1 6 1 1 1 1 1-9 1 7 1-2 1 0 1-5 1 10 1-2 1 2 1-4 1 4 1-2 1-1 1-2 1 2 1 2 1 0 1-3 1-1 1-4 1 4 1 5 1-3 1-4 1 0 1 9 1-6 1 1 1-1 1 4 1-8 1 6 1-2 1-1 1 1 1 1 1-1 1-1 1 1 1 1 1-3 1 0 1 1 1 0 1 2 1-1 1-1 1 2 1 2 1-6 1-4 1 3 1-1 1 1 1-4 1 6 1-7 1 5 1 3 1-5 1-1 1 3 1-1 1-2 1-2 1 7 1-2 1-2 1 1 1-3 1 3 1 4 1-1 1-3 1 1 1 7 1-4 1 0 1 3 1-3 1 1 1 5 1-1 1-1 1-4 1-7 1 11 1-3 1-2 1-5 1 2 1 2 1 4 1-2 1-1 1 1 1-3 1 1 1 3 1 2 1-5 1 3 1-6 1 7 1 0 1-2 1 1 1 3 1-4 1 2 1 3 1-7 1-2 1 2 1 1 1-6 1 8 1-2 1 6 1-4 1-5 1-1 1 3 1-4 1 0 1 1 1 2 1-5 1 4 1-1 1 2 1 3 1-3 1-6 1 6 1-4 1 5 1-1 1-9 1 13 1-5 1 7 1-2 1-5 1 0 1 11 1-8 1 0 1 5 1-1 1-7 1 4 1 1 1-4 1 7 1 1 1-2 1-6 1 0 1 3 1-5 1 4 1 5 1-4 1-5 1 2 1 0 1-1 1-1 1 4 1-1 1-5 1 4 1 3 1-1 1-3 1 0 1-1 1 2 1 0 1 2 1-8 1 3 1 3 1 1 1-1 1 3 1-4 1 1 1 8 1-12 1-1 1 1 1 4 1-2 1 0 1-4 1-2 1 11 1-2 1-5 1 0 1 3 1-1 1 0 1-2 1-1 1 0 1-1 1-1 1 5 1-6 1 6 1-2 1 1 1 5 1-4 1-8 1 11 1-4 1 4 1-2 1 0 1 7 1-6 1-1 1 0 1-1 1 0 1-4 1 5 1-1 1 6 1-4 1-3 1 2 1 0 1 1 1-6 1 2 1 1 1 4 1-5 1 0 1 0 1-1 1-2 1 1 1-1 1 1 1-1 1 1 1-2 1 8 1-10 1 4 1 5 1-4 1-3 1 3 1-2 1 3 1-2 1-2 1 3 1-2 1 4 1 1 1-7 1-1 1 7 1 1 1-8 1 1 1-5 1 4 1 3 1 0 1 0 1 2 1 4 1-12 1 7 1-3 1 1 1-3 1-2 1 7 1-3 1 3 1 3 1-1 1-2 1 0 1 0 1 1 1 3 1-9 1 10 1-9 1 3 1-1 1 0 1 4 1 5 1-7 1-7 1 2 1 3 1-1 1 1 1-2 1 2 1-2 1 2 1-1 1 3 1 0 1-9 1 2 1-3 1 3 1-1 1-8 1 8 1 3 1-2 1-3 1-1 1-2 1 2 1-1 1 3 1 1 1-4 1-5 1 7 1 2 1-3 1 3 1-7 1-5 1 1 1 2 1-1 1 1 1-3 1 5 1-6 1 0 1-1 1-4 1 5 1 0 1-6 1-3 1 7 1-4 1-2 1-2 1-3 1 4 1 0 1-8 1 3 1 1 1-8 1 5 1-8 1 2 1-1 1-5 1 1 1 43 1 65 1 0 1 7 1 5 1-6 1 7 1 5 1-7 1 3 1-1 1 0 1 4 1 3 1-6 1-4 1 8 1-9 1-1 1-1 1-1 1-2 1 2 1-42 1-25 1-12 1-11 1 15 1-4 1-19 1 21 1-16 1 31 1-21 1-1 1-1 1 27 1-14 1-5 1-1 1-2 1 4 1-4 1-4 1 10 1 0 1-6 1 13 1 1 1-5 1-10 1 21 1-24 1-1 1 15 1-2 1-10 1 2 1 4 1 3 1-1 1 10 1-15 1-13 1 23 1-1 1-1 1-8 1 4 1-6 1 9 1-3 1 9 1-7 1-3 1-3 1 13 1 2 1-7 1 4 1-14 1 11 1-7 1 6 1-5 1 4 1-6 1 4 1 4 1-9 1-6 1 14 1-8 1-2 1-6 1 9 1-3 1-3 1-1 1 0 1 7 1-11 1 7 1 5 1 0 1-2 1 1 1-3 1 2 1-3 1-4 1 9 1 2 1-1 1-3 1-3 1-1 1 0 1 8 1-11 1 3 1 1 1-4 1 5 1 4 1-11 1 1 1 3 1-2 1 2 1 1 1-8 1 4 1 0 1-3 1 7 1 3 1-3 1-5 1 2 1 9 1-3 1-2 1-7 1 7 1-3 1-4 1 6 1 5 1-19 1 13 1 3 1 2 1-9 1 2 1-3 1 2 1-1 1-1 1 1 1-8 1 11 1-17 1 18 1-11 1 4 1-8 1-1 1 3 1 1 1-8 1 6 1 3 1 1 1-4 1 2 1 0 1 0 1 1 1-8 1 3 1 8 1-5 1 6 1-8 1 5 1 0 1-3 1-4 1 8 1-9 1 2 1 4 1 2 1-1 1-1 1-7 1 6 1-5 1 10 1-14 1 9 1 0 1-2 1 2 1-4 1-1 1 8 1-3 1-4 1 4 1-3 1-4 1 3 1 5 1-1 1-3 1 3 1 0 1-4 1 6 1-9 1 11 1 1 1-10 1 5 1-3 1 2 1-1 1 12 1-17 1 3 1-4 1-3 1 12 1-6 1 5 1-5 1-7 1 1 1 1 1 2 1 6 1-6 1 2 1-7 1 11 1-6 1-4 1 13 1-11 1 3 1-4 1 9 1-13 1 8 1-6 1 8 1 7 1-3 1-5 1 1 1 7 1-17 1 7 1-2 1 2 1 2 1 3 1-7 1 3 1-2 1 1 1 4 1 1 1-3 1-5 1 6 1-5 1-2 1 5 1-4 1 8 1-3 1 5 1-1 1-6 1-1 1 4 1 1 1 1 1-3 1 1 1-5 1 16 1-2 1-6 1-10 1 3 1 5 1-2 1-3 1 1 1-1 1-3 1 3 1-1 1-2 1 0 1 2 1 5 1-3 1-10 1 6 1-4 1 9 1-12 1 7 1 2 1-3 1 4 1-8 1 6 1-1 1 8 1-2 1-8 1 1 1-1 1 6"/><path d="M0 8156l1 18 1 1 1 4 1-5 1-1 1 10 1-2 1-2 1-3 1 0 1 8 1-7 1 0 1 5 1-7 1 4 1-1 1 1 1-3 1 12 1-4 1 0 1-3 1 2 1-6 1 4 1 1 1-1 1-3 1 0 1-4 1 9 1-1 1-2 1 1 1-3 1 1 1-4 1 3 1-2 1-1 1 3 1-3 1-3 1-3 1 10 1-4 1 0 1 1 1-2 1 4 1-1 1 0 1 0 1-5 1 4 1 5 1-4 1-2 1 1 1 2 1 1 1 4 1-7 1 3 1 1 1 4 1-7 1 3 1 0 1-4 1 4 1 1 1-1 1 2 1 0 1-4 1 1 1-1 1 4 1-8 1 1 1 0 1 4 1-9 1 8 1-1 1-4 1-1 1 3 1-1 1-3 1 3 1 5 1-5 1-4 1-2 1 4 1 3 1-1 1-5 1 7 1 1 1-3 1 7 1-5 1-1 1 2 1-1 1 1 1-5 1 8 1-4 1 0 1 4 1-5 1 6 1-9 1 3 1 0 1 0 1-1 1 4 1 2 1-6 1 9 1-7 1 4 1-5 1 3 1 5 1-7 1 4 1-3 1 2 1-9 1 8 1-8 1 3 1 6 1-2 1-1 1 2 1-3 1-2 1 5 1-5 1 3 1 1 1 3 1-6 1 0 1 8 1-4 1-5 1 8 1-8 1 1 1 2 1 7 1-6 1 3 1 0 1-1 1 6 1-8 1 0 1-8 1 8 1 7 1-11 1 7 1-3 1 1 1-8 1 4 1 0 1 5 1-3 1-3 1 7 1-3 1-1 1-2 1 3 1-6 1 9 1-7 1 6 1-5 1 9 1-8 1 3 1-4 1 7 1-7 1 8 1 3 1-7 1 7 1-14 1 5 1 4 1-1 1 1 1-3 1 7 1-4 1-3 1 3 1-1 1 3 1-8 1 5 1-8 1-4 1 8 1-1 1-5 1 1 1 4 1-1 1-1 1 2 1-4 1 6 1-6 1 2 1-1 1 0 1-3 1 5 1-2 1-3 1 8 1-1 1-2 1-2 1-3 1 9 1 0 1-2 1 0 1 2 1-1 1 0 1-5 1 4 1-1 1 4 1 1 1-7 1-2 1 6 1 2 1-5 1-2 1-2 1-1 1 1 1 1 1 1 1-1 1 4 1 0 1-12 1 9 1-3 1 1 1 3 1 3 1 0 1-5 1 1 1 0 1-2 1 6 1-5 1 0 1-2 1 5 1 2 1-1 1 4 1-3 1 0 1-1 1 1 1-3 1 4 1-1 1-9 1 10 1-4 1 2 1-3 1 2 1-1 1 1 1 4 1-8 1-3 1 2 1 2 1-5 1 2 1 7 1 0 1-5 1-1 1-1 1 2 1-2 1 2 1 3 1 0 1-6 1 5 1-1 1 0 1 0 1-2 1 4 1-7 1 6 1 3 1 1 1-5 1-1 1 4 1-3 1-4 1 3 1 0 1 3 1 3 1-4 1 3 1 0 1 1 1 1 1-3 1-6 1 2 1-1 1-4 1 6 1-5 1 1 1 1 1-2 1 3 1-5 1 6 1-5 1-2 1 3 1 2 1-6 1 3 1 1 1-6 1 8 1 1 1-11 1 6 1 2 1-4 1 2 1-1 1 3 1 2 1-5 1 6 1 1 1-4 1-2 1 5 1-4 1 3 1-3 1-6 1 3 1-4 1 0 1-5 1 8 1-2 1-4 1 5 1 0 1-1 1-2 1 1 1-4 1 5 1-5 1-6 1 3 1 7 1-7 1 0 1-4 1 0 1 4 1-4 1 2 1 2 1-2 1-1 1 0 1 0 1 2 1-8 1-2 1 3 1-1 1-1 1 1 1 0 1-5 1-3 1 1 1 1 1-7 1-4 1 2 1-10 1 5 1-4 1-3 1 65 1 41 1 20 1 25 1 24 1 26 1 21 1 21 1 6 1 1 1 1 1 7 1-4 1 4 1-1 1-8 1 2 1 8 1-5 1 1 1-64 1-48 1 23 1 8 1 14 1-18 1 31 1-65 1 32 1 28 1 7 1 22 1-48 1-3 1-14 1 16 1-15 1 33 1-27 1 19 1 12 1-16 1-11 1 26 1-9 1 8 1 0 1-20 1 3 1-5 1 15 1-9 1-7 1-2 1-5 1 7 1-1 1-13 1 6 1 11 1-5 1 10 1-4 1 1 1-7 1 4 1-7 1 9 1 6 1-14 1 2 1 7 1-9 1 14 1-5 1 2 1-2 1-2 1 1 1 0 1 5 1-2 1-6 1 8 1 2 1-13 1 9 1-1 1-4 1-11 1 17 1-12 1 0 1 4 1 3 1-10 1 5 1-2 1 2 1 3 1 8 1-10 1-6 1 2 1 2 1 3 1-3 1 6 1-2 1-9 1 10 1 0 1-1 1-4 1 7 1-5 1-6 1 5 1-7 1 8 1 0 1-5 1 9 1-1 1-6 1 3 1 1 1-3 1-2 1 5 1-3 1 2 1-7 1 6 1-9 1 12 1-5 1-9 1 3 1 9 1-7 1 9 1-7 1-7 1 7 1-6 1 8 1-5 1-1 1 6 1-11 1 2 1 8 1-3 1-11 1 7 1 8 1-12 1 9 1 0 1 2 1-8 1 4 1 0 1 7 1-5 1-9 1 13 1-15 1 5 1 2 1-1 1-5 1 4 1-2 1-3 1 9 1-7 1 7 1-5 1-6 1 6 1-2 1-2 1 9 1-5 1-8 1-2 1 8 1 2 1-10 1 5 1-1 1-1 1 6 1-7 1 7 1 5 1-10 1 0 1 2 1 8 1-13 1 4 1 2 1 0 1 3 1-5 1 2 1-5 1 7 1-4 1 1 1 5 1-1 1-6 1 1 1 5 1 2 1-2 1 1 1-11 1 1 1 2 1-9 1 5 1 2 1 4 1 0 1-8 1 0 1-4 1 7 1 4 1-3 1-6 1 9 1-5 1 2 1 0 1 8 1-5 1-3 1-5 1 3 1 9 1-8 1 1 1 3 1-3 1 1 1 10 1-12 1-1 1 7 1 2 1-12 1 11 1-3 1-14 1 6 1 4 1 1 1-2 1 4 1-4 1-1 1 1 1-5 1 8 1-2 1-4 1 5 1-3 1 1 1 0 1-4 1 3 1 0 1 6 1-2 1 2 1-7 1 7 1-5 1 2 1-2 1 2 1 1 1 4 1-10 1 4 1 2 1 2 1 0 1-10 1 9 1 2 1-7 1 2 1 7 1-12 1 2 1 6 1-6 1 5 1 5 1-9 1 4 1-4 1-1 1-2 1-6 1 5 1 6 1-3 1-3 1 11 1-5 1 1 1-9 1 8 1 1 1-6 1-6 1 8 1-2 1-1"/><path d="M0 8285l1 29 1-3 1-2 1-4 1-2 1 2 1-2 1 2 1 0 1-2 1 4 1-3 1 2 1-1 1 3 1 2 1 0 1-8 1 6 1-3 1 4 1-3 1 0 1 3 1-1 1 1 1-3 1 4 1-5 1 1 1-1 1-2 1-2 1 3 1 4 1-4 1 3 1 1 1-4 1-2 1 2 1-2 1-3 1 9 1-1 1-5 1 1 1 2 1 0 1-2 1 0 1 1 1 2 1-1 1 1 1 1 1 2 1 2 1 0 1-2 1 3 1-1 1-2 1-12 1 5 1 6 1 1 1-2 1-2 1 0 1-1 1-1 1-1 1 10 1-6 1-1 1-1 1 1 1 7 1-11 1 2 1 3 1 2 1-3 1 3 1-2 1 3 1-5 1-1 1 9 1-5 1 5 1-8 1 0 1-1 1 9 1-5 1 2 1-3 1-5 1 3 1 2 1 1 1-7 1-3 1 0 1 6 1 4 1 1 1-4 1-2 1 3 1 1 1-2 1-1 1 6 1-3 1 0 1-1 1 6 1 0 1-6 1 1 1 4 1-6 1 4 1 0 1-5 1-4 1 3 1-6 1 10 1-3 1 0 1 0 1 2 1-7 1 2 1 2 1-1 1-1 1 5 1-1 1-2 1 2 1 1 1 0 1-1 1-2 1 6 1-2 1 3 1-3 1-2 1 1 1 3 1-1 1 2 1-4 1-1 1 4 1-8 1 8 1 0 1-3 1 4 1-11 1 6 1 3 1-5 1-1 1-1 1 4 1-5 1 2 1 1 1-2 1 3 1-1 1 0 1 1 1-2 1 0 1 3 1 4 1-6 1 1 1 3 1-5 1 1 1 5 1-6 1 2 1 1 1-2 1-4 1-1 1 9 1-13 1 8 1-2 1 1 1-2 1 7 1-4 1 5 1-3 1-4 1 3 1 4 1-1 1-2 1-3 1 1 1 4 1 0 1 2 1-1 1-4 1-1 1 2 1-3 1 6 1-4 1 0 1 0 1-1 1 1 1 1 1-4 1-5 1 4 1 7 1-4 1-2 1-2 1 10 1-4 1 1 1-1 1 0 1-3 1 5 1 1 1-4 1 7 1-11 1 4 1 2 1 6 1-8 1-3 1 6 1-5 1 8 1-6 1-3 1 7 1-6 1 3 1 0 1 0 1-5 1 3 1-2 1 4 1-4 1-5 1 14 1-9 1 0 1-2 1 4 1-4 1 0 1 1 1 1 1 5 1-6 1 1 1-4 1 4 1 2 1 1 1-4 1 1 1 1 1 2 1-4 1 2 1-3 1-2 1 3 1 0 1-5 1 1 1 3 1 4 1-4 1-7 1 8 1-5 1 5 1-4 1 4 1-3 1 2 1 2 1-4 1-1 1 1 1 6 1 1 1 0 1-7 1 4 1-4 1 3 1 3 1-3 1 4 1 1 1-13 1 1 1 1 1 4 1-2 1 3 1 0 1 1 1-5 1 2 1-2 1 1 1 0 1 1 1 1 1-7 1 10 1-1 1-3 1 0 1 0 1-2 1 2 1-1 1 1 1-1 1 3 1 0 1 0 1-4 1-2 1 2 1-4 1 4 1-1 1-3 1 6 1 2 1-9 1 2 1-2 1 1 1-3 1 6 1 0 1-3 1 0 1-1 1-4 1 3 1 4 1-8 1 3 1 1 1 0 1 6 1-6 1 2 1-5 1 8 1-1 1 0 1-4 1 0 1 1 1-4 1 3 1 2 1-5 1 5 1-5 1 3 1-2 1-2 1-4 1 9 1-4 1-6 1 3 1 1 1-4 1 0 1 5 1-7 1 6 1-2 1 1 1-1 1-6 1 4 1 0 1-1 1-1 1-2 1-7 1 6 1-3 1 2 1-8 1 0 1-1 1-3 1 8 1-6 1-10 1 9 1-12 1 9 1-11 1-4 1 2 1-1 1 23 1 27 1 23 1 21 1 24 1 15 1 8 1 2 1 2 1 2 1 0 1-3 1 4 1 0 1 1 1-2 1-8 1-52 1-57 1 19 1-2 1-7 1-1 1-1 1-14 1 1 1 13 1 9 1-17 1 11 1-2 1 4 1-2 1-3 1 16 1-14 1 3 1 9 1-14 1 12 1-2 1-11 1 0 1 20 1-14 1 6 1 1 1 4 1-7 1 1 1-9 1 12 1-4 1-1 1-2 1 3 1-6 1-1 1 5 1-9 1 13 1-11 1 13 1-12 1 8 1 5 1-3 1-3 1 5 1-7 1-3 1 5 1-12 1 19 1-9 1 11 1-5 1-4 1 3 1-3 1 8 1-5 1-2 1-1 1 3 1-2 1-4 1 10 1 0 1-6 1 1 1-3 1 2 1 3 1-10 1 2 1 0 1 0 1 3 1-9 1 9 1 5 1-6 1-3 1-2 1 2 1 9 1-11 1 5 1-2 1 1 1 4 1-12 1 8 1 2 1-13 1 12 1-3 1-2 1-4 1-5 1 5 1 0 1 2 1 3 1 1 1-7 1 6 1-9 1 10 1-9 1 5 1-2 1 6 1-12 1 5 1-3 1 9 1 3 1-8 1-1 1 1 1 0 1 5 1-1 1 5 1-7 1-8 1 9 1-14 1 10 1 3 1-3 1 2 1-5 1-2 1 1 1 6 1-6 1 5 1-6 1 6 1-7 1 8 1 1 1-10 1 9 1-5 1-4 1-1 1 5 1-2 1 2 1 5 1-3 1-1 1-8 1 2 1 11 1-6 1-1 1-1 1 1 1 3 1-1 1-11 1-5 1 10 1-3 1-2 1 3 1-3 1 0 1-1 1-4 1 6 1 4 1-6 1-2 1 12 1-7 1-7 1 5 1-2 1 5 1-1 1 6 1-13 1 12 1-7 1 3 1-9 1 7 1-4 1 4 1-2 1 2 1 7 1-15 1 2 1 7 1 0 1-3 1 4 1-1 1-2 1-1 1-3 1 9 1-7 1 2 1-4 1-8 1 7 1 12 1-7 1 1 1 1 1-1 1 0 1-4 1 4 1 5 1-3 1 0 1-4 1-4 1 5 1 0 1-5 1 6 1-1 1 4 1 0 1-15 1 7 1 1 1 4 1-6 1 1 1 6 1-4 1-5 1 9 1-9 1 7 1 1 1-6 1 4 1 2 1-5 1-1 1 12 1-12 1 7 1-6 1 3 1-2 1-1 1 5 1-12 1 1 1 5 1 9 1-5 1-5 1-3 1 5 1-5 1-3 1 8 1 5 1-7 1 0 1 2 1-1 1-2 1 7 1 2 1-1 1-2 1-11 1 3 1 7 1-3 1 3 1 2 1-7 1 4 1 2 1-6 1 4 1-5 1-7 1 17 1-8 1-2 1-5 1 7 1 1 1 4 1-4 1-4 1 1 1 1"/><path d="M0 8423l1 4 1-1 1 3 1-2 1 5 1 3 1-7 1 6 1-1 1-3 1 3 1 2 1-3 1 2 1-7 1 3 1-5 1 3 1 6 1-5 1 1 1-5 1 7 1 1 1-7 1 1 1 6 1-9 1 2 1 1 1-2 1 0 1 2 1 0 1 7 1-5 1 1 1-4 1 2 1 1 1 0 1 5 1-3 1 0 1 0 1-5 1-2 1 12 1-6 1 1 1 0 1 2 1-6 1 4 1 2 1-5 1 4 1-3 1 4 1-3 1-2 1 3 1 0 1-6 1 3 1 3 1 1 1-3 1 0 1 0 1 1 1-4 1 2 1-1 1 3 1-2 1 5 1-8 1 6 1-3 1 3 1-3 1 3 1-5 1 5 1-2 1-3 1 5 1 3 1-8 1 10 1-3 1-6 1 3 1 5 1-3 1-2 1 1 1 2 1-1 1-2 1 4 1-4 1 2 1-8 1 6 1-1 1 4 1-2 1-3 1 0 1-3 1 4 1-3 1-2 1 3 1 0 1 1 1-4 1 6 1-3 1-2 1 2 1 5 1 0 1-3 1 4 1-6 1 2 1-3 1 7 1-1 1-1 1 3 1-3 1 2 1 4 1-3 1-2 1 3 1-3 1-4 1 6 1-5 1 1 1-3 1 4 1 5 1-5 1 1 1 2 1-6 1 5 1-4 1-7 1 12 1-5 1 3 1-3 1 5 1-4 1 0 1 0 1-3 1-2 1 3 1 0 1-4 1 6 1-8 1 6 1 7 1-5 1-1 1 1 1-3 1 6 1-1 1 1 1-7 1 2 1 3 1 4 1-8 1 1 1 1 1 5 1-5 1-3 1-1 1 0 1 3 1 0 1-2 1 3 1 0 1-8 1 7 1-4 1 2 1 2 1 0 1-1 1 0 1-1 1-3 1 1 1-1 1 4 1-2 1 4 1-2 1-4 1 9 1-2 1 1 1-2 1-3 1 2 1-1 1 0 1-6 1 4 1 6 1-6 1 5 1-7 1-2 1 4 1 1 1-1 1 2 1-2 1 0 1 1 1 1 1-5 1 2 1 0 1 7 1-9 1 7 1-4 1 3 1-5 1 3 1-4 1 2 1-3 1-1 1 7 1-7 1 3 1 3 1-7 1 2 1 6 1-5 1 2 1 2 1 0 1-7 1-2 1 8 1-4 1 6 1-3 1-4 1-3 1 4 1 3 1-2 1 5 1-3 1 0 1-4 1 0 1 2 1-2 1 0 1 1 1-1 1 4 1-8 1 5 1-2 1 0 1 3 1-7 1 3 1 1 1 1 1 2 1-3 1 3 1 0 1-2 1-2 1 1 1-3 1 4 1-6 1 7 1-1 1 4 1-4 1-2 1 2 1 1 1-7 1 6 1 2 1-1 1-3 1-1 1 2 1-1 1 3 1-7 1 9 1-5 1 1 1 0 1-4 1-2 1 6 1 2 1-4 1-2 1-1 1 0 1-3 1 6 1-3 1 0 1 0 1-2 1 0 1 1 1 4 1 0 1-4 1-5 1 6 1 3 1 0 1-3 1 1 1-1 1 1 1-1 1 4 1-3 1 0 1-1 1-1 1-7 1 6 1 0 1 1 1 0 1 2 1-4 1 4 1-5 1-4 1 7 1-6 1 0 1 2 1 3 1-1 1-6 1 1 1 7 1-8 1 5 1-12 1 10 1 1 1-4 1 4 1-5 1-1 1 5 1-2 1-4 1 1 1 4 1-5 1-4 1 5 1-4 1 2 1 2 1-2 1 4 1-6 1 1 1 1 1-7 1 4 1-6 1 3 1 3 1-5 1 1 1-3 1-6 1 4 1-3 1-2 1 4 1-7 1-2 1 5 1-7 1-1 1 3 1-7 1-4 1 3 1-5 1 7 1-11 1 4 1-5 1-3 1-4 1-1 1-1 1-7 1 0 1-3 1-2 1-10 1 1 1 9 1 21 1 42 1 41 1 42 1 45 1 41 1 43 1 44 1 24 1 5 1 1 1-34 1-89 1-17 1 15 1-42 1 12 1-24 1 45 1-36 1 21 1 2 1 6 1 6 1 11 1-15 1 3 1-2 1 9 1-21 1 20 1-8 1-5 1 0 1 10 1 11 1-12 1 1 1 3 1-2 1-5 1-1 1 3 1 2 1-18 1 11 1 11 1-5 1 3 1-12 1-1 1 1 1 11 1-13 1 9 1-5 1-1 1 0 1-4 1 8 1-2 1-2 1-1 1-2 1 4 1-11 1 17 1 1 1-12 1 7 1 1 1-5 1 0 1 1 1 4 1 2 1-6 1-2 1 5 1 4 1-9 1 6 1-1 1 0 1-2 1-7 1 12 1-1 1-4 1 3 1 1 1-5 1-2 1 8 1-1 1-4 1 8 1-12 1 5 1-1 1 1 1 0 1-4 1 1 1 3 1-3 1 2 1-11 1 10 1 0 1 6 1-1 1-12 1 6 1 4 1-11 1 3 1 5 1-3 1 7 1-3 1-7 1 4 1 1 1 4 1-9 1 5 1-2 1 2 1-3 1 0 1-6 1 14 1-8 1-3 1 5 1-11 1 0 1 10 1 5 1-6 1-5 1-1 1-1 1 3 1-4 1-3 1 5 1 1 1-2 1 5 1-2 1-4 1-3 1 10 1-1 1-6 1 3 1-2 1 6 1-9 1 6 1-12 1 8 1 0 1 2 1 2 1-13 1 3 1 8 1-5 1 3 1-2 1 7 1-3 1-4 1 11 1-7 1 3 1-6 1 2 1-3 1-6 1 9 1-3 1-4 1 2 1 3 1-9 1 10 1 2 1-9 1 2 1-1 1 2 1 2 1-2 1 0 1 1 1-2 1-2 1 2 1-2 1-2 1-6 1 11 1-5 1 4 1 2 1-5 1 2 1 4 1-6 1-2 1 3 1 1 1-5 1 6 1-7 1 1 1-5 1 4 1-3 1 0 1 4 1 1 1-4 1 7 1-10 1 4 1-3 1 3 1-1 1-3 1 5 1-1 1 1 1-8 1-2 1 10 1-2 1 2 1-7 1 4 1 4 1-12 1 9 1 0 1 1 1 1 1 4 1-5 1-5 1 11 1-2 1 0 1-3 1 7 1-10 1-2 1 5 1 1 1-2 1 3 1 0 1-3 1-7 1 4 1 7 1 1 1-6 1 1 1-5 1 2 1-1 1 2 1 0 1-6 1 2 1 12 1-8 1-6 1 0 1 3 1 3 1-4 1 8 1-5 1 7 1-6 1 1 1-3 1-1 1 9 1-11 1 8 1-7 1 4 1 0 1-3 1 7 1-3 1 6 1-8 1-4 1 0 1 11 1-3 1-2 1-6 1 7 1 0 1-9 1-1 1 7 1-4 1 1 1-2 1 5 1-1 1 0"/></g></g><line x1="683.6" y1="333" x2="683.6" y2="378.7" stroke="#fff" stroke-width="3.3"/><rect x="697.6" y="342.6" width="99" height="28.6" fill="#fff"/><text x="698.6" y="366.2" font-size="25.5" fill="#000" stroke="#000" stroke-width="0.25">0.2 MPa</text><path d="M751.4 573.3L761.3 766.5M751.4 573.3L768.9 766.5" stroke="#fff9ae" stroke-width="2.3" fill="none" stroke-linecap="butt"/><rect x="734.2" y="771.1" width="65" height="36.6" fill="#fff"/><text x="735.6" y="793.7" font-size="25.8" fill="#000" stroke="#000" stroke-width="0.2" textLength="61.4" lengthAdjust="spacingAndGlyphs"><tspan font-style="italic">C</tspan><tspan font-size="19.5" dy="8.6">p</tspan><tspan dy="-8.6" font-size="25.8"> </tspan><tspan font-style="italic">C</tspan><tspan font-size="19.5" dy="8.6">s</tspan></text><line x1="615.7" y1="862.5" x2="1563.6" y2="862.5" stroke="#262626" stroke-width="1.2"/><line x1="615.7" y1="282.7" x2="1563.6" y2="282.7" stroke="#808080" stroke-opacity="0.5" stroke-width="1"/><g font-size="29.7" fill="#262626"><text x="608.3" y="873.1" text-anchor="end">0</text><text x="608.3" y="776.4" text-anchor="end">1000</text><text x="608.3" y="679.8" text-anchor="end">2000</text><text x="608.3" y="583.1" text-anchor="end">3000</text><text x="608.3" y="486.4" text-anchor="end">4000</text><text x="608.3" y="389.8" text-anchor="end">5000</text><text x="608.3" y="293.1" text-anchor="end">6000</text><text x="615.7" y="899.2" text-anchor="middle">0</text><text x="751.1" y="899.2" text-anchor="middle">2</text><text x="886.5" y="899.2" text-anchor="middle">4</text><text x="1021.9" y="899.2" text-anchor="middle">6</text><text x="1157.4" y="899.2" text-anchor="middle">8</text><text x="1292.8" y="899.2" text-anchor="middle">10</text><text x="1428.2" y="899.2" text-anchor="middle">12</text><text x="1563.6" y="899.2" text-anchor="middle">14</text></g><text x="1088.3" y="933" text-anchor="middle" font-size="31.8" fill="#262626">Time, ms</text><text transform="translate(505.6,570.5) rotate(-90)" text-anchor="middle" font-size="29" fill="#262626">Distance along fault from western edge, mm</text><text x="1107.7" y="270" text-anchor="middle" font-size="31.1" fill="#262626" xml:space="preserve">GB01-051    SL-15</text><rect x="615.7" y="955.8" width="947.9" height="26.4" fill="url(#cbar)" stroke="#262626" stroke-width="1"/><line x1="633.3" y1="972.5" x2="633.3" y2="982" stroke="#262626" stroke-width="1"/><text x="633.3" y="1015.5" text-anchor="middle" font-size="25.9" fill="#262626">0</text><line x1="925.6" y1="972.5" x2="925.6" y2="982" stroke="#262626" stroke-width="1"/><text x="925.6" y="1015.5" text-anchor="middle" font-size="25.9" fill="#262626">50</text><line x1="1218.6" y1="972.5" x2="1218.6" y2="982" stroke="#262626" stroke-width="1"/><text x="1218.6" y="1015.5" text-anchor="middle" font-size="25.9" fill="#262626">100</text><line x1="1510.6" y1="972.5" x2="1510.6" y2="982" stroke="#262626" stroke-width="1"/><text x="1510.6" y="1015.5" text-anchor="middle" font-size="25.9" fill="#262626">150</text><text x="1089.7" y="1049.7" text-anchor="middle" font-size="29.2" fill="#262626">Local slip, <tspan font-family="'Liberation Serif',serif" font-style="italic" font-size="31">μ</tspan>m</text></svg>
<div id="caption" class="abs"><span style="margin-right:3.5px">(</span>北側ひずみデータのみプロット<span style="margin-left:0.5px">)</span></div>
<div id="bullets" class="abs">
<span class="b" style="top:21.5px"></span><span class="b" style="top:76.5px"></span>
<div class="bl">断層東端から西端への一方向の断層破壊</div>
<div class="bl">有限要素法の予測と調和的</div>
</div>
<svg width="1800" height="1312" viewBox="0 0 1800 1312"><path d="M43.9 1237.9 L73.2 1230.9 L73.2 1254.2 C69.0 1245.8 60.7 1240.2 43.9 1243.9 Z" fill="#3a7bc8"/><path d="M74.2 1238.3 L103.9 1230.9 L103.9 1235.6 C93.2 1245.8 83.9 1258.8 78.8 1270.0 C77.0 1263.4 75.1 1257.9 74.2 1253.2 Z" fill="#d94c2c"/><path d="M43.9 1262.5 C50.5 1255.1 60.7 1255.1 66.3 1263.4 C70.9 1270.0 73.2 1277.4 73.7 1283.0 L44.9 1291.3 Z" fill="#808285"/><path d="M103.9 1242.1 L103.4 1285.8 L81.1 1291.3 C84.9 1273.7 93.2 1255.1 103.9 1242.1 Z" fill="#808285"/><g fill="#3e3a39"><text x="43.5" y="1218" font-size="23.2" font-weight="bold" stroke="#3e3a39" stroke-width="0.7" stroke-linejoin="round" textLength="279.3" lengthAdjust="spacingAndGlyphs">SCIENCE FOR RESILIENCE</text><text x="125" y="1287.6" font-size="46.8" font-weight="500" stroke="#3e3a39" stroke-width="1.2" stroke-linejoin="round" textLength="199" lengthAdjust="spacing">防災科研</text><text x="43.2" y="1307.8" font-size="15.6" stroke="#3e3a39" stroke-width="0.35" textLength="61.5" lengthAdjust="spacing">NIED</text></g></svg>
<div id="bar" class="abs"><i style="left:0;width:478px;background:#3a7bc8"></i><i style="left:478px;width:480px;background:#d94c2c"></i><i style="left:958px;width:478px;background:#7f7f7f"></i></div>
</body>
</html>
